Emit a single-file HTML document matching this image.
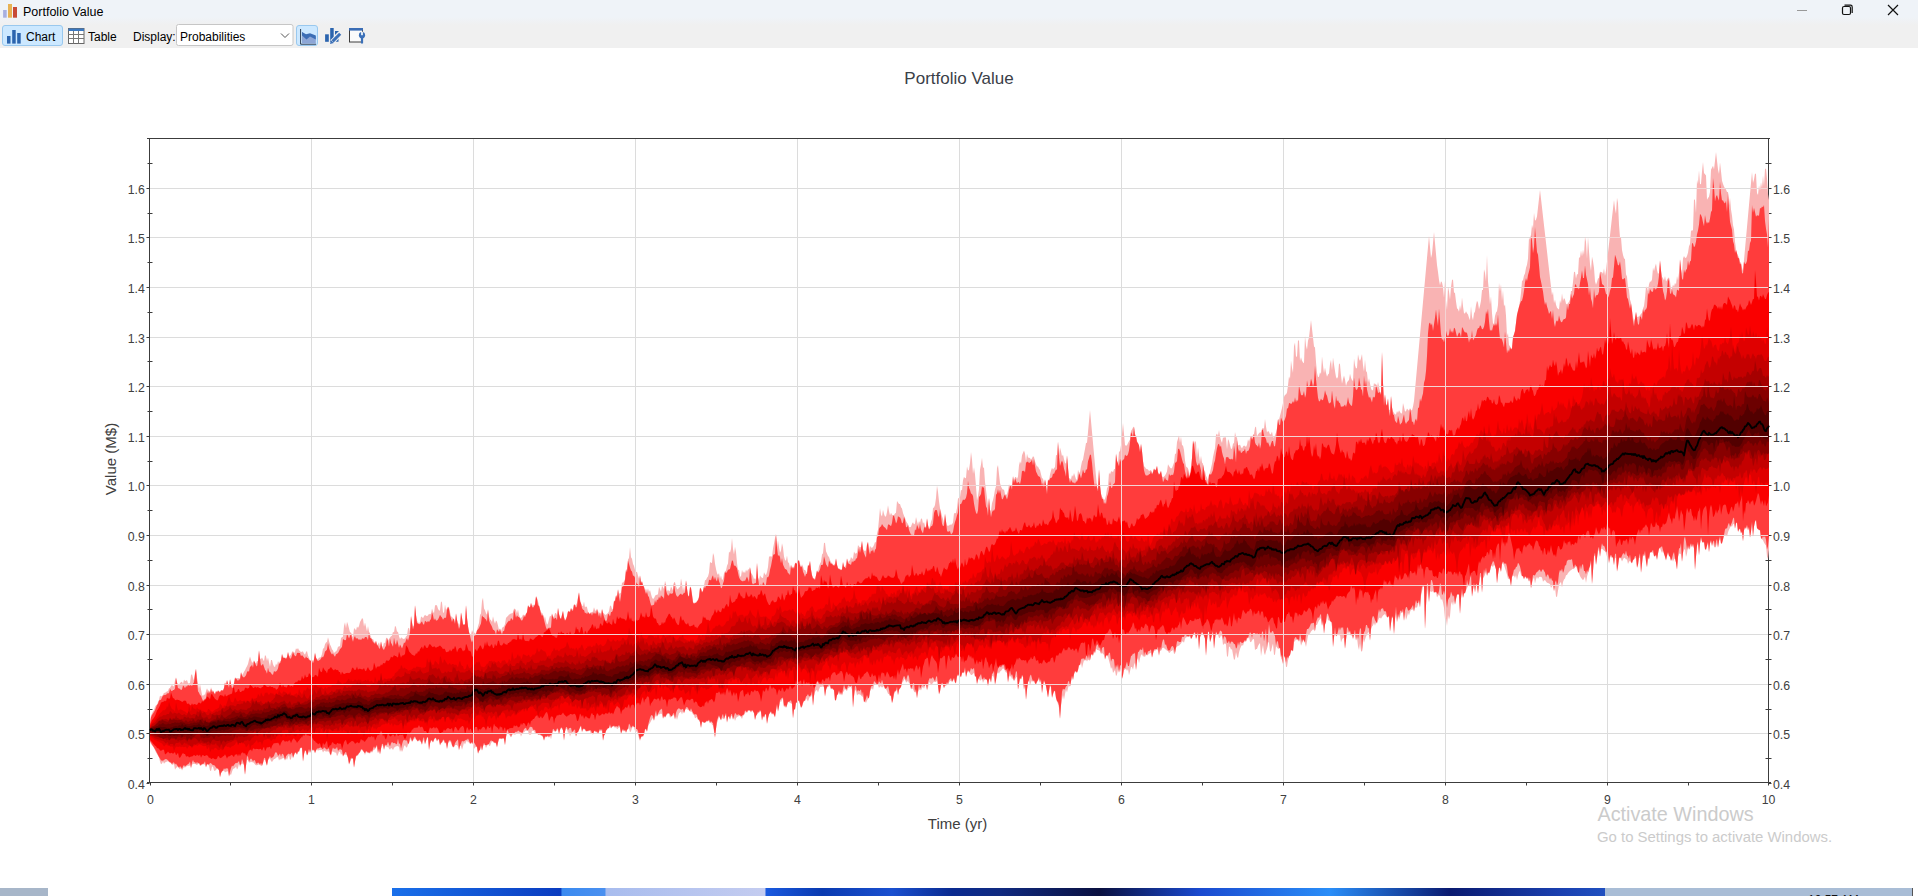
<!DOCTYPE html>
<html><head><meta charset="utf-8">
<style>
html,body{margin:0;padding:0;}
body{width:1918px;height:896px;overflow:hidden;position:relative;background:#fff;font-family:"Liberation Sans",sans-serif;}
.abs{position:absolute;}
#titlebar{left:0;top:0;width:1918px;height:48px;background:linear-gradient(to bottom,#eff3f8 0,#eff3f8 17px,#f0f0f0 25px,#f0f0f0 48px);}
#toolbar{display:none;}
.t12{font-size:12px;color:#000;white-space:nowrap;}
svg text{font-family:"Liberation Sans",sans-serif;}
</style></head>
<body>
<div id="titlebar" class="abs"></div>
<div id="toolbar" class="abs"></div>
<!-- title icon -->
<svg class="abs" style="left:0;top:0" width="24" height="22">
<rect x="3.1" y="10" width="3.6" height="7.7" fill="#a8b0e0"/>
<rect x="8" y="4" width="4" height="13.7" fill="#e8b254"/>
<rect x="13" y="7" width="4" height="10.7" fill="#c84a36"/>
</svg>
<div class="abs t12" style="left:23px;top:5px;font-size:12.5px;">Portfolio Value</div>
<!-- window controls -->
<svg class="abs" style="left:1780px;top:0" width="138" height="22">
<line x1="17" y1="10.5" x2="27" y2="10.5" stroke="#999" stroke-width="1"/>
<rect x="62.5" y="6.5" width="8" height="8" rx="1.5" fill="none" stroke="#111" stroke-width="1.2"/>
<path d="M64.5 5.2 H70.5 Q72.2 5.2 72.2 7 V13" fill="none" stroke="#111" stroke-width="1.2"/>
<path d="M108 5 L118 15 M118 5 L108 15" stroke="#111" stroke-width="1.2"/>
</svg>
<!-- toolbar -->
<div class="abs" style="left:2px;top:25px;width:59px;height:19px;background:#cce8ff;border:1px solid #99c8ee;border-radius:3px;"></div>
<svg class="abs" style="left:0;top:22px" width="380" height="26">
<rect x="7" y="14" width="3.5" height="7.6" fill="#2b64ae"/>
<rect x="12.2" y="8" width="3.5" height="13.6" fill="#2b64ae"/>
<rect x="17.2" y="11" width="3.5" height="10.6" fill="#2b64ae"/>
<rect x="68.5" y="6.5" width="15.5" height="15" fill="#fff" stroke="#666" stroke-width="1"/>
<rect x="68.5" y="6.5" width="15.5" height="2.5" fill="#3b78c0"/>
<path d="M68.5 12.5 H84 M68.5 16.5 H84 M73.5 9 V21.5 M78.5 9 V21.5" stroke="#777" stroke-width="1"/>
<!-- dropdown -->
<rect x="176.5" y="2.5" width="116.5" height="21" rx="2" fill="#fff" stroke="#c6c6c6" stroke-width="1"/>
<path d="M281 11.5 L285 15.5 L289 11.5" fill="none" stroke="#555" stroke-width="1"/>
<!-- selected icon button -->
<rect x="296.5" y="3.5" width="21" height="20" rx="2.5" fill="#cce8ff" stroke="#99c8ee" stroke-width="1"/>
<path d="M300.6 7 V22.2 H316" fill="none" stroke="#2b3b50" stroke-width="1"/>
<path d="M302 10.1 L307 14.3 L310.5 12 L315.8 14.5 V21.6 H302 Z" fill="#8da6d6"/>
<path d="M302 10.1 L306 12.3 L310 11.3 L315.8 13.5 V17.4 L310 14.5 L306.5 17.4 L302 13.5 Z" fill="#3b6db5"/>
<!-- bars+pencil -->
<rect x="325.1" y="12.3" width="3.7" height="7.5" fill="#2b64ae"/>
<rect x="330.2" y="6" width="3.5" height="13.8" fill="#2b64ae"/>
<path d="M335 9 H339 L335 13 Z" fill="#2b64ae"/>
<path d="M337 17.5 L338.5 16 V19.8 H335 Z" fill="#2b64ae"/>
<path d="M332 20 L340 12" stroke="#f0f0f0" stroke-width="5" stroke-linecap="butt"/>
<path d="M332.6 19.4 L340.2 11.8" stroke="#3b70b8" stroke-width="3" stroke-linecap="butt"/>
<path d="M330 22 L330.9 18.2 L333.8 21.1 Z" fill="#3b70b8"/>
<!-- window+wrench -->
<rect x="349.5" y="6.5" width="13" height="13.5" fill="#fbfbfb" stroke="#3c3c3c" stroke-width="1"/>
<rect x="349" y="6" width="14" height="2.6" fill="#3b6db5"/>
<circle cx="362" cy="13.2" r="3.1" fill="#3b70b8"/>
<rect x="361.1" y="9.6" width="1.8" height="3.6" fill="#eef4fb"/>
<rect x="360.9" y="15" width="2.2" height="6.6" rx="0.6" fill="#3b70b8"/>
</svg>
<div class="abs t12" style="left:26px;top:30px;font-size:12px;">Chart</div>
<div class="abs t12" style="left:88px;top:30px;font-size:12px;">Table</div>
<div class="abs t12" style="left:133px;top:30px;font-size:12px;">Display:</div>
<div class="abs t12" style="left:180px;top:30px;font-size:12px;">Probabilities</div>

<!-- chart -->
<svg class="abs" style="left:0;top:0" width="1918" height="896">
<text x="959" y="84" text-anchor="middle" font-size="17" fill="#3a4048">Portfolio Value</text>
<g stroke="#dcdcdc" stroke-width="1"><line x1="311.5" y1="138" x2="311.5" y2="782"/><line x1="473.5" y1="138" x2="473.5" y2="782"/><line x1="635.5" y1="138" x2="635.5" y2="782"/><line x1="797.5" y1="138" x2="797.5" y2="782"/><line x1="959.5" y1="138" x2="959.5" y2="782"/><line x1="1121.5" y1="138" x2="1121.5" y2="782"/><line x1="1283.5" y1="138" x2="1283.5" y2="782"/><line x1="1445.5" y1="138" x2="1445.5" y2="782"/><line x1="1607.5" y1="138" x2="1607.5" y2="782"/><line x1="149" y1="733.5" x2="1768" y2="733.5"/><line x1="149" y1="684.5" x2="1768" y2="684.5"/><line x1="149" y1="634.5" x2="1768" y2="634.5"/><line x1="149" y1="585.5" x2="1768" y2="585.5"/><line x1="149" y1="535.5" x2="1768" y2="535.5"/><line x1="149" y1="485.5" x2="1768" y2="485.5"/><line x1="149" y1="436.5" x2="1768" y2="436.5"/><line x1="149" y1="386.5" x2="1768" y2="386.5"/><line x1="149" y1="337.5" x2="1768" y2="337.5"/><line x1="149" y1="287.5" x2="1768" y2="287.5"/><line x1="149" y1="237.5" x2="1768" y2="237.5"/><line x1="149" y1="188.5" x2="1768" y2="188.5"/></g>
<g stroke="#3c3c3c" stroke-width="1" fill="none">
<line x1="147" y1="138.5" x2="1770" y2="138.5"/>
<line x1="149.5" y1="138" x2="149.5" y2="783"/>
<line x1="1768.5" y1="138" x2="1768.5" y2="783"/>
<line x1="147" y1="782.5" x2="1771" y2="782.5"/>
<line x1="146.5" y1="783.5" x2="149.5" y2="783.5"/><line x1="1768.5" y1="783.5" x2="1771.5" y2="783.5"/><line x1="146.5" y1="733.5" x2="149.5" y2="733.5"/><line x1="1768.5" y1="733.5" x2="1771.5" y2="733.5"/><line x1="146.5" y1="684.5" x2="149.5" y2="684.5"/><line x1="1768.5" y1="684.5" x2="1771.5" y2="684.5"/><line x1="146.5" y1="634.5" x2="149.5" y2="634.5"/><line x1="1768.5" y1="634.5" x2="1771.5" y2="634.5"/><line x1="146.5" y1="585.5" x2="149.5" y2="585.5"/><line x1="1768.5" y1="585.5" x2="1771.5" y2="585.5"/><line x1="146.5" y1="535.5" x2="149.5" y2="535.5"/><line x1="1768.5" y1="535.5" x2="1771.5" y2="535.5"/><line x1="146.5" y1="485.5" x2="149.5" y2="485.5"/><line x1="1768.5" y1="485.5" x2="1771.5" y2="485.5"/><line x1="146.5" y1="436.5" x2="149.5" y2="436.5"/><line x1="1768.5" y1="436.5" x2="1771.5" y2="436.5"/><line x1="146.5" y1="386.5" x2="149.5" y2="386.5"/><line x1="1768.5" y1="386.5" x2="1771.5" y2="386.5"/><line x1="146.5" y1="337.5" x2="149.5" y2="337.5"/><line x1="1768.5" y1="337.5" x2="1771.5" y2="337.5"/><line x1="146.5" y1="287.5" x2="149.5" y2="287.5"/><line x1="1768.5" y1="287.5" x2="1771.5" y2="287.5"/><line x1="146.5" y1="237.5" x2="149.5" y2="237.5"/><line x1="1768.5" y1="237.5" x2="1771.5" y2="237.5"/><line x1="146.5" y1="188.5" x2="149.5" y2="188.5"/><line x1="1768.5" y1="188.5" x2="1771.5" y2="188.5"/><line x1="147.5" y1="758.5" x2="152.5" y2="758.5"/><line x1="1765.5" y1="758.5" x2="1771.5" y2="758.5"/><line x1="147.5" y1="709.5" x2="152.5" y2="709.5"/><line x1="1765.5" y1="709.5" x2="1771.5" y2="709.5"/><line x1="147.5" y1="659.5" x2="152.5" y2="659.5"/><line x1="1765.5" y1="659.5" x2="1771.5" y2="659.5"/><line x1="147.5" y1="609.5" x2="152.5" y2="609.5"/><line x1="1765.5" y1="609.5" x2="1771.5" y2="609.5"/><line x1="147.5" y1="560.5" x2="152.5" y2="560.5"/><line x1="1765.5" y1="560.5" x2="1771.5" y2="560.5"/><line x1="147.5" y1="510.5" x2="152.5" y2="510.5"/><line x1="1765.5" y1="510.5" x2="1771.5" y2="510.5"/><line x1="147.5" y1="461.5" x2="152.5" y2="461.5"/><line x1="1765.5" y1="461.5" x2="1771.5" y2="461.5"/><line x1="147.5" y1="411.5" x2="152.5" y2="411.5"/><line x1="1765.5" y1="411.5" x2="1771.5" y2="411.5"/><line x1="147.5" y1="361.5" x2="152.5" y2="361.5"/><line x1="1765.5" y1="361.5" x2="1771.5" y2="361.5"/><line x1="147.5" y1="312.5" x2="152.5" y2="312.5"/><line x1="1765.5" y1="312.5" x2="1771.5" y2="312.5"/><line x1="147.5" y1="262.5" x2="152.5" y2="262.5"/><line x1="1765.5" y1="262.5" x2="1771.5" y2="262.5"/><line x1="147.5" y1="213.5" x2="152.5" y2="213.5"/><line x1="1765.5" y1="213.5" x2="1771.5" y2="213.5"/><line x1="147.5" y1="163.5" x2="152.5" y2="163.5"/><line x1="1765.5" y1="163.5" x2="1771.5" y2="163.5"/><line x1="150.5" y1="782" x2="150.5" y2="785.5"/><line x1="311.5" y1="782" x2="311.5" y2="785.5"/><line x1="473.5" y1="782" x2="473.5" y2="785.5"/><line x1="635.5" y1="782" x2="635.5" y2="785.5"/><line x1="797.5" y1="782" x2="797.5" y2="785.5"/><line x1="959.5" y1="782" x2="959.5" y2="785.5"/><line x1="1121.5" y1="782" x2="1121.5" y2="785.5"/><line x1="1283.5" y1="782" x2="1283.5" y2="785.5"/><line x1="1445.5" y1="782" x2="1445.5" y2="785.5"/><line x1="1607.5" y1="782" x2="1607.5" y2="785.5"/><line x1="1768.5" y1="782" x2="1768.5" y2="785.5"/><line x1="230.5" y1="782" x2="230.5" y2="785.5"/><line x1="392.5" y1="782" x2="392.5" y2="785.5"/><line x1="554.5" y1="782" x2="554.5" y2="785.5"/><line x1="716.5" y1="782" x2="716.5" y2="785.5"/><line x1="878.5" y1="782" x2="878.5" y2="785.5"/><line x1="1040.5" y1="782" x2="1040.5" y2="785.5"/><line x1="1202.5" y1="782" x2="1202.5" y2="785.5"/><line x1="1364.5" y1="782" x2="1364.5" y2="785.5"/><line x1="1526.5" y1="782" x2="1526.5" y2="785.5"/><line x1="1688.5" y1="782" x2="1688.5" y2="785.5"/>
</g>
<polygon id="pk" fill="#f9b3b3" points="150,720.9 151,715.5 152,713.6 153,711.2 154,709.9 155,706.7 156,705.3 157,704.4 158,701.9 159,700.0 160,695.4 161,696.4 162,696.0 163,695.0 164,692.7 165,693.1 166,691.9 167,691.6 168,690.9 169,688.3 170,688.1 171,685.9 172,685.0 173,685.9 174,686.5 175,679.9 176,677.2 177,682.3 178,683.8 179,684.5 180,683.3 181,682.1 182,681.7 183,683.9 184,679.4 185,681.1 186,680.8 187,680.1 188,683.2 189,683.5 190,682.8 191,675.0 192,674.3 193,678.1 194,680.6 195,673.3 196,668.4 197,677.6 198,683.5 199,688.7 200,684.1 201,689.6 202,694.7 203,696.0 204,694.6 205,694.7 206,691.0 207,688.3 208,690.5 209,690.5 210,692.7 211,687.0 212,690.7 213,690.3 214,692.2 215,693.9 216,690.7 217,691.8 218,690.1 219,691.0 220,691.8 221,690.0 222,689.9 223,690.1 224,687.7 225,682.1 226,685.2 227,679.7 228,683.3 229,686.3 230,678.7 231,683.8 232,685.4 233,685.0 234,683.1 235,677.3 236,678.1 237,677.9 238,678.2 239,678.1 240,678.4 241,671.8 242,675.1 243,673.9 244,671.8 245,670.3 246,668.1 247,666.2 248,664.0 249,659.8 250,656.4 251,659.8 252,662.8 253,662.2 254,660.3 255,662.2 256,663.6 257,660.9 258,660.9 259,649.8 260,658.4 261,659.1 262,657.6 263,659.5 264,661.2 265,655.0 266,656.2 267,660.9 268,657.6 269,662.3 270,666.9 271,659.9 272,659.9 273,664.2 274,666.6 275,666.9 276,663.6 277,665.3 278,661.0 279,662.9 280,661.3 281,660.1 282,653.6 283,656.3 284,657.5 285,657.3 286,658.2 287,656.7 288,651.6 289,655.8 290,655.8 291,654.4 292,651.9 293,651.1 294,653.5 295,651.7 296,648.3 297,649.5 298,648.1 299,650.3 300,651.1 301,652.3 302,651.4 303,651.6 304,653.5 305,654.8 306,652.0 307,651.1 308,655.6 309,657.9 310,659.9 311,660.4 312,659.4 313,662.9 314,658.9 315,652.3 316,657.2 317,659.2 318,659.3 319,657.4 320,657.8 321,656.7 322,654.0 323,648.5 324,648.3 325,644.2 326,642.6 327,642.1 328,637.2 329,641.1 330,644.6 331,646.5 332,649.3 333,650.5 334,653.3 335,651.7 336,651.4 337,650.0 338,646.7 339,646.5 340,645.9 341,637.9 342,637.3 343,636.4 344,626.0 345,622.2 346,628.2 347,621.7 348,624.6 349,628.6 350,632.2 351,632.6 352,635.4 353,637.2 354,628.3 355,628.8 356,630.4 357,626.5 358,628.0 359,626.1 360,622.0 361,620.3 362,618.2 363,618.7 364,626.8 365,622.5 366,626.7 367,631.6 368,626.0 369,631.5 370,634.6 371,636.9 372,638.9 373,639.0 374,641.2 375,642.8 376,640.4 377,644.7 378,644.1 379,642.3 380,646.2 381,641.0 382,646.3 383,646.5 384,642.5 385,643.6 386,638.3 387,637.4 388,640.7 389,638.9 390,637.5 391,636.2 392,635.7 393,631.8 394,632.5 395,625.7 396,627.1 397,631.7 398,631.8 399,636.2 400,639.3 401,637.4 402,637.8 403,639.1 404,638.8 405,638.4 406,636.4 407,635.4 408,628.4 409,627.8 410,632.1 411,615.3 412,622.3 413,626.7 414,624.9 415,604.6 416,614.7 417,620.6 418,622.6 419,622.7 420,622.4 421,616.4 422,617.1 423,618.2 424,616.3 425,614.7 426,615.7 427,615.9 428,615.5 429,613.8 430,614.6 431,613.4 432,608.6 433,611.5 434,613.3 435,605.4 436,605.0 437,605.5 438,608.7 439,610.6 440,610.4 441,601.3 442,602.5 443,612.4 444,612.8 445,604.4 446,610.1 447,608.2 448,606.4 449,607.3 450,611.9 451,616.5 452,616.7 453,618.3 454,618.6 455,623.3 456,612.8 457,619.4 458,624.1 459,623.0 460,625.6 461,612.0 462,617.5 463,623.9 464,624.5 465,623.7 466,604.6 467,617.3 468,625.8 469,631.6 470,634.9 471,634.8 472,629.9 473,632.3 474,632.3 475,633.5 476,633.4 477,630.0 478,626.3 479,623.0 480,615.0 481,613.4 482,601.1 483,597.7 484,608.5 485,610.3 486,613.2 487,614.8 488,609.1 489,616.6 490,619.3 491,620.3 492,622.1 493,616.3 494,620.7 495,623.8 496,620.4 497,621.7 498,625.4 499,629.9 500,628.2 501,631.7 502,628.1 503,627.1 504,626.5 505,623.9 506,617.9 507,616.7 508,616.1 509,614.4 510,614.3 511,613.2 512,613.5 513,612.5 514,608.6 515,609.1 516,610.0 517,613.4 518,609.6 519,614.7 520,617.7 521,617.7 522,617.1 523,614.6 524,614.9 525,615.5 526,613.5 527,612.0 528,604.8 529,606.5 530,607.0 531,602.5 532,606.0 533,604.4 534,605.6 535,603.9 536,595.8 537,598.1 538,601.2 539,605.1 540,608.8 541,612.6 542,612.8 543,614.2 544,619.2 545,616.2 546,621.0 547,624.7 548,623.3 549,619.0 550,615.7 551,616.5 552,613.3 553,616.6 554,616.7 555,613.3 556,613.0 557,615.3 558,607.5 559,613.6 560,617.2 561,618.7 562,614.4 563,610.4 564,616.8 565,620.2 566,618.6 567,615.8 568,611.0 569,610.8 570,611.7 571,607.7 572,609.6 573,609.1 574,603.9 575,604.7 576,605.0 577,602.8 578,597.3 579,591.8 580,599.1 581,603.0 582,605.6 583,606.3 584,601.6 585,607.4 586,606.2 587,607.3 588,611.4 589,613.0 590,613.6 591,611.9 592,612.4 593,611.3 594,607.3 595,610.2 596,610.9 597,608.5 598,611.1 599,613.1 600,612.2 601,614.0 602,608.6 603,612.6 604,613.5 605,614.7 606,614.8 607,613.7 608,613.1 609,611.2 610,605.8 611,605.8 612,609.0 613,608.8 614,600.3 615,600.7 616,594.9 617,596.0 618,588.8 619,593.5 620,593.5 621,592.4 622,582.6 623,582.7 624,581.2 625,578.9 626,569.3 627,569.8 628,559.6 629,558.0 630,547.0 631,557.3 632,558.7 633,564.0 634,566.0 635,569.9 636,572.0 637,571.8 638,575.8 639,578.8 640,575.0 641,582.1 642,581.0 643,584.8 644,586.5 645,590.4 646,588.6 647,591.2 648,588.2 649,592.1 650,590.1 651,594.0 652,597.5 653,598.9 654,598.2 655,595.9 656,594.8 657,595.0 658,594.1 659,586.7 660,589.1 661,591.7 662,585.7 663,587.3 664,588.9 665,580.8 666,584.3 667,591.4 668,589.5 669,591.6 670,590.6 671,586.5 672,588.3 673,590.7 674,582.2 675,582.3 676,586.2 677,588.8 678,589.4 679,587.2 680,587.4 681,578.3 682,583.7 683,591.1 684,585.7 685,591.4 686,579.7 687,588.2 688,595.0 689,596.2 690,586.5 691,587.4 692,594.3 693,601.9 694,603.2 695,602.3 696,602.3 697,600.9 698,599.6 699,595.9 700,587.5 701,588.2 702,591.8 703,590.5 704,585.8 705,580.2 706,580.1 707,577.7 708,576.5 709,572.8 710,561.9 711,562.7 712,563.1 713,553.0 714,555.8 715,563.8 716,569.1 717,573.2 718,574.9 719,572.9 720,578.8 721,575.5 722,580.1 723,578.9 724,573.2 725,571.3 726,570.6 727,565.8 728,563.5 729,551.6 730,552.8 731,549.0 732,538.0 733,549.0 734,554.5 735,546.8 736,552.0 737,563.0 738,570.3 739,569.5 740,576.4 741,576.4 742,569.7 743,572.9 744,571.2 745,573.2 746,569.6 747,571.8 748,569.2 749,569.6 750,566.8 751,572.6 752,574.3 753,576.1 754,579.2 755,578.1 756,580.0 757,562.4 758,576.9 759,580.8 760,575.2 761,576.9 762,577.8 763,578.0 764,572.2 765,574.2 766,574.9 767,572.1 768,567.0 769,556.7 770,556.2 771,556.5 772,556.5 773,548.6 774,543.5 775,538.0 776,533.8 777,547.2 778,540.5 779,547.3 780,552.8 781,550.6 782,543.2 783,547.5 784,556.6 785,559.9 786,560.7 787,555.5 788,562.4 789,562.7 790,568.2 791,564.5 792,568.5 793,566.1 794,568.4 795,562.9 796,562.4 797,563.4 798,560.4 799,559.8 800,563.5 801,566.9 802,564.2 803,566.6 804,570.1 805,569.7 806,571.5 807,573.3 808,564.5 809,565.7 810,560.5 811,569.2 812,574.8 813,577.8 814,578.1 815,578.9 816,574.9 817,570.0 818,572.2 819,566.3 820,563.8 821,561.7 822,554.5 823,553.3 824,543.0 825,542.7 826,551.3 827,553.6 828,556.1 829,557.0 830,559.9 831,562.3 832,563.0 833,564.9 834,564.4 835,563.4 836,558.0 837,564.3 838,567.9 839,568.4 840,568.8 841,569.7 842,569.0 843,561.6 844,566.3 845,566.7 846,564.3 847,558.0 848,562.4 849,560.8 850,560.4 851,557.0 852,558.4 853,558.8 854,551.5 855,553.5 856,553.4 857,552.4 858,544.9 859,546.6 860,547.2 861,546.9 862,540.4 863,548.9 864,550.3 865,551.3 866,550.0 867,544.3 868,541.5 869,550.7 870,545.7 871,547.5 872,547.7 873,547.1 874,545.1 875,542.1 876,542.4 877,533.4 878,529.8 879,519.0 880,508.0 881,514.8 882,516.6 883,509.8 884,513.9 885,516.4 886,516.6 887,512.1 888,505.2 889,511.1 890,515.6 891,512.8 892,514.8 893,515.3 894,514.9 895,513.5 896,512.7 897,500.9 898,502.6 899,503.9 900,504.1 901,507.3 902,508.4 903,513.0 904,515.8 905,517.8 906,521.0 907,522.8 908,523.9 909,527.0 910,527.2 911,526.7 912,523.8 913,522.3 914,524.4 915,523.4 916,516.9 917,521.3 918,524.4 919,521.0 920,523.0 921,518.4 922,518.7 923,523.8 924,522.1 925,525.9 926,528.0 927,517.8 928,524.8 929,528.8 930,525.9 931,521.7 932,518.9 933,507.9 934,507.6 935,505.1 936,498.0 937,485.5 938,492.0 939,501.2 940,508.3 941,512.0 942,516.0 943,518.9 944,523.6 945,513.3 946,521.2 947,525.4 948,525.8 949,525.5 950,524.6 951,524.7 952,524.2 953,522.5 954,513.3 955,513.2 956,513.1 957,507.9 958,498.4 959,498.0 960,497.3 961,489.7 962,490.5 963,480.2 964,476.7 965,478.2 966,478.1 967,466.3 968,470.7 969,469.8 970,463.0 971,452.0 972,459.4 973,474.0 974,467.2 975,474.4 976,486.5 977,500.4 978,495.9 979,489.3 980,469.7 981,464.6 982,457.8 983,467.8 984,467.6 985,481.9 986,490.1 987,497.8 988,505.7 989,497.4 990,510.0 991,510.7 992,503.2 993,500.0 994,495.4 995,489.6 996,486.3 997,468.0 998,465.0 999,474.0 1000,483.0 1001,486.5 1002,488.6 1003,489.8 1004,489.5 1005,494.0 1006,494.9 1007,494.1 1008,490.4 1009,484.2 1010,485.9 1011,485.2 1012,486.2 1013,475.7 1014,482.6 1015,476.9 1016,477.1 1017,478.9 1018,476.5 1019,465.3 1020,461.2 1021,463.7 1022,455.3 1023,452.8 1024,450.6 1025,453.4 1026,462.1 1027,453.8 1028,457.5 1029,457.8 1030,458.1 1031,459.8 1032,458.3 1033,456.2 1034,456.9 1035,461.2 1036,464.2 1037,466.5 1038,466.4 1039,468.7 1040,470.0 1041,474.3 1042,478.2 1043,478.4 1044,483.0 1045,478.9 1046,484.5 1047,491.9 1048,479.1 1049,480.4 1050,474.5 1051,470.4 1052,467.8 1053,469.6 1054,468.2 1055,467.0 1056,455.0 1057,455.2 1058,441.1 1059,455.8 1060,447.4 1061,451.2 1062,456.3 1063,454.4 1064,459.2 1065,462.7 1066,463.7 1067,455.0 1068,467.3 1069,477.9 1070,478.5 1071,479.2 1072,475.1 1073,476.7 1074,472.9 1075,476.1 1076,479.2 1077,479.7 1078,469.8 1079,472.8 1080,472.3 1081,466.2 1082,461.4 1083,459.8 1084,454.0 1085,449.1 1086,442.9 1087,442.8 1088,432.0 1089,421.0 1090,410.0 1091,421.0 1092,432.0 1093,443.0 1094,454.0 1095,465.0 1096,476.0 1097,486.6 1098,489.5 1099,468.7 1100,485.0 1101,493.5 1102,496.8 1103,498.1 1104,500.3 1105,498.7 1106,495.2 1107,488.3 1108,486.5 1109,472.6 1110,474.4 1111,471.4 1112,471.2 1113,472.2 1114,469.2 1115,468.9 1116,453.1 1117,460.3 1118,462.8 1119,451.7 1120,451.2 1121,445.0 1122,434.0 1123,423.0 1124,434.0 1125,445.0 1126,445.7 1127,445.3 1128,443.1 1129,441.3 1130,439.5 1131,431.1 1132,429.4 1133,427.4 1134,426.4 1135,434.1 1136,435.6 1137,441.1 1138,442.7 1139,445.0 1140,451.6 1141,443.3 1142,450.6 1143,460.6 1144,466.2 1145,467.1 1146,468.7 1147,468.9 1148,469.4 1149,471.0 1150,470.5 1151,470.0 1152,474.0 1153,471.7 1154,468.1 1155,469.9 1156,469.1 1157,465.4 1158,471.8 1159,474.2 1160,473.0 1161,470.4 1162,476.1 1163,477.2 1164,476.4 1165,475.6 1166,473.7 1167,471.6 1168,464.2 1169,465.9 1170,467.6 1171,468.6 1172,467.9 1173,465.3 1174,462.4 1175,453.7 1176,453.8 1177,442.1 1178,438.8 1179,435.4 1180,443.1 1181,436.5 1182,445.3 1183,445.6 1184,450.1 1185,460.6 1186,466.5 1187,467.3 1188,468.2 1189,476.7 1190,471.3 1191,467.2 1192,457.6 1193,440.1 1194,444.2 1195,440.8 1196,442.6 1197,457.4 1198,447.0 1199,455.2 1200,462.3 1201,455.8 1202,462.4 1203,463.8 1204,469.7 1205,471.3 1206,475.7 1207,477.8 1208,480.7 1209,474.5 1210,472.5 1211,468.1 1212,463.7 1213,457.0 1214,452.3 1215,448.3 1216,435.1 1217,433.4 1218,436.1 1219,430.0 1220,436.4 1221,440.4 1222,442.9 1223,437.3 1224,437.9 1225,436.8 1226,438.1 1227,449.6 1228,439.0 1229,441.0 1230,445.1 1231,449.0 1232,448.6 1233,443.8 1234,443.0 1235,432.0 1236,437.0 1237,437.5 1238,445.3 1239,445.3 1240,444.4 1241,446.9 1242,448.6 1243,446.6 1244,445.5 1245,446.0 1246,447.1 1247,444.8 1248,439.2 1249,441.7 1250,438.3 1251,435.5 1252,439.3 1253,434.7 1254,434.0 1255,427.6 1256,426.6 1257,436.5 1258,434.5 1259,433.2 1260,432.3 1261,432.4 1262,428.8 1263,427.9 1264,428.7 1265,419.1 1266,426.5 1267,432.5 1268,430.9 1269,431.7 1270,434.5 1271,433.9 1272,431.6 1273,437.3 1274,437.6 1275,435.2 1276,432.6 1277,428.0 1278,418.7 1279,420.0 1280,415.7 1281,411.9 1282,408.0 1283,402.9 1284,396.9 1285,394.7 1286,394.6 1287,392.4 1288,385.5 1289,376.3 1290,379.1 1291,360.4 1292,367.8 1293,373.1 1294,346.3 1295,342.5 1296,356.5 1297,356.7 1298,340.2 1299,340.7 1300,360.9 1301,357.2 1302,360.7 1303,362.4 1304,363.3 1305,335.9 1306,345.8 1307,349.8 1308,340.8 1309,337.6 1310,328.8 1311,320.0 1312,328.8 1313,337.6 1314,346.4 1315,347.4 1316,361.9 1317,372.8 1318,376.9 1319,376.7 1320,372.3 1321,374.0 1322,356.2 1323,365.3 1324,373.2 1325,367.4 1326,372.8 1327,376.7 1328,374.6 1329,373.5 1330,363.9 1331,359.8 1332,370.5 1333,357.4 1334,364.3 1335,371.0 1336,376.9 1337,378.7 1338,376.8 1339,363.3 1340,364.6 1341,375.6 1342,383.8 1343,378.9 1344,375.5 1345,379.6 1346,386.0 1347,382.6 1348,380.9 1349,380.0 1350,373.7 1351,377.8 1352,380.1 1353,380.9 1354,358.5 1355,365.2 1356,368.5 1357,368.0 1358,354.2 1359,359.0 1360,360.9 1361,358.2 1362,354.1 1363,365.3 1364,371.8 1365,359.5 1366,370.9 1367,372.4 1368,382.6 1369,378.3 1370,383.4 1371,388.3 1372,390.6 1373,390.1 1374,382.7 1375,384.7 1376,383.5 1377,387.9 1378,381.7 1379,386.9 1380,391.2 1381,394.4 1382,351.4 1383,382.4 1384,398.9 1385,393.9 1386,403.6 1387,405.2 1388,398.0 1389,410.1 1390,409.5 1391,395.5 1392,406.9 1393,411.3 1394,412.9 1395,414.2 1396,414.6 1397,411.1 1398,412.9 1399,410.2 1400,412.1 1401,413.6 1402,413.2 1403,402.9 1404,406.9 1405,411.6 1406,411.3 1407,408.4 1408,409.8 1409,410.7 1410,408.1 1411,410.0 1412,410.5 1413,406.4 1414,401.0 1415,390.0 1416,379.0 1417,368.0 1418,357.0 1419,346.0 1420,335.0 1421,324.0 1422,313.0 1423,302.0 1424,291.0 1425,280.0 1426,269.0 1427,258.0 1428,247.0 1429,236.0 1430,247.0 1431,258.0 1432,254.0 1433,243.0 1434,232.0 1435,243.0 1436,254.0 1437,265.0 1438,272.0 1439,280.0 1440,285.2 1441,281.2 1442,282.6 1443,287.1 1444,297.8 1445,280.8 1446,300.3 1447,310.1 1448,286.4 1449,291.4 1450,299.8 1451,287.3 1452,279.9 1453,279.4 1454,292.5 1455,293.0 1456,301.5 1457,308.3 1458,309.3 1459,311.8 1460,305.0 1461,310.2 1462,297.5 1463,306.3 1464,313.3 1465,313.6 1466,311.3 1467,313.3 1468,314.5 1469,317.7 1470,320.3 1471,306.1 1472,316.7 1473,320.3 1474,313.3 1475,311.4 1476,305.0 1477,300.8 1478,302.7 1479,309.2 1480,305.8 1481,300.8 1482,289.9 1483,289.9 1484,269.3 1485,273.1 1486,281.4 1487,255.0 1488,281.5 1489,291.5 1490,304.5 1491,296.2 1492,313.3 1493,323.8 1494,323.5 1495,316.0 1496,312.4 1497,311.2 1498,305.1 1499,282.8 1500,291.5 1501,284.3 1502,301.0 1503,289.9 1504,306.5 1505,304.2 1506,315.8 1507,335.9 1508,333.1 1509,344.9 1510,346.3 1511,348.8 1512,347.9 1513,336.9 1514,334.0 1515,330.5 1516,322.5 1517,314.5 1518,310.3 1519,306.4 1520,300.7 1521,293.1 1522,280.9 1523,280.3 1524,275.5 1525,273.4 1526,267.7 1527,264.8 1528,258.5 1529,237.4 1530,239.7 1531,234.6 1532,224.8 1533,228.5 1534,212.7 1535,220.8 1536,219.7 1537,216.4 1538,207.6 1539,198.8 1540,190.0 1541,198.8 1542,207.6 1543,216.4 1544,225.2 1545,234.0 1546,242.8 1547,251.6 1548,260.4 1549,269.2 1550,278.0 1551,286.8 1552,295.6 1553,291.6 1554,303.3 1555,299.4 1556,304.8 1557,307.7 1558,308.7 1559,309.4 1560,300.0 1561,303.5 1562,293.2 1563,301.0 1564,298.1 1565,299.5 1566,303.8 1567,304.2 1568,303.2 1569,301.7 1570,299.6 1571,291.1 1572,290.9 1573,282.0 1574,271.9 1575,271.7 1576,278.7 1577,274.1 1578,274.6 1579,257.0 1580,257.9 1581,250.5 1582,256.6 1583,249.7 1584,255.1 1585,236.7 1586,242.1 1587,259.0 1588,237.1 1589,251.5 1590,264.0 1591,270.9 1592,256.5 1593,261.3 1594,268.1 1595,281.2 1596,284.8 1597,281.9 1598,278.5 1599,278.0 1600,271.6 1601,272.2 1602,272.1 1603,274.1 1604,268.2 1605,275.9 1606,270.4 1607,261.6 1608,252.8 1609,244.0 1610,235.2 1611,226.4 1612,217.6 1613,208.8 1614,200.0 1615,208.8 1616,213.8 1617,197.8 1618,203.2 1619,224.8 1620,237.6 1621,237.5 1622,250.0 1623,254.9 1624,258.2 1625,259.3 1626,274.3 1627,276.8 1628,287.5 1629,289.7 1630,299.4 1631,302.6 1632,310.3 1633,316.9 1634,320.9 1635,318.2 1636,311.5 1637,316.9 1638,316.7 1639,316.4 1640,315.3 1641,313.8 1642,313.0 1643,308.5 1644,305.9 1645,297.9 1646,286.7 1647,287.0 1648,291.7 1649,284.2 1650,281.6 1651,281.8 1652,279.5 1653,267.5 1654,271.3 1655,266.7 1656,263.5 1657,270.0 1658,274.1 1659,272.8 1660,259.8 1661,270.1 1662,276.8 1663,278.3 1664,280.6 1665,275.9 1666,281.6 1667,280.0 1668,277.9 1669,277.5 1670,281.2 1671,289.1 1672,288.6 1673,284.6 1674,286.8 1675,282.7 1676,284.8 1677,275.9 1678,280.4 1679,272.5 1680,258.7 1681,268.6 1682,273.7 1683,258.6 1684,256.0 1685,257.8 1686,257.9 1687,255.9 1688,252.8 1689,246.3 1690,244.1 1691,230.6 1692,230.7 1693,229.9 1694,199.0 1695,200.3 1696,213.3 1697,179.8 1698,184.2 1699,170.3 1700,184.2 1701,184.0 1702,171.4 1703,162.0 1704,173.0 1705,174.2 1706,175.4 1707,199.8 1708,197.9 1709,196.7 1710,191.9 1711,169.7 1712,167.7 1713,165.7 1714,169.6 1715,160.8 1716,152.0 1717,160.8 1718,169.5 1719,174.0 1720,162.2 1721,171.3 1722,180.7 1723,184.0 1724,186.6 1725,188.4 1726,189.6 1727,191.9 1728,192.1 1729,205.4 1730,197.7 1731,209.5 1732,215.7 1733,225.0 1734,229.6 1735,241.6 1736,249.3 1737,253.0 1738,255.4 1739,257.4 1740,262.3 1741,262.6 1742,267.8 1743,271.0 1744,260.0 1745,249.0 1746,238.0 1747,227.0 1748,216.0 1749,205.0 1750,194.0 1751,183.0 1752,172.0 1753,183.0 1754,179.4 1755,173.5 1756,174.1 1757,193.0 1758,195.1 1759,185.2 1760,190.7 1761,182.3 1762,187.9 1763,175.5 1764,186.2 1765,169.1 1766,168.5 1767,178.8 1768,194.1 1769,199.9 1769,549.8 1768,559.1 1767,556.4 1766,545.6 1765,544.2 1764,542.6 1763,540.3 1762,539.2 1761,538.8 1760,530.6 1759,530.6 1758,529.3 1757,528.8 1756,520.4 1755,522.1 1754,527.0 1753,536.9 1752,522.4 1751,532.1 1750,538.1 1749,527.4 1748,530.8 1747,525.3 1746,529.4 1745,527.5 1744,530.8 1743,541.8 1742,531.8 1741,533.8 1740,529.2 1739,529.8 1738,532.3 1737,523.0 1736,523.5 1735,529.0 1734,523.7 1733,524.2 1732,526.7 1731,526.0 1730,527.7 1729,529.7 1728,532.2 1727,536.4 1726,535.3 1725,534.5 1724,535.7 1723,539.9 1722,543.7 1721,544.1 1720,537.1 1719,541.4 1718,548.0 1717,542.4 1716,546.6 1715,547.8 1714,546.4 1713,542.0 1712,546.4 1711,540.8 1710,543.9 1709,552.7 1708,542.6 1707,546.0 1706,550.2 1705,549.6 1704,542.2 1703,543.0 1702,542.0 1701,537.6 1700,544.0 1699,555.8 1698,542.0 1697,546.0 1696,557.2 1695,570.7 1694,548.8 1693,544.2 1692,547.7 1691,545.4 1690,548.7 1689,549.7 1688,546.7 1687,553.4 1686,557.1 1685,548.9 1684,549.9 1683,552.9 1682,562.3 1681,554.5 1680,553.4 1679,553.8 1678,557.3 1677,570.1 1676,563.0 1675,558.8 1674,559.0 1673,561.8 1672,558.8 1671,561.3 1670,557.1 1669,556.4 1668,552.6 1667,556.2 1666,560.7 1665,557.1 1664,554.1 1663,550.7 1662,553.1 1661,550.7 1660,548.1 1659,549.2 1658,553.9 1657,560.3 1656,555.1 1655,556.8 1654,556.3 1653,553.1 1652,552.2 1651,552.8 1650,552.8 1649,560.0 1648,557.5 1647,567.5 1646,561.9 1645,554.8 1644,556.6 1643,555.4 1642,564.1 1641,573.4 1640,558.2 1639,557.4 1638,565.2 1637,568.2 1636,558.0 1635,558.4 1634,559.5 1633,560.5 1632,563.6 1631,562.5 1630,560.7 1629,561.8 1628,563.9 1627,559.3 1626,559.6 1625,558.1 1624,557.8 1623,559.5 1622,561.4 1621,558.9 1620,557.5 1619,558.9 1618,566.5 1617,571.9 1616,557.4 1615,558.4 1614,565.6 1613,558.5 1612,557.4 1611,557.5 1610,556.9 1609,563.7 1608,555.8 1607,556.8 1606,553.1 1605,551.3 1604,550.8 1603,549.5 1602,548.7 1601,549.2 1600,557.4 1599,549.7 1598,551.5 1597,558.5 1596,565.4 1595,555.8 1594,556.5 1593,571.6 1592,584.6 1591,560.5 1590,566.6 1589,571.0 1588,573.1 1587,576.8 1586,583.0 1585,576.4 1584,578.8 1583,580.2 1582,579.0 1581,577.8 1580,576.1 1579,573.3 1578,572.3 1577,568.7 1576,566.5 1575,567.2 1574,569.1 1573,568.8 1572,569.3 1571,570.3 1570,570.8 1569,572.1 1568,572.9 1567,575.1 1566,575.2 1565,578.4 1564,579.5 1563,582.0 1562,587.4 1561,581.9 1560,583.1 1559,585.1 1558,590.5 1557,597.0 1556,596.5 1555,587.0 1554,591.5 1553,585.5 1552,586.3 1551,587.9 1550,583.9 1549,583.4 1548,583.0 1547,582.8 1546,581.6 1545,579.9 1544,580.5 1543,581.7 1542,577.6 1541,577.0 1540,576.7 1539,577.0 1538,578.9 1537,576.7 1536,579.3 1535,583.5 1534,577.2 1533,579.5 1532,583.3 1531,588.7 1530,579.9 1529,582.0 1528,577.7 1527,579.3 1526,577.7 1525,576.9 1524,579.6 1523,576.5 1522,576.5 1521,574.7 1520,570.8 1519,572.2 1518,575.5 1517,580.2 1516,574.9 1515,577.9 1514,575.4 1513,576.0 1512,577.0 1511,586.6 1510,580.0 1509,578.6 1508,578.9 1507,574.7 1506,571.2 1505,568.2 1504,565.3 1503,563.4 1502,563.9 1501,572.4 1500,568.0 1499,568.4 1498,574.9 1497,583.8 1496,569.8 1495,566.3 1494,564.7 1493,567.0 1492,566.0 1491,566.3 1490,571.2 1489,573.8 1488,572.5 1487,576.3 1486,570.5 1485,574.7 1484,576.8 1483,578.5 1482,593.3 1481,576.1 1480,578.0 1479,584.3 1478,594.2 1477,585.6 1476,584.1 1475,592.8 1474,583.0 1473,590.1 1472,597.2 1471,584.3 1470,586.7 1469,585.1 1468,586.3 1467,587.9 1466,590.6 1465,593.7 1464,593.7 1463,598.3 1462,592.2 1461,598.8 1460,614.7 1459,595.2 1458,594.5 1457,595.3 1456,599.3 1455,605.1 1454,600.2 1453,605.8 1452,601.4 1451,604.6 1450,616.1 1449,619.5 1448,615.0 1447,626.0 1446,618.6 1445,619.2 1444,607.9 1443,602.5 1442,598.8 1441,600.3 1440,596.5 1439,594.7 1438,595.8 1437,597.4 1436,592.6 1435,592.5 1434,592.9 1433,591.3 1432,591.5 1431,592.0 1430,590.9 1429,602.5 1428,595.0 1427,588.7 1426,606.1 1425,629.9 1424,586.9 1423,586.8 1422,591.4 1421,596.1 1420,607.8 1419,600.4 1418,604.8 1417,607.7 1416,607.3 1415,607.7 1414,611.8 1413,608.9 1412,610.1 1411,609.6 1410,611.9 1409,615.4 1408,612.8 1407,616.9 1406,619.9 1405,612.4 1404,621.4 1403,611.4 1402,613.2 1401,612.5 1400,616.8 1399,619.9 1398,614.6 1397,622.6 1396,612.5 1395,619.6 1394,634.8 1393,618.8 1392,616.6 1391,623.8 1390,632.0 1389,616.1 1388,617.8 1387,617.3 1386,615.9 1385,614.1 1384,614.7 1383,615.6 1382,617.0 1381,618.8 1380,617.5 1379,618.2 1378,620.7 1377,623.8 1376,622.4 1375,625.8 1374,622.8 1373,625.4 1372,626.6 1371,629.8 1370,641.0 1369,632.3 1368,632.5 1367,634.4 1366,636.5 1365,639.6 1364,642.8 1363,638.7 1362,652.0 1361,650.7 1360,643.3 1359,650.0 1358,646.2 1357,637.6 1356,640.8 1355,633.8 1354,634.5 1353,639.3 1352,634.0 1351,636.2 1350,630.9 1349,634.4 1348,631.6 1347,634.3 1346,640.0 1345,649.3 1344,638.2 1343,637.9 1342,639.6 1341,642.4 1340,635.1 1339,635.6 1338,634.5 1337,635.6 1336,636.6 1335,632.9 1334,637.5 1333,647.6 1332,627.0 1331,622.3 1330,621.2 1329,620.2 1328,620.4 1327,614.2 1326,622.7 1325,624.9 1324,634.4 1323,620.4 1322,626.3 1321,618.1 1320,619.3 1319,620.5 1318,622.5 1317,624.9 1316,625.0 1315,631.4 1314,629.9 1313,629.3 1312,630.4 1311,631.6 1310,633.5 1309,634.3 1308,635.6 1307,641.4 1306,646.9 1305,643.1 1304,641.0 1303,639.7 1302,643.3 1301,645.8 1300,639.9 1299,641.7 1298,640.2 1297,640.0 1296,639.4 1295,641.1 1294,642.1 1293,651.8 1292,650.6 1291,650.8 1290,655.6 1289,656.5 1288,660.4 1287,666.7 1286,667.0 1285,658.2 1284,657.0 1283,664.3 1282,659.9 1281,658.2 1280,648.2 1279,648.8 1278,648.7 1277,647.6 1276,646.3 1275,654.6 1274,655.0 1273,643.4 1272,647.1 1271,651.5 1270,651.3 1269,642.8 1268,642.1 1267,648.8 1266,651.3 1265,655.3 1264,652.4 1263,645.0 1262,649.9 1261,656.3 1260,643.1 1259,644.2 1258,646.1 1257,648.9 1256,649.1 1255,650.3 1254,639.3 1253,639.1 1252,640.5 1251,642.3 1250,641.8 1249,636.8 1248,638.8 1247,637.9 1246,642.0 1245,641.0 1244,642.5 1243,645.7 1242,644.9 1241,646.6 1240,649.1 1239,652.4 1238,658.2 1237,656.4 1236,652.0 1235,659.1 1234,660.1 1233,654.8 1232,649.0 1231,649.8 1230,646.9 1229,646.6 1228,656.2 1227,656.7 1226,644.6 1225,643.3 1224,643.9 1223,645.1 1222,636.8 1221,635.1 1220,637.7 1219,638.1 1218,634.6 1217,634.6 1216,631.9 1215,639.3 1214,649.4 1213,631.7 1212,635.2 1211,639.4 1210,642.5 1209,632.0 1208,632.5 1207,640.8 1206,656.4 1205,639.1 1204,636.1 1203,634.2 1202,632.0 1201,634.9 1200,637.7 1199,650.2 1198,632.7 1197,636.5 1196,639.3 1195,634.0 1194,633.3 1193,635.3 1192,638.1 1191,639.3 1190,635.4 1189,637.3 1188,636.4 1187,637.2 1186,637.2 1185,638.8 1184,642.8 1183,641.5 1182,641.5 1181,643.5 1180,644.6 1179,645.7 1178,645.8 1177,646.8 1176,648.1 1175,653.7 1174,653.8 1173,649.5 1172,651.0 1171,651.0 1170,652.6 1169,653.0 1168,651.0 1167,650.8 1166,649.6 1165,649.2 1164,647.7 1163,647.7 1162,648.2 1161,651.0 1160,650.6 1159,655.9 1158,650.5 1157,649.6 1156,649.8 1155,650.9 1154,650.4 1153,653.9 1152,658.0 1151,652.4 1150,653.6 1149,653.4 1148,655.0 1147,655.5 1146,654.8 1145,657.1 1144,656.3 1143,656.6 1142,654.3 1141,655.0 1140,658.2 1139,663.3 1138,657.9 1137,660.4 1136,670.7 1135,662.4 1134,665.0 1133,669.7 1132,667.1 1131,667.1 1130,671.3 1129,675.2 1128,669.1 1127,670.9 1126,668.8 1125,669.4 1124,670.1 1123,675.7 1122,679.1 1121,672.1 1120,668.6 1119,673.0 1118,669.0 1117,674.4 1116,676.2 1115,670.1 1114,671.6 1113,672.9 1112,667.1 1111,668.9 1110,664.3 1109,660.6 1108,656.7 1107,656.0 1106,656.3 1105,659.8 1104,655.0 1103,653.8 1102,653.1 1101,653.9 1100,651.1 1099,650.4 1098,649.9 1097,649.9 1096,648.4 1095,653.7 1094,651.1 1093,656.2 1092,654.4 1091,655.6 1090,660.6 1089,660.2 1088,659.6 1087,661.5 1086,659.7 1085,660.7 1084,660.3 1083,664.1 1082,668.2 1081,662.2 1080,665.5 1079,665.4 1078,670.5 1077,673.0 1076,672.2 1075,671.5 1074,674.5 1073,680.4 1072,676.1 1071,681.8 1070,687.0 1069,685.0 1068,687.9 1067,692.6 1066,689.4 1065,694.1 1064,699.7 1063,695.1 1062,699.6 1061,705.8 1060,719.4 1059,708.0 1058,703.9 1057,701.5 1056,698.4 1055,691.4 1054,691.6 1053,694.7 1052,698.2 1051,687.6 1050,685.3 1049,691.3 1048,698.0 1047,692.0 1046,686.3 1045,683.7 1044,680.8 1043,685.6 1042,693.7 1041,679.6 1040,683.2 1039,678.6 1038,680.7 1037,682.2 1036,684.6 1035,683.8 1034,680.5 1033,682.0 1032,680.2 1031,682.2 1030,685.3 1029,680.6 1028,682.5 1027,689.9 1026,700.4 1025,683.8 1024,690.2 1023,676.9 1022,676.7 1021,679.9 1020,678.3 1019,684.1 1018,690.1 1017,677.1 1016,677.5 1015,679.5 1014,681.3 1013,678.2 1012,679.0 1011,676.3 1010,676.5 1009,676.2 1008,682.9 1007,672.7 1006,672.6 1005,670.9 1004,668.9 1003,668.3 1002,669.5 1001,670.9 1000,671.5 999,673.7 998,672.2 997,674.2 996,680.7 995,684.9 994,678.2 993,675.6 992,676.5 991,683.0 990,678.6 989,680.1 988,686.4 987,680.5 986,679.4 985,679.8 984,680.5 983,683.1 982,679.1 981,679.9 980,680.7 979,678.7 978,680.1 977,684.6 976,676.7 975,677.0 974,673.0 973,673.8 972,675.1 971,674.9 970,673.5 969,672.4 968,670.5 967,673.5 966,677.6 965,669.1 964,673.4 963,672.7 962,673.6 961,677.5 960,676.2 959,676.2 958,675.6 957,676.7 956,683.4 955,683.1 954,678.7 953,680.9 952,682.2 951,680.6 950,681.2 949,682.0 948,685.1 947,682.8 946,686.2 945,685.4 944,688.5 943,684.9 942,683.1 941,685.7 940,691.9 939,694.7 938,685.7 937,680.8 936,682.1 935,682.1 934,681.6 933,682.7 932,684.3 931,685.3 930,682.4 929,682.5 928,687.9 927,690.4 926,684.2 925,686.0 924,688.7 923,686.7 922,688.1 921,690.5 920,689.1 919,690.2 918,692.1 917,698.6 916,692.3 915,692.6 914,691.6 913,689.1 912,688.4 911,689.4 910,684.0 909,682.9 908,681.0 907,681.7 906,682.7 905,678.6 904,680.1 903,681.8 902,683.1 901,687.6 900,688.7 899,690.1 898,695.6 897,688.9 896,691.4 895,692.0 894,694.4 893,700.1 892,703.5 891,696.1 890,696.3 889,693.9 888,693.7 887,690.9 886,689.0 885,689.0 884,686.3 883,686.6 882,687.8 881,686.2 880,686.4 879,688.1 878,684.9 877,684.8 876,684.1 875,683.4 874,685.4 873,690.0 872,687.9 871,689.3 870,691.5 869,698.3 868,698.7 867,700.6 866,703.0 865,701.5 864,702.6 863,696.8 862,696.4 861,695.2 860,694.4 859,694.2 858,694.3 857,695.6 856,690.7 855,690.0 854,696.5 853,708.2 852,689.8 851,687.1 850,687.2 849,687.6 848,688.5 847,691.1 846,690.3 845,688.0 844,690.9 843,692.1 842,695.7 841,692.3 840,695.4 839,690.8 838,694.5 837,695.5 836,700.5 835,700.8 834,690.4 833,689.8 832,688.4 831,689.6 830,686.1 829,686.5 828,687.1 827,687.6 826,690.3 825,696.9 824,687.5 823,686.4 822,686.7 821,687.0 820,687.1 819,689.5 818,692.5 817,689.9 816,690.5 815,692.1 814,696.4 813,706.3 812,694.8 811,697.1 810,696.5 809,698.7 808,701.5 807,699.7 806,697.9 805,701.3 804,701.1 803,703.4 802,706.9 801,708.1 800,704.6 799,700.8 798,701.5 797,703.2 796,702.8 795,710.1 794,709.5 793,718.8 792,704.1 791,703.5 790,702.7 789,702.6 788,702.1 787,705.5 786,708.1 785,705.4 784,707.4 783,698.6 782,699.7 781,702.3 780,700.9 779,707.2 778,711.9 777,704.9 776,711.0 775,717.7 774,715.3 773,713.3 772,714.9 771,711.9 770,713.2 769,714.8 768,718.6 767,724.3 766,714.6 765,714.9 764,718.0 763,716.0 762,721.1 761,712.4 760,710.5 759,713.1 758,713.2 757,714.8 756,716.3 755,720.4 754,713.4 753,711.9 752,710.3 751,712.7 750,710.6 749,711.0 748,710.5 747,713.1 746,711.7 745,713.3 744,715.0 743,715.9 742,719.1 741,717.0 740,716.0 739,716.1 738,716.4 737,717.1 736,718.3 735,720.9 734,717.2 733,719.9 732,715.8 731,716.5 730,719.9 729,716.3 728,717.8 727,722.9 726,715.2 725,716.3 724,719.5 723,718.3 722,718.5 721,720.5 720,718.6 719,716.6 718,720.4 717,723.0 716,729.3 715,737.9 714,731.8 713,725.4 712,724.7 711,722.0 710,723.6 709,720.1 708,721.8 707,721.2 706,722.1 705,723.1 704,723.0 703,722.4 702,722.1 701,728.3 700,722.5 699,719.9 698,720.2 697,716.8 696,717.8 695,718.2 694,714.9 693,714.4 692,712.3 691,711.6 690,711.7 689,710.5 688,709.8 687,709.5 686,708.7 685,710.6 684,713.5 683,711.2 682,714.4 681,711.6 680,712.5 679,713.3 678,716.4 677,720.1 676,716.4 675,719.7 674,715.4 673,714.9 672,716.6 671,716.8 670,717.7 669,713.8 668,713.9 667,714.4 666,716.2 665,717.9 664,716.1 663,719.1 662,714.3 661,713.5 660,714.0 659,714.6 658,714.4 657,716.9 656,715.3 655,717.2 654,721.0 653,717.8 652,719.2 651,721.0 650,723.0 649,724.3 648,727.1 647,732.0 646,729.3 645,729.8 644,734.7 643,736.9 642,736.7 641,737.6 640,741.0 639,738.3 638,734.7 637,731.9 636,731.2 635,731.1 634,727.6 633,726.5 632,728.0 631,731.3 630,732.3 629,728.6 628,729.1 627,730.3 626,733.0 625,730.1 624,731.8 623,729.6 622,731.6 621,734.2 620,727.7 619,727.3 618,728.4 617,729.2 616,726.8 615,728.5 614,726.1 613,726.9 612,726.9 611,728.8 610,725.5 609,728.6 608,728.5 607,729.9 606,731.0 605,734.6 604,736.1 603,741.2 602,729.4 601,731.7 600,729.3 599,732.2 598,734.1 597,731.9 596,732.7 595,731.0 594,731.8 593,734.7 592,733.8 591,734.1 590,730.9 589,730.8 588,731.6 587,731.3 586,731.8 585,729.7 584,729.4 583,729.4 582,732.4 581,726.1 580,727.9 579,730.3 578,732.5 577,732.9 576,737.0 575,732.3 574,733.2 573,731.6 572,733.2 571,733.6 570,736.8 569,732.3 568,733.2 567,728.9 566,728.5 565,732.1 564,740.9 563,730.8 562,728.4 561,728.2 560,730.2 559,734.6 558,729.3 557,730.7 556,731.2 555,732.0 554,730.2 553,731.6 552,735.1 551,739.3 550,735.7 549,737.9 548,735.9 547,737.2 546,737.0 545,737.7 544,740.9 543,737.3 542,735.8 541,735.9 540,734.6 539,735.1 538,734.7 537,733.5 536,733.6 535,733.2 534,731.0 533,730.9 532,730.7 531,734.7 530,734.6 529,734.8 528,730.5 527,731.0 526,730.4 525,731.3 524,732.4 523,732.4 522,734.1 521,736.7 520,733.0 519,733.7 518,734.0 517,733.6 516,734.1 515,734.8 514,734.3 513,734.2 512,735.3 511,737.6 510,735.8 509,734.5 508,732.8 507,733.6 506,737.4 505,745.6 504,739.2 503,738.5 502,739.2 501,739.1 500,738.8 499,739.1 498,742.9 497,747.7 496,743.6 495,743.2 494,743.1 493,742.1 492,741.6 491,743.3 490,746.2 489,745.4 488,744.6 487,746.1 486,748.0 485,745.6 484,744.4 483,746.6 482,751.0 481,745.8 480,750.4 479,751.2 478,754.1 477,747.5 476,746.7 475,747.5 474,748.9 473,744.4 472,743.2 471,743.6 470,744.1 469,742.0 468,742.6 467,740.6 466,742.0 465,744.5 464,742.6 463,746.4 462,749.8 461,746.0 460,746.1 459,750.6 458,746.4 457,745.1 456,745.1 455,745.2 454,747.2 453,747.5 452,745.7 451,742.0 450,742.6 449,741.0 448,743.9 447,749.4 446,742.7 445,743.9 444,740.4 443,741.0 442,742.8 441,743.4 440,745.7 439,740.6 438,739.6 437,741.7 436,738.5 435,738.4 434,740.0 433,742.8 432,740.9 431,740.8 430,743.9 429,750.6 428,737.5 427,738.2 426,741.3 425,744.6 424,741.3 423,739.4 422,745.1 421,742.1 420,741.4 419,740.3 418,741.8 417,740.8 416,739.6 415,738.0 414,739.0 413,740.4 412,742.0 411,738.5 410,740.6 409,743.3 408,744.8 407,747.4 406,747.3 405,745.1 404,746.3 403,749.8 402,752.0 401,749.4 400,752.0 399,746.7 398,746.3 397,746.1 396,746.4 395,746.8 394,748.0 393,749.9 392,748.5 391,747.9 390,749.8 389,748.6 388,746.5 387,747.5 386,746.1 385,746.6 384,750.2 383,745.4 382,745.6 381,749.2 380,754.8 379,749.2 378,753.5 377,746.8 376,747.4 375,749.3 374,750.0 373,750.4 372,753.1 371,750.9 370,753.7 369,752.9 368,753.2 367,752.2 366,752.3 365,755.0 364,752.5 363,751.2 362,749.9 361,750.3 360,752.6 359,753.6 358,755.5 357,755.9 356,756.7 355,761.9 354,768.1 353,758.6 352,759.1 351,759.0 350,762.3 349,764.7 348,758.3 347,755.5 346,754.7 345,754.5 344,755.0 343,756.7 342,753.8 341,754.8 340,751.8 339,751.7 338,754.6 337,756.3 336,752.2 335,753.0 334,751.5 333,751.9 332,751.0 331,755.7 330,754.4 329,751.6 328,751.8 327,751.1 326,752.1 325,750.6 324,751.1 323,752.4 322,750.1 321,749.9 320,750.2 319,750.0 318,750.8 317,749.4 316,750.9 315,753.5 314,750.1 313,751.0 312,749.9 311,749.9 310,753.3 309,749.3 308,753.9 307,755.8 306,751.8 305,750.5 304,754.6 303,762.1 302,748.3 301,748.1 300,748.8 299,752.2 298,751.9 297,755.0 296,753.2 295,753.0 294,755.5 293,758.4 292,754.7 291,758.9 290,760.1 289,755.1 288,757.0 287,759.9 286,757.9 285,760.7 284,757.6 283,758.4 282,758.3 281,759.7 280,758.9 279,760.5 278,757.0 277,757.3 276,757.7 275,759.0 274,759.1 273,760.5 272,761.9 271,761.1 270,758.6 269,758.4 268,760.6 267,766.0 266,763.0 265,759.4 264,760.3 263,763.4 262,766.2 261,765.6 260,765.3 259,764.2 258,764.8 257,765.3 256,765.3 255,764.4 254,762.9 253,762.3 252,762.3 251,761.8 250,762.6 249,762.6 248,760.3 247,759.7 246,766.1 245,775.3 244,765.5 243,763.5 242,763.7 241,764.7 240,767.3 239,763.6 238,768.1 237,769.6 236,766.4 235,768.0 234,768.5 233,769.0 232,771.7 231,775.1 230,774.0 229,776.7 228,771.3 227,771.5 226,771.7 225,772.6 224,770.8 223,771.1 222,771.8 221,773.5 220,777.6 219,770.8 218,769.2 217,768.9 216,769.7 215,771.1 214,770.6 213,766.7 212,766.4 211,771.0 210,770.6 209,765.4 208,765.0 207,764.7 206,767.5 205,764.9 204,763.9 203,764.7 202,764.4 201,765.8 200,766.1 199,763.3 198,764.1 197,765.0 196,764.5 195,763.7 194,764.1 193,763.8 192,765.0 191,768.4 190,765.0 189,766.2 188,765.4 187,766.3 186,766.4 185,767.8 184,767.1 183,768.5 182,770.4 181,767.7 180,769.3 179,768.3 178,766.8 177,767.2 176,768.0 175,769.7 174,764.1 173,764.5 172,764.9 171,763.2 170,762.8 169,762.1 168,761.2 167,761.6 166,761.9 165,762.4 164,763.7 163,761.5 162,763.5 161,764.3 160,761.6 159,757.6 158,755.7 157,754.0 156,752.6 155,750.2 154,748.1 153,746.6 152,745.3 151,744.1 150,742.2"/><polygon fill="#ff3c3c" points="150,723.8 151,717.3 152,714.9 153,713.6 154,712.0 155,710.2 156,707.6 157,705.0 158,703.7 159,700.6 160,700.1 161,699.7 162,697.6 163,695.6 164,695.3 165,694.8 166,694.9 167,693.3 168,693.4 169,692.9 170,688.7 171,690.5 172,691.2 173,689.9 174,690.1 175,688.4 176,677.8 177,682.9 178,688.3 179,688.3 180,688.9 181,690.1 182,689.4 183,685.6 184,686.3 185,688.3 186,686.0 187,686.8 188,684.8 189,685.7 190,685.6 191,685.0 192,686.3 193,683.7 194,682.3 195,673.9 196,669.0 197,680.9 198,691.2 199,692.7 200,695.0 201,695.7 202,698.4 203,700.7 204,700.0 205,698.8 206,698.5 207,691.2 208,694.1 209,691.1 210,693.8 211,688.4 212,692.6 213,690.9 214,692.8 215,694.5 216,691.3 217,692.4 218,690.7 219,691.6 220,692.4 221,690.6 222,690.5 223,690.7 224,688.3 225,682.7 226,685.8 227,680.3 228,683.9 229,688.0 230,679.3 231,684.4 232,688.3 233,687.2 234,683.7 235,677.9 236,678.7 237,679.5 238,681.0 239,679.1 240,679.8 241,672.4 242,675.7 243,676.9 244,677.6 245,676.4 246,675.3 247,672.0 248,671.0 249,671.7 250,666.4 251,666.6 252,664.5 253,667.8 254,660.9 255,662.8 256,665.5 257,666.5 258,661.5 259,650.4 260,659.0 261,665.7 262,664.9 263,663.8 264,666.8 265,669.7 266,671.0 267,673.8 268,667.5 269,671.8 270,671.7 271,673.1 272,674.6 273,674.8 274,670.9 275,671.8 276,671.5 277,670.6 278,668.6 279,663.6 280,663.4 281,660.7 282,654.2 283,657.8 284,658.1 285,657.9 286,659.0 287,657.3 288,652.2 289,656.4 290,658.5 291,658.5 292,655.4 293,651.7 294,654.6 295,656.0 296,656.2 297,652.9 298,652.7 299,653.0 300,653.1 301,656.3 302,654.9 303,656.2 304,657.6 305,658.8 306,656.3 307,658.0 308,658.1 309,659.7 310,660.5 311,661.0 312,660.0 313,663.5 314,659.5 315,652.9 316,657.8 317,659.8 318,661.2 319,660.3 320,659.9 321,658.5 322,656.7 323,657.5 324,655.3 325,651.6 326,650.8 327,649.6 328,643.1 329,648.1 330,651.0 331,653.1 332,654.5 333,653.2 334,655.5 335,656.8 336,654.3 337,653.8 338,653.0 339,651.2 340,649.0 341,648.2 342,646.7 343,638.9 344,639.8 345,640.2 346,639.9 347,633.7 348,636.0 349,638.5 350,636.1 351,633.2 352,638.4 353,641.8 354,637.7 355,635.9 356,638.7 357,637.9 358,638.8 359,639.9 360,639.0 361,640.2 362,638.5 363,638.3 364,638.9 365,637.1 366,636.9 367,637.4 368,640.2 369,632.1 370,638.0 371,638.3 372,639.8 373,642.1 374,642.8 375,644.0 376,641.0 377,645.3 378,645.5 379,648.3 380,648.7 381,641.6 382,646.9 383,649.0 384,650.0 385,647.6 386,645.8 387,638.0 388,641.3 389,646.8 390,638.3 391,642.7 392,644.6 393,646.8 394,637.5 395,642.8 396,645.0 397,639.5 398,643.3 399,647.8 400,644.4 401,646.2 402,648.6 403,645.7 404,642.4 405,643.0 406,640.0 407,638.0 408,640.7 409,637.2 410,632.7 411,615.9 412,622.9 413,629.5 414,625.5 415,605.2 416,615.3 417,623.1 418,623.5 419,624.3 420,623.9 421,622.4 422,621.3 423,623.9 424,624.7 425,620.8 426,621.6 427,622.5 428,620.7 429,622.3 430,620.2 431,619.1 432,612.3 433,615.3 434,620.3 435,618.2 436,620.4 437,620.6 438,619.6 439,617.5 440,614.8 441,616.4 442,617.6 443,619.8 444,618.2 445,617.6 446,618.0 447,610.1 448,607.0 449,608.9 450,615.2 451,618.5 452,622.0 453,618.9 454,619.2 455,623.9 456,613.4 457,620.0 458,624.7 459,628.9 460,626.2 461,612.6 462,618.1 463,624.5 464,625.1 465,624.3 466,605.2 467,617.9 468,626.4 469,632.2 470,635.5 471,639.9 472,642.4 473,639.9 474,635.6 475,636.0 476,634.1 477,630.6 478,629.4 479,627.9 480,625.8 481,623.6 482,615.2 483,617.1 484,617.3 485,618.7 486,619.4 487,621.8 488,609.7 489,620.2 490,623.1 491,624.7 492,626.7 493,629.7 494,630.0 495,631.5 496,634.7 497,629.3 498,630.5 499,631.9 500,628.8 501,632.3 502,634.4 503,630.9 504,631.2 505,626.7 506,624.7 507,622.9 508,621.8 509,620.6 510,621.2 511,617.9 512,619.0 513,620.4 514,609.2 515,613.2 516,617.8 517,615.3 518,616.8 519,617.0 520,618.3 521,620.0 522,620.8 523,619.1 524,615.5 525,617.2 526,614.1 527,612.6 528,605.4 529,607.1 530,607.6 531,603.1 532,606.6 533,607.8 534,606.2 535,604.5 536,596.4 537,598.7 538,605.4 539,605.7 540,609.4 541,613.8 542,615.9 543,614.8 544,619.8 545,623.7 546,627.6 547,629.6 548,628.1 549,627.7 550,627.8 551,627.8 552,613.9 553,617.2 554,619.3 555,617.7 556,618.1 557,620.3 558,608.1 559,614.2 560,617.8 561,619.3 562,615.0 563,611.0 564,617.4 565,620.8 566,619.2 567,616.4 568,611.6 569,611.4 570,612.3 571,608.3 572,610.6 573,610.8 574,604.5 575,605.6 576,607.8 577,606.2 578,597.9 579,592.4 580,601.2 581,603.6 582,608.0 583,609.8 584,610.1 585,613.3 586,612.5 587,614.3 588,612.0 589,613.6 590,614.2 591,612.5 592,615.8 593,611.9 594,614.0 595,612.3 596,614.2 597,609.2 598,613.3 599,616.8 600,612.8 601,618.5 602,609.2 603,613.2 604,616.8 605,619.7 606,621.5 607,619.7 608,613.7 609,614.4 610,616.6 611,611.9 612,612.0 613,609.7 614,600.9 615,601.4 616,595.5 617,598.1 618,589.4 619,597.0 620,602.1 621,595.8 622,586.7 623,586.7 624,584.4 625,580.3 626,569.9 627,572.6 628,560.2 629,564.1 630,567.4 631,570.6 632,571.5 633,575.7 634,575.7 635,577.7 636,581.9 637,584.2 638,584.1 639,588.2 640,575.6 641,583.2 642,581.6 643,585.4 644,587.1 645,591.0 646,594.0 647,591.8 648,595.8 649,597.3 650,601.5 651,604.9 652,605.7 653,604.8 654,605.0 655,600.0 656,603.0 657,599.3 658,600.3 659,596.5 660,598.8 661,595.2 662,596.6 663,597.1 664,599.1 665,583.6 666,590.3 667,593.8 668,595.4 669,595.6 670,592.7 671,594.3 672,593.2 673,593.5 674,582.8 675,591.0 676,594.7 677,596.6 678,596.7 679,595.2 680,594.3 681,593.5 682,595.1 683,594.2 684,592.4 685,592.9 686,580.3 687,588.8 688,595.6 689,596.8 690,587.1 691,588.0 692,594.9 693,602.5 694,603.8 695,602.9 696,602.9 697,601.5 698,600.2 699,597.6 700,588.1 701,588.8 702,592.4 703,591.1 704,586.4 705,588.6 706,585.5 707,584.7 708,585.1 709,579.9 710,579.7 711,580.6 712,577.1 713,575.3 714,580.1 715,576.7 716,580.0 717,581.4 718,576.6 719,581.2 720,583.7 721,588.3 722,587.6 723,583.6 724,580.8 725,571.9 726,573.1 727,571.9 728,569.8 729,569.4 730,568.9 731,564.6 732,560.3 733,561.1 734,565.7 735,565.6 736,566.6 737,568.2 738,572.8 739,577.3 740,579.3 741,580.5 742,581.0 743,581.6 744,580.4 745,581.0 746,578.7 747,576.5 748,578.9 749,582.3 750,567.4 751,573.2 752,582.8 753,584.5 754,583.5 755,583.2 756,582.7 757,563.0 758,577.5 759,585.0 760,585.8 761,584.0 762,586.5 763,582.0 764,583.3 765,585.9 766,584.6 767,577.1 768,577.4 769,575.6 770,569.8 771,565.9 772,560.4 773,555.4 774,554.1 775,554.4 776,534.4 777,547.8 778,556.0 779,555.1 780,556.9 781,563.3 782,558.0 783,564.4 784,566.7 785,568.9 786,569.2 787,570.3 788,573.2 789,573.5 790,575.2 791,565.1 792,569.1 793,566.7 794,569.1 795,563.5 796,563.0 797,564.0 798,561.0 799,560.4 800,565.5 801,567.5 802,566.1 803,571.8 804,573.9 805,577.1 806,573.9 807,573.9 808,565.1 809,566.3 810,561.1 811,569.8 812,575.4 813,578.4 814,578.7 815,580.1 816,575.5 817,570.6 818,572.8 819,571.5 820,569.6 821,565.0 822,565.0 823,564.6 824,556.3 825,560.1 826,564.3 827,565.8 828,567.6 829,560.5 830,562.3 831,563.9 832,563.6 833,565.5 834,565.3 835,565.4 836,558.6 837,564.9 838,568.5 839,569.0 840,569.4 841,570.3 842,569.6 843,562.2 844,566.9 845,567.3 846,568.5 847,558.6 848,563.0 849,563.9 850,564.3 851,564.9 852,560.9 853,562.4 854,560.6 855,560.9 856,558.5 857,558.2 858,552.4 859,547.8 860,553.1 861,548.1 862,541.0 863,550.3 864,553.3 865,555.8 866,557.7 867,544.9 868,542.1 869,551.3 870,554.6 871,550.4 872,551.6 873,549.2 874,553.3 875,549.7 876,548.6 877,537.2 878,536.3 879,528.8 880,527.0 881,526.6 882,524.1 883,525.5 884,526.9 885,527.6 886,528.7 887,530.3 888,524.5 889,524.4 890,525.3 891,526.2 892,523.1 893,515.9 894,515.5 895,519.3 896,523.6 897,521.4 898,516.0 899,517.2 900,517.2 901,519.5 902,523.5 903,522.4 904,517.0 905,519.5 906,527.0 907,527.2 908,524.8 909,530.0 910,532.6 911,534.7 912,534.8 913,535.0 914,535.7 915,529.2 916,530.4 917,524.7 918,527.1 919,529.6 920,523.8 921,529.5 922,531.8 923,533.4 924,527.9 925,526.5 926,528.6 927,518.4 928,525.4 929,529.4 930,528.2 931,526.1 932,526.2 933,523.5 934,513.0 935,510.3 936,510.1 937,510.3 938,515.6 939,517.0 940,508.9 941,516.0 942,523.7 943,526.3 944,525.4 945,513.9 946,521.8 947,530.8 948,532.1 949,531.3 950,531.3 951,534.6 952,533.4 953,532.1 954,526.1 955,522.1 956,519.2 957,515.3 958,512.5 959,501.7 960,503.9 961,504.2 962,502.0 963,499.6 964,499.9 965,499.5 966,497.7 967,493.2 968,480.8 969,487.7 970,489.9 971,493.4 972,494.1 973,496.1 974,503.5 975,509.1 976,512.7 977,514.2 978,510.4 979,497.0 980,495.7 981,494.0 982,486.3 983,487.7 984,487.3 985,498.1 986,506.6 987,508.3 988,516.1 989,498.0 990,510.6 991,517.3 992,512.3 993,510.2 994,510.8 995,508.8 996,494.8 997,493.4 998,488.9 999,493.7 1000,489.6 1001,494.5 1002,499.4 1003,498.8 1004,496.1 1005,494.6 1006,497.0 1007,499.5 1008,495.9 1009,489.8 1010,486.5 1011,485.8 1012,489.8 1013,476.3 1014,483.2 1015,478.1 1016,480.7 1017,483.5 1018,482.0 1019,482.2 1020,484.2 1021,479.7 1022,470.7 1023,471.3 1024,470.4 1025,472.6 1026,462.7 1027,462.0 1028,461.5 1029,463.3 1030,462.3 1031,461.8 1032,459.6 1033,465.4 1034,459.1 1035,466.1 1036,471.4 1037,473.4 1038,475.8 1039,476.5 1040,477.0 1041,480.5 1042,485.6 1043,482.4 1044,487.7 1045,479.5 1046,485.1 1047,494.2 1048,479.7 1049,481.0 1050,478.6 1051,477.8 1052,477.5 1053,473.6 1054,474.1 1055,471.6 1056,469.5 1057,469.7 1058,441.7 1059,457.3 1060,465.9 1061,462.8 1062,460.4 1063,462.9 1064,468.7 1065,472.0 1066,476.8 1067,455.6 1068,467.9 1069,479.0 1070,482.9 1071,479.8 1072,481.5 1073,483.0 1074,482.3 1075,483.8 1076,481.4 1077,481.6 1078,479.3 1079,473.5 1080,475.0 1081,478.5 1082,474.6 1083,469.4 1084,472.8 1085,473.0 1086,469.2 1087,469.7 1088,461.2 1089,458.3 1090,454.5 1091,455.0 1092,462.7 1093,473.6 1094,482.6 1095,487.4 1096,483.2 1097,487.2 1098,491.6 1099,469.3 1100,485.6 1101,494.1 1102,498.9 1103,498.7 1104,503.9 1105,502.1 1106,504.2 1107,496.8 1108,493.9 1109,489.3 1110,481.2 1111,487.4 1112,487.9 1113,484.5 1114,484.1 1115,482.3 1116,453.7 1117,460.9 1118,463.4 1119,466.2 1120,458.7 1121,462.1 1122,461.3 1123,459.4 1124,459.5 1125,454.6 1126,455.8 1127,456.0 1128,454.3 1129,450.6 1130,442.6 1131,431.9 1132,434.0 1133,437.7 1134,427.0 1135,435.6 1136,436.2 1137,442.1 1138,443.3 1139,445.6 1140,452.2 1141,443.9 1142,451.2 1143,461.2 1144,470.3 1145,473.9 1146,475.8 1147,475.2 1148,475.6 1149,474.3 1150,474.0 1151,470.6 1152,474.6 1153,472.3 1154,468.7 1155,470.5 1156,469.7 1157,466.0 1158,472.4 1159,474.8 1160,473.6 1161,471.0 1162,476.7 1163,482.2 1164,480.3 1165,477.3 1166,480.0 1167,479.7 1168,481.3 1169,473.4 1170,475.8 1171,475.3 1172,474.6 1173,475.3 1174,471.7 1175,462.7 1176,462.4 1177,460.9 1178,449.3 1179,448.6 1180,450.9 1181,454.9 1182,459.2 1183,462.8 1184,464.2 1185,471.3 1186,475.1 1187,478.0 1188,468.8 1189,477.3 1190,474.5 1191,471.3 1192,458.2 1193,440.7 1194,444.8 1195,452.4 1196,461.2 1197,464.8 1198,465.8 1199,462.8 1200,465.9 1201,470.6 1202,478.6 1203,464.4 1204,470.3 1205,480.1 1206,480.2 1207,483.1 1208,484.5 1209,475.1 1210,473.9 1211,474.8 1212,472.5 1213,470.0 1214,463.2 1215,460.6 1216,453.6 1217,448.1 1218,444.5 1219,443.8 1220,446.9 1221,445.5 1222,451.9 1223,455.9 1224,458.6 1225,464.4 1226,457.0 1227,457.4 1228,456.7 1229,458.7 1230,459.0 1231,459.4 1232,458.5 1233,459.9 1234,445.6 1235,452.3 1236,462.5 1237,439.9 1238,448.3 1239,451.7 1240,449.8 1241,453.1 1242,452.6 1243,450.9 1244,451.1 1245,448.4 1246,454.0 1247,450.8 1248,451.3 1249,449.4 1250,446.3 1251,436.1 1252,439.9 1253,437.6 1254,434.6 1255,442.6 1256,444.8 1257,445.5 1258,447.0 1259,442.3 1260,448.8 1261,444.5 1262,429.4 1263,430.2 1264,435.6 1265,437.1 1266,439.1 1267,443.6 1268,441.9 1269,444.7 1270,447.2 1271,443.8 1272,441.1 1273,441.0 1274,445.9 1275,446.6 1276,439.2 1277,429.1 1278,419.3 1279,424.5 1280,425.3 1281,417.6 1282,420.0 1283,422.1 1284,421.3 1285,419.0 1286,416.0 1287,408.3 1288,408.6 1289,403.3 1290,402.9 1291,404.3 1292,403.0 1293,400.9 1294,402.9 1295,397.2 1296,402.3 1297,399.5 1298,401.4 1299,385.0 1300,390.3 1301,394.7 1302,395.5 1303,394.8 1304,391.1 1305,397.7 1306,394.6 1307,380.2 1308,386.5 1309,386.2 1310,385.1 1311,378.6 1312,381.9 1313,387.0 1314,383.0 1315,365.8 1316,379.3 1317,388.5 1318,397.7 1319,401.5 1320,400.9 1321,398.5 1322,400.2 1323,399.9 1324,396.3 1325,390.3 1326,393.9 1327,395.8 1328,400.2 1329,403.6 1330,403.0 1331,402.0 1332,390.2 1333,399.2 1334,405.7 1335,408.8 1336,395.5 1337,401.4 1338,400.1 1339,402.5 1340,403.3 1341,407.0 1342,406.2 1343,406.7 1344,405.7 1345,404.5 1346,406.9 1347,403.0 1348,397.1 1349,402.6 1350,404.3 1351,405.5 1352,405.9 1353,396.6 1354,377.5 1355,386.6 1356,389.8 1357,389.7 1358,387.6 1359,377.3 1360,382.8 1361,389.1 1362,389.9 1363,396.4 1364,375.4 1365,386.9 1366,380.0 1367,389.6 1368,393.9 1369,398.1 1370,396.5 1371,399.4 1372,402.6 1373,396.4 1374,397.7 1375,396.4 1376,384.7 1377,388.5 1378,392.8 1379,392.8 1380,391.8 1381,395.0 1382,352.0 1383,383.0 1384,405.9 1385,394.5 1386,404.2 1387,405.8 1388,398.6 1389,411.2 1390,416.2 1391,396.1 1392,407.5 1393,414.3 1394,415.3 1395,420.8 1396,422.1 1397,423.3 1398,415.7 1399,419.4 1400,424.7 1401,423.5 1402,422.4 1403,418.0 1404,414.2 1405,421.4 1406,424.1 1407,422.1 1408,421.3 1409,419.8 1410,408.7 1411,413.2 1412,422.3 1413,421.3 1414,425.5 1415,420.5 1416,418.4 1417,421.6 1418,408.1 1419,407.5 1420,398.3 1421,401.7 1422,397.0 1423,393.4 1424,382.8 1425,379.4 1426,371.1 1427,356.1 1428,333.2 1429,323.7 1430,322.6 1431,325.6 1432,323.3 1433,330.9 1434,324.3 1435,317.7 1436,309.5 1437,318.4 1438,325.9 1439,308.4 1440,320.9 1441,334.2 1442,339.8 1443,339.3 1444,342.2 1445,336.7 1446,330.7 1447,335.0 1448,336.4 1449,334.3 1450,327.9 1451,332.8 1452,330.4 1453,333.3 1454,327.8 1455,328.5 1456,332.8 1457,337.0 1458,335.0 1459,332.2 1460,333.4 1461,337.4 1462,327.0 1463,328.4 1464,330.9 1465,332.6 1466,332.3 1467,332.9 1468,337.0 1469,342.8 1470,338.0 1471,340.1 1472,330.1 1473,340.5 1474,338.8 1475,337.0 1476,335.2 1477,330.5 1478,328.0 1479,328.3 1480,325.2 1481,326.2 1482,329.2 1483,328.9 1484,326.7 1485,321.8 1486,310.9 1487,314.6 1488,308.7 1489,321.6 1490,330.9 1491,329.5 1492,331.0 1493,326.4 1494,324.1 1495,326.1 1496,322.9 1497,325.9 1498,314.3 1499,328.9 1500,338.9 1501,338.1 1502,339.4 1503,342.8 1504,347.5 1505,331.4 1506,342.3 1507,353.6 1508,349.5 1509,352.1 1510,346.9 1511,349.4 1512,348.5 1513,337.5 1514,334.6 1515,331.2 1516,323.1 1517,315.1 1518,310.9 1519,307.0 1520,303.7 1521,301.3 1522,300.8 1523,296.7 1524,290.8 1525,282.5 1526,278.0 1527,281.3 1528,275.1 1529,271.4 1530,267.2 1531,235.2 1532,240.6 1533,253.3 1534,246.8 1535,227.0 1536,239.8 1537,252.0 1538,254.7 1539,265.3 1540,277.0 1541,281.5 1542,286.4 1543,291.6 1544,299.3 1545,304.9 1546,301.7 1547,306.5 1548,309.5 1549,313.9 1550,312.2 1551,310.8 1552,319.1 1553,309.7 1554,322.7 1555,326.9 1556,321.7 1557,320.2 1558,321.7 1559,315.3 1560,319.6 1561,321.9 1562,322.2 1563,319.9 1564,319.0 1565,319.1 1566,317.6 1567,304.8 1568,310.5 1569,303.9 1570,303.9 1571,293.3 1572,298.7 1573,296.3 1574,293.9 1575,284.6 1576,284.6 1577,288.2 1578,287.7 1579,289.6 1580,282.9 1581,277.6 1582,270.3 1583,278.0 1584,278.1 1585,265.2 1586,274.8 1587,279.4 1588,284.3 1589,295.5 1590,287.4 1591,298.8 1592,302.1 1593,308.2 1594,288.6 1595,298.4 1596,295.2 1597,295.3 1598,294.5 1599,291.5 1600,272.2 1601,277.2 1602,283.7 1603,285.0 1604,285.4 1605,289.9 1606,294.0 1607,294.4 1608,297.7 1609,295.5 1610,290.8 1611,288.1 1612,277.9 1613,277.4 1614,266.6 1615,254.7 1616,257.4 1617,261.0 1618,265.6 1619,265.1 1620,261.3 1621,268.3 1622,278.7 1623,279.6 1624,278.5 1625,277.9 1626,286.4 1627,297.6 1628,299.1 1629,304.0 1630,308.8 1631,303.2 1632,310.9 1633,321.0 1634,326.2 1635,318.8 1636,312.1 1637,318.5 1638,324.6 1639,324.6 1640,316.3 1641,317.0 1642,319.9 1643,309.1 1644,312.8 1645,309.8 1646,309.4 1647,307.0 1648,292.5 1649,294.8 1650,288.9 1651,290.7 1652,291.9 1653,291.4 1654,285.9 1655,290.0 1656,288.6 1657,288.6 1658,283.4 1659,275.7 1660,260.4 1661,270.7 1662,280.9 1663,291.0 1664,294.6 1665,300.6 1666,298.5 1667,291.5 1668,278.5 1669,281.4 1670,293.2 1671,293.9 1672,289.2 1673,294.1 1674,295.0 1675,295.4 1676,297.4 1677,289.8 1678,289.9 1679,290.9 1680,259.3 1681,269.2 1682,278.6 1683,280.0 1684,269.5 1685,273.1 1686,269.9 1687,268.8 1688,260.3 1689,265.9 1690,261.6 1691,260.4 1692,243.0 1693,243.4 1694,247.2 1695,246.0 1696,241.4 1697,234.2 1698,230.6 1699,224.6 1700,214.1 1701,215.1 1702,217.4 1703,222.5 1704,226.2 1705,215.0 1706,221.0 1707,223.8 1708,221.8 1709,223.2 1710,218.4 1711,212.1 1712,210.4 1713,178.0 1714,186.8 1715,201.4 1716,196.5 1717,194.9 1718,198.2 1719,200.8 1720,181.7 1721,193.3 1722,200.4 1723,200.2 1724,202.4 1725,203.5 1726,200.8 1727,212.1 1728,192.7 1729,208.5 1730,221.8 1731,225.8 1732,229.7 1733,241.2 1734,244.3 1735,253.0 1736,249.9 1737,253.6 1738,258.2 1739,258.0 1740,264.5 1741,263.2 1742,272.7 1743,273.7 1744,261.6 1745,264.0 1746,263.6 1747,260.8 1748,250.4 1749,250.9 1750,242.9 1751,240.8 1752,205.1 1753,212.7 1754,207.7 1755,212.0 1756,216.7 1757,215.3 1758,215.6 1759,215.8 1760,207.9 1761,208.5 1762,206.4 1763,207.3 1764,204.9 1765,221.1 1766,228.7 1767,234.5 1768,247.5 1769,218.2 1769,536.6 1768,546.3 1767,549.5 1766,539.8 1765,536.1 1764,537.5 1763,536.0 1762,538.5 1761,538.2 1760,530.0 1759,530.0 1758,528.7 1757,528.2 1756,519.8 1755,521.5 1754,526.4 1753,536.3 1752,521.8 1751,531.5 1750,537.5 1749,526.8 1748,530.2 1747,524.7 1746,528.8 1745,526.9 1744,530.2 1743,541.2 1742,531.2 1741,533.2 1740,528.6 1739,529.2 1738,531.7 1737,522.4 1736,522.9 1735,528.4 1734,517.5 1733,518.6 1732,522.3 1731,524.4 1730,526.7 1729,522.8 1728,524.7 1727,528.4 1726,528.3 1725,529.6 1724,535.1 1723,539.3 1722,543.1 1721,543.5 1720,536.2 1719,540.8 1718,547.4 1717,538.7 1716,541.6 1715,547.2 1714,540.5 1713,541.4 1712,545.8 1711,539.9 1710,543.3 1709,552.1 1708,542.0 1707,545.4 1706,549.6 1705,549.0 1704,541.6 1703,542.4 1702,541.4 1701,537.0 1700,543.4 1699,555.2 1698,541.4 1697,545.4 1696,556.6 1695,570.1 1694,548.2 1693,543.6 1692,547.1 1691,543.3 1690,545.5 1689,549.1 1688,544.9 1687,550.1 1686,541.8 1685,536.5 1684,539.0 1683,552.3 1682,561.7 1681,542.9 1680,548.0 1679,548.5 1678,556.7 1677,569.5 1676,562.4 1675,558.2 1674,552.1 1673,554.3 1672,558.2 1671,560.7 1670,556.5 1669,555.8 1668,552.0 1667,555.6 1666,560.1 1665,556.5 1664,553.5 1663,550.1 1662,545.9 1661,547.3 1660,547.5 1659,548.6 1658,553.3 1657,559.7 1656,554.5 1655,556.2 1654,555.7 1653,549.8 1652,551.6 1651,552.2 1650,552.2 1649,559.4 1648,556.9 1647,566.9 1646,561.3 1645,550.7 1644,556.0 1643,553.6 1642,563.5 1641,572.8 1640,553.2 1639,556.8 1638,564.6 1637,567.6 1636,556.4 1635,555.9 1634,558.9 1633,559.9 1632,563.0 1631,561.9 1630,554.4 1629,559.1 1628,556.0 1627,555.4 1626,550.5 1625,555.3 1624,553.2 1623,553.5 1622,555.5 1621,558.3 1620,556.9 1619,558.3 1618,565.9 1617,571.3 1616,553.4 1615,554.2 1614,565.0 1613,557.4 1612,556.8 1611,554.8 1610,556.3 1609,563.1 1608,551.8 1607,550.9 1606,552.5 1605,548.0 1604,545.6 1603,546.0 1602,543.3 1601,547.9 1600,556.8 1599,546.8 1598,549.2 1597,557.9 1596,564.8 1595,552.6 1594,555.9 1593,571.0 1592,584.0 1591,559.9 1590,565.9 1589,568.2 1588,572.2 1587,570.0 1586,574.5 1585,571.0 1584,571.1 1583,563.9 1582,564.9 1581,569.4 1580,564.9 1579,572.7 1578,571.7 1577,566.6 1576,565.9 1575,564.3 1574,568.5 1573,565.4 1572,559.2 1571,559.4 1570,560.1 1569,559.5 1568,560.3 1567,560.7 1566,565.6 1565,565.3 1564,570.5 1563,572.9 1562,568.6 1561,571.6 1560,569.7 1559,573.3 1558,582.3 1557,585.5 1556,580.3 1555,582.4 1554,590.9 1553,580.8 1552,580.5 1551,577.6 1550,579.7 1549,576.9 1548,574.2 1547,575.0 1546,577.4 1545,572.6 1544,571.1 1543,568.9 1542,570.2 1541,572.3 1540,569.8 1539,569.7 1538,571.5 1537,571.8 1536,573.2 1535,575.6 1534,575.2 1533,575.1 1532,582.0 1531,588.1 1530,577.2 1529,581.4 1528,577.1 1527,578.7 1526,577.1 1525,576.3 1524,579.0 1523,575.9 1522,575.9 1521,570.7 1520,566.5 1519,563.9 1518,562.8 1517,566.6 1516,566.9 1515,569.4 1514,569.5 1513,573.9 1512,576.4 1511,586.0 1510,579.4 1509,577.5 1508,575.3 1507,567.0 1506,563.3 1505,563.9 1504,562.9 1503,561.5 1502,563.3 1501,571.8 1500,567.4 1499,567.8 1498,574.3 1497,583.2 1496,569.2 1495,565.7 1494,562.1 1493,561.0 1492,563.6 1491,565.7 1490,570.6 1489,573.2 1488,571.9 1487,575.7 1486,567.6 1485,574.1 1484,569.2 1483,577.9 1482,592.7 1481,573.1 1480,573.3 1479,583.7 1478,593.6 1477,585.0 1476,583.5 1475,592.2 1474,582.4 1473,589.5 1472,596.6 1471,573.8 1470,578.5 1469,584.5 1468,584.8 1467,579.7 1466,590.0 1465,593.1 1464,593.1 1463,597.7 1462,588.3 1461,598.2 1460,614.1 1459,594.6 1458,593.9 1457,594.5 1456,598.7 1455,604.5 1454,595.3 1453,596.7 1452,594.2 1451,591.5 1450,597.0 1449,597.9 1448,600.1 1447,607.9 1446,598.5 1445,594.9 1444,590.6 1443,593.8 1442,595.3 1441,585.0 1440,583.1 1439,591.0 1438,594.4 1437,592.9 1436,591.8 1435,591.9 1434,592.3 1433,584.3 1432,580.3 1431,580.1 1430,589.4 1429,601.9 1428,584.3 1427,583.2 1426,605.5 1425,629.3 1424,586.1 1423,585.8 1422,586.9 1421,593.9 1420,607.2 1419,599.7 1418,603.2 1417,603.1 1416,600.1 1415,604.7 1414,611.2 1413,604.9 1412,606.7 1411,608.5 1410,609.6 1409,610.5 1408,610.4 1407,607.3 1406,607.0 1405,610.6 1404,620.8 1403,608.7 1402,612.6 1401,610.3 1400,611.6 1399,617.7 1398,613.4 1397,622.0 1396,606.4 1395,619.0 1394,634.2 1393,618.2 1392,616.0 1391,623.2 1390,631.4 1389,615.5 1388,617.2 1387,616.7 1386,611.7 1385,610.9 1384,611.5 1383,608.3 1382,608.4 1381,609.1 1380,612.4 1379,608.9 1378,614.1 1377,623.0 1376,621.7 1375,620.0 1374,617.1 1373,615.8 1372,618.6 1371,628.4 1370,640.4 1369,627.5 1368,628.7 1367,624.9 1366,625.0 1365,630.7 1364,632.6 1363,637.3 1362,651.4 1361,628.8 1360,628.3 1359,633.9 1358,639.2 1357,632.6 1356,640.2 1355,629.4 1354,633.9 1353,638.7 1352,633.4 1351,635.6 1350,630.3 1349,632.5 1348,627.9 1347,627.2 1346,639.4 1345,648.7 1344,634.5 1343,626.8 1342,628.5 1341,627.1 1340,630.5 1339,627.1 1338,631.3 1337,635.0 1336,636.0 1335,627.3 1334,636.9 1333,647.0 1332,622.4 1331,621.7 1330,620.6 1329,617.1 1328,614.1 1327,613.6 1326,622.1 1325,624.3 1324,633.8 1323,619.8 1322,625.7 1321,613.7 1320,615.3 1319,618.2 1318,617.1 1317,619.5 1316,622.2 1315,630.8 1314,622.9 1313,622.8 1312,623.6 1311,623.2 1310,626.1 1309,628.0 1308,629.1 1307,628.9 1306,634.4 1305,642.5 1304,640.4 1303,639.1 1302,642.7 1301,637.4 1300,633.2 1299,640.8 1298,638.7 1297,639.4 1296,637.0 1295,637.4 1294,639.7 1293,651.2 1292,650.0 1291,650.2 1290,655.0 1289,655.9 1288,658.4 1287,656.6 1286,662.7 1285,656.5 1284,656.4 1283,663.7 1282,654.8 1281,657.6 1280,647.6 1279,648.2 1278,642.1 1277,640.8 1276,645.7 1275,636.2 1274,634.0 1273,630.9 1272,631.2 1271,633.2 1270,631.7 1269,624.0 1268,635.5 1267,648.2 1266,628.5 1265,636.1 1264,641.5 1263,631.5 1262,631.8 1261,638.4 1260,633.6 1259,633.9 1258,634.2 1257,633.0 1256,634.6 1255,632.9 1254,633.0 1253,633.0 1252,638.1 1251,633.2 1250,632.3 1249,634.5 1248,638.2 1247,637.3 1246,641.4 1245,639.8 1244,641.6 1243,642.8 1242,643.0 1241,642.3 1240,641.4 1239,645.8 1238,641.9 1237,647.3 1236,648.7 1235,644.2 1234,644.1 1233,642.2 1232,641.4 1231,641.7 1230,644.2 1229,640.4 1228,642.4 1227,642.9 1226,637.9 1225,636.6 1224,636.3 1223,640.0 1222,632.2 1221,630.7 1220,630.7 1219,633.5 1218,634.0 1217,634.0 1216,631.3 1215,638.7 1214,648.8 1213,631.1 1212,634.6 1211,638.8 1210,641.9 1209,631.4 1208,631.9 1207,640.2 1206,655.8 1205,638.5 1204,635.5 1203,633.6 1202,631.4 1201,634.3 1200,637.1 1199,649.6 1198,632.1 1197,635.9 1196,638.7 1195,632.2 1194,632.7 1193,634.7 1192,637.5 1191,638.7 1190,634.8 1189,636.7 1188,635.8 1187,636.6 1186,634.7 1185,634.0 1184,637.1 1183,636.8 1182,636.9 1181,641.8 1180,641.9 1179,641.9 1178,640.9 1177,641.6 1176,647.3 1175,653.1 1174,648.6 1173,646.3 1172,646.1 1171,647.4 1170,650.3 1169,650.2 1168,650.4 1167,647.8 1166,644.3 1165,644.9 1164,639.6 1163,639.6 1162,643.0 1161,650.4 1160,646.5 1159,655.3 1158,646.6 1157,649.0 1156,649.2 1155,649.0 1154,649.8 1153,653.3 1152,657.4 1151,649.3 1150,650.4 1149,651.3 1148,651.2 1147,654.9 1146,653.8 1145,651.6 1144,655.7 1143,647.0 1142,650.2 1141,649.4 1140,649.6 1139,651.6 1138,652.2 1137,659.8 1136,670.1 1135,652.5 1134,653.9 1133,653.6 1132,655.4 1131,656.0 1130,661.1 1129,666.0 1128,666.0 1127,661.4 1126,664.7 1125,668.8 1124,667.6 1123,675.1 1122,678.5 1121,665.0 1120,665.7 1119,672.4 1118,663.9 1117,667.7 1116,664.8 1115,669.5 1114,659.5 1113,659.0 1112,658.7 1111,661.7 1110,653.1 1109,652.6 1108,655.7 1107,654.7 1106,655.7 1105,659.2 1104,647.0 1103,647.2 1102,647.9 1101,653.3 1100,647.1 1099,648.5 1098,644.9 1097,644.3 1096,646.9 1095,653.1 1094,650.5 1093,655.6 1092,653.8 1091,655.0 1090,660.0 1089,654.0 1088,659.0 1087,655.4 1086,656.4 1085,659.9 1084,658.3 1083,658.7 1082,658.5 1081,659.5 1080,664.9 1079,664.8 1078,669.9 1077,672.4 1076,671.6 1075,670.9 1074,673.9 1073,679.8 1072,675.5 1071,681.2 1070,686.4 1069,680.7 1068,681.7 1067,685.8 1066,686.2 1065,688.7 1064,689.7 1063,688.4 1062,691.7 1061,705.0 1060,718.8 1059,705.3 1058,701.9 1057,700.9 1056,697.8 1055,690.8 1054,691.0 1053,694.1 1052,697.6 1051,687.0 1050,684.7 1049,690.7 1048,697.4 1047,691.4 1046,685.7 1045,683.1 1044,680.2 1043,685.0 1042,693.1 1041,679.0 1040,682.6 1039,677.1 1038,680.1 1037,681.6 1036,684.0 1035,683.2 1034,679.9 1033,681.4 1032,678.6 1031,674.5 1030,675.7 1029,680.0 1028,681.9 1027,689.3 1026,699.8 1025,683.2 1024,689.6 1023,676.3 1022,675.0 1021,679.3 1020,677.7 1019,683.5 1018,689.5 1017,671.9 1016,670.9 1015,676.6 1014,680.7 1013,677.2 1012,674.1 1011,675.7 1010,670.0 1009,675.6 1008,682.3 1007,671.7 1006,669.6 1005,670.3 1004,665.2 1003,665.2 1002,665.4 1001,667.4 1000,666.3 999,667.3 998,668.8 997,673.6 996,680.1 995,684.3 994,670.4 993,673.2 992,673.7 991,682.4 990,678.0 989,679.5 988,685.8 987,679.9 986,678.8 985,679.2 984,676.9 983,679.5 982,678.5 981,674.1 980,675.7 979,677.6 978,679.5 977,684.0 976,676.1 975,676.4 974,667.7 973,668.9 972,669.4 971,667.8 970,671.4 969,671.8 968,669.9 967,672.9 966,677.0 965,667.2 964,672.8 963,672.1 962,673.0 961,676.9 960,675.6 959,675.6 958,674.3 957,676.1 956,682.8 955,682.5 954,677.7 953,679.9 952,681.6 951,677.9 950,679.3 949,680.1 948,684.5 947,681.7 946,685.6 945,684.8 944,687.9 943,684.3 942,682.5 941,685.1 940,691.3 939,694.1 938,685.1 937,676.1 936,677.0 935,681.5 934,679.3 933,677.3 932,677.7 931,679.3 930,677.7 929,679.4 928,682.8 927,689.8 926,683.6 925,685.3 924,685.9 923,684.6 922,684.6 921,687.1 920,688.5 919,684.3 918,690.2 917,698.0 916,689.0 915,692.0 914,682.9 913,683.5 912,686.8 911,688.8 910,683.4 909,676.6 908,674.5 907,677.0 906,680.9 905,677.6 904,675.8 903,678.3 902,681.5 901,687.0 900,688.1 899,689.5 898,695.0 897,686.8 896,690.8 895,690.8 894,692.7 893,699.5 892,702.9 891,695.3 890,695.7 889,689.5 888,685.6 887,687.4 886,688.4 885,688.4 884,685.7 883,683.3 882,679.7 881,683.6 880,682.4 879,681.2 878,684.3 877,683.9 876,683.5 875,681.8 874,681.3 873,685.6 872,686.1 871,686.4 870,690.9 869,697.7 868,698.1 867,695.1 866,698.3 865,700.9 864,702.0 863,691.5 862,695.8 861,689.3 860,690.4 859,691.2 858,689.8 857,692.0 856,686.6 855,685.7 854,695.9 853,707.6 852,685.6 851,686.0 850,686.6 849,685.6 848,685.8 847,688.6 846,689.7 845,687.4 844,684.7 843,688.9 842,695.1 841,691.7 840,694.8 839,690.2 838,693.9 837,694.9 836,699.9 835,700.2 834,689.8 833,689.2 832,687.8 831,689.0 830,684.8 829,685.0 828,685.6 827,687.0 826,689.7 825,696.3 824,686.9 823,683.6 822,683.8 821,685.2 820,684.8 819,684.7 818,681.4 817,682.0 816,685.7 815,687.4 814,695.8 813,705.7 812,690.9 811,695.0 810,695.9 809,696.4 808,694.0 807,695.8 806,696.5 805,700.7 804,700.5 803,702.8 802,706.3 801,707.5 800,704.0 799,700.2 798,700.9 797,702.6 796,702.2 795,709.5 794,708.9 793,718.2 792,703.5 791,700.3 790,700.8 789,702.0 788,701.5 787,704.9 786,707.5 785,704.8 784,706.8 783,697.8 782,697.7 781,699.1 780,700.3 779,706.6 778,711.3 777,704.1 776,710.4 775,717.1 774,714.7 773,712.7 772,714.3 771,711.3 770,712.6 769,714.2 768,718.0 767,723.7 766,714.0 765,714.3 764,717.4 763,715.4 762,720.5 761,711.8 760,709.9 759,712.5 758,711.6 757,714.2 756,715.7 755,719.8 754,712.8 753,711.3 752,709.7 751,712.1 750,710.0 749,710.4 748,709.9 747,712.5 746,710.9 745,710.6 744,714.4 743,714.8 742,715.8 741,716.4 740,715.1 739,714.8 738,714.3 737,715.6 736,713.8 735,712.9 734,716.2 733,719.3 732,713.9 731,714.4 730,719.3 729,715.7 728,717.2 727,722.3 726,713.1 725,715.7 724,718.9 723,713.8 722,716.0 721,719.9 720,718.0 719,715.2 718,717.8 717,720.6 716,728.7 715,737.3 714,729.7 713,723.3 712,722.3 711,721.1 710,723.0 709,719.5 708,721.2 707,720.6 706,721.5 705,722.5 704,722.4 703,721.8 702,721.5 701,727.7 700,721.9 699,719.3 698,719.6 697,715.3 696,714.0 695,714.4 694,714.3 693,712.7 692,710.8 691,708.2 690,711.1 689,709.9 688,707.9 687,706.9 686,707.6 685,710.0 684,712.9 683,708.8 682,709.2 681,709.7 680,709.0 679,708.2 678,708.8 677,709.9 676,712.8 675,719.1 674,713.1 673,713.7 672,716.0 671,716.2 670,714.6 669,713.0 668,713.3 667,713.6 666,715.6 665,717.3 664,715.5 663,718.5 662,708.6 661,709.6 660,709.7 659,711.8 658,713.8 657,716.3 656,710.3 655,714.1 654,720.4 653,716.4 652,714.9 651,715.6 650,718.0 649,721.6 648,725.4 647,731.4 646,728.7 645,729.2 644,734.1 643,736.0 642,736.1 641,737.0 640,739.7 639,735.8 638,731.1 637,729.1 636,729.0 635,727.0 634,727.0 633,725.4 632,726.6 631,727.9 630,725.1 629,723.5 628,728.5 627,729.7 626,732.4 625,729.5 624,731.2 623,728.7 622,731.0 621,733.6 620,727.1 619,725.0 618,726.5 617,726.8 616,725.8 615,726.9 614,725.5 613,726.3 612,726.3 611,728.2 610,724.2 609,728.0 608,727.9 607,729.3 606,730.4 605,734.0 604,735.5 603,740.6 602,728.7 601,731.1 600,728.7 599,731.6 598,733.5 597,731.3 596,732.1 595,730.4 594,731.2 593,734.1 592,733.2 591,730.4 590,730.3 589,730.2 588,731.0 587,730.7 586,731.2 585,729.1 584,728.8 583,728.8 582,731.8 581,725.5 580,727.3 579,729.7 578,731.9 577,732.3 576,736.4 575,729.3 574,730.3 573,731.0 572,732.5 571,727.8 570,728.0 569,728.3 568,730.4 567,727.2 566,727.1 565,731.5 564,740.3 563,730.2 562,727.8 561,727.6 560,729.6 559,734.0 558,728.7 557,728.6 556,730.6 555,731.4 554,729.6 553,728.8 552,732.9 551,735.7 550,735.1 549,737.3 548,735.3 547,736.6 546,736.4 545,736.4 544,740.3 543,736.7 542,735.2 541,735.3 540,734.0 539,734.5 538,734.1 537,732.9 536,733.0 535,729.7 534,730.0 533,729.5 532,726.7 531,727.2 530,726.6 529,728.6 528,729.9 527,730.4 526,727.7 525,728.2 524,729.2 523,731.8 522,733.5 521,731.7 520,732.2 519,731.0 518,730.6 517,731.9 516,731.4 515,732.3 514,733.7 513,732.8 512,732.9 511,737.0 510,732.7 509,733.9 508,730.9 507,730.1 506,736.8 505,745.0 504,738.6 503,737.9 502,738.6 501,738.5 500,738.2 499,738.5 498,742.3 497,747.1 496,743.0 495,742.6 494,742.5 493,741.1 492,741.0 491,740.3 490,741.7 489,744.1 488,744.0 487,745.2 486,745.1 485,745.0 484,742.7 483,746.0 482,750.4 481,745.2 480,749.8 479,750.6 478,753.5 477,746.9 476,746.1 475,743.9 474,742.4 473,743.8 472,741.9 471,743.0 470,743.5 469,740.5 468,738.4 467,739.7 466,739.7 465,740.4 464,741.3 463,741.6 462,740.7 461,743.7 460,745.5 459,750.0 458,739.2 457,740.5 456,741.5 455,743.2 454,746.6 453,746.9 452,745.1 451,740.8 450,740.6 449,740.3 448,743.3 447,748.8 446,742.1 445,743.3 444,739.8 443,739.7 442,742.2 441,742.8 440,745.1 439,739.2 438,739.0 437,741.1 436,737.9 435,737.8 434,739.4 433,742.2 432,740.3 431,740.2 430,743.3 429,750.0 428,736.9 427,737.6 426,740.7 425,744.0 424,736.9 423,738.8 422,744.5 421,741.5 420,739.7 419,739.7 418,741.2 417,740.2 416,738.8 415,736.5 414,737.3 413,739.8 412,741.4 411,737.9 410,737.2 409,742.7 408,744.2 407,740.6 406,740.6 405,740.2 404,739.8 403,741.0 402,744.5 401,748.8 400,743.3 399,743.9 398,738.7 397,743.7 396,744.5 395,742.8 394,743.2 393,743.1 392,741.7 391,743.5 390,746.6 389,744.5 388,741.8 387,744.4 386,745.5 385,744.6 384,749.6 383,744.1 382,743.8 381,748.6 380,754.2 379,748.6 378,752.9 377,745.0 376,746.4 375,748.7 374,746.2 373,748.9 372,752.1 371,750.3 370,753.1 369,752.3 368,752.6 367,751.6 366,750.9 365,753.2 364,751.9 363,750.6 362,749.3 361,749.3 360,752.0 359,753.0 358,754.6 357,755.3 356,756.1 355,761.3 354,767.5 353,758.0 352,758.5 351,757.6 350,761.7 349,764.1 348,757.7 347,754.9 346,751.7 345,752.8 344,754.4 343,756.1 342,750.3 341,749.4 340,749.3 339,749.8 338,751.0 337,746.7 336,748.8 335,748.5 334,749.1 333,747.4 332,750.3 331,755.1 330,753.8 329,748.5 328,748.6 327,749.8 326,749.1 325,748.1 324,747.3 323,749.2 322,748.8 321,747.6 320,747.6 319,748.2 318,748.6 317,748.5 316,750.3 315,752.9 314,749.5 313,750.4 312,749.3 311,749.3 310,752.7 309,748.7 308,753.3 307,755.2 306,751.2 305,749.9 304,754.0 303,761.5 302,747.7 301,747.5 300,748.2 299,751.6 298,751.3 297,754.4 296,752.6 295,752.4 294,754.9 293,757.8 292,752.4 291,753.4 290,754.7 289,753.4 288,754.1 287,755.1 286,756.2 285,760.1 284,755.9 283,753.9 282,753.8 281,757.0 280,753.5 279,755.0 278,756.0 277,753.3 276,751.9 275,753.0 274,755.7 273,757.3 272,757.4 271,758.2 270,756.1 269,757.8 268,760.0 267,765.4 266,762.4 265,757.8 264,758.3 263,762.8 262,765.6 261,762.8 260,764.7 259,762.9 258,762.6 257,763.5 256,763.4 255,760.6 254,760.1 253,761.5 252,759.5 251,758.6 250,759.5 249,762.0 248,756.4 247,756.3 246,765.5 245,774.7 244,764.9 243,761.4 242,758.9 241,764.0 240,765.5 239,761.0 238,762.2 237,763.2 236,762.8 235,763.7 234,765.1 233,766.6 232,765.6 231,768.2 230,771.7 229,776.1 228,768.3 227,768.8 226,768.0 225,769.5 224,768.3 223,770.5 222,771.2 221,772.9 220,777.0 219,770.2 218,768.5 217,768.3 216,767.4 215,765.9 214,765.0 213,765.3 212,764.2 211,763.3 210,762.9 209,764.8 208,764.1 207,764.1 206,766.9 205,761.2 204,763.2 203,764.1 202,763.8 201,765.2 200,764.8 199,762.7 198,763.5 197,761.8 196,763.9 195,761.9 194,762.4 193,760.1 192,762.4 191,767.8 190,761.5 189,763.5 188,764.1 187,765.0 186,765.4 185,766.5 184,764.9 183,766.2 182,768.9 181,766.9 180,766.3 179,767.7 178,766.2 177,765.3 176,763.6 175,764.5 174,762.4 173,762.6 172,764.3 171,762.6 170,762.2 169,761.5 168,760.2 167,759.6 166,758.9 165,759.2 164,759.9 163,760.7 162,760.4 161,760.5 160,758.5 159,757.0 158,755.1 157,753.1 156,750.9 155,749.3 154,747.5 153,745.9 152,744.5 151,742.6 150,740.9"/><polygon fill="#fa0000" points="150,725.3 151,722.8 152,720.1 153,719.0 154,717.4 155,716.0 156,713.4 157,710.6 158,709.2 159,707.5 160,705.5 161,702.4 162,702.3 163,701.8 164,701.5 165,700.5 166,701.5 167,697.6 168,698.6 169,698.4 170,698.4 171,692.3 172,695.5 173,698.3 174,698.3 175,699.9 176,700.3 177,699.6 178,700.1 179,700.1 180,700.7 181,701.1 182,702.0 183,701.5 184,700.5 185,700.7 186,700.7 187,703.7 188,703.8 189,703.6 190,705.3 191,705.3 192,703.3 193,704.9 194,704.1 195,704.3 196,704.6 197,705.1 198,703.3 199,702.2 200,703.2 201,703.4 202,701.0 203,701.7 204,701.0 205,699.8 206,699.5 207,696.3 208,697.3 209,697.7 210,699.4 211,694.8 212,693.8 213,696.1 214,697.2 215,699.1 216,699.4 217,700.4 218,699.9 219,696.7 220,695.2 221,695.1 222,695.8 223,695.6 224,697.1 225,693.7 226,696.5 227,695.8 228,695.2 229,694.6 230,694.4 231,693.8 232,693.7 233,688.2 234,687.2 235,692.9 236,691.8 237,691.9 238,689.0 239,689.3 240,692.0 241,692.0 242,690.9 243,690.4 244,690.7 245,687.9 246,687.6 247,688.4 248,688.2 249,688.1 250,684.1 251,685.8 252,686.3 253,687.7 254,688.1 255,686.4 256,687.6 257,687.5 258,686.8 259,688.1 260,687.9 261,688.4 262,686.8 263,687.3 264,683.4 265,684.9 266,685.9 267,686.9 268,687.0 269,687.1 270,685.9 271,687.0 272,687.1 273,686.9 274,688.5 275,687.4 276,689.8 277,689.3 278,688.3 279,685.9 280,682.5 281,685.2 282,687.4 283,684.2 284,687.0 285,686.8 286,687.4 287,687.3 288,684.7 289,684.5 290,686.8 291,686.0 292,685.9 293,687.0 294,683.6 295,683.1 296,681.5 297,682.5 298,680.5 299,680.3 300,680.7 301,680.3 302,675.8 303,678.7 304,678.4 305,674.3 306,677.4 307,677.0 308,676.9 309,673.1 310,674.3 311,675.9 312,677.4 313,676.8 314,677.1 315,674.8 316,675.3 317,675.7 318,677.0 319,667.7 320,670.4 321,672.2 322,671.7 323,667.3 324,669.1 325,670.6 326,671.2 327,673.4 328,669.2 329,669.2 330,667.9 331,667.0 332,668.5 333,669.7 334,670.6 335,669.0 336,669.8 337,670.3 338,669.8 339,672.1 340,672.1 341,675.0 342,671.4 343,673.3 344,674.0 345,673.8 346,673.1 347,673.0 348,672.8 349,673.2 350,672.5 351,671.5 352,668.1 353,667.5 354,669.2 355,670.3 356,669.3 357,666.5 358,669.7 359,668.7 360,668.8 361,669.0 362,669.6 363,669.3 364,668.0 365,670.4 366,671.3 367,668.8 368,666.9 369,669.3 370,670.4 371,671.2 372,669.8 373,669.4 374,662.5 375,665.3 376,668.9 377,666.4 378,666.7 379,666.3 380,666.5 381,664.2 382,665.6 383,663.3 384,663.1 385,663.4 386,660.8 387,660.2 388,661.0 389,660.4 390,659.3 391,656.6 392,657.4 393,657.1 394,654.9 395,655.9 396,655.9 397,657.1 398,657.5 399,651.4 400,654.6 401,657.7 402,655.5 403,655.5 404,655.1 405,653.9 406,645.3 407,646.6 408,647.9 409,651.2 410,652.4 411,653.4 412,654.7 413,655.0 414,655.7 415,655.6 416,653.0 417,654.1 418,651.1 419,651.9 420,649.2 421,647.7 422,646.5 423,649.2 424,646.0 425,645.1 426,647.5 427,647.9 428,647.4 429,644.7 430,643.9 431,645.3 432,646.5 433,647.3 434,646.2 435,646.8 436,647.9 437,646.7 438,647.1 439,646.1 440,645.4 441,646.4 442,647.5 443,649.3 444,648.5 445,649.3 446,652.0 447,652.2 448,651.4 449,651.4 450,649.2 451,651.5 452,650.2 453,648.3 454,649.2 455,645.7 456,648.1 457,652.6 458,650.0 459,648.2 460,648.1 461,647.4 462,649.6 463,651.4 464,650.3 465,650.6 466,643.8 467,645.7 468,648.9 469,651.3 470,650.6 471,652.2 472,656.7 473,656.3 474,656.2 475,649.1 476,649.7 477,651.6 478,649.1 479,647.7 480,645.3 481,645.9 482,648.5 483,649.5 484,646.8 485,641.9 486,646.2 487,641.0 488,645.3 489,646.0 490,646.7 491,644.7 492,644.2 493,648.0 494,647.7 495,643.5 496,646.2 497,645.1 498,640.6 499,641.1 500,645.0 501,645.6 502,645.4 503,644.0 504,642.6 505,644.5 506,644.1 507,645.3 508,643.1 509,643.0 510,641.4 511,641.7 512,639.5 513,639.5 514,638.7 515,639.4 516,639.4 517,639.9 518,632.5 519,638.6 520,639.7 521,638.5 522,640.6 523,632.8 524,638.7 525,640.9 526,640.8 527,641.3 528,640.7 529,641.4 530,638.5 531,638.7 532,639.5 533,640.0 534,639.3 535,638.0 536,637.0 537,636.6 538,635.4 539,634.4 540,635.1 541,635.8 542,637.3 543,636.6 544,632.0 545,632.6 546,630.6 547,630.6 548,629.3 549,628.7 550,630.5 551,633.6 552,635.0 553,636.2 554,635.7 555,637.4 556,637.6 557,637.9 558,633.6 559,632.0 560,634.4 561,630.9 562,632.7 563,632.9 564,633.1 565,635.4 566,634.6 567,632.4 568,633.8 569,634.8 570,631.1 571,633.9 572,634.8 573,635.2 574,633.9 575,632.4 576,626.3 577,629.8 578,628.7 579,632.7 580,632.1 581,627.6 582,626.7 583,631.7 584,635.8 585,630.6 586,632.1 587,634.2 588,631.0 589,630.3 590,628.4 591,627.5 592,624.6 593,624.5 594,628.9 595,625.2 596,628.5 597,629.2 598,627.4 599,629.1 600,623.8 601,623.6 602,626.1 603,624.8 604,619.5 605,620.7 606,622.5 607,623.5 608,623.2 609,621.3 610,623.7 611,624.0 612,625.2 613,618.4 614,622.5 615,624.1 616,623.2 617,616.0 618,618.6 619,619.0 620,617.1 621,618.0 622,618.7 623,618.5 624,619.1 625,619.6 626,620.9 627,618.1 628,611.1 629,617.0 630,619.9 631,617.3 632,621.3 633,620.6 634,621.9 635,620.1 636,619.3 637,621.1 638,619.9 639,620.0 640,616.7 641,612.2 642,615.4 643,617.6 644,615.9 645,618.2 646,612.0 647,616.2 648,617.3 649,617.1 650,615.8 651,605.9 652,610.0 653,616.2 654,618.3 655,618.6 656,618.8 657,622.8 658,623.2 659,625.4 660,625.2 661,625.0 662,621.8 663,624.3 664,621.9 665,623.0 666,619.0 667,617.5 668,615.5 669,613.5 670,614.3 671,616.6 672,617.4 673,619.7 674,617.2 675,619.2 676,622.3 677,623.8 678,625.3 679,624.5 680,617.7 681,615.5 682,621.0 683,619.2 684,620.8 685,623.0 686,624.1 687,624.5 688,622.5 689,625.8 690,626.5 691,626.0 692,625.8 693,625.3 694,624.3 695,627.5 696,626.6 697,628.6 698,626.9 699,625.4 700,624.0 701,623.5 702,622.5 703,616.1 704,618.3 705,617.0 706,619.1 707,620.3 708,619.4 709,620.6 710,620.7 711,618.4 712,615.7 713,614.9 714,612.6 715,609.1 716,612.3 717,612.8 718,609.6 719,611.2 720,612.1 721,612.3 722,608.8 723,607.8 724,609.2 725,606.8 726,604.8 727,603.7 728,607.2 729,605.8 730,594.6 731,600.5 732,603.1 733,602.6 734,601.7 735,601.4 736,598.8 737,599.0 738,595.5 739,592.0 740,594.0 741,596.4 742,596.3 743,598.8 744,597.7 745,598.6 746,591.3 747,593.9 748,596.7 749,596.4 750,596.6 751,594.0 752,595.3 753,597.9 754,595.9 755,596.5 756,598.2 757,599.6 758,595.0 759,594.4 760,594.2 761,589.8 762,591.8 763,595.9 764,594.6 765,593.2 766,597.4 767,600.9 768,603.0 769,604.9 770,605.1 771,601.9 772,601.1 773,599.9 774,602.5 775,601.9 776,602.3 777,600.6 778,596.3 779,597.2 780,598.8 781,600.2 782,592.7 783,596.5 784,600.7 785,598.8 786,594.8 787,595.2 788,589.6 789,594.1 790,595.8 791,594.1 792,593.9 793,585.6 794,590.4 795,589.9 796,593.9 797,591.0 798,594.5 799,587.2 800,593.7 801,597.9 802,596.7 803,595.8 804,594.0 805,591.3 806,591.3 807,590.9 808,590.0 809,586.5 810,588.4 811,586.9 812,591.2 813,590.7 814,589.7 815,590.1 816,587.5 817,587.9 818,588.1 819,586.8 820,588.9 821,575.0 822,579.0 823,585.0 824,579.5 825,582.2 826,580.7 827,583.4 828,588.7 829,585.7 830,574.3 831,580.6 832,585.3 833,587.7 834,586.9 835,586.3 836,585.8 837,586.5 838,587.3 839,587.7 840,585.0 841,575.5 842,580.4 843,586.2 844,585.5 845,586.8 846,587.9 847,581.5 848,585.0 849,586.1 850,584.2 851,584.4 852,588.1 853,585.4 854,583.9 855,584.0 856,585.0 857,582.2 858,581.1 859,582.3 860,583.3 861,583.2 862,582.7 863,580.9 864,579.8 865,579.0 866,578.1 867,578.6 868,577.4 869,576.1 870,578.9 871,578.4 872,572.3 873,576.3 874,575.0 875,576.6 876,576.4 877,577.2 878,579.4 879,580.9 880,580.9 881,579.7 882,576.9 883,575.1 884,577.1 885,578.3 886,577.7 887,577.5 888,575.3 889,576.3 890,576.6 891,577.8 892,577.5 893,578.1 894,577.3 895,575.5 896,569.0 897,572.8 898,578.2 899,578.8 900,581.0 901,583.7 902,583.4 903,581.6 904,581.7 905,577.7 906,575.4 907,575.5 908,574.3 909,577.5 910,575.8 911,575.1 912,564.7 913,570.0 914,575.6 915,575.4 916,572.7 917,574.1 918,576.3 919,574.4 920,573.8 921,574.4 922,571.0 923,574.6 924,575.6 925,572.3 926,567.7 927,569.9 928,571.7 929,569.6 930,570.9 931,568.5 932,569.6 933,566.6 934,565.8 935,571.1 936,572.3 937,566.5 938,568.9 939,573.3 940,574.2 941,576.9 942,573.8 943,570.5 944,567.2 945,568.9 946,569.2 947,570.1 948,567.4 949,563.6 950,562.7 951,560.9 952,563.6 953,558.4 954,563.8 955,557.8 956,563.6 957,567.5 958,569.4 959,566.4 960,568.0 961,564.3 962,562.3 963,565.1 964,567.5 965,558.6 966,565.4 967,564.3 968,560.9 969,556.8 970,559.3 971,557.4 972,557.9 973,558.5 974,560.5 975,558.6 976,554.2 977,554.8 978,557.3 979,559.9 980,554.6 981,551.1 982,551.3 983,554.1 984,555.5 985,551.0 986,547.3 987,546.5 988,549.0 989,552.1 990,551.0 991,545.8 992,543.7 993,544.9 994,545.2 995,544.1 996,541.5 997,538.1 998,539.3 999,533.0 1000,530.2 1001,533.0 1002,528.9 1003,531.9 1004,531.1 1005,533.8 1006,530.5 1007,531.9 1008,529.8 1009,528.9 1010,526.8 1011,528.9 1012,531.6 1013,531.7 1014,530.7 1015,530.8 1016,527.2 1017,530.2 1018,532.4 1019,534.1 1020,530.1 1021,529.9 1022,530.8 1023,526.7 1024,523.5 1025,521.9 1026,526.2 1027,527.2 1028,526.8 1029,524.4 1030,526.7 1031,528.1 1032,526.4 1033,525.8 1034,521.9 1035,527.4 1036,527.9 1037,525.0 1038,526.5 1039,524.3 1040,522.9 1041,525.9 1042,525.6 1043,519.2 1044,522.4 1045,524.7 1046,523.4 1047,524.4 1048,525.5 1049,522.5 1050,521.0 1051,520.0 1052,518.1 1053,509.8 1054,516.8 1055,519.5 1056,523.6 1057,522.1 1058,519.5 1059,519.4 1060,507.4 1061,509.8 1062,510.0 1063,512.2 1064,513.1 1065,517.4 1066,517.0 1067,518.2 1068,516.8 1069,520.2 1070,509.2 1071,514.8 1072,522.0 1073,520.7 1074,514.8 1075,505.5 1076,512.0 1077,521.1 1078,520.2 1079,514.5 1080,513.4 1081,513.3 1082,515.8 1083,521.0 1084,521.1 1085,522.6 1086,524.1 1087,517.2 1088,519.4 1089,517.6 1090,518.5 1091,518.6 1092,522.3 1093,518.9 1094,514.6 1095,516.2 1096,517.6 1097,515.9 1098,503.8 1099,511.6 1100,517.2 1101,513.0 1102,512.5 1103,516.9 1104,518.7 1105,517.2 1106,519.5 1107,525.3 1108,524.1 1109,519.5 1110,524.4 1111,523.4 1112,524.8 1113,518.1 1114,519.9 1115,521.2 1116,521.1 1117,522.4 1118,519.6 1119,516.2 1120,520.0 1121,526.1 1122,520.9 1123,521.5 1124,520.6 1125,520.7 1126,523.3 1127,521.3 1128,525.7 1129,528.3 1130,528.1 1131,524.5 1132,522.9 1133,526.1 1134,526.6 1135,525.3 1136,522.4 1137,517.7 1138,520.1 1139,518.7 1140,518.2 1141,514.8 1142,515.0 1143,513.5 1144,515.5 1145,518.9 1146,518.3 1147,517.4 1148,516.4 1149,515.3 1150,511.9 1151,511.5 1152,513.3 1153,511.3 1154,512.7 1155,507.7 1156,509.1 1157,504.5 1158,505.4 1159,504.5 1160,501.0 1161,499.5 1162,503.3 1163,507.5 1164,504.2 1165,503.5 1166,498.7 1167,505.5 1168,508.2 1169,506.4 1170,503.3 1171,501.8 1172,497.9 1173,498.2 1174,481.0 1175,489.0 1176,491.2 1177,490.0 1178,489.9 1179,485.2 1180,485.3 1181,477.5 1182,477.0 1183,479.6 1184,473.4 1185,475.8 1186,477.5 1187,479.0 1188,477.1 1189,478.6 1190,475.5 1191,472.3 1192,465.7 1193,465.7 1194,468.9 1195,472.4 1196,474.5 1197,472.7 1198,471.5 1199,471.8 1200,476.3 1201,479.4 1202,479.6 1203,480.2 1204,471.3 1205,481.1 1206,483.0 1207,484.1 1208,485.5 1209,484.0 1210,481.3 1211,484.1 1212,483.0 1213,483.1 1214,483.2 1215,483.3 1216,487.3 1217,487.1 1218,478.9 1219,479.2 1220,478.0 1221,478.8 1222,476.7 1223,475.6 1224,474.0 1225,470.0 1226,465.7 1227,470.9 1228,472.2 1229,471.7 1230,472.4 1231,473.4 1232,474.7 1233,476.9 1234,471.6 1235,471.6 1236,468.6 1237,471.9 1238,474.2 1239,469.7 1240,473.6 1241,474.9 1242,472.9 1243,474.2 1244,468.0 1245,468.9 1246,467.3 1247,467.0 1248,469.8 1249,471.5 1250,475.1 1251,474.6 1252,474.6 1253,477.3 1254,479.6 1255,477.4 1256,471.2 1257,471.1 1258,467.9 1259,471.9 1260,465.8 1261,467.7 1262,462.9 1263,467.1 1264,471.6 1265,468.4 1266,468.6 1267,467.6 1268,468.3 1269,463.1 1270,464.8 1271,469.5 1272,473.9 1273,472.8 1274,465.3 1275,461.2 1276,461.4 1277,455.4 1278,456.8 1279,461.3 1280,456.9 1281,448.1 1282,453.3 1283,455.0 1284,457.6 1285,456.4 1286,451.8 1287,451.5 1288,456.5 1289,446.1 1290,454.0 1291,458.3 1292,459.7 1293,460.2 1294,454.1 1295,452.5 1296,449.8 1297,450.8 1298,449.4 1299,448.7 1300,438.8 1301,446.4 1302,445.1 1303,449.7 1304,450.9 1305,446.3 1306,446.5 1307,434.6 1308,444.5 1309,435.5 1310,443.5 1311,452.6 1312,457.0 1313,454.9 1314,445.0 1315,450.5 1316,443.1 1317,454.1 1318,456.7 1319,455.9 1320,459.4 1321,456.1 1322,442.9 1323,444.3 1324,447.5 1325,446.4 1326,448.8 1327,447.1 1328,444.7 1329,444.7 1330,448.5 1331,452.1 1332,453.8 1333,454.1 1334,454.7 1335,450.5 1336,444.6 1337,432.4 1338,440.4 1339,446.1 1340,450.6 1341,453.6 1342,449.3 1343,452.2 1344,452.3 1345,456.8 1346,458.8 1347,450.4 1348,454.9 1349,459.3 1350,457.9 1351,461.1 1352,459.3 1353,452.9 1354,452.6 1355,454.1 1356,441.7 1357,441.7 1358,444.7 1359,439.7 1360,442.6 1361,438.6 1362,442.6 1363,443.2 1364,442.3 1365,443.1 1366,445.5 1367,438.7 1368,441.7 1369,439.0 1370,437.0 1371,439.6 1372,442.4 1373,444.5 1374,439.9 1375,440.2 1376,432.4 1377,435.4 1378,441.7 1379,443.5 1380,441.4 1381,434.0 1382,428.6 1383,436.4 1384,441.6 1385,443.0 1386,443.3 1387,439.4 1388,437.4 1389,438.7 1390,439.0 1391,436.8 1392,437.2 1393,438.8 1394,438.9 1395,442.0 1396,442.5 1397,444.8 1398,440.3 1399,441.2 1400,435.5 1401,441.9 1402,440.2 1403,432.4 1404,438.5 1405,440.7 1406,441.7 1407,441.8 1408,440.2 1409,438.0 1410,436.1 1411,438.0 1412,433.8 1413,435.0 1414,435.1 1415,436.6 1416,437.8 1417,436.5 1418,437.3 1419,443.0 1420,445.9 1421,438.8 1422,440.4 1423,445.9 1424,445.7 1425,444.0 1426,436.9 1427,437.9 1428,432.3 1429,432.9 1430,437.6 1431,435.6 1432,435.4 1433,436.8 1434,437.7 1435,439.9 1436,441.8 1437,434.6 1438,437.5 1439,437.8 1440,429.9 1441,423.6 1442,428.8 1443,426.1 1444,431.0 1445,429.0 1446,433.5 1447,434.3 1448,434.4 1449,429.9 1450,430.1 1451,431.0 1452,429.4 1453,436.1 1454,435.1 1455,435.4 1456,430.5 1457,428.8 1458,427.2 1459,429.8 1460,426.1 1461,424.0 1462,418.7 1463,417.2 1464,421.4 1465,415.3 1466,421.3 1467,421.0 1468,414.7 1469,410.7 1470,417.7 1471,408.1 1472,417.6 1473,419.8 1474,418.2 1475,415.2 1476,410.6 1477,410.4 1478,403.2 1479,409.7 1480,408.1 1481,404.8 1482,399.6 1483,401.8 1484,399.9 1485,399.9 1486,401.4 1487,397.0 1488,396.8 1489,399.0 1490,400.5 1491,399.6 1492,403.8 1493,402.8 1494,398.9 1495,403.7 1496,404.8 1497,404.7 1498,402.9 1499,394.9 1500,397.2 1501,402.8 1502,402.4 1503,405.6 1504,407.2 1505,402.9 1506,402.4 1507,403.2 1508,402.4 1509,403.2 1510,401.9 1511,400.3 1512,402.8 1513,402.4 1514,395.5 1515,398.1 1516,400.0 1517,400.9 1518,397.4 1519,399.5 1520,399.3 1521,391.7 1522,389.3 1523,388.9 1524,393.7 1525,392.8 1526,389.7 1527,389.7 1528,389.0 1529,392.3 1530,387.3 1531,385.0 1532,389.2 1533,391.0 1534,395.9 1535,395.7 1536,393.8 1537,389.8 1538,389.7 1539,386.8 1540,383.9 1541,387.0 1542,385.4 1543,385.7 1544,386.9 1545,380.2 1546,380.2 1547,365.7 1548,371.0 1549,367.7 1550,364.6 1551,366.9 1552,366.7 1553,359.4 1554,364.2 1555,366.3 1556,361.0 1557,366.7 1558,375.9 1559,372.6 1560,372.1 1561,369.1 1562,374.3 1563,369.6 1564,362.9 1565,367.3 1566,357.5 1567,359.7 1568,367.1 1569,364.6 1570,362.2 1571,366.3 1572,368.1 1573,370.4 1574,370.4 1575,370.8 1576,361.1 1577,368.5 1578,360.6 1579,352.0 1580,361.8 1581,363.2 1582,361.4 1583,362.5 1584,361.1 1585,365.0 1586,368.6 1587,366.7 1588,350.7 1589,358.2 1590,367.0 1591,354.5 1592,357.3 1593,358.2 1594,353.1 1595,358.9 1596,355.4 1597,347.5 1598,351.4 1599,350.9 1600,347.8 1601,346.5 1602,353.5 1603,355.1 1604,347.5 1605,339.4 1606,343.9 1607,334.5 1608,339.2 1609,344.5 1610,317.9 1611,330.8 1612,343.9 1613,340.5 1614,331.7 1615,338.9 1616,339.7 1617,336.1 1618,338.7 1619,338.0 1620,338.4 1621,336.8 1622,341.9 1623,340.9 1624,343.4 1625,344.7 1626,349.0 1627,350.0 1628,341.2 1629,346.0 1630,351.5 1631,354.3 1632,348.2 1633,356.9 1634,358.3 1635,350.7 1636,355.6 1637,352.0 1638,353.3 1639,354.1 1640,355.4 1641,349.6 1642,352.5 1643,352.3 1644,352.0 1645,351.4 1646,352.9 1647,339.7 1648,343.0 1649,346.5 1650,347.7 1651,339.3 1652,342.9 1653,348.3 1654,350.1 1655,347.5 1656,350.5 1657,348.0 1658,342.3 1659,348.5 1660,347.8 1661,347.4 1662,345.6 1663,351.6 1664,346.2 1665,346.2 1666,342.3 1667,333.0 1668,342.4 1669,348.1 1670,323.0 1671,339.9 1672,338.9 1673,341.3 1674,347.1 1675,346.8 1676,344.1 1677,342.0 1678,341.7 1679,336.5 1680,335.9 1681,335.6 1682,326.8 1683,329.5 1684,334.3 1685,332.6 1686,321.9 1687,323.8 1688,328.7 1689,327.6 1690,328.8 1691,326.1 1692,323.7 1693,325.8 1694,330.6 1695,324.5 1696,325.7 1697,326.8 1698,325.2 1699,324.8 1700,325.6 1701,326.0 1702,327.9 1703,325.5 1704,327.5 1705,320.3 1706,319.1 1707,308.3 1708,316.1 1709,321.0 1710,320.1 1711,312.7 1712,309.3 1713,308.4 1714,305.1 1715,304.4 1716,305.7 1717,306.7 1718,309.0 1719,306.1 1720,309.5 1721,306.0 1722,310.0 1723,304.8 1724,303.0 1725,302.9 1726,303.7 1727,305.0 1728,296.2 1729,298.6 1730,300.3 1731,303.1 1732,305.4 1733,309.2 1734,305.5 1735,305.5 1736,309.9 1737,309.6 1738,312.4 1739,307.6 1740,303.2 1741,306.3 1742,307.8 1743,310.5 1744,308.5 1745,310.0 1746,307.7 1747,305.8 1748,305.0 1749,300.1 1750,302.1 1751,305.0 1752,302.3 1753,298.7 1754,299.2 1755,270.0 1756,281.0 1757,296.6 1758,296.7 1759,300.4 1760,296.1 1761,295.7 1762,297.8 1763,294.1 1764,296.6 1765,299.1 1766,299.1 1767,295.0 1768,292.7 1769,292.1 1769,495.3 1768,502.2 1767,504.6 1766,506.6 1765,499.4 1764,506.3 1763,502.5 1762,500.1 1761,504.7 1760,499.8 1759,494.8 1758,492.9 1757,496.7 1756,500.8 1755,504.0 1754,505.7 1753,499.7 1752,501.7 1751,501.3 1750,504.7 1749,502.2 1748,500.0 1747,503.0 1746,503.0 1745,514.2 1744,510.0 1743,521.4 1742,495.2 1741,499.6 1740,502.5 1739,508.4 1738,501.0 1737,503.5 1736,503.4 1735,504.2 1734,509.0 1733,511.8 1732,506.6 1731,507.5 1730,511.0 1729,514.4 1728,513.9 1727,510.9 1726,505.6 1725,504.2 1724,505.0 1723,505.5 1722,510.2 1721,514.9 1720,503.6 1719,509.4 1718,511.0 1717,513.7 1716,509.3 1715,513.4 1714,516.3 1713,517.0 1712,507.7 1711,504.8 1710,507.7 1709,517.2 1708,535.6 1707,512.0 1706,505.6 1705,507.1 1704,507.9 1703,510.6 1702,516.4 1701,530.1 1700,507.3 1699,510.4 1698,511.7 1697,518.5 1696,521.1 1695,515.7 1694,521.4 1693,516.8 1692,515.0 1691,508.7 1690,509.0 1689,513.3 1688,510.8 1687,507.7 1686,514.2 1685,524.6 1684,530.9 1683,514.9 1682,513.1 1681,509.8 1680,516.3 1679,521.7 1678,511.9 1677,505.7 1676,510.6 1675,517.5 1674,519.5 1673,517.3 1672,524.3 1671,520.0 1670,517.8 1669,512.2 1668,515.8 1667,520.3 1666,523.6 1665,523.7 1664,525.1 1663,522.9 1662,527.6 1661,526.6 1660,532.2 1659,525.7 1658,525.6 1657,524.5 1656,521.7 1655,526.9 1654,526.5 1653,527.5 1652,524.7 1651,522.6 1650,529.4 1649,536.1 1648,527.8 1647,526.2 1646,524.3 1645,525.9 1644,527.7 1643,527.4 1642,531.1 1641,529.6 1640,533.4 1639,529.1 1638,530.9 1637,533.7 1636,538.1 1635,544.9 1634,539.7 1633,537.1 1632,536.9 1631,540.2 1630,536.1 1629,540.4 1628,544.9 1627,539.1 1626,539.4 1625,541.4 1624,540.2 1623,541.1 1622,544.9 1621,544.6 1620,538.4 1619,540.5 1618,542.6 1617,543.9 1616,547.3 1615,532.3 1614,530.6 1613,529.9 1612,532.3 1611,537.9 1610,528.1 1609,528.8 1608,526.3 1607,523.3 1606,530.1 1605,528.7 1604,526.5 1603,530.0 1602,527.4 1601,528.9 1600,531.9 1599,534.4 1598,532.8 1597,530.2 1596,527.1 1595,533.1 1594,535.6 1593,539.2 1592,536.7 1591,537.4 1590,537.5 1589,531.6 1588,530.4 1587,531.2 1586,533.8 1585,538.3 1584,534.8 1583,533.8 1582,536.3 1581,535.4 1580,540.1 1579,535.4 1578,537.3 1577,543.7 1576,542.6 1575,542.4 1574,544.9 1573,544.3 1572,543.7 1571,546.1 1570,540.8 1569,542.6 1568,541.5 1567,545.5 1566,542.6 1565,543.8 1564,540.1 1563,545.7 1562,548.7 1561,549.4 1560,549.5 1559,546.0 1558,546.3 1557,550.3 1556,557.3 1555,553.9 1554,555.9 1553,553.7 1552,550.2 1551,545.1 1550,550.2 1549,553.3 1548,549.3 1547,554.3 1546,554.7 1545,548.2 1544,548.2 1543,555.2 1542,550.0 1541,551.0 1540,546.7 1539,546.1 1538,541.8 1537,540.7 1536,540.6 1535,543.6 1534,547.2 1533,550.4 1532,545.7 1531,545.7 1530,543.9 1529,543.0 1528,545.2 1527,545.2 1526,547.8 1525,545.6 1524,545.1 1523,548.0 1522,554.3 1521,551.6 1520,551.1 1519,547.5 1518,548.9 1517,547.9 1516,550.5 1515,555.1 1514,560.2 1513,549.4 1512,544.7 1511,540.3 1510,535.8 1509,532.8 1508,537.2 1507,544.1 1506,541.4 1505,546.8 1504,541.4 1503,544.2 1502,537.1 1501,546.5 1500,561.9 1499,543.7 1498,543.6 1497,545.7 1496,549.3 1495,558.6 1494,552.3 1493,559.5 1492,549.9 1491,549.9 1490,548.8 1489,555.6 1488,552.4 1487,551.9 1486,556.0 1485,555.9 1484,558.7 1483,556.2 1482,557.7 1481,560.0 1480,563.5 1479,560.9 1478,566.7 1477,575.9 1476,574.6 1475,570.9 1474,570.8 1473,571.3 1472,572.7 1471,572.8 1470,577.5 1469,563.5 1468,566.6 1467,571.1 1466,574.4 1465,576.3 1464,588.0 1463,579.1 1462,574.0 1461,574.7 1460,571.3 1459,571.9 1458,576.7 1457,571.9 1456,574.4 1455,571.9 1454,572.2 1453,575.2 1452,573.6 1451,571.3 1450,572.0 1449,571.6 1448,571.2 1447,573.9 1446,573.7 1445,574.9 1444,568.7 1443,568.6 1442,573.7 1441,572.9 1440,572.1 1439,571.8 1438,577.8 1437,578.0 1436,575.5 1435,577.1 1434,576.3 1433,576.1 1432,569.9 1431,570.8 1430,570.1 1429,570.4 1428,567.0 1427,567.3 1426,566.7 1425,570.8 1424,579.3 1423,568.1 1422,569.6 1421,564.7 1420,564.5 1419,569.4 1418,564.1 1417,572.8 1416,576.1 1415,570.7 1414,573.2 1413,572.5 1412,573.7 1411,570.7 1410,571.3 1409,574.3 1408,578.0 1407,575.5 1406,574.0 1405,572.8 1404,574.5 1403,578.4 1402,578.8 1401,579.9 1400,574.0 1399,578.1 1398,580.7 1397,577.7 1396,577.4 1395,575.0 1394,581.5 1393,587.6 1392,583.4 1391,585.6 1390,580.2 1389,581.7 1388,583.5 1387,584.8 1386,580.7 1385,582.4 1384,579.6 1383,585.9 1382,589.5 1381,586.7 1380,589.8 1379,588.9 1378,592.5 1377,603.1 1376,589.5 1375,592.3 1374,595.2 1373,600.4 1372,598.5 1371,603.5 1370,595.4 1369,594.5 1368,591.4 1367,593.1 1366,591.8 1365,592.3 1364,593.9 1363,598.4 1362,589.7 1361,591.6 1360,588.5 1359,592.9 1358,600.4 1357,596.3 1356,605.6 1355,590.4 1354,586.5 1353,588.9 1352,587.2 1351,585.0 1350,591.0 1349,592.0 1348,593.0 1347,594.7 1346,598.7 1345,597.0 1344,596.1 1343,596.2 1342,597.0 1341,596.1 1340,596.0 1339,596.6 1338,596.4 1337,595.6 1336,596.7 1335,599.2 1334,599.4 1333,602.1 1332,600.3 1331,604.2 1330,605.3 1329,607.2 1328,609.7 1327,605.4 1326,600.9 1325,603.6 1324,604.0 1323,600.3 1322,604.1 1321,601.4 1320,605.2 1319,606.4 1318,603.6 1317,609.1 1316,606.8 1315,606.4 1314,612.0 1313,620.9 1312,613.3 1311,610.1 1310,608.8 1309,607.6 1308,609.3 1307,611.3 1306,612.0 1305,611.1 1304,610.1 1303,613.4 1302,614.9 1301,615.4 1300,614.8 1299,613.8 1298,617.0 1297,612.6 1296,613.4 1295,611.9 1294,618.4 1293,623.5 1292,616.3 1291,617.2 1290,615.7 1289,611.6 1288,614.0 1287,613.9 1286,617.6 1285,621.7 1284,622.0 1283,618.0 1282,622.5 1281,623.2 1280,622.1 1279,617.6 1278,617.1 1277,628.7 1276,628.0 1275,624.6 1274,622.8 1273,617.7 1272,617.6 1271,618.2 1270,620.0 1269,621.4 1268,622.5 1267,618.5 1266,616.7 1265,616.2 1264,618.6 1263,612.2 1262,611.1 1261,612.2 1260,615.9 1259,610.5 1258,610.9 1257,613.7 1256,613.2 1255,614.4 1254,610.8 1253,616.7 1252,611.3 1251,609.1 1250,608.7 1249,611.4 1248,611.1 1247,612.2 1246,614.0 1245,613.0 1244,611.2 1243,609.5 1242,613.5 1241,618.7 1240,619.0 1239,617.4 1238,617.8 1237,624.1 1236,618.2 1235,620.9 1234,612.8 1233,619.6 1232,626.0 1231,626.4 1230,615.8 1229,619.0 1228,625.1 1227,626.6 1226,623.3 1225,625.5 1224,623.4 1223,620.3 1222,617.3 1221,618.7 1220,620.4 1219,618.9 1218,620.4 1217,618.5 1216,620.3 1215,619.2 1214,623.3 1213,623.6 1212,629.1 1211,631.2 1210,625.7 1209,621.9 1208,620.0 1207,618.7 1206,622.3 1205,623.1 1204,625.0 1203,625.4 1202,626.4 1201,621.5 1200,617.5 1199,618.9 1198,619.2 1197,619.1 1196,620.1 1195,618.1 1194,621.3 1193,620.6 1192,621.4 1191,619.9 1190,620.1 1189,622.8 1188,624.3 1187,625.3 1186,622.9 1185,620.4 1184,618.5 1183,617.0 1182,621.7 1181,629.6 1180,621.1 1179,624.4 1178,625.7 1177,628.6 1176,627.0 1175,627.9 1174,630.6 1173,628.0 1172,627.4 1171,631.2 1170,632.8 1169,632.4 1168,632.4 1167,635.0 1166,632.7 1165,631.6 1164,627.0 1163,624.9 1162,625.8 1161,627.3 1160,627.4 1159,630.3 1158,628.7 1157,633.7 1156,640.6 1155,631.1 1154,626.2 1153,626.2 1152,624.9 1151,626.5 1150,629.6 1149,633.1 1148,625.8 1147,625.5 1146,623.5 1145,624.4 1144,627.8 1143,628.5 1142,626.5 1141,627.1 1140,632.0 1139,628.9 1138,630.5 1137,632.4 1136,627.4 1135,629.4 1134,624.0 1133,622.2 1132,626.3 1131,627.9 1130,630.3 1129,631.5 1128,633.8 1127,631.7 1126,634.5 1125,634.5 1124,629.7 1123,629.7 1122,628.8 1121,633.4 1120,637.3 1119,643.5 1118,634.8 1117,637.6 1116,637.4 1115,631.9 1114,635.8 1113,639.3 1112,633.2 1111,630.4 1110,628.6 1109,630.1 1108,632.1 1107,633.4 1106,633.2 1105,635.4 1104,640.2 1103,639.7 1102,641.6 1101,643.9 1100,646.1 1099,644.3 1098,642.3 1097,640.0 1096,642.2 1095,646.6 1094,643.3 1093,638.2 1092,639.3 1091,647.3 1090,652.0 1089,645.0 1088,643.7 1087,653.9 1086,655.4 1085,641.3 1084,643.6 1083,642.5 1082,642.8 1081,642.9 1080,645.7 1079,648.7 1078,653.2 1077,649.5 1076,648.3 1075,649.8 1074,651.3 1073,648.4 1072,649.1 1071,650.3 1070,648.3 1069,646.9 1068,647.8 1067,650.5 1066,649.4 1065,650.7 1064,647.8 1063,649.5 1062,652.1 1061,653.9 1060,652.4 1059,653.8 1058,656.0 1057,655.1 1056,655.9 1055,661.0 1054,663.0 1053,657.2 1052,657.8 1051,658.0 1050,661.3 1049,661.7 1048,661.7 1047,663.6 1046,662.8 1045,661.8 1044,659.6 1043,661.0 1042,663.7 1041,663.2 1040,662.8 1039,664.2 1038,659.7 1037,660.7 1036,660.6 1035,656.6 1034,655.8 1033,658.8 1032,659.2 1031,656.7 1030,659.6 1029,659.8 1028,661.8 1027,664.0 1026,659.8 1025,660.7 1024,660.2 1023,659.9 1022,660.4 1021,659.7 1020,658.4 1019,657.6 1018,659.9 1017,658.0 1016,661.0 1015,663.9 1014,665.2 1013,670.1 1012,663.8 1011,668.0 1010,669.0 1009,671.7 1008,667.4 1007,669.3 1006,668.6 1005,664.6 1004,664.2 1003,664.2 1002,664.4 1001,665.2 1000,664.9 999,666.3 998,667.8 997,665.3 996,658.1 995,663.6 994,666.9 993,672.2 992,663.4 991,663.9 990,665.8 989,668.5 988,662.7 987,661.3 986,657.1 985,658.5 984,664.5 983,669.4 982,658.2 981,662.3 980,662.0 979,661.3 978,664.5 977,659.6 976,662.2 975,665.1 974,660.0 973,657.0 972,659.1 971,655.4 970,657.8 969,654.6 968,655.9 967,659.6 966,661.0 965,660.2 964,663.1 963,655.7 962,662.5 961,656.4 960,656.9 959,656.6 958,657.5 957,655.8 956,653.6 955,656.3 954,658.0 953,657.7 952,656.7 951,661.2 950,659.6 949,655.2 948,656.1 947,662.8 946,670.1 945,656.2 944,655.6 943,656.7 942,658.0 941,658.6 940,658.1 939,666.7 938,673.2 937,664.0 936,661.6 935,660.4 934,659.1 933,657.6 932,655.0 931,657.3 930,662.7 929,667.9 928,658.4 927,657.6 926,659.1 925,659.2 924,663.4 923,666.5 922,673.0 921,678.2 920,666.1 919,667.8 918,670.3 917,665.6 916,665.8 915,669.1 914,672.0 913,667.9 912,669.1 911,668.0 910,668.5 909,669.3 908,667.9 907,672.9 906,669.2 905,668.2 904,670.5 903,663.5 902,665.9 901,668.9 900,671.4 899,675.2 898,669.3 897,673.8 896,680.6 895,674.8 894,679.5 893,675.8 892,676.6 891,676.8 890,677.8 889,674.9 888,673.1 887,671.4 886,674.7 885,677.2 884,672.7 883,673.5 882,672.0 881,674.2 880,679.4 879,674.3 878,679.2 877,682.9 876,677.3 875,674.6 874,676.6 873,675.4 872,672.9 871,676.8 870,677.2 869,674.5 868,672.3 867,671.2 866,672.8 865,673.5 864,674.3 863,676.7 862,676.6 861,679.2 860,678.2 859,674.3 858,678.1 857,682.7 856,683.0 855,682.0 854,677.6 853,677.0 852,675.3 851,675.9 850,673.1 849,674.8 848,674.6 847,671.5 846,672.3 845,676.9 844,682.3 843,674.5 842,671.6 841,670.9 840,670.9 839,674.1 838,673.3 837,675.3 836,674.9 835,672.0 834,672.5 833,672.5 832,673.9 831,675.5 830,681.4 829,676.9 828,677.4 827,679.3 826,677.4 825,680.5 824,681.7 823,678.9 822,680.2 821,683.4 820,682.0 819,682.9 818,680.4 817,681.0 816,682.7 815,685.4 814,688.6 813,684.2 812,683.2 811,686.6 810,684.4 809,682.1 808,683.4 807,682.2 806,682.5 805,684.6 804,679.0 803,682.2 802,686.8 801,680.2 800,681.3 799,681.9 798,681.5 797,683.9 796,679.7 795,686.0 794,687.0 793,688.0 792,689.2 791,687.0 790,685.5 789,688.1 788,690.1 787,687.7 786,689.4 785,691.2 784,692.1 783,688.7 782,687.5 781,691.4 780,690.5 779,688.9 778,691.7 777,695.6 776,689.7 775,688.8 774,688.2 773,687.1 772,689.2 771,687.0 770,684.6 769,687.9 768,691.4 767,689.1 766,687.4 765,691.3 764,691.7 763,689.7 762,696.9 761,702.0 760,695.5 759,692.9 758,691.0 757,690.7 756,691.4 755,689.6 754,690.9 753,692.4 752,691.1 751,691.2 750,695.5 749,695.0 748,691.6 747,694.4 746,693.6 745,695.8 744,697.1 743,689.7 742,690.6 741,690.9 740,692.5 739,698.2 738,701.9 737,694.0 736,692.4 735,696.1 734,691.7 733,693.9 732,696.5 731,692.6 730,689.4 729,693.3 728,689.6 727,687.4 726,691.3 725,695.8 724,691.5 723,694.7 722,692.2 721,695.1 720,693.0 719,691.2 718,693.0 717,692.7 716,693.1 715,699.9 714,702.6 713,700.7 712,698.9 711,699.2 710,700.2 709,700.6 708,703.8 707,700.7 706,702.6 705,702.5 704,706.9 703,705.3 702,706.8 701,706.9 700,707.3 699,706.1 698,705.4 697,702.6 696,701.4 695,701.7 694,703.6 693,698.9 692,698.7 691,699.0 690,700.4 689,700.1 688,699.4 687,699.6 686,700.5 685,703.3 684,705.7 683,701.3 682,697.2 681,697.3 680,697.8 679,699.5 678,700.8 677,701.5 676,697.4 675,698.1 674,696.9 673,698.5 672,698.7 671,699.0 670,700.0 669,698.8 668,701.4 667,707.5 666,701.0 665,699.1 664,699.6 663,700.1 662,696.1 661,697.7 660,701.5 659,698.9 658,697.9 657,699.6 656,699.6 655,698.7 654,698.8 653,700.7 652,702.2 651,703.4 650,706.5 649,697.8 648,696.3 647,696.8 646,698.9 645,699.6 644,703.0 643,696.9 642,698.9 641,702.8 640,705.4 639,702.4 638,703.8 637,702.6 636,705.3 635,709.0 634,705.2 633,704.4 632,704.8 631,705.8 630,708.9 629,703.9 628,705.8 627,708.2 626,706.9 625,707.5 624,709.5 623,709.6 622,711.1 621,714.6 620,708.9 619,707.5 618,707.2 617,705.5 616,707.8 615,709.2 614,712.3 613,714.6 612,712.6 611,713.6 610,713.6 609,711.4 608,713.3 607,714.1 606,712.8 605,713.7 604,714.8 603,713.9 602,713.5 601,715.2 600,715.3 599,715.9 598,713.7 597,713.3 596,715.9 595,720.4 594,714.9 593,715.1 592,712.7 591,714.4 590,718.1 589,718.8 588,717.7 587,717.4 586,716.1 585,716.9 584,719.1 583,714.8 582,716.9 581,715.1 580,713.5 579,717.9 578,721.1 577,720.8 576,716.1 575,713.9 574,713.8 573,714.4 572,714.4 571,714.0 570,714.1 569,715.6 568,715.2 567,716.7 566,716.2 565,715.2 564,714.3 563,712.5 562,714.1 561,715.1 560,714.9 559,714.6 558,715.7 557,714.9 556,717.2 555,718.7 554,723.7 553,717.1 552,716.5 551,716.6 550,719.3 549,721.0 548,714.9 547,711.9 546,712.5 545,714.1 544,715.9 543,717.6 542,718.4 541,715.9 540,717.6 539,718.2 538,715.3 537,715.6 536,715.8 535,717.3 534,718.9 533,719.1 532,720.7 531,720.7 530,725.2 529,722.8 528,722.5 527,725.2 526,726.7 525,723.8 524,723.3 523,723.0 522,725.2 521,722.9 520,726.2 519,727.0 518,727.4 517,725.5 516,725.8 515,726.4 514,725.0 513,728.2 512,727.7 511,728.2 510,728.0 509,728.8 508,729.6 507,729.1 506,731.8 505,727.3 504,728.7 503,731.4 502,726.7 501,727.8 500,726.1 499,729.9 498,728.2 497,727.3 496,726.5 495,725.9 494,723.4 493,728.1 492,733.6 491,726.0 490,728.1 489,728.1 488,725.7 487,727.4 486,730.5 485,728.2 484,726.8 483,726.9 482,727.7 481,729.5 480,729.5 479,729.1 478,731.4 477,727.1 476,726.9 475,727.1 474,731.0 473,732.7 472,732.6 471,729.1 470,728.8 469,731.0 468,728.5 467,726.9 466,731.1 465,734.5 464,728.1 463,726.1 462,726.0 461,727.3 460,727.8 459,730.0 458,730.7 457,729.0 456,727.3 455,726.8 454,730.2 453,732.7 452,727.8 451,728.9 450,729.2 449,728.5 448,728.0 447,728.6 446,729.8 445,731.0 444,729.2 443,731.8 442,732.2 441,732.8 440,733.8 439,731.8 438,729.0 437,727.7 436,727.2 435,728.7 434,727.1 433,727.8 432,728.4 431,728.6 430,727.3 429,730.2 428,733.9 427,732.9 426,731.0 425,731.1 424,731.1 423,728.0 422,726.5 421,727.3 420,727.3 419,725.0 418,726.9 417,728.1 416,727.2 415,728.2 414,727.5 413,729.5 412,729.5 411,732.3 410,732.6 409,734.2 408,731.9 407,734.5 406,737.4 405,739.2 404,737.8 403,734.6 402,734.9 401,734.8 400,734.7 399,735.3 398,735.9 397,734.1 396,733.9 395,736.9 394,735.0 393,734.4 392,735.0 391,736.4 390,736.2 389,735.0 388,733.0 387,736.5 386,739.4 385,738.3 384,734.5 383,736.5 382,732.4 381,730.6 380,732.9 379,735.6 378,734.4 377,736.2 376,738.5 375,740.7 374,736.0 373,737.7 372,736.1 371,736.6 370,737.6 369,736.5 368,737.3 367,739.0 366,740.1 365,741.7 364,741.6 363,739.9 362,740.5 361,738.7 360,741.9 359,743.6 358,742.5 357,742.2 356,743.2 355,743.8 354,742.1 353,741.3 352,741.0 351,741.4 350,742.5 349,743.1 348,744.7 347,743.7 346,740.1 345,740.5 344,742.3 343,746.0 342,749.3 341,744.3 340,743.2 339,744.0 338,742.9 337,743.3 336,745.0 335,743.8 334,744.0 333,742.2 332,742.6 331,745.4 330,744.9 329,746.9 328,747.6 327,740.7 326,742.3 325,744.2 324,744.8 323,742.6 322,747.8 321,746.6 320,743.2 319,743.6 318,744.4 317,742.7 316,742.8 315,740.9 314,740.8 313,739.0 312,737.6 311,736.7 310,735.7 309,736.0 308,734.9 307,735.8 306,733.5 305,734.8 304,736.3 303,734.4 302,735.7 301,737.8 300,738.9 299,740.4 298,741.5 297,742.9 296,740.7 295,740.0 294,738.2 293,739.1 292,740.8 291,743.3 290,740.5 289,740.2 288,741.5 287,741.6 286,740.9 285,741.9 284,740.5 283,739.9 282,741.3 281,743.1 280,745.9 279,744.0 278,742.6 277,743.2 276,742.7 275,743.6 274,743.0 273,744.5 272,746.1 271,749.3 270,746.9 269,746.8 268,747.8 267,747.1 266,749.4 265,751.3 264,746.8 263,748.6 262,750.7 261,748.9 260,748.8 259,749.6 258,749.1 257,749.0 256,748.8 255,749.5 254,748.6 253,748.5 252,751.5 251,749.2 250,750.3 249,750.6 248,753.1 247,755.3 246,755.6 245,753.0 244,753.7 243,752.4 242,752.4 241,753.7 240,756.2 239,753.7 238,756.5 237,754.1 236,754.7 235,754.4 234,756.9 233,756.3 232,754.8 231,755.3 230,756.1 229,756.5 228,756.4 227,758.7 226,756.3 225,754.3 224,756.1 223,756.2 222,757.6 221,757.8 220,758.2 219,756.6 218,756.0 217,758.5 216,759.2 215,759.2 214,758.8 213,758.1 212,758.7 211,758.9 210,757.5 209,758.1 208,756.1 207,755.2 206,755.3 205,756.1 204,756.0 203,754.7 202,755.7 201,757.8 200,754.5 199,755.7 198,755.6 197,754.4 196,756.0 195,755.7 194,754.7 193,755.9 192,756.6 191,756.6 190,756.9 189,757.4 188,756.1 187,756.5 186,756.5 185,754.0 184,754.1 183,752.9 182,754.2 181,756.2 180,757.8 179,757.6 178,752.7 177,754.3 176,755.2 175,752.3 174,752.8 173,754.0 172,752.8 171,753.0 170,753.6 169,752.7 168,751.6 167,752.9 166,753.8 165,754.4 164,749.9 163,749.5 162,750.3 161,750.7 160,750.6 159,748.8 158,748.2 157,748.0 156,746.2 155,745.7 154,744.5 153,743.4 152,742.0 151,741.0 150,739.2"/><polygon fill="#e00000" points="150,727.1 151,725.1 152,723.3 153,722.4 154,721.1 155,719.8 156,718.5 157,717.5 158,716.3 159,714.7 160,713.2 161,712.4 162,711.4 163,709.9 164,710.4 165,709.8 166,709.1 167,705.7 168,707.8 169,701.6 170,705.0 171,707.3 172,709.3 173,709.4 174,710.1 175,711.6 176,702.3 177,707.0 178,710.4 179,710.1 180,709.5 181,709.4 182,709.9 183,710.4 184,711.2 185,711.6 186,712.2 187,713.4 188,713.2 189,704.8 190,709.3 191,711.6 192,705.4 193,707.5 194,709.0 195,708.6 196,710.0 197,707.0 198,709.3 199,708.9 200,710.1 201,709.3 202,711.4 203,710.3 204,711.8 205,712.0 206,711.8 207,712.2 208,709.0 209,709.2 210,710.3 211,711.0 212,711.9 213,711.5 214,710.4 215,709.7 216,709.2 217,708.9 218,707.9 219,707.7 220,703.3 221,704.7 222,705.8 223,708.3 224,704.9 225,706.0 226,705.2 227,702.3 228,699.5 229,695.2 230,698.6 231,701.9 232,701.7 233,703.1 234,700.4 235,697.2 236,699.0 237,701.3 238,701.5 239,701.0 240,699.8 241,700.6 242,701.2 243,700.7 244,701.7 245,702.9 246,699.8 247,701.9 248,702.3 249,702.0 250,700.5 251,700.8 252,699.9 253,700.1 254,698.3 255,699.1 256,698.1 257,697.7 258,693.9 259,695.1 260,696.9 261,692.2 262,694.6 263,696.5 264,696.0 265,692.4 266,693.3 267,691.9 268,694.0 269,694.9 270,693.4 271,692.6 272,693.9 273,693.0 274,694.9 275,694.8 276,694.0 277,694.8 278,694.0 279,689.8 280,692.3 281,692.8 282,694.2 283,691.4 284,691.6 285,692.1 286,692.6 287,693.5 288,695.3 289,695.3 290,691.2 291,694.0 292,696.1 293,695.6 294,694.5 295,694.6 296,693.4 297,693.2 298,695.3 299,688.2 300,691.7 301,693.1 302,694.7 303,692.2 304,689.8 305,690.8 306,690.2 307,687.7 308,687.5 309,689.2 310,689.2 311,689.4 312,688.8 313,688.1 314,687.1 315,682.8 316,684.6 317,686.5 318,687.0 319,687.4 320,688.0 321,686.6 322,687.5 323,689.0 324,689.0 325,687.1 326,687.8 327,688.9 328,686.8 329,687.2 330,686.8 331,687.0 332,685.3 333,684.6 334,684.1 335,685.0 336,683.7 337,683.1 338,679.5 339,680.9 340,682.3 341,682.6 342,684.2 343,684.2 344,682.6 345,683.2 346,682.2 347,681.2 348,679.4 349,678.5 350,681.6 351,679.2 352,681.3 353,681.2 354,680.6 355,679.5 356,680.1 357,680.8 358,680.0 359,679.5 360,680.6 361,679.3 362,682.3 363,680.5 364,681.3 365,680.0 366,680.0 367,681.2 368,679.1 369,681.2 370,681.7 371,680.4 372,680.8 373,682.8 374,682.5 375,676.5 376,679.8 377,682.3 378,681.4 379,679.1 380,681.2 381,680.8 382,680.3 383,680.5 384,678.4 385,678.6 386,679.0 387,679.2 388,678.6 389,678.5 390,678.6 391,678.8 392,677.7 393,676.0 394,676.3 395,673.1 396,672.7 397,671.4 398,671.3 399,668.5 400,669.5 401,665.0 402,666.0 403,669.1 404,667.6 405,668.0 406,668.9 407,669.0 408,670.8 409,670.4 410,669.8 411,669.9 412,669.2 413,668.4 414,667.3 415,668.6 416,667.2 417,666.3 418,666.9 419,666.7 420,667.5 421,667.1 422,668.7 423,667.0 424,668.2 425,667.1 426,666.7 427,658.0 428,661.4 429,662.8 430,661.8 431,662.0 432,664.0 433,665.2 434,664.1 435,660.6 436,661.7 437,662.6 438,664.3 439,664.6 440,656.0 441,657.3 442,661.7 443,663.5 444,659.3 445,660.2 446,662.0 447,663.4 448,664.9 449,663.7 450,663.0 451,665.2 452,663.9 453,664.1 454,664.4 455,665.1 456,664.6 457,665.7 458,667.5 459,662.8 460,660.5 461,664.6 462,666.0 463,666.1 464,669.7 465,669.0 466,668.6 467,663.7 468,665.6 469,667.8 470,668.6 471,667.8 472,666.5 473,663.7 474,664.2 475,664.9 476,662.8 477,661.8 478,662.9 479,661.1 480,663.3 481,666.5 482,666.5 483,667.1 484,667.2 485,666.5 486,665.2 487,663.5 488,663.7 489,660.9 490,661.0 491,661.3 492,660.5 493,662.3 494,660.5 495,661.9 496,662.0 497,663.1 498,661.0 499,661.3 500,662.7 501,663.4 502,660.4 503,660.7 504,660.2 505,660.2 506,662.4 507,663.1 508,662.3 509,658.8 510,660.4 511,660.8 512,651.6 513,655.9 514,660.0 515,657.7 516,658.4 517,655.9 518,654.1 519,657.1 520,655.2 521,659.1 522,658.2 523,654.3 524,654.6 525,655.1 526,655.6 527,656.3 528,655.2 529,654.4 530,657.6 531,656.7 532,656.0 533,653.9 534,655.6 535,653.7 536,653.0 537,647.5 538,651.1 539,652.0 540,650.7 541,648.7 542,650.1 543,650.5 544,651.6 545,651.2 546,653.0 547,656.5 548,656.0 549,655.2 550,656.4 551,654.1 552,651.4 553,650.9 554,647.6 555,649.7 556,650.7 557,649.3 558,650.4 559,651.5 560,650.0 561,648.8 562,648.8 563,648.3 564,648.0 565,647.0 566,646.3 567,641.4 568,643.7 569,646.2 570,649.3 571,647.5 572,648.4 573,648.8 574,648.2 575,650.4 576,647.4 577,648.4 578,650.7 579,647.6 580,648.5 581,645.7 582,644.3 583,647.0 584,649.7 585,650.8 586,647.9 587,648.0 588,645.4 589,647.3 590,645.1 591,647.3 592,646.9 593,646.5 594,645.1 595,646.7 596,642.7 597,643.4 598,645.4 599,645.5 600,644.5 601,644.2 602,645.9 603,646.2 604,645.7 605,644.6 606,643.3 607,640.3 608,638.3 609,639.7 610,641.4 611,641.5 612,641.4 613,638.9 614,640.4 615,641.3 616,641.8 617,640.1 618,639.9 619,641.9 620,640.2 621,640.9 622,638.8 623,637.3 624,638.8 625,640.2 626,640.2 627,639.2 628,636.6 629,627.3 630,632.1 631,633.7 632,634.4 633,636.4 634,638.4 635,636.1 636,635.5 637,636.8 638,635.0 639,637.8 640,639.3 641,631.6 642,635.1 643,639.0 644,638.2 645,638.6 646,638.7 647,639.0 648,636.7 649,634.9 650,636.1 651,635.0 652,636.2 653,635.8 654,637.0 655,638.1 656,636.3 657,638.6 658,633.6 659,637.6 660,639.5 661,638.7 662,637.6 663,634.0 664,635.4 665,636.4 666,637.6 667,635.2 668,637.0 669,634.7 670,636.0 671,635.2 672,637.4 673,634.9 674,638.0 675,637.5 676,639.7 677,639.8 678,639.1 679,637.5 680,636.2 681,636.9 682,636.0 683,634.7 684,638.7 685,638.8 686,639.7 687,640.5 688,640.4 689,640.9 690,641.8 691,639.8 692,642.0 693,643.6 694,641.5 695,641.7 696,639.7 697,640.0 698,637.1 699,633.7 700,636.1 701,636.6 702,635.9 703,633.7 704,636.8 705,633.9 706,634.7 707,629.4 708,621.4 709,627.0 710,631.9 711,632.6 712,630.8 713,628.2 714,628.6 715,627.3 716,625.4 717,626.5 718,625.8 719,624.4 720,624.7 721,626.4 722,626.5 723,626.4 724,625.3 725,624.4 726,622.3 727,620.9 728,621.3 729,620.4 730,614.1 731,618.8 732,617.9 733,610.4 734,613.3 735,611.1 736,612.0 737,615.2 738,616.8 739,615.2 740,615.5 741,614.6 742,615.1 743,614.4 744,617.4 745,618.8 746,615.2 747,616.0 748,614.7 749,612.9 750,609.6 751,611.8 752,613.9 753,615.3 754,616.1 755,616.9 756,618.5 757,613.8 758,608.7 759,613.5 760,616.8 761,616.8 762,617.3 763,616.6 764,616.4 765,616.7 766,616.3 767,617.0 768,619.0 769,618.6 770,620.0 771,620.2 772,616.1 773,616.5 774,615.4 775,614.6 776,612.0 777,607.2 778,609.9 779,609.5 780,605.6 781,608.1 782,612.6 783,611.9 784,610.7 785,610.4 786,610.4 787,610.9 788,610.5 789,610.1 790,609.2 791,611.1 792,609.4 793,608.8 794,611.0 795,612.1 796,614.0 797,611.1 798,612.3 799,612.7 800,615.3 801,612.0 802,614.1 803,614.0 804,615.9 805,616.4 806,612.8 807,610.9 808,610.3 809,611.0 810,608.1 811,607.4 812,606.0 813,607.3 814,610.3 815,612.2 816,612.1 817,611.2 818,609.2 819,609.7 820,609.0 821,608.2 822,610.1 823,607.7 824,608.6 825,605.5 826,604.0 827,604.4 828,604.9 829,595.1 830,601.1 831,607.9 832,609.3 833,602.0 834,604.4 835,605.4 836,606.8 837,605.7 838,604.6 839,603.2 840,602.2 841,603.2 842,598.4 843,599.4 844,596.5 845,598.6 846,601.2 847,601.8 848,600.3 849,602.0 850,602.6 851,599.6 852,599.5 853,597.2 854,588.7 855,594.3 856,599.6 857,598.5 858,604.0 859,604.6 860,602.7 861,603.5 862,600.0 863,600.5 864,600.0 865,600.5 866,600.7 867,600.4 868,599.6 869,597.7 870,596.3 871,597.4 872,593.4 873,594.7 874,593.2 875,594.1 876,593.2 877,583.1 878,587.4 879,584.1 880,589.1 881,592.2 882,585.5 883,588.3 884,590.2 885,590.7 886,594.1 887,593.7 888,595.6 889,597.0 890,596.5 891,592.8 892,593.8 893,594.2 894,591.6 895,593.4 896,595.7 897,589.9 898,591.3 899,589.1 900,590.1 901,592.7 902,588.4 903,590.1 904,589.7 905,593.4 906,594.3 907,586.1 908,591.1 909,593.0 910,595.0 911,596.9 912,593.2 913,594.0 914,592.1 915,589.7 916,587.3 917,586.6 918,591.0 919,591.9 920,592.5 921,588.3 922,590.3 923,588.9 924,586.9 925,587.7 926,587.8 927,585.4 928,585.2 929,582.4 930,585.4 931,582.9 932,578.1 933,578.5 934,582.9 935,579.7 936,586.3 937,589.0 938,586.1 939,585.3 940,581.4 941,584.1 942,585.9 943,589.7 944,588.5 945,588.3 946,590.9 947,592.1 948,591.5 949,586.8 950,584.8 951,586.6 952,586.3 953,585.9 954,586.7 955,583.6 956,582.0 957,583.8 958,583.9 959,581.3 960,580.2 961,584.2 962,584.6 963,581.0 964,583.4 965,580.3 966,581.2 967,582.9 968,582.1 969,579.4 970,579.0 971,577.6 972,579.0 973,572.7 974,575.7 975,578.0 976,577.1 977,573.4 978,572.5 979,572.9 980,571.9 981,572.2 982,570.2 983,568.8 984,569.0 985,556.5 986,560.8 987,562.8 988,563.3 989,560.3 990,563.1 991,561.2 992,545.3 993,554.2 994,561.6 995,561.8 996,558.6 997,554.2 998,556.6 999,559.3 1000,559.2 1001,557.7 1002,556.3 1003,556.8 1004,558.3 1005,558.8 1006,559.9 1007,557.5 1008,557.5 1009,556.7 1010,554.4 1011,540.9 1012,548.2 1013,553.9 1014,555.7 1015,555.6 1016,554.3 1017,553.5 1018,553.5 1019,551.3 1020,548.5 1021,551.7 1022,550.6 1023,552.9 1024,553.2 1025,550.2 1026,547.7 1027,546.6 1028,547.3 1029,549.5 1030,549.2 1031,545.9 1032,548.1 1033,545.2 1034,546.1 1035,541.4 1036,542.5 1037,544.0 1038,538.5 1039,540.2 1040,542.8 1041,545.9 1042,544.9 1043,545.1 1044,543.2 1045,543.6 1046,543.7 1047,544.2 1048,541.8 1049,542.1 1050,540.9 1051,542.1 1052,542.4 1053,539.3 1054,541.6 1055,544.3 1056,545.4 1057,544.4 1058,541.2 1059,542.4 1060,542.3 1061,542.2 1062,540.4 1063,542.5 1064,543.1 1065,537.3 1066,543.0 1067,544.6 1068,540.2 1069,541.8 1070,543.4 1071,542.3 1072,539.1 1073,541.0 1074,532.2 1075,534.6 1076,537.3 1077,536.1 1078,538.0 1079,538.5 1080,540.3 1081,537.5 1082,532.7 1083,537.6 1084,539.8 1085,539.5 1086,540.3 1087,538.4 1088,536.0 1089,535.7 1090,540.4 1091,540.5 1092,540.3 1093,538.9 1094,534.9 1095,539.4 1096,543.3 1097,541.0 1098,542.1 1099,538.6 1100,539.4 1101,539.5 1102,536.0 1103,538.0 1104,536.2 1105,533.5 1106,533.5 1107,535.4 1108,531.9 1109,535.8 1110,538.3 1111,532.8 1112,536.4 1113,538.4 1114,537.5 1115,539.2 1116,537.1 1117,539.1 1118,534.1 1119,537.0 1120,540.5 1121,541.4 1122,540.7 1123,532.4 1124,533.1 1125,536.5 1126,540.5 1127,541.6 1128,541.7 1129,541.0 1130,536.8 1131,534.4 1132,535.7 1133,539.5 1134,537.8 1135,536.1 1136,537.9 1137,538.8 1138,540.5 1139,540.8 1140,541.4 1141,538.3 1142,537.4 1143,540.2 1144,541.8 1145,541.8 1146,539.3 1147,542.3 1148,532.5 1149,539.7 1150,546.0 1151,543.9 1152,541.9 1153,538.3 1154,536.7 1155,535.8 1156,535.0 1157,534.0 1158,533.4 1159,535.2 1160,533.3 1161,531.9 1162,533.0 1163,532.1 1164,530.2 1165,529.0 1166,531.1 1167,529.7 1168,531.5 1169,529.8 1170,528.2 1171,519.6 1172,518.2 1173,521.2 1174,522.3 1175,521.0 1176,517.4 1177,516.3 1178,516.2 1179,514.2 1180,511.9 1181,510.8 1182,510.7 1183,512.1 1184,512.6 1185,512.1 1186,507.9 1187,512.1 1188,512.2 1189,511.3 1190,507.1 1191,509.0 1192,509.0 1193,512.4 1194,504.1 1195,509.8 1196,513.7 1197,513.2 1198,512.5 1199,510.0 1200,512.2 1201,503.0 1202,509.1 1203,508.9 1204,509.6 1205,510.6 1206,506.8 1207,507.2 1208,505.3 1209,506.4 1210,503.4 1211,499.9 1212,503.5 1213,506.4 1214,503.7 1215,505.5 1216,504.7 1217,508.5 1218,506.7 1219,501.9 1220,500.6 1221,499.3 1222,502.2 1223,508.9 1224,507.5 1225,503.7 1226,501.8 1227,503.6 1228,503.4 1229,504.3 1230,496.1 1231,500.1 1232,502.9 1233,505.6 1234,505.0 1235,504.1 1236,504.7 1237,503.6 1238,503.8 1239,499.2 1240,497.0 1241,501.1 1242,502.3 1243,504.9 1244,505.3 1245,502.8 1246,503.6 1247,505.4 1248,504.6 1249,490.1 1250,496.5 1251,499.3 1252,498.2 1253,496.9 1254,493.8 1255,492.2 1256,493.6 1257,493.0 1258,494.3 1259,494.3 1260,497.1 1261,493.7 1262,496.1 1263,495.9 1264,496.4 1265,494.7 1266,488.6 1267,492.5 1268,490.9 1269,487.9 1270,491.5 1271,492.1 1272,494.3 1273,482.6 1274,487.9 1275,495.3 1276,493.6 1277,495.7 1278,496.0 1279,495.6 1280,499.8 1281,497.7 1282,495.7 1283,495.7 1284,492.7 1285,491.2 1286,494.6 1287,491.0 1288,487.2 1289,490.9 1290,492.1 1291,482.3 1292,486.8 1293,484.8 1294,484.8 1295,486.4 1296,485.5 1297,482.1 1298,483.0 1299,485.5 1300,486.3 1301,485.8 1302,480.5 1303,482.1 1304,482.0 1305,483.7 1306,482.0 1307,482.5 1308,484.5 1309,483.4 1310,486.8 1311,482.4 1312,486.9 1313,490.4 1314,486.3 1315,484.1 1316,485.4 1317,485.3 1318,482.6 1319,480.8 1320,480.3 1321,474.2 1322,473.6 1323,479.0 1324,480.9 1325,480.1 1326,479.4 1327,479.8 1328,481.5 1329,476.3 1330,471.6 1331,478.6 1332,478.6 1333,479.1 1334,475.2 1335,479.5 1336,481.3 1337,479.7 1338,476.5 1339,473.1 1340,475.4 1341,473.7 1342,475.3 1343,477.2 1344,477.8 1345,479.4 1346,477.5 1347,477.9 1348,480.6 1349,472.2 1350,476.5 1351,482.3 1352,475.2 1353,476.1 1354,477.4 1355,478.1 1356,482.7 1357,482.7 1358,483.5 1359,482.5 1360,481.3 1361,478.4 1362,477.7 1363,479.5 1364,476.8 1365,476.5 1366,475.0 1367,477.4 1368,479.2 1369,472.3 1370,467.4 1371,465.1 1372,469.4 1373,473.9 1374,471.9 1375,473.1 1376,473.5 1377,473.0 1378,471.5 1379,464.9 1380,466.0 1381,463.4 1382,468.5 1383,466.8 1384,466.8 1385,466.3 1386,466.7 1387,467.6 1388,468.4 1389,469.8 1390,471.5 1391,473.1 1392,472.9 1393,471.7 1394,472.1 1395,462.3 1396,465.5 1397,464.7 1398,464.9 1399,461.7 1400,464.1 1401,463.4 1402,457.7 1403,464.8 1404,467.5 1405,466.6 1406,470.8 1407,465.5 1408,463.9 1409,468.3 1410,464.3 1411,466.2 1412,466.7 1413,455.6 1414,459.5 1415,463.8 1416,461.8 1417,463.9 1418,462.8 1419,464.2 1420,465.8 1421,465.2 1422,466.9 1423,466.8 1424,470.6 1425,465.6 1426,466.8 1427,469.8 1428,459.5 1429,464.4 1430,469.2 1431,466.6 1432,462.5 1433,463.3 1434,462.0 1435,462.8 1436,464.0 1437,460.1 1438,463.2 1439,452.2 1440,457.9 1441,460.3 1442,463.3 1443,450.4 1444,455.8 1445,456.0 1446,460.0 1447,462.1 1448,458.0 1449,460.2 1450,460.2 1451,455.6 1452,454.2 1453,454.1 1454,455.5 1455,450.8 1456,448.6 1457,449.2 1458,446.5 1459,441.5 1460,444.4 1461,443.5 1462,440.3 1463,444.3 1464,446.8 1465,447.5 1466,447.9 1467,445.6 1468,446.9 1469,446.1 1470,444.8 1471,442.5 1472,443.0 1473,442.5 1474,439.1 1475,438.6 1476,435.4 1477,433.8 1478,434.9 1479,435.0 1480,432.3 1481,429.7 1482,431.0 1483,433.1 1484,436.2 1485,433.7 1486,432.8 1487,435.2 1488,432.2 1489,423.6 1490,431.9 1491,433.5 1492,438.2 1493,435.7 1494,436.3 1495,434.2 1496,435.6 1497,427.2 1498,420.5 1499,428.5 1500,430.5 1501,431.0 1502,434.6 1503,431.8 1504,427.6 1505,433.7 1506,432.3 1507,424.0 1508,429.3 1509,431.5 1510,428.9 1511,426.1 1512,431.5 1513,429.8 1514,428.5 1515,427.1 1516,428.1 1517,427.3 1518,429.5 1519,418.3 1520,424.0 1521,421.7 1522,418.9 1523,423.1 1524,429.6 1525,429.7 1526,426.4 1527,413.2 1528,419.6 1529,427.6 1530,421.6 1531,426.3 1532,428.8 1533,430.3 1534,424.5 1535,421.4 1536,420.8 1537,418.5 1538,413.5 1539,415.1 1540,414.1 1541,410.0 1542,402.7 1543,409.3 1544,415.6 1545,413.9 1546,413.1 1547,412.8 1548,412.1 1549,411.9 1550,413.9 1551,412.7 1552,405.3 1553,410.5 1554,410.6 1555,409.7 1556,407.9 1557,407.6 1558,400.7 1559,403.0 1560,405.7 1561,402.1 1562,406.1 1563,402.5 1564,405.4 1565,407.5 1566,407.5 1567,410.5 1568,403.8 1569,398.1 1570,402.9 1571,408.0 1572,408.4 1573,395.1 1574,400.6 1575,398.8 1576,405.3 1577,407.8 1578,403.9 1579,404.0 1580,402.6 1581,399.9 1582,397.3 1583,391.5 1584,383.1 1585,388.0 1586,387.5 1587,386.3 1588,388.1 1589,384.3 1590,391.1 1591,377.1 1592,383.4 1593,386.3 1594,391.8 1595,388.5 1596,390.3 1597,388.7 1598,384.3 1599,387.2 1600,390.5 1601,385.9 1602,387.4 1603,381.3 1604,380.6 1605,384.9 1606,385.4 1607,382.3 1608,379.2 1609,378.6 1610,368.0 1611,372.9 1612,377.8 1613,376.8 1614,373.6 1615,378.7 1616,381.8 1617,381.5 1618,383.8 1619,378.9 1620,380.7 1621,379.0 1622,380.3 1623,379.2 1624,384.8 1625,388.8 1626,387.5 1627,383.7 1628,387.6 1629,383.6 1630,383.3 1631,384.1 1632,373.1 1633,377.5 1634,379.4 1635,377.7 1636,375.6 1637,379.6 1638,384.4 1639,384.3 1640,382.9 1641,381.0 1642,382.3 1643,383.8 1644,383.2 1645,387.2 1646,390.1 1647,390.4 1648,387.5 1649,391.4 1650,388.7 1651,385.6 1652,388.2 1653,387.6 1654,382.4 1655,383.6 1656,385.7 1657,383.9 1658,380.5 1659,380.5 1660,378.5 1661,379.2 1662,377.1 1663,377.6 1664,375.9 1665,378.8 1666,371.9 1667,370.0 1668,368.4 1669,355.1 1670,362.5 1671,371.9 1672,343.6 1673,356.2 1674,368.4 1675,369.8 1676,367.5 1677,369.0 1678,371.7 1679,349.5 1680,363.2 1681,370.6 1682,374.4 1683,371.3 1684,371.5 1685,371.5 1686,367.2 1687,364.8 1688,367.7 1689,370.9 1690,369.7 1691,368.1 1692,364.7 1693,351.6 1694,362.9 1695,366.0 1696,358.2 1697,357.2 1698,359.5 1699,357.4 1700,354.0 1701,345.5 1702,335.3 1703,341.2 1704,348.9 1705,347.8 1706,343.7 1707,345.9 1708,341.5 1709,337.3 1710,340.6 1711,340.2 1712,343.7 1713,348.4 1714,345.4 1715,345.0 1716,344.2 1717,348.9 1718,350.7 1719,350.7 1720,343.8 1721,344.8 1722,343.8 1723,342.3 1724,343.5 1725,336.2 1726,341.8 1727,343.3 1728,344.0 1729,339.9 1730,336.1 1731,326.3 1732,336.9 1733,351.1 1734,348.3 1735,352.2 1736,346.5 1737,343.5 1738,343.2 1739,341.2 1740,333.6 1741,338.5 1742,331.4 1743,337.7 1744,341.5 1745,339.4 1746,327.3 1747,331.0 1748,334.6 1749,334.6 1750,325.5 1751,332.7 1752,338.6 1753,331.0 1754,334.3 1755,337.4 1756,331.9 1757,337.2 1758,336.8 1759,335.5 1760,337.9 1761,336.7 1762,341.5 1763,339.1 1764,340.9 1765,344.3 1766,343.3 1767,326.6 1768,336.2 1769,340.9 1769,484.1 1768,482.7 1767,484.1 1766,481.6 1765,484.4 1764,486.3 1763,483.7 1762,483.1 1761,482.6 1760,485.2 1759,476.5 1758,477.8 1757,485.3 1756,493.4 1755,485.3 1754,480.1 1753,483.1 1752,484.3 1751,475.4 1750,473.9 1749,471.8 1748,472.5 1747,478.7 1746,476.6 1745,479.6 1744,483.1 1743,488.8 1742,495.1 1741,486.5 1740,493.1 1739,499.3 1738,483.1 1737,485.2 1736,490.9 1735,479.6 1734,481.3 1733,482.2 1732,482.0 1731,479.6 1730,482.0 1729,482.9 1728,487.7 1727,475.8 1726,476.2 1725,480.2 1724,482.0 1723,483.5 1722,481.2 1721,486.9 1720,493.2 1719,487.0 1718,486.2 1717,485.5 1716,487.7 1715,487.5 1714,486.8 1713,487.0 1712,485.3 1711,488.7 1710,487.3 1709,490.5 1708,487.4 1707,488.5 1706,492.2 1705,487.6 1704,488.1 1703,485.8 1702,491.9 1701,495.6 1700,490.9 1699,491.9 1698,493.0 1697,491.7 1696,496.3 1695,490.8 1694,490.2 1693,489.3 1692,489.8 1691,488.3 1690,488.0 1689,490.1 1688,491.8 1687,493.6 1686,491.0 1685,494.4 1684,490.3 1683,487.3 1682,492.0 1681,492.1 1680,492.5 1679,491.8 1678,493.7 1677,500.3 1676,514.2 1675,504.1 1674,495.4 1673,501.4 1672,501.4 1671,501.1 1670,504.9 1669,514.5 1668,505.8 1667,505.3 1666,509.2 1665,502.3 1664,503.5 1663,505.4 1662,504.1 1661,511.2 1660,517.7 1659,514.5 1658,522.0 1657,511.1 1656,513.7 1655,519.2 1654,524.6 1653,510.1 1652,508.4 1651,506.9 1650,508.3 1649,509.1 1648,509.7 1647,514.6 1646,519.3 1645,511.8 1644,510.8 1643,508.3 1642,508.8 1641,503.7 1640,503.7 1639,506.7 1638,501.4 1637,502.1 1636,503.3 1635,505.0 1634,507.1 1633,513.8 1632,503.9 1631,506.1 1630,506.1 1629,502.8 1628,503.6 1627,500.7 1626,501.5 1625,504.5 1624,505.0 1623,509.8 1622,517.5 1621,514.8 1620,508.8 1619,508.3 1618,507.2 1617,506.2 1616,511.6 1615,513.1 1614,511.1 1613,513.3 1612,512.0 1611,507.4 1610,506.9 1609,503.0 1608,505.5 1607,504.9 1606,509.6 1605,513.1 1604,508.8 1603,510.9 1602,516.0 1601,507.3 1600,507.9 1599,504.5 1598,503.4 1597,504.6 1596,506.2 1595,505.2 1594,507.0 1593,505.5 1592,512.0 1591,518.5 1590,512.8 1589,518.7 1588,514.1 1587,509.9 1586,512.5 1585,520.6 1584,513.5 1583,507.4 1582,507.8 1581,511.1 1580,513.4 1579,517.6 1578,525.5 1577,514.2 1576,516.0 1575,522.2 1574,526.8 1573,517.4 1572,527.8 1571,520.7 1570,519.3 1569,522.5 1568,523.1 1567,525.9 1566,523.7 1565,527.0 1564,534.2 1563,526.7 1562,527.0 1561,530.5 1560,528.7 1559,524.1 1558,526.0 1557,524.5 1556,524.2 1555,526.4 1554,525.9 1553,524.2 1552,528.6 1551,530.5 1550,529.1 1549,529.5 1548,523.8 1547,524.4 1546,523.7 1545,530.5 1544,537.7 1543,527.9 1542,525.8 1541,526.1 1540,524.9 1539,518.5 1538,522.2 1537,527.6 1536,526.6 1535,530.0 1534,526.3 1533,528.1 1532,530.0 1531,531.9 1530,535.1 1529,536.1 1528,532.6 1527,531.7 1526,532.6 1525,527.5 1524,530.4 1523,532.2 1522,529.0 1521,528.8 1520,530.6 1519,533.0 1518,529.7 1517,528.6 1516,535.8 1515,530.5 1514,529.9 1513,532.5 1512,529.6 1511,529.6 1510,525.9 1509,523.4 1508,526.6 1507,525.3 1506,526.9 1505,534.5 1504,541.7 1503,533.6 1502,538.0 1501,527.6 1500,527.8 1499,529.9 1498,527.9 1497,528.2 1496,529.6 1495,530.6 1494,532.6 1493,530.8 1492,530.2 1491,532.6 1490,537.9 1489,541.8 1488,534.3 1487,543.9 1486,550.7 1485,539.7 1484,539.9 1483,542.2 1482,541.7 1481,541.8 1480,543.7 1479,546.8 1478,544.2 1477,547.0 1476,547.2 1475,550.2 1474,546.1 1473,549.5 1472,543.0 1471,551.1 1470,557.9 1469,541.5 1468,543.9 1467,543.7 1466,543.6 1465,549.3 1464,546.2 1463,548.2 1462,549.7 1461,550.6 1460,552.1 1459,554.4 1458,561.8 1457,574.5 1456,561.7 1455,556.4 1454,551.4 1453,553.7 1452,553.8 1451,551.9 1450,550.9 1449,555.3 1448,548.9 1447,553.7 1446,556.0 1445,555.4 1444,551.6 1443,551.6 1442,554.0 1441,553.8 1440,554.2 1439,560.0 1438,552.2 1437,556.5 1436,560.7 1435,547.8 1434,549.6 1433,554.1 1432,551.2 1431,550.3 1430,548.9 1429,551.0 1428,548.7 1427,552.1 1426,553.0 1425,552.1 1424,553.0 1423,551.5 1422,553.2 1421,552.6 1420,553.1 1419,551.2 1418,549.8 1417,553.5 1416,558.2 1415,556.5 1414,559.8 1413,558.5 1412,555.5 1411,554.7 1410,553.3 1409,554.5 1408,556.9 1407,553.5 1406,553.5 1405,554.1 1404,562.3 1403,576.9 1402,561.2 1401,562.4 1400,563.1 1399,559.6 1398,555.0 1397,555.8 1396,555.7 1395,561.0 1394,563.3 1393,557.7 1392,561.3 1391,559.4 1390,560.1 1389,561.6 1388,564.7 1387,562.4 1386,560.9 1385,561.8 1384,563.5 1383,563.9 1382,564.6 1381,568.9 1380,568.4 1379,571.1 1378,573.5 1377,575.2 1376,566.7 1375,572.8 1374,571.4 1373,572.8 1372,573.7 1371,573.2 1370,573.2 1369,571.3 1368,574.9 1367,578.1 1366,581.3 1365,592.6 1364,585.7 1363,577.6 1362,576.0 1361,572.8 1360,572.3 1359,571.3 1358,570.9 1357,568.8 1356,567.1 1355,570.0 1354,568.4 1353,568.7 1352,570.3 1351,573.6 1350,575.5 1349,566.8 1348,565.4 1347,568.1 1346,569.8 1345,566.9 1344,568.6 1343,567.7 1342,571.7 1341,572.8 1340,572.3 1339,576.6 1338,579.9 1337,575.2 1336,575.3 1335,576.6 1334,577.5 1333,576.0 1332,581.4 1331,582.1 1330,588.9 1329,590.8 1328,585.4 1327,586.8 1326,584.4 1325,586.6 1324,584.1 1323,581.4 1322,581.7 1321,581.6 1320,580.8 1319,583.8 1318,582.1 1317,579.7 1316,583.9 1315,589.4 1314,584.9 1313,585.0 1312,588.6 1311,588.7 1310,592.1 1309,590.6 1308,591.7 1307,596.1 1306,595.8 1305,597.8 1304,594.2 1303,592.5 1302,599.1 1301,604.3 1300,595.6 1299,594.0 1298,596.8 1297,602.0 1296,593.2 1295,597.2 1294,601.1 1293,595.9 1292,597.3 1291,596.5 1290,600.4 1289,606.2 1288,598.7 1287,598.0 1286,597.3 1285,598.8 1284,604.4 1283,597.8 1282,598.2 1281,597.6 1280,600.6 1279,598.5 1278,599.4 1277,600.5 1276,603.0 1275,598.8 1274,601.9 1273,601.7 1272,597.9 1271,598.4 1270,598.1 1269,595.5 1268,598.2 1267,597.6 1266,595.5 1265,593.2 1264,593.3 1263,594.6 1262,594.6 1261,595.3 1260,593.1 1259,597.0 1258,596.0 1257,592.2 1256,595.5 1255,594.9 1254,597.1 1253,599.9 1252,598.6 1251,596.2 1250,601.6 1249,604.9 1248,594.6 1247,590.7 1246,592.5 1245,592.0 1244,592.8 1243,588.9 1242,587.6 1241,588.6 1240,588.0 1239,588.5 1238,590.5 1237,595.8 1236,594.9 1235,596.7 1234,594.1 1233,594.9 1232,598.3 1231,596.5 1230,599.5 1229,602.2 1228,605.8 1227,609.3 1226,595.4 1225,599.7 1224,600.9 1223,599.8 1222,603.1 1221,604.0 1220,606.6 1219,607.5 1218,606.5 1217,608.6 1216,600.5 1215,603.9 1214,604.3 1213,601.9 1212,604.8 1211,605.5 1210,598.3 1209,600.0 1208,604.0 1207,608.0 1206,615.3 1205,604.7 1204,617.5 1203,629.8 1202,609.8 1201,615.1 1200,607.7 1199,609.5 1198,601.5 1197,605.5 1196,608.2 1195,602.4 1194,604.1 1193,608.1 1192,603.8 1191,606.8 1190,604.9 1189,606.8 1188,610.9 1187,603.9 1186,609.0 1185,613.5 1184,613.1 1183,614.3 1182,610.3 1181,612.9 1180,615.3 1179,618.7 1178,611.3 1177,612.5 1176,606.5 1175,608.5 1174,610.1 1173,611.5 1172,614.9 1171,615.3 1170,610.7 1169,607.9 1168,608.3 1167,610.5 1166,608.1 1165,610.5 1164,613.0 1163,610.2 1162,613.8 1161,618.0 1160,623.6 1159,613.5 1158,613.4 1157,613.6 1156,613.2 1155,615.6 1154,622.8 1153,621.4 1152,614.4 1151,613.0 1150,616.4 1149,617.1 1148,616.9 1147,619.5 1146,614.7 1145,614.6 1144,615.2 1143,613.5 1142,616.0 1141,614.3 1140,618.8 1139,620.6 1138,617.7 1137,617.1 1136,613.4 1135,610.3 1134,608.7 1133,616.4 1132,616.3 1131,613.5 1130,613.7 1129,613.1 1128,613.9 1127,614.3 1126,616.5 1125,620.8 1124,616.7 1123,617.8 1122,615.8 1121,621.0 1120,617.5 1119,617.6 1118,622.5 1117,624.9 1116,617.0 1115,615.2 1114,615.2 1113,614.4 1112,616.6 1111,620.5 1110,620.4 1109,624.5 1108,620.8 1107,616.2 1106,617.9 1105,618.1 1104,621.0 1103,628.2 1102,619.9 1101,622.8 1100,622.0 1099,625.5 1098,620.8 1097,623.2 1096,627.0 1095,624.9 1094,628.8 1093,626.2 1092,624.6 1091,626.6 1090,621.4 1089,621.6 1088,624.4 1087,626.9 1086,623.4 1085,622.2 1084,622.9 1083,623.9 1082,626.5 1081,627.4 1080,628.3 1079,628.7 1078,630.0 1077,629.1 1076,633.2 1075,628.4 1074,628.3 1073,626.6 1072,630.3 1071,634.8 1070,640.0 1069,628.6 1068,628.9 1067,628.7 1066,630.9 1065,629.4 1064,628.9 1063,628.9 1062,630.6 1061,634.2 1060,630.9 1059,632.6 1058,635.2 1057,631.7 1056,632.4 1055,632.1 1054,635.5 1053,638.4 1052,637.2 1051,640.7 1050,645.2 1049,651.8 1048,642.9 1047,644.4 1046,642.5 1045,641.9 1044,642.1 1043,642.1 1042,642.1 1041,644.5 1040,642.2 1039,640.3 1038,639.2 1037,644.7 1036,651.3 1035,639.7 1034,643.0 1033,640.2 1032,641.5 1031,643.1 1030,647.1 1029,642.5 1028,646.5 1027,645.3 1026,648.0 1025,647.5 1024,646.6 1023,643.8 1022,644.2 1021,643.4 1020,642.2 1019,643.7 1018,637.2 1017,637.8 1016,641.6 1015,643.3 1014,641.3 1013,639.9 1012,637.7 1011,639.4 1010,641.7 1009,641.1 1008,643.3 1007,648.5 1006,642.6 1005,641.5 1004,639.1 1003,639.6 1002,637.3 1001,637.4 1000,636.6 999,637.9 998,638.5 997,640.0 996,643.9 995,641.1 994,636.9 993,640.2 992,643.4 991,646.1 990,649.0 989,646.1 988,647.8 987,643.3 986,645.6 985,648.1 984,648.5 983,645.5 982,644.4 981,646.4 980,644.6 979,645.9 978,648.3 977,651.1 976,650.8 975,655.1 974,649.0 973,645.1 972,644.2 971,644.3 970,646.0 969,641.9 968,641.5 967,643.4 966,646.4 965,644.6 964,647.3 963,647.9 962,650.9 961,650.8 960,647.3 959,648.2 958,643.4 957,643.7 956,648.6 955,655.7 954,650.9 953,646.0 952,646.2 951,649.5 950,651.1 949,647.7 948,647.3 947,644.5 946,645.2 945,646.9 944,651.1 943,649.2 942,651.0 941,653.2 940,646.9 939,648.6 938,645.6 937,646.3 936,645.8 935,648.3 934,652.1 933,649.1 932,650.5 931,647.9 930,646.6 929,648.9 928,653.7 927,657.3 926,653.2 925,651.2 924,652.5 923,653.4 922,652.6 921,653.3 920,656.0 919,654.9 918,659.4 917,659.9 916,656.6 915,656.4 914,657.6 913,659.9 912,652.7 911,656.8 910,656.8 909,654.2 908,655.6 907,659.1 906,659.3 905,660.4 904,658.1 903,657.9 902,657.8 901,656.6 900,657.4 899,660.3 898,656.5 897,657.6 896,658.0 895,660.5 894,665.0 893,659.1 892,660.9 891,656.9 890,655.8 889,657.1 888,654.8 887,655.4 886,656.7 885,657.0 884,656.4 883,660.7 882,663.9 881,657.6 880,660.3 879,662.6 878,660.0 877,658.9 876,661.4 875,665.3 874,659.6 873,664.3 872,665.5 871,661.4 870,665.1 869,658.0 868,657.5 867,658.8 866,656.7 865,655.8 864,655.2 863,661.1 862,664.2 861,660.3 860,660.7 859,665.6 858,662.0 857,662.6 856,665.0 855,668.4 854,661.7 853,663.7 852,663.4 851,663.4 850,661.4 849,663.8 848,667.3 847,674.0 846,666.0 845,662.7 844,662.0 843,663.9 842,663.9 841,666.4 840,673.4 839,667.1 838,671.4 837,664.3 836,666.5 835,664.4 834,665.3 833,664.0 832,662.9 831,666.5 830,670.5 829,665.5 828,665.7 827,661.0 826,661.7 825,663.7 824,665.3 823,665.7 822,669.6 821,671.3 820,669.7 819,671.4 818,669.2 817,672.6 816,675.3 815,681.7 814,671.1 813,669.9 812,671.1 811,676.2 810,683.2 809,670.6 808,674.1 807,672.1 806,669.9 805,669.4 804,668.4 803,669.1 802,670.9 801,672.7 800,668.4 799,667.4 798,665.0 797,666.9 796,676.4 795,685.4 794,679.1 793,670.4 792,670.1 791,671.4 790,670.1 789,673.9 788,679.4 787,673.1 786,672.3 785,670.8 784,671.1 783,674.3 782,670.7 781,671.2 780,672.9 779,672.0 778,674.1 777,677.7 776,672.5 775,677.1 774,681.3 773,678.6 772,677.9 771,678.5 770,678.0 769,677.9 768,679.4 767,681.7 766,678.8 765,677.0 764,678.0 763,678.5 762,680.6 761,682.7 760,683.3 759,679.0 758,682.1 757,687.1 756,682.9 755,685.7 754,683.1 753,682.2 752,683.8 751,684.5 750,683.4 749,682.6 748,683.1 747,684.8 746,686.3 745,684.0 744,683.0 743,684.5 742,680.3 741,678.6 740,678.7 739,679.4 738,684.0 737,679.4 736,679.4 735,679.0 734,679.3 733,679.0 732,680.5 731,682.9 730,681.3 729,679.9 728,682.9 727,689.7 726,683.6 725,685.9 724,688.0 723,689.1 722,687.6 721,687.9 720,688.3 719,687.2 718,684.4 717,684.3 716,684.1 715,684.1 714,684.4 713,684.4 712,686.5 711,687.4 710,687.1 709,689.1 708,689.1 707,689.3 706,690.0 705,687.7 704,688.2 703,688.4 702,687.1 701,687.2 700,688.8 699,691.5 698,689.4 697,689.3 696,689.4 695,691.7 694,686.7 693,686.9 692,686.9 691,691.3 690,696.5 689,690.2 688,691.4 687,692.5 686,693.5 685,693.8 684,689.9 683,689.3 682,690.7 681,690.9 680,690.2 679,690.3 678,687.2 677,685.1 676,685.9 675,689.2 674,687.5 673,688.5 672,689.6 671,691.8 670,690.3 669,688.2 668,687.9 667,687.0 666,685.9 665,686.5 664,687.1 663,690.2 662,684.6 661,683.2 660,682.9 659,685.1 658,685.3 657,690.8 656,696.7 655,687.0 654,689.1 653,689.3 652,690.6 651,692.0 650,693.1 649,691.1 648,689.5 647,691.4 646,696.1 645,690.5 644,691.7 643,691.4 642,693.7 641,694.8 640,697.7 639,700.4 638,696.4 637,699.1 636,697.7 635,694.7 634,694.8 633,697.1 632,696.6 631,694.4 630,695.9 629,695.0 628,697.8 627,699.0 626,700.6 625,698.9 624,700.6 623,706.2 622,707.4 621,711.2 620,704.9 619,702.9 618,701.9 617,702.2 616,703.7 615,704.3 614,706.0 613,703.1 612,701.5 611,702.9 610,702.5 609,709.3 608,714.2 607,703.2 606,702.6 605,703.2 604,704.0 603,702.1 602,702.6 601,704.0 600,704.2 599,708.0 598,703.7 597,705.4 596,711.8 595,709.4 594,706.5 593,707.1 592,708.5 591,705.9 590,707.2 589,710.6 588,709.8 587,711.7 586,708.2 585,708.6 584,708.5 583,708.4 582,707.9 581,709.1 580,708.3 579,705.5 578,707.3 577,708.9 576,704.1 575,705.7 574,707.3 573,705.8 572,707.2 571,702.5 570,703.9 569,706.6 568,702.4 567,703.0 566,701.7 565,701.6 564,702.5 563,703.7 562,703.5 561,702.9 560,705.3 559,710.8 558,704.3 557,706.5 556,706.2 555,706.1 554,707.1 553,708.3 552,707.9 551,710.9 550,707.7 549,708.9 548,709.3 547,707.5 546,707.2 545,706.6 544,709.0 543,710.9 542,709.5 541,710.6 540,711.2 539,713.7 538,718.2 537,710.8 536,711.8 535,709.0 534,709.0 533,706.8 532,706.6 531,707.2 530,706.5 529,706.3 528,708.3 527,707.4 526,706.6 525,710.2 524,712.0 523,708.0 522,709.8 521,711.5 520,711.6 519,712.6 518,713.0 517,714.0 516,713.5 515,716.0 514,712.5 513,714.0 512,714.6 511,716.4 510,716.6 509,715.5 508,716.2 507,716.7 506,718.9 505,714.5 504,712.8 503,712.5 502,712.6 501,713.1 500,712.9 499,714.1 498,715.8 497,717.7 496,721.0 495,715.7 494,715.4 493,716.4 492,718.0 491,718.7 490,715.8 489,715.5 488,717.8 487,720.9 486,727.1 485,719.5 484,718.9 483,715.9 482,717.6 481,713.9 480,716.1 479,714.4 478,714.4 477,715.9 476,715.7 475,718.6 474,720.0 473,717.0 472,718.6 471,719.7 470,721.5 469,724.7 468,721.1 467,720.0 466,721.7 465,720.0 464,720.3 463,719.6 462,719.3 461,718.5 460,718.4 459,719.1 458,717.9 457,720.5 456,722.3 455,721.5 454,718.8 453,721.1 452,723.2 451,719.9 450,720.2 449,717.7 448,716.9 447,716.0 446,716.4 445,716.6 444,716.5 443,716.1 442,717.0 441,719.1 440,719.7 439,719.0 438,718.4 437,719.8 436,718.4 435,720.1 434,723.3 433,719.5 432,719.2 431,720.0 430,718.7 429,719.8 428,721.6 427,726.5 426,719.3 425,719.2 424,720.3 423,721.4 422,721.5 421,721.0 420,721.3 419,721.1 418,719.2 417,718.5 416,722.1 415,718.9 414,718.5 413,719.6 412,721.8 411,719.6 410,721.7 409,722.4 408,719.8 407,722.7 406,726.5 405,723.5 404,726.1 403,726.1 402,723.2 401,722.9 400,723.5 399,725.1 398,725.2 397,725.3 396,725.2 395,724.2 394,724.4 393,726.9 392,723.1 391,724.1 390,725.5 389,722.5 388,723.2 387,724.5 386,723.0 385,724.3 384,724.2 383,724.5 382,724.8 381,725.7 380,727.2 379,726.8 378,727.2 377,728.5 376,729.9 375,727.5 374,729.5 373,726.9 372,726.6 371,729.5 370,732.8 369,728.8 368,729.5 367,733.0 366,729.0 365,733.0 364,737.5 363,733.3 362,732.4 361,732.8 360,730.2 359,729.8 358,732.0 357,735.3 356,733.1 355,733.4 354,732.8 353,733.6 352,733.0 351,734.5 350,729.4 349,731.6 348,735.1 347,732.7 346,730.7 345,731.6 344,729.5 343,730.5 342,731.9 341,729.6 340,730.7 339,730.7 338,729.9 337,731.7 336,730.2 335,731.3 334,730.5 333,730.9 332,731.1 331,730.5 330,729.8 329,730.0 328,734.6 327,739.6 326,730.6 325,729.7 324,732.2 323,732.8 322,729.7 321,729.2 320,732.3 319,734.1 318,731.4 317,732.7 316,732.1 315,731.7 314,732.0 313,731.2 312,731.6 311,731.5 310,732.2 309,732.6 308,732.3 307,733.2 306,732.8 305,733.8 304,733.7 303,734.8 302,738.1 301,734.8 300,736.5 299,734.0 298,733.7 297,734.7 296,736.8 295,736.2 294,735.9 293,734.4 292,734.7 291,734.6 290,736.0 289,735.3 288,735.8 287,735.0 286,737.2 285,734.3 284,733.9 283,734.6 282,736.1 281,737.4 280,734.8 279,735.3 278,735.5 277,735.5 276,737.4 275,739.9 274,738.8 273,739.3 272,740.0 271,741.2 270,739.5 269,739.2 268,738.8 267,738.7 266,739.9 265,739.6 264,739.9 263,741.8 262,745.9 261,741.8 260,742.3 259,741.5 258,743.4 257,740.0 256,741.1 255,742.4 254,743.2 253,744.9 252,744.7 251,746.3 250,750.2 249,743.6 248,745.0 247,746.3 246,747.5 245,744.4 244,743.7 243,741.2 242,741.4 241,741.7 240,742.9 239,743.1 238,741.5 237,742.3 236,742.6 235,744.6 234,745.3 233,746.3 232,746.1 231,747.2 230,748.0 229,746.8 228,746.8 227,746.9 226,745.4 225,746.8 224,748.4 223,749.4 222,750.6 221,748.5 220,749.8 219,749.9 218,750.3 217,749.0 216,748.1 215,747.8 214,748.9 213,750.3 212,748.7 211,750.5 210,752.3 209,746.5 208,748.2 207,749.2 206,745.9 205,746.0 204,746.2 203,746.0 202,745.5 201,744.7 200,744.6 199,744.2 198,745.4 197,746.0 196,744.7 195,745.6 194,745.5 193,746.8 192,745.5 191,746.7 190,745.1 189,746.1 188,747.5 187,748.9 186,746.7 185,746.7 184,747.3 183,746.9 182,746.5 181,747.6 180,746.3 179,746.8 178,746.9 177,746.5 176,746.7 175,748.5 174,751.3 173,747.4 172,746.1 171,746.9 170,746.3 169,745.2 168,746.0 167,744.5 166,744.6 165,745.5 164,746.4 163,745.1 162,743.4 161,742.9 160,742.5 159,741.6 158,741.4 157,740.9 156,740.3 155,740.2 154,739.6 153,738.5 152,738.0 151,737.1 150,736.3"/><polygon fill="#c40000" points="150,727.8 151,726.2 152,723.9 153,723.5 154,723.2 155,722.4 156,721.3 157,719.2 158,718.7 159,717.7 160,716.8 161,716.4 162,716.4 163,715.2 164,715.0 165,715.2 166,715.0 167,714.1 168,714.1 169,714.0 170,710.9 171,711.8 172,713.0 173,714.1 174,712.5 175,712.9 176,712.9 177,713.9 178,712.9 179,712.4 180,713.4 181,714.4 182,715.1 183,714.9 184,714.1 185,714.5 186,715.4 187,714.9 188,712.3 189,711.1 190,713.6 191,714.9 192,715.3 193,713.9 194,713.9 195,713.8 196,714.8 197,710.8 198,712.3 199,712.1 200,709.8 201,711.1 202,712.9 203,713.3 204,711.6 205,712.5 206,713.7 207,715.2 208,714.7 209,714.9 210,712.3 211,713.7 212,713.9 213,713.3 214,712.7 215,712.4 216,711.3 217,711.7 218,711.7 219,710.3 220,710.7 221,710.1 222,708.3 223,708.1 224,708.4 225,708.2 226,705.8 227,706.3 228,706.9 229,706.1 230,705.3 231,705.3 232,705.4 233,705.3 234,705.7 235,706.3 236,706.2 237,704.0 238,704.1 239,704.0 240,704.5 241,703.5 242,703.7 243,703.5 244,699.9 245,702.3 246,703.3 247,700.9 248,700.5 249,701.8 250,703.3 251,703.1 252,697.5 253,700.0 254,701.8 255,701.3 256,701.7 257,702.5 258,701.9 259,702.0 260,701.7 261,700.4 262,702.9 263,703.5 264,704.2 265,702.8 266,702.1 267,702.8 268,701.7 269,702.2 270,702.1 271,701.8 272,700.3 273,699.7 274,698.2 275,697.4 276,693.0 277,694.3 278,694.7 279,695.1 280,695.1 281,696.2 282,696.4 283,697.3 284,694.5 285,695.2 286,693.3 287,694.3 288,694.9 289,693.2 290,695.2 291,696.0 292,694.8 293,696.0 294,696.0 295,696.4 296,697.2 297,697.7 298,694.7 299,695.2 300,695.9 301,697.7 302,698.0 303,696.9 304,693.1 305,695.7 306,697.4 307,698.6 308,698.7 309,697.2 310,694.5 311,695.4 312,694.9 313,694.4 314,689.5 315,691.6 316,692.9 317,694.0 318,688.8 319,691.7 320,687.1 321,690.4 322,693.8 323,694.4 324,694.1 325,690.1 326,691.9 327,693.7 328,693.9 329,693.6 330,692.3 331,691.8 332,690.3 333,692.3 334,691.8 335,691.7 336,690.0 337,688.7 338,689.7 339,689.1 340,689.2 341,689.0 342,691.0 343,688.8 344,687.0 345,685.7 346,687.6 347,687.8 348,687.8 349,686.3 350,687.7 351,686.9 352,685.9 353,683.7 354,684.3 355,684.0 356,685.1 357,681.9 358,683.0 359,684.1 360,682.1 361,683.6 362,684.3 363,685.2 364,684.9 365,684.2 366,685.2 367,686.4 368,686.5 369,686.6 370,686.9 371,684.9 372,684.2 373,683.6 374,682.9 375,684.3 376,684.1 377,684.4 378,680.3 379,681.1 380,680.5 381,672.4 382,678.8 383,683.5 384,683.2 385,683.5 386,682.7 387,680.4 388,680.9 389,680.7 390,681.3 391,678.0 392,679.6 393,681.2 394,680.0 395,679.2 396,677.3 397,677.0 398,676.0 399,676.5 400,676.9 401,677.4 402,676.8 403,675.9 404,675.9 405,671.4 406,672.9 407,673.8 408,673.5 409,674.0 410,674.1 411,671.6 412,670.9 413,671.3 414,671.3 415,671.1 416,672.4 417,672.8 418,670.7 419,671.8 420,668.8 421,670.9 422,672.2 423,673.5 424,673.4 425,672.9 426,672.9 427,672.0 428,672.4 429,670.9 430,659.1 431,664.6 432,668.8 433,668.8 434,667.9 435,668.5 436,667.3 437,669.4 438,669.0 439,667.8 440,669.7 441,672.1 442,673.4 443,673.1 444,673.2 445,671.3 446,672.3 447,673.0 448,671.1 449,671.8 450,672.2 451,671.8 452,672.3 453,666.0 454,668.5 455,666.9 456,670.3 457,671.6 458,670.4 459,670.5 460,672.3 461,672.8 462,672.1 463,672.7 464,672.3 465,672.7 466,671.1 467,671.6 468,670.8 469,669.6 470,670.6 471,671.9 472,673.1 473,672.8 474,669.8 475,670.6 476,670.4 477,670.3 478,669.7 479,670.1 480,671.0 481,671.3 482,668.2 483,672.2 484,672.0 485,671.2 486,669.4 487,668.9 488,665.0 489,666.2 490,667.6 491,667.5 492,662.0 493,663.7 494,664.4 495,662.5 496,664.5 497,666.5 498,667.6 499,667.2 500,668.0 501,668.7 502,666.8 503,666.5 504,664.2 505,664.7 506,663.4 507,664.2 508,665.8 509,666.2 510,663.3 511,664.3 512,666.1 513,666.1 514,666.1 515,666.1 516,663.4 517,663.3 518,662.7 519,663.7 520,660.0 521,661.0 522,660.6 523,663.5 524,662.7 525,664.7 526,664.9 527,662.1 528,662.5 529,661.9 530,661.2 531,660.2 532,658.8 533,661.3 534,662.7 535,663.0 536,662.8 537,663.3 538,662.2 539,662.9 540,660.4 541,660.4 542,661.2 543,660.1 544,661.0 545,660.5 546,660.3 547,657.7 548,657.1 549,659.2 550,658.1 551,659.6 552,661.8 553,659.5 554,658.2 555,657.6 556,657.9 557,655.2 558,655.5 559,655.4 560,657.0 561,655.6 562,657.6 563,657.6 564,656.7 565,652.0 566,654.2 567,655.4 568,656.2 569,655.0 570,654.5 571,655.5 572,654.8 573,656.7 574,657.3 575,656.3 576,655.9 577,650.0 578,653.8 579,659.1 580,653.0 581,655.6 582,656.5 583,655.7 584,656.5 585,656.9 586,656.5 587,655.8 588,654.9 589,653.9 590,653.6 591,652.8 592,649.4 593,651.4 594,653.6 595,652.4 596,653.0 597,647.6 598,650.8 599,653.8 600,647.1 601,651.0 602,652.2 603,652.4 604,651.6 605,651.3 606,651.7 607,650.6 608,650.3 609,650.5 610,648.9 611,644.9 612,648.6 613,650.8 614,651.0 615,649.2 616,649.6 617,650.6 618,648.3 619,647.8 620,647.6 621,645.1 622,643.9 623,645.2 624,643.1 625,640.8 626,644.4 627,644.5 628,638.5 629,643.3 630,645.8 631,642.7 632,645.1 633,647.1 634,644.0 635,643.7 636,643.3 637,643.0 638,639.8 639,642.3 640,642.8 641,637.9 642,642.1 643,636.4 644,641.4 645,645.0 646,642.2 647,642.2 648,644.3 649,646.9 650,644.4 651,644.7 652,645.0 653,640.6 654,642.1 655,643.6 656,645.1 657,644.5 658,642.2 659,643.4 660,642.7 661,642.7 662,639.5 663,642.2 664,643.3 665,637.5 666,639.3 667,642.0 668,644.0 669,642.0 670,642.2 671,642.6 672,643.0 673,636.6 674,637.8 675,640.9 676,642.1 677,640.5 678,641.0 679,640.2 680,640.0 681,641.4 682,641.3 683,642.6 684,643.0 685,643.6 686,641.3 687,643.3 688,641.9 689,641.6 690,641.9 691,639.2 692,642.3 693,639.0 694,642.0 695,643.4 696,643.3 697,642.3 698,643.2 699,642.0 700,639.5 701,639.0 702,640.6 703,640.6 704,639.9 705,639.5 706,635.5 707,637.5 708,636.3 709,636.8 710,637.3 711,635.8 712,635.6 713,636.3 714,635.9 715,636.5 716,633.9 717,634.6 718,637.2 719,638.4 720,637.7 721,636.3 722,632.1 723,634.7 724,633.2 725,633.4 726,633.1 727,633.1 728,632.5 729,631.4 730,630.6 731,627.4 732,626.0 733,626.6 734,625.7 735,625.7 736,622.9 737,621.5 738,622.1 739,617.1 740,619.1 741,621.5 742,622.4 743,621.7 744,621.5 745,615.2 746,619.4 747,622.4 748,623.7 749,617.5 750,619.1 751,623.3 752,625.2 753,626.8 754,625.9 755,625.2 756,626.6 757,628.1 758,622.7 759,616.8 760,622.6 761,626.3 762,626.6 763,624.8 764,625.2 765,616.3 766,619.6 767,625.6 768,625.2 769,624.4 770,621.3 771,621.6 772,623.8 773,625.4 774,621.9 775,621.6 776,622.7 777,621.2 778,618.7 779,619.0 780,612.7 781,615.5 782,616.8 783,617.0 784,618.0 785,617.9 786,618.3 787,620.0 788,619.9 789,620.8 790,622.4 791,624.3 792,619.3 793,622.0 794,618.9 795,622.1 796,623.6 797,624.4 798,623.9 799,613.5 800,617.1 801,622.2 802,617.6 803,618.4 804,618.5 805,619.7 806,618.8 807,618.5 808,618.4 809,616.8 810,617.2 811,614.3 812,609.6 813,614.8 814,616.3 815,618.8 816,618.7 817,616.0 818,618.9 819,617.4 820,619.1 821,618.7 822,617.9 823,614.9 824,614.3 825,613.6 826,610.8 827,610.2 828,610.5 829,610.9 830,612.3 831,612.1 832,612.3 833,610.6 834,610.6 835,608.4 836,605.6 837,608.8 838,610.7 839,610.6 840,607.6 841,608.8 842,608.3 843,606.5 844,608.0 845,609.8 846,606.3 847,604.9 848,607.7 849,607.0 850,606.1 851,607.1 852,607.7 853,607.7 854,607.0 855,603.2 856,602.8 857,603.7 858,607.2 859,601.5 860,604.4 861,606.7 862,604.5 863,605.1 864,604.7 865,602.3 866,602.5 867,604.3 868,606.5 869,602.8 870,602.7 871,600.9 872,600.6 873,602.9 874,599.7 875,601.6 876,602.8 877,602.6 878,601.9 879,597.1 880,600.4 881,603.1 882,604.1 883,602.6 884,600.4 885,600.5 886,599.8 887,595.9 888,599.7 889,596.3 890,597.5 891,596.5 892,597.4 893,598.9 894,596.6 895,597.0 896,597.6 897,597.9 898,597.1 899,595.5 900,593.2 901,593.1 902,593.2 903,583.3 904,590.3 905,595.6 906,590.0 907,595.9 908,598.7 909,587.4 910,594.5 911,599.5 912,598.9 913,592.9 914,595.2 915,592.5 916,592.5 917,596.1 918,594.9 919,593.0 920,592.8 921,592.4 922,589.0 923,590.7 924,591.6 925,592.4 926,592.7 927,582.0 928,586.1 929,584.6 930,588.1 931,588.2 932,589.1 933,586.6 934,589.6 935,592.8 936,593.0 937,592.3 938,591.9 939,588.2 940,591.9 941,593.8 942,593.3 943,593.0 944,593.9 945,588.5 946,590.9 947,588.3 948,591.0 949,592.1 950,591.6 951,592.3 952,592.9 953,593.8 954,591.2 955,590.7 956,584.1 957,587.2 958,590.0 959,588.8 960,588.3 961,586.7 962,587.5 963,589.7 964,590.2 965,589.0 966,587.4 967,585.7 968,584.7 969,584.6 970,586.3 971,583.1 972,583.9 973,584.9 974,585.5 975,583.1 976,582.3 977,581.9 978,579.7 979,581.7 980,581.1 981,579.6 982,575.7 983,570.4 984,574.3 985,566.4 986,568.3 987,575.8 988,577.3 989,577.6 990,565.5 991,571.7 992,573.8 993,576.5 994,579.1 995,571.8 996,574.8 997,576.9 998,573.4 999,574.6 1000,573.6 1001,568.4 1002,570.1 1003,572.3 1004,567.7 1005,564.1 1006,566.3 1007,567.2 1008,565.4 1009,562.6 1010,563.3 1011,562.9 1012,565.8 1013,562.7 1014,563.1 1015,564.0 1016,560.1 1017,562.1 1018,562.3 1019,565.6 1020,563.9 1021,562.7 1022,559.9 1023,560.2 1024,561.2 1025,564.0 1026,564.0 1027,564.5 1028,562.2 1029,560.2 1030,557.8 1031,559.3 1032,558.1 1033,557.8 1034,556.5 1035,557.2 1036,558.1 1037,560.9 1038,557.2 1039,558.9 1040,558.3 1041,556.5 1042,554.6 1043,557.0 1044,559.3 1045,561.6 1046,561.8 1047,561.3 1048,558.5 1049,558.2 1050,557.5 1051,554.8 1052,554.8 1053,553.4 1054,550.1 1055,553.3 1056,548.1 1057,545.6 1058,548.3 1059,552.4 1060,547.7 1061,547.5 1062,549.4 1063,552.0 1064,547.2 1065,545.2 1066,547.9 1067,552.0 1068,552.1 1069,542.3 1070,545.7 1071,549.9 1072,548.4 1073,548.6 1074,548.7 1075,548.8 1076,550.1 1077,549.8 1078,551.1 1079,551.0 1080,549.1 1081,546.8 1082,546.4 1083,548.1 1084,549.2 1085,550.2 1086,547.7 1087,550.9 1088,551.2 1089,549.7 1090,545.4 1091,550.1 1092,550.1 1093,550.5 1094,550.7 1095,550.0 1096,550.3 1097,546.2 1098,547.1 1099,550.2 1100,547.9 1101,547.7 1102,545.0 1103,546.4 1104,549.2 1105,550.4 1106,551.9 1107,552.0 1108,549.2 1109,552.6 1110,553.9 1111,551.1 1112,551.3 1113,548.8 1114,543.6 1115,541.6 1116,544.5 1117,547.0 1118,547.1 1119,550.4 1120,550.0 1121,550.6 1122,547.9 1123,549.3 1124,550.4 1125,550.7 1126,553.4 1127,552.1 1128,551.1 1129,549.9 1130,546.3 1131,547.7 1132,549.2 1133,542.9 1134,546.8 1135,548.6 1136,548.5 1137,548.1 1138,549.9 1139,551.7 1140,552.4 1141,550.8 1142,550.5 1143,551.1 1144,549.5 1145,550.7 1146,545.0 1147,549.9 1148,544.2 1149,547.2 1150,548.2 1151,548.2 1152,551.3 1153,549.1 1154,550.0 1155,547.2 1156,543.1 1157,540.7 1158,540.9 1159,538.9 1160,538.8 1161,538.7 1162,539.1 1163,538.6 1164,525.9 1165,533.1 1166,536.6 1167,536.5 1168,530.6 1169,523.4 1170,527.2 1171,530.3 1172,535.3 1173,532.3 1174,531.7 1175,530.8 1176,530.4 1177,527.5 1178,524.5 1179,519.7 1180,521.8 1181,523.9 1182,521.8 1183,524.7 1184,526.7 1185,522.9 1186,513.4 1187,516.9 1188,518.9 1189,517.3 1190,516.2 1191,517.7 1192,513.7 1193,515.5 1194,519.1 1195,523.7 1196,522.7 1197,523.2 1198,524.7 1199,522.2 1200,524.1 1201,521.7 1202,523.8 1203,519.9 1204,520.0 1205,521.7 1206,518.4 1207,519.7 1208,517.8 1209,516.1 1210,518.5 1211,512.9 1212,515.8 1213,516.8 1214,510.6 1215,516.4 1216,521.8 1217,522.6 1218,519.6 1219,518.0 1220,515.0 1221,517.4 1222,518.9 1223,518.2 1224,518.8 1225,518.0 1226,518.9 1227,514.3 1228,516.4 1229,517.7 1230,517.9 1231,509.7 1232,510.7 1233,512.3 1234,510.6 1235,513.0 1236,514.0 1237,514.4 1238,507.7 1239,510.4 1240,511.9 1241,508.1 1242,508.7 1243,509.3 1244,511.7 1245,508.8 1246,511.3 1247,505.9 1248,506.5 1249,509.1 1250,507.4 1251,498.5 1252,504.3 1253,497.5 1254,505.6 1255,509.9 1256,508.8 1257,501.5 1258,501.6 1259,502.5 1260,503.9 1261,506.8 1262,504.4 1263,506.1 1264,504.9 1265,507.0 1266,508.9 1267,509.4 1268,510.8 1269,512.0 1270,513.0 1271,510.6 1272,509.8 1273,502.1 1274,506.1 1275,507.3 1276,507.3 1277,509.8 1278,507.1 1279,505.1 1280,508.3 1281,502.1 1282,501.9 1283,504.1 1284,505.6 1285,506.2 1286,501.5 1287,503.6 1288,503.5 1289,493.9 1290,493.2 1291,494.9 1292,493.3 1293,495.8 1294,499.3 1295,500.0 1296,497.2 1297,497.5 1298,494.9 1299,495.4 1300,489.3 1301,491.1 1302,493.1 1303,492.9 1304,495.9 1305,494.4 1306,495.3 1307,497.5 1308,495.1 1309,491.7 1310,492.8 1311,497.2 1312,492.1 1313,494.1 1314,494.3 1315,493.4 1316,495.7 1317,493.6 1318,492.0 1319,484.6 1320,490.1 1321,492.7 1322,493.8 1323,494.1 1324,492.8 1325,493.5 1326,494.7 1327,494.3 1328,491.0 1329,491.3 1330,490.0 1331,491.9 1332,486.4 1333,487.7 1334,482.8 1335,486.9 1336,490.6 1337,492.0 1338,492.6 1339,494.3 1340,490.3 1341,488.1 1342,489.3 1343,487.1 1344,473.4 1345,480.7 1346,488.6 1347,489.8 1348,488.2 1349,485.1 1350,488.4 1351,489.5 1352,491.1 1353,489.1 1354,490.0 1355,491.3 1356,493.5 1357,490.5 1358,494.0 1359,492.1 1360,493.0 1361,492.2 1362,491.2 1363,492.8 1364,492.1 1365,489.0 1366,490.2 1367,492.4 1368,491.4 1369,494.0 1370,494.4 1371,491.8 1372,492.1 1373,487.5 1374,489.3 1375,487.6 1376,488.2 1377,489.0 1378,480.4 1379,483.1 1380,482.3 1381,479.3 1382,481.1 1383,476.0 1384,478.3 1385,478.9 1386,480.4 1387,480.6 1388,478.8 1389,478.8 1390,477.0 1391,480.1 1392,480.3 1393,476.2 1394,475.5 1395,473.7 1396,475.2 1397,475.8 1398,470.5 1399,470.5 1400,472.4 1401,470.1 1402,473.5 1403,471.6 1404,474.1 1405,472.0 1406,472.0 1407,473.0 1408,474.6 1409,473.9 1410,474.8 1411,473.0 1412,468.6 1413,465.3 1414,470.6 1415,475.2 1416,473.1 1417,475.0 1418,474.2 1419,476.0 1420,475.0 1421,477.9 1422,478.0 1423,474.1 1424,476.1 1425,477.8 1426,475.4 1427,471.6 1428,470.9 1429,465.7 1430,466.4 1431,466.0 1432,469.1 1433,469.5 1434,468.2 1435,465.7 1436,467.4 1437,470.9 1438,472.6 1439,473.4 1440,472.2 1441,469.8 1442,471.9 1443,470.6 1444,471.7 1445,473.8 1446,470.3 1447,471.6 1448,468.6 1449,466.0 1450,466.1 1451,462.7 1452,465.7 1453,469.1 1454,467.2 1455,465.8 1456,464.6 1457,462.6 1458,460.2 1459,463.0 1460,465.0 1461,465.5 1462,461.2 1463,449.7 1464,455.1 1465,460.4 1466,458.1 1467,456.1 1468,454.4 1469,453.0 1470,451.1 1471,453.9 1472,453.3 1473,452.8 1474,449.9 1475,448.4 1476,448.5 1477,447.1 1478,444.2 1479,437.6 1480,435.3 1481,438.8 1482,439.1 1483,440.2 1484,425.7 1485,433.8 1486,438.6 1487,441.5 1488,437.7 1489,442.4 1490,439.9 1491,444.7 1492,446.5 1493,446.9 1494,446.5 1495,450.2 1496,452.1 1497,450.7 1498,450.3 1499,447.2 1500,448.8 1501,450.5 1502,446.4 1503,442.7 1504,443.0 1505,445.5 1506,446.4 1507,439.3 1508,441.2 1509,437.5 1510,441.4 1511,436.3 1512,437.0 1513,435.4 1514,435.9 1515,435.0 1516,432.9 1517,436.8 1518,428.3 1519,432.3 1520,431.3 1521,433.7 1522,435.4 1523,433.6 1524,433.4 1525,434.9 1526,422.6 1527,428.9 1528,434.4 1529,430.1 1530,434.5 1531,435.0 1532,437.8 1533,436.8 1534,431.1 1535,414.1 1536,421.8 1537,429.0 1538,429.5 1539,429.0 1540,429.6 1541,430.0 1542,431.2 1543,432.2 1544,435.4 1545,431.8 1546,428.3 1547,428.7 1548,426.8 1549,429.7 1550,426.8 1551,426.6 1552,426.4 1553,425.4 1554,412.6 1555,420.1 1556,415.8 1557,419.0 1558,422.3 1559,423.8 1560,422.1 1561,421.6 1562,419.2 1563,422.1 1564,422.6 1565,421.6 1566,421.9 1567,418.9 1568,419.8 1569,417.7 1570,415.6 1571,410.8 1572,406.0 1573,406.5 1574,406.2 1575,404.7 1576,401.7 1577,402.8 1578,406.6 1579,405.2 1580,406.1 1581,409.3 1582,409.7 1583,407.6 1584,407.7 1585,404.4 1586,400.8 1587,402.1 1588,402.6 1589,405.7 1590,398.8 1591,403.1 1592,400.0 1593,404.5 1594,405.9 1595,399.1 1596,398.0 1597,400.3 1598,403.1 1599,402.4 1600,404.8 1601,404.2 1602,402.9 1603,404.6 1604,404.7 1605,402.4 1606,399.9 1607,398.4 1608,390.6 1609,396.3 1610,383.2 1611,393.3 1612,397.8 1613,395.0 1614,392.8 1615,394.3 1616,395.8 1617,397.3 1618,396.9 1619,397.9 1620,396.5 1621,399.6 1622,400.9 1623,377.8 1624,388.2 1625,392.8 1626,394.4 1627,394.2 1628,392.7 1629,388.5 1630,392.7 1631,395.2 1632,392.5 1633,396.1 1634,396.3 1635,398.8 1636,396.8 1637,395.9 1638,394.4 1639,388.6 1640,390.8 1641,394.8 1642,398.7 1643,395.9 1644,398.9 1645,397.2 1646,398.9 1647,402.4 1648,403.4 1649,408.0 1650,405.5 1651,392.3 1652,399.0 1653,384.4 1654,391.6 1655,395.6 1656,392.5 1657,397.9 1658,399.2 1659,401.9 1660,398.7 1661,401.1 1662,400.5 1663,394.1 1664,396.0 1665,391.6 1666,392.7 1667,393.6 1668,391.7 1669,390.7 1670,390.5 1671,387.9 1672,387.3 1673,386.8 1674,387.0 1675,385.9 1676,388.3 1677,388.4 1678,386.1 1679,388.2 1680,390.6 1681,389.8 1682,392.3 1683,390.4 1684,387.5 1685,383.5 1686,383.1 1687,379.8 1688,379.5 1689,379.3 1690,382.7 1691,382.1 1692,383.4 1693,384.6 1694,387.8 1695,386.9 1696,385.9 1697,377.5 1698,378.5 1699,377.6 1700,377.2 1701,369.0 1702,373.2 1703,372.4 1704,371.0 1705,365.3 1706,363.4 1707,360.7 1708,362.0 1709,367.0 1710,367.7 1711,364.0 1712,356.8 1713,356.6 1714,360.8 1715,362.4 1716,362.6 1717,365.7 1718,357.1 1719,360.1 1720,356.0 1721,356.6 1722,350.2 1723,351.4 1724,355.7 1725,351.6 1726,352.4 1727,355.1 1728,354.6 1729,358.3 1730,358.4 1731,355.6 1732,357.1 1733,344.2 1734,351.2 1735,353.3 1736,353.7 1737,347.4 1738,345.8 1739,351.2 1740,352.7 1741,355.7 1742,359.2 1743,354.4 1744,357.6 1745,359.0 1746,357.4 1747,353.6 1748,355.0 1749,353.7 1750,357.9 1751,359.0 1752,355.0 1753,353.3 1754,355.4 1755,356.6 1756,359.0 1757,354.9 1758,355.2 1759,354.2 1760,355.6 1761,353.7 1762,355.0 1763,356.5 1764,360.1 1765,361.0 1766,361.1 1767,359.1 1768,356.4 1769,357.3 1769,466.7 1768,468.4 1767,468.8 1766,469.1 1765,469.5 1764,467.2 1763,467.9 1762,470.5 1761,467.4 1760,467.2 1759,469.0 1758,469.8 1757,472.7 1756,472.7 1755,469.5 1754,469.7 1753,469.6 1752,473.0 1751,468.3 1750,472.5 1749,475.9 1748,484.7 1747,471.0 1746,470.0 1745,473.3 1744,472.2 1743,476.7 1742,478.8 1741,477.3 1740,471.7 1739,475.9 1738,476.4 1737,476.4 1736,476.4 1735,478.7 1734,477.8 1733,478.1 1732,481.4 1731,480.1 1730,477.4 1729,480.8 1728,476.8 1727,479.4 1726,480.7 1725,476.3 1724,476.0 1723,474.0 1722,472.6 1721,474.8 1720,476.7 1719,476.1 1718,474.9 1717,477.0 1716,479.8 1715,477.4 1714,482.7 1713,488.1 1712,480.1 1711,478.3 1710,476.8 1709,477.4 1708,474.8 1707,478.0 1706,477.3 1705,472.8 1704,476.6 1703,481.1 1702,483.6 1701,486.8 1700,492.9 1699,483.9 1698,487.6 1697,487.5 1696,486.6 1695,486.0 1694,487.4 1693,488.0 1692,492.3 1691,491.3 1690,492.4 1689,490.2 1688,490.0 1687,492.1 1686,488.6 1685,493.0 1684,495.0 1683,494.6 1682,494.5 1681,496.0 1680,493.9 1679,493.1 1678,494.9 1677,496.5 1676,494.7 1675,494.0 1674,498.2 1673,504.6 1672,496.1 1671,497.0 1670,497.6 1669,497.4 1668,494.7 1667,501.3 1666,504.4 1665,503.8 1664,509.6 1663,507.9 1662,503.4 1661,503.8 1660,505.1 1659,504.7 1658,498.2 1657,498.6 1656,496.8 1655,499.0 1654,501.5 1653,496.9 1652,499.4 1651,503.8 1650,505.1 1649,504.5 1648,505.9 1647,504.7 1646,505.7 1645,507.8 1644,503.0 1643,502.1 1642,504.5 1641,503.0 1640,500.1 1639,498.6 1638,500.6 1637,502.1 1636,496.3 1635,498.6 1634,492.3 1633,491.3 1632,493.4 1631,494.9 1630,496.0 1629,499.8 1628,498.7 1627,498.5 1626,496.4 1625,494.8 1624,496.1 1623,502.1 1622,493.7 1621,494.7 1620,494.6 1619,497.5 1618,497.2 1617,496.8 1616,502.5 1615,501.5 1614,503.4 1613,506.4 1612,502.4 1611,502.1 1610,503.8 1609,505.1 1608,505.8 1607,503.6 1606,501.7 1605,502.1 1604,504.5 1603,505.5 1602,507.1 1601,507.0 1600,503.9 1599,504.3 1598,499.8 1597,502.1 1596,501.8 1595,505.3 1594,506.9 1593,505.9 1592,504.6 1591,504.0 1590,504.0 1589,504.9 1588,507.0 1587,508.3 1586,504.1 1585,504.6 1584,511.3 1583,508.2 1582,506.4 1581,509.6 1580,513.0 1579,515.1 1578,511.3 1577,510.1 1576,506.0 1575,511.8 1574,519.3 1573,510.9 1572,511.7 1571,520.7 1570,532.4 1569,509.9 1568,514.5 1567,522.6 1566,516.7 1565,518.5 1564,510.3 1563,510.5 1562,512.7 1561,514.4 1560,515.5 1559,522.9 1558,514.3 1557,516.9 1556,519.3 1555,521.1 1554,519.7 1553,523.6 1552,526.8 1551,527.9 1550,523.2 1549,526.3 1548,532.1 1547,529.5 1546,531.2 1545,524.4 1544,523.6 1543,520.8 1542,519.0 1541,514.1 1540,516.5 1539,517.9 1538,516.5 1537,517.9 1536,514.5 1535,516.3 1534,518.6 1533,519.9 1532,523.7 1531,518.7 1530,519.7 1529,519.4 1528,520.5 1527,523.4 1526,522.2 1525,519.4 1524,520.4 1523,525.1 1522,516.0 1521,513.9 1520,513.7 1519,516.6 1518,518.9 1517,514.6 1516,515.6 1515,513.7 1514,513.5 1513,514.9 1512,516.5 1511,522.4 1510,536.2 1509,523.1 1508,522.6 1507,526.0 1506,524.9 1505,526.2 1504,528.5 1503,526.1 1502,527.1 1501,532.5 1500,524.9 1499,523.8 1498,525.0 1497,524.5 1496,529.3 1495,532.6 1494,525.5 1493,526.7 1492,528.4 1491,526.3 1490,526.0 1489,522.2 1488,528.9 1487,533.0 1486,528.4 1485,531.0 1484,530.3 1483,529.5 1482,532.3 1481,532.7 1480,535.3 1479,535.5 1478,538.7 1477,547.4 1476,537.4 1475,540.1 1474,544.2 1473,537.2 1472,538.2 1471,536.2 1470,535.9 1469,537.6 1468,541.3 1467,536.1 1466,537.3 1465,538.1 1464,538.0 1463,538.6 1462,540.1 1461,541.8 1460,542.2 1459,539.2 1458,541.5 1457,540.4 1456,537.1 1455,536.5 1454,539.0 1453,542.9 1452,537.9 1451,541.8 1450,546.5 1449,549.4 1448,542.1 1447,543.8 1446,543.0 1445,542.9 1444,540.5 1443,542.9 1442,544.1 1441,537.4 1440,539.0 1439,538.3 1438,542.6 1437,545.0 1436,544.4 1435,539.3 1434,545.3 1433,551.5 1432,541.6 1431,547.3 1430,548.1 1429,545.7 1428,545.8 1427,549.6 1426,552.2 1425,549.7 1424,549.3 1423,554.7 1422,561.5 1421,564.5 1420,549.5 1419,548.6 1418,549.3 1417,553.2 1416,552.3 1415,553.4 1414,553.4 1413,553.0 1412,554.3 1411,552.2 1410,565.8 1409,580.0 1408,550.9 1407,550.0 1406,551.4 1405,551.1 1404,549.5 1403,550.2 1402,547.2 1401,552.3 1400,563.9 1399,572.9 1398,555.7 1397,558.2 1396,561.0 1395,560.6 1394,558.0 1393,558.3 1392,563.9 1391,563.7 1390,561.8 1389,560.5 1388,562.8 1387,564.2 1386,561.2 1385,560.7 1384,565.0 1383,564.4 1382,565.5 1381,563.5 1380,562.5 1379,562.5 1378,565.1 1377,562.8 1376,564.8 1375,560.6 1374,562.5 1373,563.0 1372,565.4 1371,564.0 1370,565.5 1369,566.1 1368,565.2 1367,567.7 1366,569.0 1365,566.1 1364,564.9 1363,563.1 1362,565.8 1361,566.1 1360,570.5 1359,567.2 1358,562.2 1357,565.5 1356,564.3 1355,563.8 1354,565.9 1353,564.0 1352,566.0 1351,564.3 1350,563.0 1349,566.2 1348,566.5 1347,565.6 1346,569.0 1345,561.9 1344,563.4 1343,565.2 1342,564.1 1341,564.6 1340,564.4 1339,567.3 1338,564.2 1337,568.5 1336,572.7 1335,570.4 1334,570.8 1333,571.8 1332,575.2 1331,572.9 1330,575.6 1329,573.8 1328,578.4 1327,583.4 1326,578.5 1325,580.8 1324,577.2 1323,577.9 1322,581.5 1321,581.8 1320,581.3 1319,583.4 1318,583.2 1317,581.3 1316,585.4 1315,588.1 1314,586.1 1313,589.9 1312,584.9 1311,585.5 1310,586.5 1309,586.8 1308,585.8 1307,583.8 1306,582.0 1305,582.9 1304,584.0 1303,585.7 1302,585.8 1301,584.2 1300,587.3 1299,590.2 1298,587.6 1297,589.9 1296,590.2 1295,591.2 1294,587.4 1293,588.8 1292,586.6 1291,586.0 1290,591.2 1289,590.8 1288,590.0 1287,590.7 1286,594.8 1285,593.9 1284,597.1 1283,599.9 1282,598.6 1281,599.7 1280,599.2 1279,594.7 1278,592.6 1277,591.1 1276,589.7 1275,588.8 1274,591.2 1273,590.5 1272,594.1 1271,586.7 1270,587.9 1269,580.4 1268,581.2 1267,582.8 1266,578.3 1265,577.3 1264,578.0 1263,578.4 1262,578.7 1261,581.5 1260,581.5 1259,585.7 1258,578.4 1257,579.7 1256,584.8 1255,593.4 1254,588.5 1253,588.5 1252,587.8 1251,592.1 1250,588.1 1249,588.4 1248,586.0 1247,584.8 1246,587.2 1245,586.0 1244,588.1 1243,583.8 1242,583.5 1241,584.9 1240,588.1 1239,586.2 1238,587.9 1237,591.9 1236,588.0 1235,587.4 1234,589.8 1233,589.6 1232,588.8 1231,589.3 1230,591.0 1229,593.6 1228,593.2 1227,593.2 1226,590.2 1225,590.3 1224,592.4 1223,590.9 1222,592.5 1221,596.4 1220,600.2 1219,592.3 1218,595.5 1217,594.0 1216,593.9 1215,592.2 1214,592.2 1213,592.0 1212,591.4 1211,593.5 1210,592.3 1209,594.3 1208,599.8 1207,594.6 1206,595.7 1205,595.3 1204,597.3 1203,600.2 1202,596.3 1201,597.2 1200,595.0 1199,596.8 1198,599.7 1197,593.8 1196,597.7 1195,600.3 1194,599.8 1193,602.5 1192,601.6 1191,607.0 1190,610.2 1189,597.5 1188,600.5 1187,598.1 1186,598.5 1185,599.5 1184,599.1 1183,603.6 1182,602.6 1181,604.8 1180,597.9 1179,597.6 1178,601.3 1177,599.4 1176,599.4 1175,599.2 1174,597.1 1173,599.3 1172,599.4 1171,599.0 1170,600.1 1169,604.4 1168,608.6 1167,603.0 1166,603.6 1165,605.9 1164,601.7 1163,601.9 1162,602.8 1161,606.4 1160,610.4 1159,612.7 1158,609.6 1157,609.1 1156,607.0 1155,608.7 1154,607.7 1153,612.9 1152,616.1 1151,613.0 1150,609.9 1149,614.0 1148,606.7 1147,607.3 1146,609.6 1145,611.3 1144,610.8 1143,609.6 1142,611.8 1141,611.3 1140,613.4 1139,616.9 1138,609.5 1137,612.5 1136,614.9 1135,611.5 1134,613.1 1133,613.3 1132,610.1 1131,612.2 1130,610.9 1129,613.7 1128,611.1 1127,610.9 1126,612.7 1125,614.4 1124,617.3 1123,612.4 1122,611.6 1121,612.6 1120,611.7 1119,610.2 1118,613.4 1117,614.7 1116,612.8 1115,611.6 1114,608.7 1113,610.0 1112,612.0 1111,613.7 1110,612.3 1109,612.4 1108,612.4 1107,613.9 1106,615.3 1105,615.8 1104,613.9 1103,612.1 1102,613.2 1101,612.7 1100,612.6 1099,614.5 1098,617.5 1097,621.7 1096,618.8 1095,614.2 1094,614.0 1093,616.3 1092,614.8 1091,616.8 1090,615.7 1089,617.7 1088,620.2 1087,619.5 1086,619.3 1085,618.6 1084,621.7 1083,621.9 1082,617.5 1081,616.6 1080,615.9 1079,614.8 1078,614.5 1077,619.8 1076,623.0 1075,624.2 1074,624.5 1073,620.2 1072,619.9 1071,621.9 1070,623.6 1069,624.9 1068,627.4 1067,626.5 1066,625.8 1065,627.7 1064,627.5 1063,626.7 1062,626.5 1061,628.4 1060,628.3 1059,629.5 1058,631.5 1057,630.0 1056,635.7 1055,637.6 1054,632.9 1053,635.3 1052,631.4 1051,632.9 1050,633.2 1049,632.8 1048,630.0 1047,630.8 1046,634.0 1045,632.5 1044,632.9 1043,633.6 1042,635.2 1041,639.0 1040,644.7 1039,638.3 1038,638.0 1037,640.9 1036,642.6 1035,640.0 1034,640.5 1033,642.8 1032,638.8 1031,635.7 1030,635.9 1029,635.8 1028,639.6 1027,645.7 1026,637.1 1025,635.3 1024,638.1 1023,637.1 1022,638.7 1021,639.4 1020,638.4 1019,639.5 1018,637.0 1017,638.7 1016,639.6 1015,639.8 1014,642.8 1013,637.0 1012,637.0 1011,639.2 1010,640.3 1009,637.6 1008,641.2 1007,642.2 1006,642.8 1005,646.5 1004,640.8 1003,642.1 1002,643.1 1001,640.9 1000,641.0 999,640.0 998,641.1 997,640.1 996,640.6 995,639.6 994,643.0 993,639.9 992,644.2 991,642.6 990,647.8 989,639.6 988,640.6 987,638.9 986,639.4 985,635.0 984,635.1 983,638.5 982,639.6 981,641.5 980,641.6 979,641.2 978,638.5 977,639.9 976,639.1 975,639.3 974,644.5 973,648.3 972,644.7 971,642.6 970,643.9 969,644.4 968,643.1 967,642.9 966,645.0 965,647.8 964,652.0 963,644.4 962,645.9 961,644.8 960,643.5 959,642.4 958,640.5 957,639.4 956,641.9 955,642.2 954,643.3 953,644.1 952,646.3 951,643.2 950,646.4 949,647.0 948,644.0 947,647.3 946,644.2 945,647.3 944,646.7 943,648.3 942,646.7 941,646.6 940,653.2 939,662.4 938,646.5 937,646.7 936,642.5 935,641.2 934,642.3 933,643.0 932,642.3 931,644.0 930,647.4 929,646.4 928,650.1 927,641.9 926,642.9 925,641.5 924,641.8 923,644.6 922,645.5 921,649.5 920,647.0 919,649.0 918,646.4 917,646.0 916,648.4 915,649.0 914,652.6 913,654.6 912,651.0 911,651.6 910,652.6 909,652.9 908,654.1 907,651.4 906,650.7 905,652.2 904,652.6 903,655.1 902,654.8 901,652.0 900,648.5 899,648.0 898,649.2 897,650.3 896,653.4 895,653.1 894,652.9 893,652.2 892,652.1 891,653.0 890,650.9 889,650.2 888,651.9 887,655.1 886,652.3 885,653.8 884,653.2 883,654.7 882,648.5 881,651.1 880,649.4 879,651.8 878,650.4 877,649.7 876,649.8 875,650.8 874,649.5 873,650.3 872,652.1 871,653.6 870,653.5 869,656.8 868,655.2 867,654.7 866,655.2 865,655.0 864,654.7 863,655.7 862,656.7 861,657.7 860,657.9 859,659.2 858,658.7 857,659.4 856,656.4 855,658.5 854,658.1 853,657.3 852,658.1 851,657.5 850,655.3 849,656.3 848,654.5 847,653.6 846,651.6 845,651.9 844,651.4 843,652.5 842,650.5 841,652.9 840,653.2 839,658.4 838,662.0 837,655.6 836,654.9 835,654.4 834,654.4 833,654.7 832,657.5 831,657.0 830,655.9 829,659.4 828,661.6 827,657.7 826,654.1 825,655.1 824,657.5 823,659.9 822,663.3 821,662.4 820,662.3 819,664.8 818,665.3 817,664.1 816,663.2 815,667.2 814,672.2 813,668.6 812,668.5 811,668.0 810,671.9 809,672.9 808,667.5 807,669.0 806,664.1 805,665.4 804,668.7 803,668.3 802,670.0 801,668.5 800,666.7 799,664.4 798,665.2 797,668.8 796,671.1 795,667.0 794,666.8 793,666.4 792,669.1 791,671.0 790,668.6 789,667.9 788,668.9 787,671.5 786,677.3 785,671.1 784,670.0 783,671.8 782,669.5 781,668.6 780,668.5 779,670.7 778,669.2 777,671.8 776,668.4 775,668.4 774,667.4 773,668.1 772,667.6 771,668.6 770,667.9 769,668.8 768,672.7 767,677.4 766,671.2 765,671.8 764,673.8 763,672.8 762,675.9 761,676.8 760,675.1 759,677.5 758,677.5 757,674.4 756,673.6 755,675.7 754,676.2 753,677.8 752,677.9 751,683.5 750,677.8 749,679.3 748,674.8 747,673.1 746,675.3 745,678.3 744,678.3 743,680.3 742,681.5 741,683.5 740,680.8 739,677.9 738,678.1 737,678.2 736,676.5 735,678.0 734,680.7 733,677.6 732,677.7 731,678.0 730,679.1 729,679.2 728,679.4 727,680.2 726,678.8 725,679.4 724,683.4 723,685.0 722,689.5 721,682.9 720,683.6 719,689.9 718,677.7 717,680.3 716,683.3 715,678.7 714,678.7 713,678.3 712,679.5 711,676.1 710,676.5 709,676.6 708,680.1 707,684.7 706,685.5 705,682.9 704,681.4 703,682.9 702,681.5 701,682.5 700,681.2 699,683.7 698,689.3 697,695.0 696,683.9 695,684.7 694,685.4 693,683.0 692,683.6 691,686.0 690,685.1 689,685.9 688,685.1 687,684.1 686,683.0 685,685.4 684,685.7 683,687.6 682,682.9 681,683.9 680,686.2 679,688.3 678,682.9 677,685.9 676,683.9 675,686.8 674,689.3 673,693.5 672,684.6 671,684.9 670,684.4 669,682.5 668,685.0 667,688.1 666,684.8 665,683.1 664,683.6 663,683.2 662,683.2 661,683.4 660,682.9 659,683.8 658,682.9 657,682.1 656,683.1 655,684.9 654,684.0 653,684.2 652,686.8 651,689.1 650,690.5 649,691.8 648,691.9 647,687.7 646,685.9 645,685.3 644,685.8 643,686.6 642,684.9 641,687.1 640,687.8 639,689.0 638,690.1 637,693.2 636,696.7 635,695.6 634,693.4 633,693.4 632,692.5 631,693.7 630,694.8 629,694.3 628,694.8 627,695.6 626,695.5 625,694.5 624,696.1 623,696.1 622,696.7 621,696.7 620,698.9 619,697.2 618,700.4 617,700.2 616,699.3 615,699.1 614,699.9 613,701.3 612,698.6 611,701.3 610,700.5 609,699.9 608,700.6 607,703.6 606,709.4 605,704.6 604,708.3 603,705.3 602,701.9 601,701.4 600,700.4 599,704.8 598,707.7 597,704.2 596,707.7 595,702.1 594,703.5 593,704.5 592,704.1 591,705.4 590,708.7 589,703.0 588,702.6 587,706.5 586,699.4 585,699.3 584,698.7 583,698.4 582,700.5 581,699.4 580,698.8 579,697.4 578,696.4 577,698.1 576,698.3 575,698.3 574,697.7 573,698.6 572,698.0 571,697.2 570,697.9 569,695.8 568,695.2 567,696.3 566,697.0 565,694.1 564,694.6 563,694.8 562,694.7 561,697.3 560,701.4 559,698.1 558,698.4 557,700.3 556,700.1 555,700.1 554,701.9 553,701.5 552,704.0 551,706.7 550,707.8 549,703.5 548,702.9 547,702.7 546,702.9 545,703.0 544,702.7 543,702.7 542,703.1 541,704.1 540,705.6 539,705.5 538,707.1 537,710.8 536,704.0 535,704.7 534,705.3 533,706.4 532,704.5 531,705.8 530,706.3 529,707.9 528,708.3 527,711.5 526,707.4 525,709.2 524,708.4 523,708.8 522,709.8 521,709.8 520,710.7 519,709.6 518,711.6 517,712.4 516,715.6 515,710.5 514,711.8 513,710.4 512,710.0 511,710.5 510,710.1 509,712.7 508,709.8 507,709.3 506,710.5 505,710.1 504,710.7 503,710.5 502,711.8 501,713.8 500,715.8 499,715.3 498,718.4 497,712.5 496,711.3 495,712.1 494,713.4 493,714.2 492,711.8 491,712.3 490,712.7 489,712.5 488,711.7 487,713.7 486,714.0 485,712.0 484,712.6 483,713.1 482,712.6 481,711.5 480,709.7 479,712.0 478,716.0 477,712.9 476,715.0 475,711.7 474,709.9 473,712.9 472,713.4 471,714.5 470,718.3 469,716.4 468,714.0 467,713.8 466,714.4 465,713.8 464,713.3 463,714.0 462,713.9 461,713.5 460,714.5 459,715.6 458,715.1 457,714.7 456,714.1 455,716.9 454,718.8 453,720.0 452,718.9 451,718.7 450,718.5 449,716.1 448,716.9 447,716.8 446,718.4 445,722.8 444,716.7 443,717.1 442,716.9 441,719.1 440,719.4 439,719.0 438,721.6 437,719.6 436,721.5 435,718.6 434,715.4 433,717.6 432,719.4 431,715.5 430,716.6 429,717.1 428,719.7 427,723.1 426,720.9 425,723.8 424,719.5 423,718.6 422,718.8 421,719.7 420,720.5 419,718.1 418,718.1 417,717.2 416,717.3 415,719.0 414,721.8 413,718.0 412,720.6 411,719.6 410,719.9 409,720.6 408,723.0 407,720.8 406,719.4 405,719.3 404,724.0 403,730.0 402,721.2 401,719.4 400,720.8 399,721.1 398,722.1 397,719.0 396,720.0 395,716.9 394,718.4 393,718.9 392,718.5 391,720.2 390,719.8 389,719.9 388,719.3 387,719.8 386,721.0 385,721.9 384,718.9 383,719.2 382,719.0 381,718.7 380,720.7 379,722.0 378,725.6 377,722.6 376,725.5 375,723.6 374,724.4 373,724.1 372,726.1 371,728.1 370,724.9 369,725.9 368,727.3 367,730.8 366,726.6 365,726.0 364,726.8 363,726.5 362,727.3 361,726.5 360,729.1 359,725.4 358,725.8 357,725.3 356,725.8 355,726.7 354,726.1 353,726.7 352,725.7 351,726.0 350,727.3 349,726.0 348,725.1 347,724.2 346,724.6 345,725.5 344,727.0 343,727.2 342,728.8 341,726.7 340,725.9 339,728.9 338,732.1 337,728.1 336,728.4 335,729.0 334,729.1 333,731.4 332,730.3 331,729.9 330,728.7 329,728.6 328,729.4 327,729.6 326,728.1 325,730.0 324,731.9 323,727.9 322,728.1 321,728.9 320,726.3 319,727.6 318,728.4 317,727.7 316,728.2 315,731.0 314,734.6 313,727.6 312,727.6 311,727.7 310,728.9 309,729.9 308,730.9 307,731.4 306,729.1 305,731.0 304,729.9 303,728.4 302,729.7 301,730.7 300,731.4 299,730.7 298,729.3 297,729.9 296,730.2 295,731.2 294,732.2 293,730.7 292,733.1 291,733.1 290,733.4 289,734.6 288,730.3 287,729.8 286,730.0 285,729.7 284,731.0 283,729.8 282,731.5 281,734.1 280,732.8 279,734.3 278,733.3 277,736.8 276,735.5 275,733.2 274,735.2 273,737.3 272,734.4 271,736.0 270,738.3 269,736.5 268,738.8 267,736.3 266,735.0 265,734.1 264,734.2 263,734.1 262,734.1 261,734.3 260,734.7 259,735.0 258,736.5 257,735.8 256,735.4 255,735.7 254,736.2 253,737.8 252,737.6 251,739.9 250,740.4 249,741.5 248,739.3 247,740.5 246,740.8 245,740.4 244,741.2 243,743.7 242,742.1 241,743.1 240,743.3 239,742.8 238,745.4 237,740.2 236,740.4 235,739.6 234,740.7 233,740.8 232,741.6 231,742.2 230,742.3 229,742.7 228,742.9 227,744.0 226,744.6 225,746.6 224,747.0 223,750.1 222,744.4 221,744.8 220,747.6 219,747.4 218,745.3 217,745.8 216,743.1 215,744.2 214,744.7 213,744.4 212,744.8 211,743.6 210,746.1 209,744.5 208,744.7 207,745.5 206,744.0 205,743.4 204,743.6 203,743.8 202,743.1 201,742.8 200,744.0 199,742.8 198,743.5 197,743.6 196,744.5 195,744.7 194,743.7 193,745.7 192,747.9 191,746.1 190,746.2 189,744.3 188,745.2 187,742.9 186,744.2 185,742.4 184,742.9 183,744.4 182,745.3 181,744.2 180,742.3 179,742.4 178,742.9 177,742.9 176,743.0 175,744.6 174,746.8 173,744.0 172,744.0 171,743.9 170,743.9 169,745.9 168,742.4 167,742.2 166,743.4 165,742.7 164,741.5 163,740.9 162,740.4 161,740.7 160,739.8 159,739.6 158,739.5 157,738.9 156,738.5 155,738.6 154,737.5 153,736.8 152,736.2 151,736.0 150,735.7"/><polygon fill="#a60000" points="150,728.4 151,727.0 152,726.2 153,725.9 154,725.5 155,724.8 156,723.8 157,722.8 158,721.3 159,720.7 160,719.9 161,719.8 162,718.9 163,719.0 164,719.4 165,718.7 166,719.0 167,719.2 168,720.0 169,720.6 170,720.2 171,720.1 172,719.3 173,718.3 174,718.3 175,718.4 176,715.0 177,717.8 178,718.0 179,718.8 180,719.8 181,719.2 182,718.6 183,719.5 184,716.8 185,717.0 186,717.3 187,718.2 188,716.5 189,717.9 190,718.4 191,718.3 192,717.8 193,718.0 194,718.4 195,718.1 196,714.8 197,715.2 198,716.7 199,716.3 200,712.1 201,714.5 202,717.6 203,717.3 204,718.7 205,717.0 206,717.7 207,716.1 208,718.4 209,719.1 210,718.4 211,718.1 212,714.2 213,714.6 214,715.0 215,715.6 216,714.8 217,714.6 218,714.9 219,715.1 220,714.7 221,713.8 222,708.3 223,711.0 224,712.2 225,711.6 226,711.1 227,710.0 228,709.7 229,709.0 230,706.3 231,708.5 232,709.8 233,710.7 234,710.0 235,708.7 236,709.9 237,710.2 238,710.8 239,710.0 240,709.5 241,708.8 242,709.7 243,709.6 244,709.7 245,709.8 246,710.1 247,709.8 248,708.1 249,708.4 250,707.5 251,706.7 252,703.8 253,701.1 254,703.2 255,704.2 256,699.9 257,701.8 258,704.3 259,702.9 260,704.4 261,705.8 262,705.6 263,705.0 264,703.7 265,704.2 266,702.4 267,704.6 268,700.6 269,702.2 270,703.5 271,703.4 272,703.3 273,703.8 274,703.8 275,702.2 276,701.7 277,702.7 278,703.2 279,703.4 280,702.6 281,702.1 282,701.6 283,701.8 284,700.2 285,701.4 286,703.0 287,703.4 288,703.7 289,702.1 290,701.1 291,703.8 292,705.7 293,703.5 294,703.6 295,702.9 296,703.5 297,702.3 298,701.0 299,702.6 300,703.8 301,703.7 302,703.3 303,702.7 304,702.5 305,701.3 306,701.6 307,701.5 308,700.2 309,699.8 310,699.4 311,700.3 312,699.3 313,699.9 314,698.9 315,698.9 316,696.8 317,696.9 318,697.3 319,697.5 320,696.3 321,695.8 322,695.1 323,695.1 324,695.4 325,695.7 326,695.4 327,695.3 328,695.3 329,695.6 330,695.0 331,695.0 332,694.8 333,694.1 334,691.4 335,692.7 336,693.8 337,692.4 338,692.6 339,689.4 340,691.9 341,693.3 342,693.5 343,690.9 344,691.0 345,691.6 346,690.9 347,690.8 348,690.9 349,690.3 350,690.8 351,690.9 352,690.3 353,690.9 354,691.4 355,690.6 356,691.4 357,690.5 358,689.5 359,689.0 360,689.5 361,690.8 362,689.7 363,690.6 364,690.5 365,691.6 366,689.3 367,691.5 368,692.5 369,692.1 370,691.4 371,691.4 372,691.2 373,691.4 374,690.5 375,690.9 376,691.8 377,689.3 378,689.3 379,686.7 380,682.5 381,685.4 382,687.0 383,685.3 384,686.1 385,680.9 386,684.1 387,686.4 388,686.0 389,684.4 390,685.3 391,686.4 392,686.7 393,686.6 394,686.7 395,683.6 396,686.2 397,685.8 398,684.9 399,684.7 400,683.3 401,683.4 402,682.9 403,682.4 404,682.8 405,683.5 406,684.2 407,681.4 408,682.3 409,681.4 410,675.7 411,677.4 412,679.1 413,679.7 414,679.2 415,679.8 416,678.8 417,678.6 418,678.1 419,677.4 420,677.9 421,680.0 422,679.5 423,678.8 424,680.3 425,679.5 426,680.0 427,679.5 428,677.6 429,675.3 430,675.0 431,675.6 432,674.3 433,674.2 434,675.6 435,676.5 436,678.2 437,677.7 438,675.3 439,677.1 440,679.6 441,679.7 442,677.5 443,678.8 444,677.5 445,676.6 446,675.4 447,677.8 448,680.3 449,677.0 450,679.1 451,680.5 452,680.9 453,681.3 454,682.2 455,676.4 456,678.5 457,672.5 458,676.2 459,680.0 460,681.0 461,679.0 462,679.4 463,680.3 464,681.1 465,680.3 466,679.6 467,680.0 468,679.0 469,679.2 470,678.3 471,677.8 472,675.7 473,675.9 474,671.9 475,674.5 476,678.5 477,678.4 478,679.5 479,679.3 480,678.9 481,675.6 482,676.1 483,677.6 484,676.3 485,673.5 486,673.3 487,672.7 488,672.5 489,671.4 490,671.3 491,671.5 492,670.9 493,671.3 494,671.8 495,671.0 496,670.6 497,670.9 498,672.6 499,673.0 500,674.6 501,673.6 502,674.0 503,673.7 504,673.1 505,671.0 506,671.7 507,671.6 508,672.2 509,671.4 510,666.0 511,668.8 512,671.5 513,669.8 514,669.7 515,670.1 516,669.4 517,669.3 518,669.1 519,669.5 520,664.9 521,666.7 522,668.5 523,668.7 524,667.6 525,668.8 526,669.6 527,671.0 528,668.8 529,666.9 530,669.0 531,664.5 532,667.8 533,669.9 534,668.4 535,670.1 536,668.8 537,668.4 538,665.3 539,665.8 540,665.5 541,665.4 542,664.7 543,665.5 544,664.6 545,666.5 546,666.5 547,666.7 548,667.3 549,667.8 550,665.9 551,665.5 552,666.1 553,665.5 554,662.8 555,663.5 556,662.9 557,663.4 558,661.4 559,662.0 560,662.4 561,662.2 562,662.8 563,662.4 564,663.5 565,660.5 566,660.5 567,662.2 568,662.2 569,663.5 570,664.1 571,664.6 572,661.8 573,662.8 574,664.1 575,664.6 576,665.2 577,662.6 578,664.8 579,659.9 580,663.0 581,664.0 582,663.6 583,662.8 584,663.7 585,660.7 586,661.2 587,658.5 588,659.2 589,660.5 590,661.2 591,661.1 592,656.6 593,657.8 594,656.6 595,657.0 596,658.3 597,657.6 598,660.1 599,660.5 600,660.7 601,660.9 602,660.3 603,659.5 604,661.0 605,660.3 606,661.1 607,661.3 608,661.6 609,662.2 610,663.6 611,663.7 612,659.4 613,659.7 614,659.7 615,657.8 616,656.0 617,653.7 618,655.5 619,657.1 620,656.1 621,656.1 622,654.3 623,654.6 624,655.0 625,654.8 626,650.9 627,652.9 628,653.2 629,651.5 630,653.3 631,654.2 632,653.2 633,652.9 634,651.6 635,651.2 636,649.4 637,647.1 638,643.8 639,646.4 640,648.0 641,649.3 642,650.5 643,651.3 644,650.0 645,649.3 646,650.5 647,648.7 648,650.2 649,650.5 650,651.5 651,644.8 652,648.3 653,648.9 654,647.2 655,648.0 656,648.8 657,648.2 658,645.4 659,646.9 660,647.6 661,647.3 662,643.0 663,641.7 664,644.8 665,648.6 666,648.9 667,650.2 668,649.8 669,646.7 670,647.9 671,643.9 672,646.5 673,649.3 674,648.5 675,647.7 676,646.0 677,647.5 678,647.7 679,647.4 680,646.8 681,647.5 682,646.2 683,646.7 684,646.1 685,647.8 686,649.0 687,650.3 688,650.3 689,646.5 690,648.0 691,647.4 692,649.1 693,649.4 694,649.1 695,644.0 696,646.6 697,645.0 698,645.5 699,643.4 700,643.8 701,644.6 702,645.0 703,643.7 704,641.9 705,642.7 706,642.3 707,641.5 708,642.9 709,642.1 710,643.2 711,639.7 712,641.2 713,642.0 714,639.9 715,640.3 716,638.7 717,638.9 718,638.4 719,636.0 720,636.8 721,638.6 722,634.0 723,636.2 724,634.5 725,636.5 726,638.0 727,637.3 728,638.4 729,639.5 730,637.0 731,637.6 732,636.9 733,636.1 734,633.7 735,633.9 736,635.6 737,634.3 738,633.1 739,632.9 740,632.7 741,630.4 742,631.2 743,632.7 744,631.9 745,632.2 746,631.5 747,630.6 748,631.0 749,629.8 750,630.2 751,631.0 752,631.7 753,632.7 754,633.1 755,631.5 756,630.8 757,627.9 758,629.3 759,623.5 760,626.1 761,629.4 762,626.9 763,628.6 764,629.6 765,629.6 766,630.6 767,628.3 768,627.6 769,627.5 770,627.3 771,623.1 772,625.7 773,626.3 774,627.3 775,626.4 776,625.6 777,622.9 778,622.8 779,622.8 780,622.5 781,621.8 782,621.4 783,622.2 784,622.5 785,623.2 786,624.7 787,626.2 788,625.1 789,626.8 790,626.5 791,624.2 792,625.9 793,626.0 794,628.0 795,626.5 796,626.8 797,622.5 798,625.1 799,623.3 800,625.0 801,620.5 802,624.1 803,625.8 804,626.5 805,626.3 806,625.8 807,620.4 808,623.2 809,625.7 810,624.0 811,624.0 812,615.5 813,618.5 814,618.6 815,620.3 816,622.4 817,619.0 818,621.2 819,621.6 820,623.8 821,624.0 822,623.4 823,622.7 824,622.2 825,621.3 826,616.2 827,617.3 828,616.6 829,617.5 830,615.3 831,615.3 832,616.7 833,617.4 834,617.1 835,615.8 836,615.9 837,617.7 838,614.7 839,615.7 840,616.5 841,614.1 842,612.5 843,612.1 844,613.7 845,613.4 846,612.9 847,604.9 848,610.4 849,612.9 850,611.6 851,613.6 852,613.0 853,613.8 854,613.3 855,613.0 856,613.5 857,613.4 858,613.0 859,612.7 860,611.9 861,612.7 862,609.4 863,611.2 864,611.8 865,612.9 866,612.8 867,609.0 868,608.1 869,609.4 870,610.7 871,612.0 872,609.1 873,606.7 874,608.9 875,607.1 876,609.0 877,606.5 878,608.4 879,611.3 880,610.6 881,608.3 882,604.1 883,596.3 884,601.6 885,605.1 886,604.4 887,601.0 888,602.7 889,602.3 890,603.4 891,602.4 892,601.6 893,604.0 894,602.7 895,602.6 896,602.7 897,595.2 898,599.9 899,599.9 900,601.2 901,600.8 902,602.8 903,603.0 904,604.3 905,603.7 906,602.4 907,601.7 908,597.0 909,601.4 910,602.5 911,602.6 912,601.6 913,602.2 914,604.3 915,604.0 916,605.2 917,603.5 918,600.8 919,601.6 920,603.7 921,604.0 922,602.8 923,605.7 924,604.3 925,604.2 926,603.0 927,602.8 928,602.8 929,600.7 930,600.6 931,600.3 932,599.9 933,597.0 934,594.7 935,592.5 936,595.3 937,594.5 938,595.2 939,596.6 940,597.9 941,599.0 942,598.9 943,597.5 944,598.3 945,600.6 946,600.3 947,598.7 948,597.1 949,599.2 950,600.3 951,599.0 952,595.6 953,595.5 954,594.7 955,593.6 956,588.5 957,592.3 958,593.4 959,594.8 960,594.0 961,593.8 962,595.1 963,584.8 964,591.5 965,596.2 966,599.3 967,595.7 968,591.5 969,594.2 970,595.1 971,591.8 972,592.1 973,591.9 974,592.8 975,592.2 976,592.4 977,588.2 978,590.0 979,590.7 980,590.0 981,590.3 982,588.6 983,584.1 984,584.7 985,582.3 986,580.3 987,579.1 988,581.0 989,582.0 990,583.1 991,583.8 992,578.2 993,581.6 994,582.8 995,573.8 996,576.2 997,579.8 998,578.7 999,579.2 1000,580.3 1001,581.8 1002,580.6 1003,581.4 1004,579.5 1005,580.1 1006,580.6 1007,582.0 1008,577.4 1009,577.2 1010,576.6 1011,577.2 1012,573.0 1013,576.9 1014,580.0 1015,576.5 1016,578.6 1017,571.5 1018,575.4 1019,579.4 1020,573.8 1021,575.2 1022,573.1 1023,574.4 1024,569.5 1025,570.6 1026,570.7 1027,568.5 1028,564.9 1029,568.5 1030,570.9 1031,569.7 1032,569.5 1033,570.7 1034,571.6 1035,570.2 1036,567.7 1037,569.0 1038,568.8 1039,566.6 1040,565.4 1041,564.5 1042,566.5 1043,565.2 1044,557.6 1045,562.2 1046,565.9 1047,564.7 1048,565.8 1049,566.8 1050,565.8 1051,565.6 1052,567.7 1053,570.7 1054,569.0 1055,568.3 1056,568.3 1057,568.2 1058,566.3 1059,566.2 1060,564.0 1061,562.8 1062,562.6 1063,562.5 1064,562.8 1065,564.9 1066,565.1 1067,566.0 1068,565.4 1069,563.9 1070,562.1 1071,564.5 1072,562.5 1073,563.8 1074,556.0 1075,560.2 1076,560.2 1077,557.7 1078,558.8 1079,560.3 1080,559.0 1081,560.3 1082,551.7 1083,555.6 1084,561.0 1085,559.9 1086,561.5 1087,560.5 1088,562.0 1089,562.7 1090,563.8 1091,563.1 1092,563.1 1093,561.5 1094,558.6 1095,556.6 1096,557.8 1097,558.0 1098,559.2 1099,560.4 1100,559.2 1101,558.4 1102,559.5 1103,561.3 1104,559.7 1105,560.3 1106,554.4 1107,556.5 1108,559.6 1109,556.0 1110,557.1 1111,556.8 1112,558.7 1113,550.5 1114,554.6 1115,560.1 1116,557.5 1117,559.3 1118,561.3 1119,563.3 1120,560.2 1121,559.8 1122,559.7 1123,559.1 1124,560.4 1125,560.0 1126,553.9 1127,557.8 1128,561.4 1129,550.2 1130,554.6 1131,558.0 1132,556.9 1133,557.4 1134,556.0 1135,558.4 1136,556.2 1137,553.6 1138,552.2 1139,554.9 1140,547.1 1141,553.4 1142,556.5 1143,557.3 1144,554.9 1145,555.5 1146,556.0 1147,550.7 1148,553.1 1149,545.7 1150,548.2 1151,550.4 1152,549.9 1153,550.1 1154,547.4 1155,549.7 1156,547.5 1157,550.1 1158,551.0 1159,546.1 1160,546.3 1161,544.4 1162,545.9 1163,547.5 1164,548.8 1165,547.0 1166,549.8 1167,549.4 1168,546.7 1169,544.4 1170,546.0 1171,544.6 1172,543.5 1173,541.7 1174,541.6 1175,541.7 1176,536.9 1177,538.7 1178,538.9 1179,537.8 1180,536.8 1181,535.3 1182,535.0 1183,535.6 1184,535.2 1185,530.7 1186,531.8 1187,535.0 1188,534.2 1189,531.5 1190,531.0 1191,527.6 1192,528.1 1193,527.4 1194,527.6 1195,526.0 1196,528.6 1197,530.8 1198,531.6 1199,531.5 1200,529.3 1201,529.0 1202,529.5 1203,528.9 1204,528.3 1205,528.6 1206,530.6 1207,530.1 1208,527.8 1209,524.8 1210,526.0 1211,523.9 1212,525.6 1213,526.1 1214,523.7 1215,522.6 1216,520.9 1217,524.6 1218,528.2 1219,527.3 1220,528.0 1221,525.8 1222,525.7 1223,528.3 1224,529.0 1225,525.7 1226,523.3 1227,523.1 1228,526.0 1229,528.4 1230,525.9 1231,523.5 1232,521.0 1233,514.3 1234,517.6 1235,520.8 1236,521.3 1237,521.9 1238,522.4 1239,520.4 1240,518.4 1241,520.2 1242,518.1 1243,517.9 1244,516.7 1245,513.5 1246,518.8 1247,518.8 1248,522.2 1249,524.2 1250,523.1 1251,521.4 1252,521.9 1253,524.9 1254,525.3 1255,522.3 1256,512.1 1257,516.9 1258,521.9 1259,516.1 1260,518.4 1261,514.5 1262,517.5 1263,519.4 1264,517.5 1265,515.5 1266,515.8 1267,515.3 1268,511.3 1269,512.1 1270,515.8 1271,516.3 1272,513.7 1273,514.7 1274,511.3 1275,513.4 1276,516.2 1277,517.2 1278,514.8 1279,515.8 1280,515.9 1281,513.3 1282,516.3 1283,516.2 1284,513.0 1285,513.4 1286,513.7 1287,515.4 1288,518.4 1289,514.0 1290,512.9 1291,511.8 1292,511.8 1293,511.0 1294,508.0 1295,510.1 1296,508.6 1297,509.6 1298,507.3 1299,505.6 1300,507.4 1301,509.1 1302,503.0 1303,506.1 1304,506.7 1305,505.8 1306,507.2 1307,509.3 1308,502.3 1309,506.6 1310,506.5 1311,504.8 1312,507.6 1313,509.6 1314,510.2 1315,510.8 1316,508.6 1317,511.3 1318,510.0 1319,508.9 1320,500.3 1321,496.4 1322,501.6 1323,506.0 1324,503.9 1325,502.0 1326,504.6 1327,502.6 1328,497.0 1329,500.7 1330,500.9 1331,503.4 1332,498.2 1333,500.3 1334,498.5 1335,504.1 1336,505.3 1337,506.9 1338,507.3 1339,505.0 1340,505.6 1341,506.0 1342,504.2 1343,503.3 1344,504.0 1345,503.8 1346,502.5 1347,501.9 1348,502.4 1349,502.0 1350,502.0 1351,502.7 1352,504.9 1353,503.0 1354,501.6 1355,502.0 1356,501.1 1357,500.6 1358,492.7 1359,494.2 1360,497.9 1361,495.5 1362,495.2 1363,500.0 1364,498.0 1365,500.1 1366,501.1 1367,500.5 1368,503.1 1369,499.6 1370,500.0 1371,502.6 1372,495.9 1373,494.4 1374,495.6 1375,494.6 1376,496.9 1377,500.3 1378,497.9 1379,491.6 1380,493.0 1381,494.6 1382,496.3 1383,496.5 1384,497.4 1385,496.0 1386,496.3 1387,496.2 1388,495.4 1389,499.0 1390,495.3 1391,496.2 1392,495.4 1393,495.0 1394,495.8 1395,495.1 1396,493.5 1397,492.7 1398,490.1 1399,481.1 1400,485.5 1401,488.5 1402,492.0 1403,491.2 1404,491.5 1405,493.7 1406,490.2 1407,488.3 1408,484.4 1409,487.6 1410,489.7 1411,487.7 1412,487.7 1413,487.6 1414,484.8 1415,483.0 1416,483.6 1417,485.1 1418,484.7 1419,477.6 1420,482.1 1421,483.6 1422,483.4 1423,479.4 1424,482.7 1425,486.8 1426,486.7 1427,484.1 1428,481.4 1429,481.7 1430,480.5 1431,474.3 1432,476.1 1433,481.7 1434,479.1 1435,475.0 1436,476.9 1437,479.6 1438,475.6 1439,477.8 1440,475.2 1441,477.9 1442,474.1 1443,475.5 1444,475.8 1445,476.8 1446,478.0 1447,477.6 1448,478.3 1449,476.3 1450,477.4 1451,478.4 1452,472.9 1453,472.0 1454,472.8 1455,470.4 1456,466.1 1457,461.8 1458,467.8 1459,472.5 1460,470.7 1461,470.2 1462,471.7 1463,471.7 1464,467.7 1465,466.5 1466,463.5 1467,461.0 1468,460.3 1469,463.4 1470,464.1 1471,463.8 1472,463.9 1473,464.1 1474,464.3 1475,463.6 1476,458.2 1477,461.2 1478,463.0 1479,463.5 1480,462.5 1481,458.6 1482,460.2 1483,456.2 1484,456.6 1485,453.9 1486,458.6 1487,457.1 1488,456.8 1489,459.0 1490,459.6 1491,453.1 1492,457.6 1493,461.9 1494,463.0 1495,460.2 1496,462.5 1497,460.4 1498,462.1 1499,459.1 1500,460.7 1501,455.2 1502,456.8 1503,456.9 1504,454.7 1505,455.0 1506,454.2 1507,446.3 1508,448.7 1509,451.9 1510,453.9 1511,452.8 1512,452.6 1513,452.0 1514,449.0 1515,450.0 1516,447.8 1517,446.7 1518,448.6 1519,448.8 1520,451.2 1521,453.4 1522,454.3 1523,453.9 1524,452.7 1525,448.4 1526,450.1 1527,451.5 1528,450.9 1529,452.4 1530,452.6 1531,454.0 1532,454.7 1533,455.0 1534,453.4 1535,450.8 1536,450.1 1537,450.9 1538,450.2 1539,449.1 1540,449.4 1541,450.8 1542,451.3 1543,450.8 1544,437.0 1545,443.1 1546,446.9 1547,447.4 1548,448.0 1549,433.9 1550,433.9 1551,438.3 1552,439.4 1553,437.4 1554,433.9 1555,433.4 1556,431.0 1557,431.8 1558,434.2 1559,435.9 1560,437.0 1561,438.3 1562,436.8 1563,438.5 1564,438.1 1565,436.0 1566,434.3 1567,436.3 1568,434.0 1569,432.7 1570,431.1 1571,430.2 1572,428.6 1573,426.8 1574,430.2 1575,428.4 1576,432.3 1577,432.3 1578,432.9 1579,429.0 1580,428.7 1581,428.3 1582,426.2 1583,427.4 1584,424.3 1585,424.6 1586,421.9 1587,419.9 1588,421.8 1589,421.3 1590,419.9 1591,419.3 1592,421.3 1593,420.7 1594,422.5 1595,419.8 1596,415.8 1597,412.4 1598,411.6 1599,414.4 1600,413.7 1601,414.6 1602,419.0 1603,422.2 1604,420.5 1605,416.3 1606,415.3 1607,414.1 1608,414.9 1609,415.6 1610,414.4 1611,412.3 1612,409.2 1613,410.5 1614,409.2 1615,410.8 1616,411.6 1617,411.8 1618,411.9 1619,411.2 1620,409.4 1621,408.3 1622,409.4 1623,410.5 1624,412.2 1625,408.9 1626,401.5 1627,406.8 1628,408.4 1629,412.1 1630,413.1 1631,413.6 1632,403.8 1633,410.9 1634,411.1 1635,405.8 1636,407.8 1637,409.2 1638,409.7 1639,407.3 1640,410.9 1641,411.8 1642,412.0 1643,413.0 1644,412.8 1645,414.2 1646,413.4 1647,414.5 1648,408.4 1649,413.1 1650,414.5 1651,415.1 1652,412.2 1653,412.7 1654,410.8 1655,414.2 1656,413.1 1657,415.2 1658,417.0 1659,416.3 1660,407.4 1661,408.8 1662,411.0 1663,409.3 1664,409.0 1665,407.5 1666,406.0 1667,408.7 1668,408.2 1669,408.3 1670,405.1 1671,406.3 1672,407.1 1673,403.9 1674,397.3 1675,403.2 1676,404.9 1677,404.1 1678,394.1 1679,396.9 1680,394.0 1681,397.4 1682,396.4 1683,401.4 1684,406.5 1685,396.9 1686,397.3 1687,398.9 1688,400.2 1689,399.3 1690,397.7 1691,397.1 1692,400.3 1693,402.9 1694,403.6 1695,395.3 1696,398.5 1697,396.5 1698,397.2 1699,395.7 1700,392.2 1701,391.1 1702,387.1 1703,386.8 1704,384.1 1705,378.6 1706,381.3 1707,381.2 1708,381.6 1709,380.5 1710,383.9 1711,383.7 1712,383.1 1713,385.0 1714,381.3 1715,383.1 1716,384.5 1717,384.2 1718,385.2 1719,381.6 1720,384.3 1721,385.0 1722,383.7 1723,372.8 1724,376.5 1725,380.8 1726,378.7 1727,380.7 1728,382.6 1729,371.8 1730,371.6 1731,376.3 1732,379.9 1733,379.9 1734,376.0 1735,378.8 1736,377.8 1737,379.0 1738,377.4 1739,376.6 1740,377.6 1741,376.3 1742,377.6 1743,378.4 1744,376.1 1745,377.1 1746,376.1 1747,371.9 1748,371.7 1749,372.9 1750,375.3 1751,374.4 1752,371.7 1753,370.8 1754,370.8 1755,360.4 1756,364.5 1757,371.5 1758,371.3 1759,368.8 1760,368.1 1761,367.9 1762,370.7 1763,376.2 1764,375.6 1765,376.8 1766,378.1 1767,374.8 1768,376.9 1769,375.6 1769,451.4 1768,454.4 1767,454.3 1766,458.8 1765,459.9 1764,460.1 1763,454.6 1762,454.6 1761,454.1 1760,458.4 1759,453.5 1758,457.1 1757,465.4 1756,458.2 1755,459.3 1754,464.0 1753,466.4 1752,459.0 1751,458.5 1750,458.2 1749,452.3 1748,450.7 1747,450.1 1746,451.5 1745,455.0 1744,459.1 1743,460.8 1742,461.6 1741,466.0 1740,463.6 1739,466.2 1738,469.4 1737,467.0 1736,466.3 1735,466.9 1734,471.7 1733,465.6 1732,467.8 1731,466.9 1730,465.2 1729,461.4 1728,461.2 1727,460.0 1726,461.6 1725,462.9 1724,460.0 1723,459.1 1722,459.7 1721,465.5 1720,473.1 1719,464.4 1718,465.9 1717,468.9 1716,468.0 1715,467.9 1714,467.5 1713,467.4 1712,465.3 1711,466.9 1710,467.1 1709,467.5 1708,470.8 1707,470.5 1706,471.0 1705,469.1 1704,469.8 1703,467.9 1702,467.7 1701,471.3 1700,479.1 1699,472.9 1698,477.1 1697,485.9 1696,478.4 1695,478.2 1694,476.2 1693,475.3 1692,470.6 1691,470.1 1690,471.6 1689,470.9 1688,467.1 1687,465.8 1686,471.3 1685,474.2 1684,480.6 1683,483.6 1682,477.4 1681,477.9 1680,475.5 1679,479.3 1678,482.7 1677,477.2 1676,480.8 1675,487.4 1674,482.5 1673,482.7 1672,486.4 1671,485.2 1670,485.9 1669,485.5 1668,486.0 1667,485.3 1666,480.9 1665,485.2 1664,487.6 1663,486.3 1662,488.2 1661,487.4 1660,486.7 1659,484.8 1658,487.9 1657,490.2 1656,489.1 1655,493.0 1654,491.3 1653,490.5 1652,488.4 1651,488.3 1650,486.0 1649,488.1 1648,485.9 1647,487.6 1646,492.6 1645,488.7 1644,486.4 1643,492.4 1642,484.8 1641,484.7 1640,488.9 1639,484.6 1638,485.9 1637,488.8 1636,486.7 1635,485.8 1634,489.6 1633,492.0 1632,493.6 1631,489.5 1630,488.2 1629,487.1 1628,483.8 1627,485.9 1626,487.1 1625,486.5 1624,486.7 1623,489.0 1622,486.9 1621,492.0 1620,489.0 1619,487.5 1618,487.2 1617,487.9 1616,490.6 1615,489.3 1614,485.6 1613,487.5 1612,490.9 1611,488.6 1610,489.9 1609,489.0 1608,491.8 1607,496.3 1606,498.4 1605,498.4 1604,497.5 1603,498.7 1602,496.1 1601,497.1 1600,494.1 1599,492.8 1598,492.2 1597,494.1 1596,494.7 1595,493.6 1594,500.6 1593,505.1 1592,499.7 1591,491.8 1590,491.2 1589,496.0 1588,500.6 1587,495.2 1586,501.6 1585,493.1 1584,496.3 1583,491.2 1582,493.1 1581,496.2 1580,498.8 1579,503.0 1578,501.9 1577,498.4 1576,497.4 1575,494.4 1574,495.2 1573,498.0 1572,498.9 1571,500.7 1570,500.8 1569,501.9 1568,501.3 1567,503.6 1566,505.5 1565,505.7 1564,510.7 1563,503.8 1562,506.4 1561,509.3 1560,507.7 1559,509.7 1558,507.0 1557,507.2 1556,504.7 1555,503.3 1554,506.9 1553,510.2 1552,511.0 1551,511.7 1550,511.4 1549,509.9 1548,510.8 1547,510.0 1546,511.3 1545,513.0 1544,516.7 1543,511.2 1542,509.8 1541,509.6 1540,512.1 1539,517.3 1538,516.9 1537,509.3 1536,510.6 1535,510.6 1534,512.3 1533,513.2 1532,515.6 1531,516.1 1530,515.5 1529,517.5 1528,512.9 1527,516.9 1526,520.8 1525,515.4 1524,514.5 1523,513.5 1522,512.9 1521,511.9 1520,509.6 1519,510.1 1518,509.4 1517,511.0 1516,510.6 1515,510.7 1514,513.5 1513,513.4 1512,514.1 1511,514.2 1510,517.4 1509,516.3 1508,517.3 1507,518.9 1506,519.0 1505,521.7 1504,518.6 1503,521.8 1502,520.0 1501,521.0 1500,521.9 1499,524.9 1498,525.4 1497,524.6 1496,524.6 1495,526.3 1494,528.8 1493,531.9 1492,520.8 1491,521.3 1490,521.5 1489,525.7 1488,519.7 1487,519.9 1486,520.7 1485,519.7 1484,519.1 1483,521.2 1482,522.6 1481,527.3 1480,525.8 1479,529.6 1478,526.1 1477,529.0 1476,525.9 1475,527.6 1474,525.3 1473,526.0 1472,524.6 1471,522.6 1470,521.3 1469,522.2 1468,525.3 1467,525.0 1466,527.6 1465,529.6 1464,530.1 1463,534.7 1462,533.5 1461,538.3 1460,534.6 1459,534.8 1458,533.6 1457,536.0 1456,533.0 1455,533.8 1454,532.0 1453,530.6 1452,533.0 1451,535.0 1450,537.1 1449,538.6 1448,537.1 1447,535.6 1446,539.0 1445,531.0 1444,530.7 1443,531.9 1442,533.0 1441,530.2 1440,529.7 1439,532.7 1438,536.5 1437,532.0 1436,533.3 1435,536.0 1434,533.8 1433,535.9 1432,537.9 1431,536.0 1430,537.1 1429,536.8 1428,534.7 1427,535.9 1426,539.4 1425,540.1 1424,540.7 1423,545.3 1422,539.1 1421,538.6 1420,540.2 1419,537.1 1418,538.8 1417,539.8 1416,537.7 1415,537.5 1414,541.8 1413,547.4 1412,537.3 1411,539.4 1410,540.7 1409,543.5 1408,545.9 1407,551.3 1406,542.1 1405,544.9 1404,543.3 1403,544.8 1402,542.6 1401,544.7 1400,542.6 1399,551.9 1398,559.3 1397,546.9 1396,544.4 1395,552.2 1394,550.1 1393,549.8 1392,551.8 1391,551.9 1390,549.9 1389,549.4 1388,549.4 1387,548.6 1386,550.7 1385,555.1 1384,553.1 1383,555.2 1382,553.6 1381,553.1 1380,551.4 1379,552.7 1378,553.8 1377,557.0 1376,560.0 1375,565.0 1374,561.7 1373,562.2 1372,559.9 1371,561.3 1370,562.2 1369,560.8 1368,561.8 1367,562.2 1366,560.0 1365,560.8 1364,560.5 1363,560.3 1362,559.4 1361,559.7 1360,560.1 1359,561.7 1358,562.4 1357,566.5 1356,575.0 1355,573.2 1354,563.4 1353,561.0 1352,557.0 1351,559.1 1350,562.5 1349,564.7 1348,561.3 1347,562.1 1346,563.2 1345,563.4 1344,561.4 1343,560.9 1342,564.3 1341,561.9 1340,562.9 1339,565.3 1338,563.1 1337,563.9 1336,563.8 1335,564.4 1334,560.4 1333,558.5 1332,557.7 1331,558.8 1330,559.3 1329,562.2 1328,563.2 1327,567.5 1326,563.3 1325,563.7 1324,567.4 1323,567.7 1322,571.1 1321,571.7 1320,573.6 1319,574.1 1318,576.1 1317,577.8 1316,574.8 1315,578.9 1314,569.9 1313,572.8 1312,575.8 1311,569.2 1310,571.7 1309,574.0 1308,569.4 1307,569.5 1306,577.2 1305,582.6 1304,577.3 1303,572.9 1302,574.0 1301,577.2 1300,577.6 1299,573.3 1298,570.7 1297,572.8 1296,575.3 1295,575.5 1294,576.9 1293,576.7 1292,576.3 1291,578.8 1290,579.9 1289,577.4 1288,579.7 1287,579.9 1286,582.5 1285,581.7 1284,581.5 1283,581.0 1282,583.3 1281,582.0 1280,581.3 1279,582.3 1278,584.0 1277,583.1 1276,579.5 1275,579.4 1274,579.6 1273,576.0 1272,577.5 1271,579.8 1270,579.4 1269,577.5 1268,579.4 1267,584.2 1266,577.0 1265,579.2 1264,577.9 1263,576.6 1262,574.8 1261,573.6 1260,573.9 1259,573.6 1258,575.1 1257,573.8 1256,574.6 1255,575.9 1254,577.4 1253,580.0 1252,580.9 1251,581.2 1250,579.7 1249,583.4 1248,583.3 1247,582.8 1246,584.2 1245,584.3 1244,583.4 1243,580.9 1242,586.4 1241,592.0 1240,582.8 1239,582.6 1238,584.5 1237,583.9 1236,584.9 1235,582.7 1234,583.7 1233,583.0 1232,582.4 1231,583.7 1230,584.1 1229,583.3 1228,585.4 1227,584.5 1226,586.7 1225,587.8 1224,585.4 1223,590.1 1222,588.0 1221,589.7 1220,590.9 1219,589.9 1218,584.7 1217,586.3 1216,586.2 1215,587.0 1214,589.8 1213,586.0 1212,583.5 1211,585.1 1210,584.8 1209,588.4 1208,589.5 1207,587.7 1206,592.8 1205,588.5 1204,591.6 1203,587.2 1202,587.5 1201,592.0 1200,594.8 1199,592.3 1198,592.3 1197,596.0 1196,593.2 1195,594.2 1194,592.0 1193,591.6 1192,592.5 1191,592.9 1190,591.2 1189,592.6 1188,589.0 1187,591.6 1186,591.5 1185,594.0 1184,592.1 1183,592.3 1182,592.6 1181,595.6 1180,589.4 1179,591.1 1178,594.1 1177,602.3 1176,603.0 1175,594.4 1174,594.5 1173,593.2 1172,593.3 1171,595.6 1170,596.7 1169,595.5 1168,596.9 1167,597.9 1166,596.3 1165,597.8 1164,598.3 1163,598.9 1162,600.3 1161,600.2 1160,601.7 1159,598.4 1158,601.2 1157,603.8 1156,602.2 1155,605.3 1154,608.5 1153,605.0 1152,606.8 1151,607.5 1150,607.9 1149,605.5 1148,605.1 1147,605.1 1146,606.9 1145,607.5 1144,605.1 1143,607.8 1142,612.1 1141,604.5 1140,605.4 1139,607.2 1138,608.6 1137,607.3 1136,610.7 1135,616.4 1134,604.3 1133,604.0 1132,603.5 1131,603.2 1130,604.1 1129,602.4 1128,604.0 1127,608.4 1126,605.9 1125,606.7 1124,607.3 1123,607.8 1122,607.0 1121,606.6 1120,605.0 1119,603.8 1118,603.5 1117,603.4 1116,605.2 1115,607.3 1114,609.4 1113,602.3 1112,604.6 1111,604.1 1110,604.7 1109,604.3 1108,606.8 1107,606.6 1106,603.6 1105,604.0 1104,606.1 1103,607.3 1102,605.8 1101,609.2 1100,608.1 1099,608.7 1098,603.9 1097,606.5 1096,611.0 1095,607.8 1094,610.3 1093,611.3 1092,614.5 1091,615.8 1090,617.7 1089,622.6 1088,616.4 1087,619.1 1086,618.7 1085,617.5 1084,620.6 1083,613.3 1082,613.4 1081,615.4 1080,617.2 1079,623.5 1078,620.3 1077,613.9 1076,614.5 1075,615.6 1074,617.1 1073,619.4 1072,619.1 1071,616.3 1070,618.4 1069,612.6 1068,614.5 1067,617.7 1066,618.0 1065,619.4 1064,622.7 1063,621.5 1062,621.6 1061,622.8 1060,625.6 1059,625.6 1058,625.7 1057,626.8 1056,628.2 1055,629.6 1054,630.9 1053,628.8 1052,630.4 1051,629.5 1050,634.2 1049,628.6 1048,629.1 1047,626.5 1046,625.9 1045,628.0 1044,630.0 1043,627.6 1042,624.4 1041,627.7 1040,629.3 1039,625.0 1038,624.4 1037,626.0 1036,627.2 1035,630.6 1034,623.5 1033,625.5 1032,626.2 1031,625.4 1030,624.7 1029,627.1 1028,624.8 1027,627.1 1026,629.8 1025,634.7 1024,630.6 1023,632.9 1022,629.6 1021,627.8 1020,628.5 1019,629.0 1018,627.7 1017,628.8 1016,628.4 1015,630.2 1014,632.1 1013,633.0 1012,630.2 1011,630.8 1010,632.0 1009,632.8 1008,635.7 1007,633.6 1006,634.1 1005,635.6 1004,633.2 1003,634.9 1002,638.0 1001,638.4 1000,634.6 999,634.0 998,635.0 997,637.8 996,642.6 995,634.8 994,633.3 993,635.4 992,641.4 991,649.7 990,633.4 989,632.3 988,631.0 987,635.5 986,638.5 985,637.3 984,643.3 983,639.6 982,639.4 981,640.0 980,638.2 979,639.0 978,639.8 977,638.0 976,639.0 975,639.7 974,637.8 973,636.7 972,637.4 971,637.4 970,635.1 969,636.5 968,635.9 967,635.7 966,636.3 965,637.6 964,634.2 963,636.8 962,635.2 961,636.0 960,635.0 959,635.8 958,636.3 957,637.3 956,638.3 955,640.5 954,640.8 953,637.8 952,636.0 951,636.7 950,642.1 949,645.7 948,638.2 947,641.7 946,645.4 945,642.0 944,644.8 943,641.9 942,640.9 941,641.5 940,641.5 939,639.9 938,640.9 937,639.6 936,640.3 935,640.5 934,641.4 933,641.2 932,639.0 931,639.3 930,639.2 929,642.8 928,646.0 927,636.8 926,636.6 925,638.7 924,640.9 923,638.4 922,639.2 921,641.9 920,642.6 919,641.5 918,642.5 917,642.9 916,645.3 915,641.9 914,640.2 913,642.7 912,641.6 911,643.1 910,644.4 909,645.2 908,643.4 907,643.5 906,647.2 905,644.6 904,642.4 903,645.2 902,642.7 901,643.2 900,640.6 899,642.4 898,642.2 897,642.1 896,642.5 895,643.4 894,645.8 893,648.2 892,643.8 891,643.2 890,644.4 889,643.6 888,645.1 887,645.5 886,643.5 885,645.0 884,644.6 883,644.0 882,645.7 881,647.4 880,645.1 879,648.1 878,645.8 877,648.4 876,650.3 875,647.7 874,645.5 873,647.1 872,648.8 871,649.6 870,650.6 869,653.3 868,658.2 867,650.2 866,650.4 865,650.0 864,648.5 863,648.4 862,649.2 861,651.7 860,654.3 859,650.4 858,652.4 857,652.2 856,654.1 855,654.4 854,653.5 853,651.9 852,653.1 851,653.2 850,653.7 849,652.1 848,650.5 847,649.1 846,649.5 845,653.3 844,650.9 843,651.2 842,653.3 841,651.7 840,652.0 839,654.3 838,655.0 837,654.2 836,655.3 835,656.3 834,657.1 833,658.6 832,655.1 831,655.2 830,655.0 829,655.8 828,656.7 827,658.1 826,658.4 825,659.9 824,662.2 823,659.1 822,656.6 821,659.5 820,661.5 819,664.3 818,661.1 817,661.8 816,659.5 815,660.7 814,659.3 813,658.5 812,660.7 811,658.9 810,658.2 809,659.9 808,660.5 807,660.4 806,661.1 805,661.3 804,661.1 803,659.6 802,660.8 801,663.7 800,662.6 799,663.5 798,662.7 797,664.5 796,663.5 795,664.2 794,662.0 793,662.4 792,661.6 791,660.8 790,660.2 789,660.6 788,663.9 787,668.2 786,663.6 785,661.7 784,661.8 783,663.7 782,664.9 781,664.9 780,666.8 779,665.9 778,665.4 777,668.3 776,669.7 775,668.9 774,669.4 773,668.5 772,669.4 771,669.0 770,671.9 769,676.0 768,673.0 767,671.2 766,671.8 765,671.9 764,671.1 763,671.9 762,674.6 761,673.6 760,675.2 759,671.5 758,670.0 757,670.8 756,671.1 755,672.1 754,668.2 753,670.2 752,673.2 751,669.2 750,670.5 749,670.5 748,669.4 747,670.8 746,667.1 745,667.7 744,667.3 743,667.8 742,671.5 741,667.7 740,665.8 739,667.4 738,667.2 737,667.2 736,669.0 735,668.4 734,669.7 733,670.1 732,672.6 731,671.7 730,671.6 729,672.6 728,673.9 727,674.3 726,677.4 725,672.1 724,674.9 723,674.3 722,674.5 721,675.5 720,673.9 719,672.8 718,675.1 717,675.7 716,674.1 715,676.4 714,675.4 713,676.1 712,676.4 711,678.0 710,680.2 709,676.9 708,675.5 707,677.4 706,679.1 705,680.0 704,677.3 703,677.9 702,678.3 701,678.4 700,679.4 699,678.6 698,679.5 697,678.3 696,677.2 695,679.5 694,678.8 693,679.5 692,677.5 691,679.1 690,679.2 689,679.4 688,678.2 687,678.7 686,678.8 685,678.9 684,680.1 683,681.4 682,683.0 681,681.8 680,680.0 679,678.7 678,679.1 677,682.6 676,684.8 675,682.9 674,687.1 673,680.5 672,682.0 671,681.4 670,681.5 669,678.9 668,679.6 667,680.3 666,679.0 665,682.6 664,683.1 663,682.7 662,680.5 661,684.2 660,688.5 659,681.3 658,679.8 657,680.2 656,680.5 655,681.7 654,683.4 653,683.7 652,684.8 651,685.1 650,687.3 649,682.1 648,682.5 647,683.7 646,679.8 645,681.2 644,683.3 643,683.3 642,684.2 641,684.1 640,688.2 639,687.9 638,688.6 637,689.7 636,691.4 635,689.5 634,688.8 633,688.7 632,690.7 631,694.2 630,690.7 629,693.0 628,689.2 627,689.6 626,690.8 625,693.5 624,695.1 623,694.3 622,696.8 621,696.1 620,697.0 619,695.7 618,696.5 617,699.1 616,692.9 615,695.2 614,696.3 613,697.9 612,696.9 611,699.2 610,695.8 609,696.9 608,695.3 607,692.4 606,694.9 605,698.3 604,695.3 603,694.9 602,696.7 601,693.7 600,694.1 599,695.0 598,694.7 597,698.3 596,703.2 595,697.1 594,696.8 593,695.5 592,695.7 591,697.0 590,696.8 589,696.9 588,698.3 587,698.4 586,697.9 585,698.6 584,699.5 583,702.7 582,708.8 581,700.2 580,699.4 579,701.3 578,700.0 577,700.3 576,698.9 575,699.5 574,700.5 573,701.5 572,702.8 571,698.8 570,699.1 569,695.9 568,696.4 567,697.1 566,698.3 565,698.8 564,698.3 563,696.2 562,695.4 561,695.9 560,696.0 559,697.6 558,699.2 557,698.0 556,698.7 555,699.4 554,700.2 553,699.1 552,700.2 551,699.9 550,699.7 549,699.6 548,697.9 547,697.1 546,699.1 545,698.4 544,699.4 543,698.6 542,699.0 541,697.9 540,700.2 539,698.8 538,699.4 537,701.4 536,701.1 535,699.3 534,700.7 533,701.7 532,699.5 531,701.8 530,700.7 529,699.4 528,700.0 527,701.9 526,702.3 525,700.2 524,701.2 523,701.6 522,703.6 521,702.4 520,702.8 519,703.4 518,702.7 517,703.1 516,704.6 515,703.3 514,703.5 513,706.6 512,710.1 511,707.1 510,705.1 509,705.5 508,703.9 507,705.0 506,705.3 505,705.9 504,706.9 503,705.0 502,706.3 501,705.4 500,704.4 499,705.0 498,704.0 497,703.9 496,704.1 495,704.6 494,706.5 493,707.9 492,705.4 491,705.5 490,704.8 489,704.9 488,704.8 487,705.6 486,707.1 485,706.7 484,706.8 483,708.4 482,709.2 481,708.3 480,707.2 479,707.1 478,705.9 477,707.5 476,707.8 475,704.5 474,705.2 473,706.1 472,707.9 471,708.0 470,709.2 469,708.4 468,710.0 467,711.3 466,709.0 465,710.0 464,709.4 463,709.6 462,710.1 461,710.7 460,711.5 459,713.7 458,716.0 457,714.3 456,714.4 455,712.8 454,713.7 453,713.5 452,712.8 451,712.8 450,714.8 449,712.4 448,712.8 447,714.4 446,710.4 445,710.4 444,711.8 443,711.0 442,710.4 441,711.7 440,712.5 439,712.8 438,709.7 437,710.8 436,710.7 435,710.2 434,709.6 433,709.8 432,709.7 431,709.0 430,708.8 429,709.4 428,711.1 427,712.2 426,712.1 425,713.4 424,714.7 423,715.4 422,713.8 421,713.9 420,714.1 419,714.9 418,715.0 417,717.6 416,719.5 415,715.8 414,714.6 413,715.7 412,717.6 411,717.6 410,715.6 409,715.1 408,718.1 407,723.8 406,713.8 405,715.6 404,715.7 403,716.1 402,715.7 401,713.8 400,714.7 399,714.8 398,714.9 397,715.1 396,716.2 395,716.2 394,716.9 393,716.7 392,715.7 391,716.3 390,717.4 389,718.1 388,720.3 387,722.9 386,719.8 385,720.3 384,720.6 383,718.7 382,718.3 381,719.1 380,718.3 379,719.2 378,720.9 377,719.4 376,718.5 375,718.1 374,720.1 373,720.0 372,720.4 371,721.4 370,720.3 369,722.5 368,722.6 367,721.9 366,722.4 365,721.1 364,722.3 363,723.6 362,721.5 361,722.5 360,723.6 359,723.8 358,724.9 357,726.9 356,721.3 355,720.9 354,724.0 353,727.7 352,721.1 351,721.0 350,723.4 349,721.3 348,721.8 347,722.5 346,724.2 345,725.0 344,723.0 343,724.0 342,725.2 341,722.8 340,722.8 339,723.8 338,723.5 337,724.8 336,722.6 335,724.0 334,726.4 333,724.3 332,724.9 331,724.9 330,726.6 329,725.5 328,724.6 327,726.1 326,724.3 325,726.2 324,727.6 323,724.9 322,724.4 321,724.2 320,724.0 319,723.9 318,723.3 317,723.7 316,723.7 315,724.2 314,724.2 313,724.8 312,727.3 311,726.5 310,728.2 309,722.9 308,723.8 307,725.2 306,725.6 305,725.6 304,725.1 303,725.9 302,726.4 301,725.8 300,727.0 299,727.1 298,725.4 297,724.9 296,725.0 295,725.6 294,728.5 293,731.8 292,726.7 291,727.7 290,727.8 289,728.1 288,727.6 287,727.9 286,725.3 285,726.2 284,728.8 283,726.8 282,727.3 281,727.6 280,727.0 279,726.9 278,727.7 277,727.8 276,729.6 275,730.5 274,729.2 273,730.7 272,730.7 271,731.2 270,732.6 269,733.0 268,733.0 267,731.4 266,732.5 265,734.3 264,738.0 263,732.8 262,732.2 261,732.9 260,734.3 259,731.5 258,732.6 257,733.3 256,733.0 255,731.5 254,732.1 253,732.7 252,734.8 251,733.8 250,734.5 249,734.0 248,735.8 247,736.3 246,736.6 245,736.8 244,737.6 243,736.4 242,736.2 241,736.6 240,736.8 239,736.2 238,736.6 237,738.7 236,736.2 235,737.4 234,739.0 233,740.1 232,740.3 231,739.8 230,740.4 229,741.0 228,741.0 227,740.5 226,742.2 225,742.2 224,740.6 223,740.8 222,742.2 221,744.9 220,740.3 219,740.7 218,740.9 217,741.1 216,740.8 215,740.6 214,739.3 213,739.7 212,740.6 211,742.4 210,743.8 209,741.4 208,741.6 207,742.3 206,743.0 205,742.1 204,743.5 203,740.8 202,742.1 201,739.0 200,741.0 199,742.0 198,740.9 197,739.4 196,738.9 195,737.6 194,738.5 193,738.4 192,739.7 191,739.0 190,739.6 189,739.6 188,739.9 187,739.4 186,740.4 185,739.6 184,739.1 183,739.8 182,740.1 181,740.6 180,740.3 179,740.1 178,741.7 177,739.0 176,740.3 175,739.3 174,739.0 173,738.7 172,738.8 171,738.5 170,739.9 169,740.1 168,739.5 167,740.0 166,740.2 165,738.3 164,738.8 163,738.3 162,738.0 161,738.3 160,738.1 159,737.5 158,737.1 157,737.1 156,736.7 155,736.4 154,735.8 153,735.5 152,735.4 151,734.8 150,734.2"/><polygon fill="#880000" points="150,728.9 151,727.6 152,726.8 153,726.4 154,725.9 155,725.4 156,724.6 157,723.5 158,723.1 159,720.9 160,720.9 161,721.4 162,719.8 163,720.3 164,720.8 165,720.9 166,721.4 167,721.7 168,722.0 169,720.4 170,717.5 171,719.6 172,719.9 173,719.9 174,718.7 175,720.3 176,719.5 177,720.2 178,720.2 179,719.8 180,720.0 181,719.8 182,720.5 183,721.1 184,722.0 185,721.1 186,719.9 187,721.2 188,722.0 189,721.6 190,720.6 191,720.8 192,721.3 193,718.4 194,720.0 195,721.4 196,721.3 197,720.1 198,719.2 199,719.4 200,720.1 201,719.8 202,718.3 203,719.7 204,721.2 205,720.9 206,721.7 207,721.8 208,721.7 209,722.4 210,722.2 211,720.7 212,720.4 213,719.9 214,719.2 215,719.6 216,719.3 217,715.0 218,717.1 219,718.4 220,717.9 221,715.7 222,714.6 223,716.6 224,717.5 225,717.7 226,717.3 227,716.6 228,715.6 229,715.3 230,714.6 231,714.2 232,712.1 233,711.8 234,710.5 235,712.1 236,712.9 237,712.8 238,713.0 239,712.5 240,711.2 241,711.7 242,713.1 243,712.5 244,712.6 245,712.9 246,714.6 247,713.9 248,713.8 249,712.0 250,711.1 251,711.4 252,711.4 253,709.0 254,710.4 255,710.4 256,710.4 257,710.9 258,709.0 259,710.2 260,710.7 261,709.4 262,710.5 263,710.8 264,707.7 265,709.1 266,709.1 267,707.9 268,709.0 269,703.7 270,706.1 271,707.9 272,708.1 273,707.8 274,708.0 275,709.0 276,708.7 277,706.0 278,707.2 279,707.0 280,706.4 281,705.3 282,705.0 283,704.2 284,703.7 285,703.7 286,705.3 287,706.5 288,707.4 289,707.8 290,708.6 291,709.1 292,706.7 293,707.0 294,707.4 295,705.5 296,705.0 297,704.8 298,704.9 299,701.2 300,704.1 301,704.8 302,704.4 303,704.4 304,704.7 305,704.6 306,704.5 307,704.0 308,703.6 309,702.6 310,702.3 311,700.8 312,701.4 313,701.8 314,702.5 315,699.7 316,700.1 317,699.9 318,699.6 319,699.5 320,699.4 321,700.0 322,699.1 323,698.8 324,698.7 325,698.2 326,699.8 327,700.3 328,699.8 329,696.1 330,698.0 331,698.9 332,698.4 333,698.3 334,697.8 335,697.5 336,698.0 337,696.5 338,695.8 339,696.0 340,695.6 341,695.9 342,694.6 343,695.6 344,696.0 345,695.6 346,694.9 347,693.7 348,694.4 349,695.3 350,695.7 351,695.6 352,692.8 353,694.6 354,696.1 355,692.0 356,694.0 357,696.0 358,695.6 359,695.0 360,691.9 361,694.4 362,696.2 363,696.7 364,696.6 365,695.6 366,696.5 367,697.0 368,697.7 369,697.1 370,697.1 371,695.1 372,695.3 373,695.1 374,695.0 375,693.6 376,693.5 377,694.3 378,693.8 379,693.6 380,694.0 381,694.6 382,694.6 383,694.4 384,693.8 385,693.4 386,692.1 387,692.8 388,692.6 389,691.5 390,691.5 391,689.7 392,689.9 393,686.8 394,688.0 395,684.8 396,688.5 397,691.1 398,690.3 399,690.8 400,688.2 401,687.8 402,688.3 403,687.7 404,689.1 405,688.5 406,687.3 407,687.8 408,688.0 409,687.4 410,687.0 411,686.3 412,685.3 413,683.8 414,682.0 415,684.5 416,685.5 417,686.2 418,686.7 419,686.8 420,683.8 421,685.6 422,686.6 423,683.1 424,685.0 425,686.3 426,686.1 427,683.2 428,682.6 429,678.1 430,680.6 431,681.9 432,682.4 433,682.3 434,683.3 435,685.3 436,682.8 437,684.2 438,684.3 439,682.2 440,682.7 441,683.6 442,683.8 443,682.0 444,675.6 445,678.8 446,681.3 447,682.7 448,681.6 449,681.8 450,682.6 451,682.3 452,683.6 453,683.2 454,684.7 455,683.9 456,682.4 457,683.2 458,683.2 459,681.7 460,683.5 461,685.2 462,685.5 463,685.6 464,682.8 465,681.1 466,682.6 467,682.3 468,682.7 469,679.4 470,681.1 471,681.8 472,681.1 473,678.8 474,675.6 475,674.9 476,676.2 477,677.0 478,675.5 479,677.8 480,676.5 481,677.8 482,679.1 483,678.7 484,679.1 485,672.2 486,674.2 487,678.4 488,678.4 489,677.9 490,678.4 491,678.3 492,679.5 493,673.6 494,676.6 495,675.3 496,678.0 497,679.4 498,676.7 499,678.6 500,677.5 501,677.8 502,675.9 503,676.0 504,676.1 505,675.8 506,674.9 507,674.9 508,672.3 509,673.0 510,674.6 511,675.3 512,671.4 513,672.5 514,674.4 515,674.8 516,673.9 517,673.8 518,673.6 519,674.4 520,673.0 521,673.6 522,673.0 523,673.0 524,671.1 525,672.1 526,673.4 527,673.3 528,673.0 529,673.3 530,674.1 531,674.6 532,674.9 533,674.3 534,673.4 535,672.8 536,672.9 537,673.7 538,673.0 539,672.6 540,672.4 541,670.4 542,669.6 543,670.4 544,669.5 545,670.4 546,670.6 547,670.8 548,670.3 549,671.1 550,668.9 551,669.7 552,665.5 553,668.4 554,669.3 555,668.7 556,667.0 557,667.2 558,668.2 559,668.3 560,668.1 561,666.5 562,667.1 563,667.4 564,667.7 565,666.4 566,667.0 567,666.6 568,666.3 569,667.6 570,667.8 571,669.2 572,669.2 573,669.5 574,668.4 575,668.0 576,669.4 577,670.0 578,670.2 579,668.8 580,669.6 581,669.5 582,668.9 583,667.6 584,668.0 585,668.2 586,665.0 587,664.6 588,665.9 589,667.5 590,667.1 591,666.9 592,667.4 593,664.3 594,664.9 595,666.4 596,665.8 597,665.8 598,664.9 599,666.5 600,665.2 601,666.1 602,666.0 603,666.4 604,665.0 605,659.6 606,661.9 607,662.7 608,663.3 609,663.2 610,663.3 611,663.7 612,661.7 613,661.8 614,663.8 615,662.7 616,653.6 617,656.9 618,661.3 619,661.2 620,662.5 621,661.3 622,661.2 623,661.5 624,661.3 625,660.8 626,659.8 627,659.4 628,659.0 629,658.0 630,655.0 631,655.9 632,655.6 633,655.4 634,656.1 635,654.8 636,649.5 637,652.0 638,654.3 639,654.3 640,655.6 641,655.3 642,653.8 643,654.9 644,653.6 645,653.3 646,654.2 647,655.1 648,652.4 649,652.3 650,651.3 651,653.1 652,653.0 653,652.8 654,652.6 655,651.4 656,652.3 657,652.4 658,652.6 659,652.1 660,647.5 661,651.2 662,654.4 663,655.0 664,653.9 665,653.6 666,652.4 667,653.4 668,653.5 669,654.7 670,655.3 671,654.5 672,653.9 673,654.1 674,653.5 675,653.3 676,652.5 677,649.9 678,650.9 679,651.8 680,651.9 681,653.9 682,654.0 683,652.9 684,653.8 685,654.7 686,655.6 687,652.4 688,654.9 689,655.5 690,655.1 691,654.4 692,653.7 693,653.1 694,653.4 695,653.5 696,653.6 697,653.7 698,649.3 699,649.9 700,650.3 701,649.0 702,647.3 703,647.0 704,648.0 705,649.0 706,646.0 707,646.2 708,646.4 709,645.0 710,645.2 711,645.5 712,646.5 713,645.2 714,643.8 715,644.7 716,645.4 717,644.4 718,644.3 719,645.0 720,638.2 721,642.0 722,645.5 723,644.4 724,642.5 725,644.4 726,643.4 727,642.4 728,642.8 729,642.3 730,642.7 731,638.4 732,640.1 733,639.9 734,638.6 735,639.1 736,638.9 737,637.9 738,638.8 739,637.7 740,637.4 741,637.1 742,637.3 743,636.8 744,629.4 745,634.9 746,637.5 747,634.9 748,635.4 749,636.9 750,636.6 751,636.3 752,638.2 753,637.4 754,635.7 755,635.0 756,635.2 757,636.2 758,634.2 759,636.4 760,637.8 761,640.1 762,639.9 763,639.2 764,639.8 765,638.6 766,637.8 767,637.5 768,638.7 769,637.6 770,636.7 771,636.2 772,634.0 773,635.8 774,635.2 775,634.1 776,633.4 777,633.1 778,633.3 779,633.5 780,632.6 781,631.7 782,630.4 783,626.0 784,628.2 785,630.6 786,631.8 787,632.7 788,632.3 789,626.8 790,629.6 791,628.2 792,630.8 793,631.3 794,630.7 795,632.0 796,631.8 797,630.2 798,631.0 799,626.9 800,629.5 801,628.6 802,621.0 803,625.1 804,628.9 805,629.1 806,627.7 807,623.6 808,626.2 809,624.6 810,622.2 811,626.8 812,629.7 813,628.4 814,627.9 815,627.5 816,626.3 817,623.6 818,625.0 819,625.6 820,626.4 821,628.4 822,629.1 823,629.0 824,625.6 825,627.2 826,627.3 827,628.6 828,627.5 829,626.1 830,625.5 831,625.1 832,625.2 833,625.5 834,625.0 835,624.4 836,622.8 837,623.6 838,622.9 839,622.6 840,621.5 841,615.8 842,616.9 843,616.5 844,615.6 845,616.8 846,617.8 847,619.5 848,619.8 849,616.9 850,620.6 851,619.3 852,620.4 853,620.1 854,621.3 855,616.3 856,617.6 857,619.6 858,619.0 859,617.8 860,610.7 861,614.9 862,617.5 863,611.7 864,612.6 865,613.5 866,611.3 867,612.1 868,613.6 869,613.9 870,612.3 871,613.8 872,614.9 873,615.2 874,615.5 875,615.5 876,615.7 877,615.4 878,615.0 879,613.4 880,614.4 881,611.7 882,614.4 883,613.6 884,615.2 885,614.6 886,610.8 887,612.8 888,614.3 889,613.6 890,613.0 891,612.4 892,611.2 893,609.2 894,609.6 895,610.3 896,610.9 897,612.4 898,612.0 899,611.7 900,613.1 901,609.7 902,612.2 903,613.5 904,615.0 905,611.8 906,614.5 907,611.7 908,612.1 909,613.7 910,613.2 911,612.1 912,611.7 913,610.9 914,611.4 915,609.0 916,608.0 917,607.5 918,608.4 919,608.4 920,609.7 921,608.6 922,605.9 923,605.2 924,605.5 925,605.6 926,603.8 927,604.2 928,604.2 929,603.2 930,604.8 931,604.3 932,600.8 933,600.5 934,601.1 935,600.5 936,602.2 937,602.2 938,604.6 939,605.4 940,606.0 941,606.7 942,606.5 943,607.8 944,607.6 945,606.8 946,605.5 947,601.4 948,601.0 949,601.5 950,603.6 951,604.3 952,603.6 953,604.5 954,604.1 955,604.1 956,603.8 957,604.1 958,604.5 959,603.2 960,600.2 961,600.6 962,602.1 963,599.8 964,601.4 965,601.6 966,596.4 967,598.6 968,601.4 969,597.4 970,601.0 971,603.5 972,602.1 973,600.1 974,603.1 975,603.7 976,603.1 977,603.8 978,602.9 979,597.6 980,598.7 981,598.0 982,593.9 983,592.9 984,592.6 985,592.2 986,587.3 987,587.5 988,590.3 989,591.9 990,593.1 991,592.3 992,592.0 993,591.9 994,593.1 995,593.7 996,593.3 997,591.5 998,592.4 999,586.0 1000,588.3 1001,576.5 1002,584.0 1003,589.3 1004,590.3 1005,590.1 1006,589.7 1007,587.2 1008,585.8 1009,585.1 1010,584.0 1011,582.9 1012,579.7 1013,583.2 1014,585.8 1015,585.7 1016,581.3 1017,582.5 1018,584.4 1019,585.1 1020,580.6 1021,582.0 1022,578.2 1023,579.9 1024,579.6 1025,578.7 1026,578.8 1027,576.5 1028,577.5 1029,572.0 1030,575.4 1031,577.6 1032,577.9 1033,577.4 1034,572.9 1035,569.7 1036,573.4 1037,574.7 1038,574.9 1039,575.3 1040,574.4 1041,573.7 1042,573.3 1043,575.9 1044,577.6 1045,577.9 1046,578.2 1047,577.5 1048,578.0 1049,578.9 1050,575.5 1051,575.2 1052,574.5 1053,572.8 1054,575.4 1055,574.6 1056,571.3 1057,572.2 1058,572.0 1059,569.8 1060,570.1 1061,569.9 1062,568.3 1063,567.9 1064,569.4 1065,569.3 1066,566.7 1067,565.8 1068,567.5 1069,566.8 1070,567.1 1071,566.6 1072,568.1 1073,567.8 1074,566.7 1075,566.8 1076,565.6 1077,563.8 1078,560.0 1079,563.7 1080,565.3 1081,564.1 1082,564.6 1083,565.2 1084,563.3 1085,565.2 1086,564.3 1087,565.0 1088,557.5 1089,562.7 1090,565.2 1091,567.5 1092,567.2 1093,567.8 1094,568.3 1095,565.3 1096,565.2 1097,563.9 1098,560.9 1099,564.5 1100,566.5 1101,559.1 1102,557.7 1103,560.2 1104,562.8 1105,562.6 1106,561.8 1107,562.1 1108,562.1 1109,561.1 1110,556.5 1111,558.9 1112,562.5 1113,557.7 1114,560.2 1115,564.5 1116,565.2 1117,564.4 1118,566.2 1119,568.0 1120,559.3 1121,563.4 1122,565.3 1123,566.9 1124,567.7 1125,567.5 1126,567.4 1127,564.4 1128,563.6 1129,563.2 1130,560.0 1131,559.3 1132,561.3 1133,562.3 1134,562.7 1135,559.1 1136,562.1 1137,562.4 1138,561.5 1139,560.7 1140,551.0 1141,556.5 1142,562.3 1143,564.6 1144,564.9 1145,561.6 1146,562.5 1147,564.7 1148,561.2 1149,562.2 1150,564.1 1151,563.3 1152,560.1 1153,560.2 1154,559.6 1155,559.8 1156,561.1 1157,551.6 1158,553.0 1159,554.1 1160,554.4 1161,551.0 1162,551.3 1163,551.4 1164,551.1 1165,550.2 1166,551.6 1167,553.5 1168,553.9 1169,552.3 1170,551.8 1171,550.4 1172,550.8 1173,547.9 1174,549.0 1175,545.3 1176,548.3 1177,547.1 1178,547.3 1179,545.4 1180,544.5 1181,541.2 1182,543.1 1183,543.6 1184,537.8 1185,541.4 1186,542.4 1187,543.1 1188,540.8 1189,538.4 1190,538.0 1191,537.0 1192,533.2 1193,537.0 1194,540.1 1195,541.3 1196,542.1 1197,538.9 1198,540.3 1199,539.9 1200,540.7 1201,542.1 1202,541.2 1203,540.0 1204,538.9 1205,538.9 1206,537.0 1207,536.1 1208,535.4 1209,530.3 1210,533.4 1211,534.6 1212,532.3 1213,535.5 1214,536.9 1215,536.6 1216,537.4 1217,539.0 1218,540.1 1219,540.1 1220,539.2 1221,537.1 1222,535.3 1223,535.6 1224,533.3 1225,534.5 1226,531.5 1227,534.0 1228,535.3 1229,533.5 1230,533.5 1231,534.5 1232,532.6 1233,529.9 1234,530.3 1235,526.3 1236,529.8 1237,531.1 1238,531.6 1239,530.9 1240,529.3 1241,527.7 1242,527.4 1243,521.5 1244,524.8 1245,523.6 1246,524.5 1247,527.9 1248,528.0 1249,527.4 1250,528.4 1251,531.1 1252,531.5 1253,529.0 1254,515.3 1255,522.5 1256,526.3 1257,526.9 1258,521.1 1259,523.8 1260,526.4 1261,523.3 1262,519.1 1263,524.1 1264,527.5 1265,526.3 1266,526.9 1267,526.0 1268,523.9 1269,524.7 1270,520.9 1271,522.5 1272,520.8 1273,521.9 1274,521.6 1275,523.7 1276,524.8 1277,525.2 1278,524.4 1279,520.7 1280,518.8 1281,522.0 1282,524.7 1283,522.2 1284,525.8 1285,525.9 1286,526.8 1287,524.0 1288,526.6 1289,525.9 1290,523.2 1291,523.1 1292,525.3 1293,524.0 1294,519.9 1295,513.2 1296,515.7 1297,519.8 1298,520.7 1299,522.1 1300,520.8 1301,511.7 1302,513.4 1303,516.6 1304,516.9 1305,512.0 1306,515.2 1307,513.0 1308,506.9 1309,513.3 1310,518.5 1311,521.3 1312,521.4 1313,520.7 1314,520.3 1315,521.5 1316,520.5 1317,518.6 1318,513.3 1319,514.8 1320,516.7 1321,514.7 1322,513.5 1323,512.6 1324,510.4 1325,511.5 1326,510.2 1327,508.6 1328,506.3 1329,509.9 1330,511.3 1331,510.9 1332,512.5 1333,513.4 1334,514.4 1335,513.4 1336,508.9 1337,508.5 1338,504.1 1339,508.6 1340,514.4 1341,512.7 1342,512.3 1343,507.6 1344,509.2 1345,510.3 1346,508.2 1347,511.5 1348,511.6 1349,508.5 1350,508.9 1351,509.9 1352,506.7 1353,507.3 1354,508.5 1355,505.7 1356,508.0 1357,505.8 1358,509.0 1359,510.5 1360,509.1 1361,510.6 1362,513.4 1363,511.7 1364,510.1 1365,504.3 1366,505.4 1367,506.4 1368,490.1 1369,501.0 1370,505.1 1371,505.8 1372,508.3 1373,507.9 1374,505.8 1375,506.9 1376,505.3 1377,503.2 1378,498.1 1379,502.2 1380,503.7 1381,502.3 1382,503.8 1383,503.5 1384,499.6 1385,499.7 1386,502.8 1387,502.0 1388,502.7 1389,503.2 1390,502.9 1391,501.7 1392,500.9 1393,502.4 1394,500.0 1395,497.1 1396,497.4 1397,493.8 1398,495.8 1399,488.9 1400,488.3 1401,490.6 1402,490.3 1403,490.3 1404,492.8 1405,489.8 1406,489.0 1407,488.9 1408,491.1 1409,491.8 1410,489.9 1411,479.1 1412,484.4 1413,488.9 1414,488.3 1415,489.7 1416,487.7 1417,488.3 1418,488.4 1419,485.6 1420,488.6 1421,489.3 1422,488.3 1423,486.3 1424,486.4 1425,485.7 1426,487.2 1427,485.4 1428,486.5 1429,489.0 1430,480.2 1431,483.5 1432,486.2 1433,482.6 1434,484.0 1435,485.4 1436,486.3 1437,478.5 1438,482.0 1439,485.2 1440,485.8 1441,482.7 1442,484.1 1443,485.7 1444,480.7 1445,485.1 1446,486.8 1447,484.9 1448,483.4 1449,484.1 1450,483.7 1451,481.9 1452,481.9 1453,481.6 1454,480.0 1455,479.2 1456,482.2 1457,480.7 1458,480.3 1459,482.3 1460,481.6 1461,483.6 1462,482.5 1463,478.9 1464,477.4 1465,475.5 1466,470.6 1467,471.1 1468,474.1 1469,474.9 1470,469.7 1471,472.0 1472,470.8 1473,471.5 1474,473.2 1475,467.8 1476,469.3 1477,471.4 1478,469.5 1479,467.1 1480,468.2 1481,465.8 1482,465.5 1483,462.5 1484,463.5 1485,464.6 1486,465.8 1487,464.1 1488,465.6 1489,468.5 1490,466.3 1491,467.3 1492,469.5 1493,469.3 1494,469.4 1495,470.4 1496,466.9 1497,469.0 1498,465.4 1499,468.3 1500,463.2 1501,465.4 1502,462.4 1503,464.6 1504,463.4 1505,463.9 1506,465.2 1507,461.8 1508,460.7 1509,462.2 1510,462.6 1511,463.5 1512,462.8 1513,461.7 1514,453.5 1515,455.1 1516,456.4 1517,454.6 1518,453.2 1519,449.3 1520,451.9 1521,449.6 1522,451.6 1523,454.9 1524,453.6 1525,457.4 1526,456.4 1527,456.8 1528,451.9 1529,449.8 1530,454.8 1531,462.0 1532,464.1 1533,462.7 1534,458.4 1535,458.3 1536,457.6 1537,457.3 1538,456.4 1539,455.8 1540,454.7 1541,454.2 1542,458.3 1543,459.2 1544,453.2 1545,454.4 1546,455.4 1547,453.9 1548,451.8 1549,452.3 1550,452.2 1551,449.5 1552,450.3 1553,442.3 1554,446.0 1555,447.8 1556,447.9 1557,449.6 1558,452.6 1559,450.8 1560,451.3 1561,449.8 1562,448.4 1563,445.5 1564,443.8 1565,447.0 1566,444.0 1567,445.7 1568,443.2 1569,442.7 1570,440.6 1571,439.0 1572,439.5 1573,440.3 1574,439.7 1575,437.2 1576,438.2 1577,439.5 1578,439.0 1579,437.0 1580,437.5 1581,436.2 1582,434.5 1583,429.9 1584,428.6 1585,427.0 1586,428.4 1587,429.6 1588,430.6 1589,425.1 1590,428.6 1591,431.1 1592,430.5 1593,428.9 1594,431.8 1595,434.1 1596,428.4 1597,428.1 1598,427.6 1599,429.7 1600,430.6 1601,427.3 1602,429.7 1603,426.2 1604,426.4 1605,423.2 1606,424.7 1607,425.9 1608,427.0 1609,422.3 1610,426.8 1611,426.5 1612,427.3 1613,427.0 1614,426.7 1615,423.7 1616,417.3 1617,419.9 1618,419.0 1619,420.6 1620,419.8 1621,419.6 1622,420.6 1623,416.7 1624,416.9 1625,409.1 1626,413.8 1627,416.0 1628,417.7 1629,420.8 1630,418.2 1631,418.4 1632,418.0 1633,417.5 1634,419.2 1635,419.8 1636,421.3 1637,421.9 1638,419.8 1639,416.4 1640,416.8 1641,418.1 1642,419.2 1643,419.6 1644,421.9 1645,425.4 1646,424.3 1647,422.2 1648,427.1 1649,426.1 1650,422.8 1651,426.6 1652,427.1 1653,416.8 1654,416.1 1655,419.4 1656,419.8 1657,421.9 1658,420.2 1659,419.3 1660,419.8 1661,419.2 1662,420.3 1663,421.2 1664,420.6 1665,420.5 1666,413.0 1667,416.2 1668,418.6 1669,411.1 1670,414.6 1671,417.1 1672,417.6 1673,416.5 1674,416.2 1675,415.6 1676,416.6 1677,417.7 1678,413.9 1679,417.0 1680,420.0 1681,409.5 1682,412.4 1683,417.8 1684,416.6 1685,414.2 1686,413.1 1687,409.6 1688,407.0 1689,408.6 1690,407.6 1691,410.0 1692,412.9 1693,409.6 1694,413.4 1695,410.0 1696,408.4 1697,405.7 1698,403.7 1699,399.4 1700,400.0 1701,399.0 1702,396.2 1703,396.6 1704,386.2 1705,391.8 1706,397.0 1707,397.5 1708,382.9 1709,390.8 1710,396.1 1711,397.9 1712,397.2 1713,398.5 1714,398.1 1715,395.4 1716,388.9 1717,392.4 1718,393.6 1719,391.4 1720,386.2 1721,387.7 1722,387.7 1723,384.9 1724,389.5 1725,389.8 1726,389.5 1727,389.0 1728,388.3 1729,390.6 1730,389.6 1731,388.7 1732,390.6 1733,391.6 1734,392.8 1735,393.1 1736,397.0 1737,396.3 1738,389.6 1739,388.8 1740,392.3 1741,391.4 1742,389.6 1743,387.4 1744,388.9 1745,387.1 1746,384.7 1747,382.4 1748,382.0 1749,382.5 1750,381.0 1751,382.7 1752,380.6 1753,386.6 1754,381.7 1755,384.8 1756,387.3 1757,386.5 1758,387.1 1759,379.9 1760,380.6 1761,383.3 1762,385.8 1763,387.3 1764,390.0 1765,389.8 1766,391.0 1767,386.6 1768,387.7 1769,388.4 1769,453.1 1768,453.9 1767,453.7 1766,453.0 1765,454.7 1764,453.3 1763,452.2 1762,456.1 1761,454.2 1760,451.7 1759,450.0 1758,450.1 1757,452.0 1756,455.7 1755,450.7 1754,455.6 1753,459.0 1752,456.3 1751,454.0 1750,449.9 1749,450.2 1748,450.2 1747,454.9 1746,451.4 1745,453.2 1744,451.8 1743,450.7 1742,454.0 1741,453.8 1740,455.2 1739,458.5 1738,457.2 1737,457.5 1736,458.4 1735,458.6 1734,460.7 1733,457.7 1732,458.9 1731,454.8 1730,456.0 1729,458.9 1728,457.3 1727,457.8 1726,456.7 1725,456.1 1724,455.6 1723,460.6 1722,463.9 1721,462.3 1720,457.8 1719,460.0 1718,463.2 1717,457.9 1716,457.7 1715,457.3 1714,458.8 1713,460.0 1712,458.5 1711,461.2 1710,462.6 1709,460.5 1708,460.8 1707,459.9 1706,457.6 1705,458.7 1704,459.0 1703,460.7 1702,458.1 1701,460.8 1700,461.1 1699,465.9 1698,467.4 1697,466.7 1696,467.3 1695,469.1 1694,471.6 1693,470.5 1692,471.3 1691,468.5 1690,469.2 1689,467.9 1688,471.1 1687,476.4 1686,473.9 1685,483.1 1684,476.8 1683,478.4 1682,478.7 1681,479.7 1680,476.5 1679,471.9 1678,476.6 1677,474.7 1676,475.8 1675,476.7 1674,478.8 1673,476.5 1672,481.6 1671,478.1 1670,479.2 1669,478.5 1668,475.5 1667,478.9 1666,480.7 1665,482.4 1664,479.5 1663,479.8 1662,480.3 1661,484.6 1660,490.6 1659,484.9 1658,486.9 1657,489.7 1656,486.0 1655,484.8 1654,484.7 1653,485.3 1652,484.1 1651,484.1 1650,482.2 1649,483.7 1648,484.8 1647,484.3 1646,484.4 1645,482.0 1644,479.3 1643,476.6 1642,479.3 1641,476.0 1640,477.9 1639,478.2 1638,481.4 1637,480.4 1636,478.2 1635,478.1 1634,482.1 1633,477.7 1632,475.2 1631,477.7 1630,477.1 1629,474.7 1628,476.2 1627,482.6 1626,488.3 1625,475.7 1624,479.5 1623,484.0 1622,481.9 1621,483.6 1620,481.8 1619,480.9 1618,482.5 1617,483.7 1616,482.8 1615,483.1 1614,482.1 1613,482.7 1612,483.8 1611,483.1 1610,484.6 1609,485.9 1608,485.6 1607,486.5 1606,486.5 1605,490.8 1604,496.9 1603,491.5 1602,490.1 1601,486.8 1600,488.2 1599,488.8 1598,492.3 1597,487.5 1596,487.5 1595,486.8 1594,486.8 1593,485.9 1592,489.0 1591,492.7 1590,488.9 1589,487.8 1588,488.7 1587,486.3 1586,487.9 1585,490.4 1584,490.3 1583,491.7 1582,491.5 1581,492.4 1580,494.8 1579,494.5 1578,492.2 1577,491.9 1576,493.8 1575,492.3 1574,492.0 1573,494.1 1572,491.9 1571,494.7 1570,496.1 1569,498.1 1568,498.6 1567,496.3 1566,500.2 1565,504.5 1564,499.1 1563,501.4 1562,503.1 1561,499.7 1560,500.2 1559,503.6 1558,506.0 1557,500.7 1556,500.3 1555,500.5 1554,499.7 1553,503.3 1552,509.9 1551,505.4 1550,503.7 1549,503.7 1548,504.5 1547,507.3 1546,507.8 1545,510.6 1544,509.8 1543,510.4 1542,506.0 1541,505.7 1540,505.1 1539,506.4 1538,506.3 1537,509.6 1536,511.8 1535,510.3 1534,512.2 1533,511.0 1532,514.0 1531,510.8 1530,510.4 1529,510.3 1528,510.4 1527,509.2 1526,507.4 1525,509.1 1524,504.8 1523,503.5 1522,504.8 1521,505.7 1520,504.3 1519,503.6 1518,508.3 1517,509.9 1516,504.9 1515,508.3 1514,510.8 1513,510.9 1512,509.0 1511,510.0 1510,515.8 1509,519.1 1508,511.2 1507,511.4 1506,512.4 1505,513.4 1504,515.7 1503,514.9 1502,515.7 1501,516.1 1500,517.5 1499,518.5 1498,523.9 1497,516.4 1496,515.4 1495,517.6 1494,518.3 1493,519.0 1492,521.2 1491,518.5 1490,516.9 1489,518.7 1488,519.1 1487,516.1 1486,518.4 1485,515.3 1484,515.8 1483,514.5 1482,516.4 1481,514.4 1480,515.9 1479,521.5 1478,528.3 1477,522.0 1476,527.7 1475,522.3 1474,525.7 1473,525.2 1472,522.1 1471,522.4 1470,524.9 1469,524.8 1468,523.2 1467,526.0 1466,522.7 1465,524.7 1464,527.5 1463,531.3 1462,529.7 1461,529.5 1460,527.7 1459,526.8 1458,524.5 1457,520.8 1456,523.3 1455,525.1 1454,524.6 1453,527.8 1452,530.1 1451,530.2 1450,527.0 1449,527.8 1448,530.2 1447,532.4 1446,532.4 1445,536.2 1444,529.6 1443,530.4 1442,532.4 1441,528.5 1440,526.0 1439,528.0 1438,528.7 1437,530.4 1436,531.6 1435,535.0 1434,537.9 1433,534.8 1432,530.5 1431,530.1 1430,530.3 1429,530.9 1428,533.0 1427,529.6 1426,529.8 1425,529.8 1424,530.4 1423,530.7 1422,531.9 1421,534.8 1420,538.0 1419,529.8 1418,528.6 1417,529.9 1416,529.6 1415,532.0 1414,531.7 1413,532.5 1412,535.2 1411,538.2 1410,542.7 1409,538.3 1408,540.3 1407,544.3 1406,546.3 1405,540.8 1404,540.6 1403,539.6 1402,542.4 1401,545.7 1400,539.4 1399,540.0 1398,537.7 1397,539.4 1396,544.5 1395,546.2 1394,553.4 1393,546.9 1392,548.0 1391,550.6 1390,549.7 1389,555.2 1388,550.7 1387,550.9 1386,550.9 1385,550.9 1384,552.0 1383,551.0 1382,550.8 1381,550.5 1380,553.8 1379,554.2 1378,555.1 1377,552.3 1376,551.9 1375,551.4 1374,552.4 1373,553.8 1372,552.2 1371,553.2 1370,554.0 1369,553.1 1368,556.0 1367,562.1 1366,563.7 1365,555.5 1364,554.5 1363,555.8 1362,553.6 1361,553.5 1360,552.7 1359,552.8 1358,555.3 1357,556.3 1356,555.8 1355,553.8 1354,555.1 1353,555.0 1352,554.8 1351,555.8 1350,554.0 1349,556.0 1348,553.6 1347,551.7 1346,550.8 1345,550.7 1344,549.2 1343,549.0 1342,549.8 1341,552.8 1340,553.1 1339,556.3 1338,559.9 1337,565.7 1336,571.6 1335,559.0 1334,559.5 1333,558.1 1332,559.1 1331,559.3 1330,561.5 1329,563.1 1328,567.1 1327,562.6 1326,565.3 1325,568.6 1324,566.7 1323,566.6 1322,566.8 1321,569.1 1320,571.7 1319,569.5 1318,575.3 1317,572.4 1316,573.3 1315,567.2 1314,567.6 1313,566.1 1312,566.5 1311,566.1 1310,566.1 1309,568.7 1308,568.5 1307,569.4 1306,566.2 1305,566.0 1304,567.6 1303,567.3 1302,566.8 1301,569.6 1300,574.5 1299,567.2 1298,571.2 1297,569.3 1296,569.3 1295,568.6 1294,571.4 1293,571.0 1292,570.2 1291,570.5 1290,570.0 1289,573.6 1288,574.0 1287,575.2 1286,571.3 1285,572.7 1284,574.1 1283,577.0 1282,576.6 1281,576.5 1280,575.8 1279,574.1 1278,574.0 1277,575.6 1276,572.6 1275,575.1 1274,579.3 1273,572.9 1272,575.6 1271,576.1 1270,572.9 1269,573.7 1268,577.1 1267,571.9 1266,572.0 1265,570.9 1264,570.9 1263,572.5 1262,572.9 1261,572.3 1260,573.0 1259,576.0 1258,573.7 1257,571.0 1256,574.9 1255,574.2 1254,577.6 1253,572.9 1252,573.0 1251,572.9 1250,571.5 1249,573.6 1248,574.1 1247,574.6 1246,574.7 1245,576.3 1244,568.7 1243,569.6 1242,569.9 1241,576.1 1240,579.8 1239,576.4 1238,578.5 1237,580.4 1236,577.4 1235,576.5 1234,578.5 1233,578.8 1232,577.2 1231,578.6 1230,579.0 1229,580.4 1228,580.9 1227,580.3 1226,581.1 1225,580.6 1224,578.7 1223,579.3 1222,580.2 1221,586.0 1220,589.5 1219,585.3 1218,584.4 1217,581.9 1216,581.4 1215,581.2 1214,581.4 1213,579.6 1212,578.3 1211,580.3 1210,582.8 1209,582.0 1208,583.0 1207,588.6 1206,594.3 1205,584.8 1204,586.8 1203,589.3 1202,585.8 1201,585.4 1200,586.7 1199,587.4 1198,585.4 1197,582.2 1196,584.6 1195,587.8 1194,581.9 1193,582.7 1192,581.5 1191,581.3 1190,579.5 1189,581.0 1188,584.4 1187,582.8 1186,584.6 1185,587.1 1184,588.2 1183,591.9 1182,588.1 1181,588.7 1180,588.6 1179,587.6 1178,587.2 1177,588.3 1176,589.3 1175,590.3 1174,588.7 1173,589.7 1172,591.6 1171,590.0 1170,589.4 1169,590.5 1168,590.1 1167,592.0 1166,594.5 1165,589.4 1164,590.0 1163,591.8 1162,594.1 1161,592.4 1160,596.3 1159,594.5 1158,597.7 1157,600.0 1156,600.3 1155,597.4 1154,599.9 1153,602.2 1152,600.9 1151,600.1 1150,601.3 1149,600.7 1148,601.6 1147,604.0 1146,604.2 1145,604.0 1144,599.5 1143,602.2 1142,602.7 1141,602.3 1140,603.8 1139,606.3 1138,600.8 1137,599.1 1136,597.4 1135,597.8 1134,597.5 1133,596.2 1132,596.7 1131,597.8 1130,600.0 1129,604.0 1128,601.1 1127,604.1 1126,601.1 1125,606.6 1124,611.4 1123,602.7 1122,600.5 1121,603.1 1120,601.7 1119,605.7 1118,606.4 1117,601.0 1116,597.3 1115,598.9 1114,600.0 1113,600.6 1112,596.7 1111,601.5 1110,596.8 1109,597.9 1108,600.0 1107,599.6 1106,604.4 1105,609.5 1104,603.7 1103,610.4 1102,602.1 1101,602.2 1100,603.5 1099,602.4 1098,604.2 1097,603.9 1096,603.8 1095,604.0 1094,606.1 1093,606.5 1092,606.6 1091,608.2 1090,609.1 1089,610.8 1088,610.6 1087,610.5 1086,609.0 1085,608.6 1084,609.0 1083,608.2 1082,608.2 1081,609.1 1080,609.7 1079,606.7 1078,605.4 1077,606.6 1076,609.4 1075,607.3 1074,608.1 1073,610.6 1072,614.8 1071,618.1 1070,612.9 1069,614.1 1068,614.7 1067,616.2 1066,612.5 1065,614.3 1064,614.4 1063,617.0 1062,617.3 1061,615.6 1060,616.2 1059,615.8 1058,615.5 1057,616.7 1056,616.9 1055,618.7 1054,619.7 1053,622.5 1052,624.3 1051,619.0 1050,618.9 1049,620.2 1048,620.8 1047,621.2 1046,620.9 1045,621.7 1044,620.8 1043,621.7 1042,624.7 1041,619.6 1040,620.1 1039,621.3 1038,623.3 1037,621.9 1036,621.5 1035,620.2 1034,620.5 1033,620.9 1032,621.4 1031,621.2 1030,620.3 1029,621.8 1028,621.8 1027,623.0 1026,623.2 1025,622.1 1024,622.6 1023,624.4 1022,627.3 1021,623.5 1020,626.0 1019,628.1 1018,629.7 1017,628.7 1016,626.9 1015,627.2 1014,629.3 1013,633.5 1012,625.2 1011,624.0 1010,625.4 1009,630.1 1008,634.3 1007,627.3 1006,629.0 1005,630.6 1004,635.6 1003,631.9 1002,633.5 1001,631.1 1000,630.9 999,630.5 998,631.9 997,630.9 996,632.4 995,631.7 994,631.7 993,632.8 992,630.0 991,629.6 990,629.5 989,629.4 988,628.6 987,632.6 986,635.7 985,635.4 984,628.8 983,628.8 982,629.8 981,630.1 980,631.6 979,633.5 978,634.0 977,632.1 976,634.1 975,636.4 974,637.9 973,632.2 972,633.3 971,634.4 970,631.0 969,633.8 968,633.5 967,632.4 966,631.3 965,632.8 964,633.2 963,634.8 962,631.3 961,630.1 960,631.3 959,630.3 958,631.2 957,631.8 956,629.7 955,631.0 954,631.6 953,630.8 952,631.1 951,631.7 950,634.4 949,633.1 948,636.7 947,635.7 946,635.3 945,635.9 944,636.5 943,636.1 942,636.5 941,635.1 940,633.3 939,634.7 938,635.8 937,631.4 936,632.6 935,630.7 934,631.8 933,634.1 932,635.5 931,634.7 930,634.8 929,636.8 928,638.1 927,635.6 926,635.3 925,636.2 924,637.9 923,636.4 922,634.4 921,635.5 920,635.6 919,636.4 918,637.6 917,637.9 916,641.1 915,635.2 914,635.4 913,637.3 912,639.6 911,639.7 910,638.8 909,641.6 908,641.1 907,640.4 906,638.1 905,638.1 904,638.6 903,641.0 902,639.6 901,640.6 900,642.6 899,639.3 898,640.6 897,642.1 896,640.0 895,640.7 894,643.4 893,640.9 892,640.1 891,640.2 890,642.8 889,647.2 888,640.7 887,639.5 886,640.4 885,642.0 884,642.2 883,643.0 882,644.5 881,643.4 880,644.5 879,645.3 878,647.2 877,645.2 876,646.1 875,647.6 874,646.0 873,644.7 872,649.1 871,653.6 870,647.1 869,647.7 868,646.9 867,646.7 866,648.3 865,649.6 864,645.5 863,648.9 862,651.4 861,647.4 860,650.1 859,651.7 858,646.9 857,645.9 856,646.4 855,647.6 854,648.9 853,649.4 852,649.7 851,648.0 850,650.0 849,652.7 848,649.8 847,650.0 846,649.2 845,648.4 844,645.8 843,649.4 842,653.5 841,648.6 840,648.6 839,648.6 838,651.5 837,651.5 836,652.7 835,651.7 834,652.5 833,651.8 832,650.8 831,650.3 830,652.4 829,655.1 828,653.1 827,654.0 826,654.1 825,654.0 824,653.7 823,655.7 822,656.7 821,658.8 820,660.6 819,657.4 818,657.5 817,657.0 816,656.5 815,654.8 814,655.3 813,655.4 812,656.6 811,657.6 810,660.4 809,656.3 808,658.1 807,658.2 806,658.5 805,657.1 804,657.9 803,657.4 802,659.5 801,659.5 800,661.6 799,659.1 798,659.9 797,658.7 796,658.1 795,659.1 794,661.6 793,659.7 792,658.6 791,659.2 790,658.3 789,661.8 788,658.2 787,660.0 786,660.0 785,661.6 784,660.3 783,660.4 782,659.5 781,662.2 780,664.9 779,659.8 778,661.4 777,663.8 776,664.2 775,666.0 774,664.4 773,666.1 772,665.2 771,665.9 770,665.3 769,664.6 768,665.5 767,665.5 766,667.2 765,667.7 764,667.9 763,667.9 762,667.2 761,668.1 760,667.1 759,665.9 758,667.4 757,669.1 756,670.8 755,670.4 754,672.0 753,669.1 752,668.0 751,667.8 750,669.8 749,666.9 748,666.6 747,667.5 746,667.0 745,667.1 744,667.8 743,666.4 742,666.7 741,665.9 740,665.2 739,666.1 738,667.0 737,666.4 736,668.7 735,672.1 734,677.0 733,674.1 732,670.4 731,670.2 730,671.5 729,667.2 728,667.0 727,666.6 726,668.2 725,671.5 724,674.1 723,669.7 722,670.8 721,671.0 720,669.3 719,669.0 718,669.9 717,668.0 716,668.5 715,672.2 714,676.9 713,675.3 712,671.1 711,670.1 710,671.2 709,671.8 708,670.6 707,671.2 706,671.5 705,672.6 704,673.8 703,674.3 702,672.6 701,673.0 700,675.8 699,674.7 698,675.6 697,676.8 696,678.2 695,677.6 694,677.1 693,676.1 692,676.6 691,676.7 690,677.0 689,677.8 688,679.2 687,677.2 686,677.9 685,677.2 684,677.5 683,677.6 682,675.2 681,676.5 680,676.6 679,677.2 678,676.4 677,676.1 676,677.7 675,676.8 674,678.1 673,681.2 672,681.9 671,680.1 670,680.9 669,679.8 668,679.1 667,678.5 666,677.4 665,677.7 664,678.7 663,677.0 662,677.0 661,679.1 660,677.0 659,673.8 658,673.5 657,673.7 656,675.4 655,676.1 654,676.9 653,678.8 652,680.7 651,683.4 650,681.7 649,681.6 648,682.6 647,682.0 646,681.5 645,682.8 644,682.2 643,684.5 642,683.5 641,680.9 640,681.5 639,682.4 638,681.9 637,682.3 636,681.6 635,683.4 634,685.9 633,682.7 632,683.3 631,684.4 630,684.5 629,686.3 628,687.6 627,688.1 626,686.3 625,687.1 624,687.5 623,687.5 622,689.1 621,689.0 620,690.1 619,690.4 618,690.2 617,693.1 616,692.8 615,690.9 614,691.5 613,691.8 612,694.6 611,697.0 610,697.2 609,693.8 608,694.1 607,695.8 606,694.8 605,693.4 604,694.1 603,694.8 602,696.5 601,691.7 600,692.3 599,692.3 598,692.5 597,692.3 596,692.1 595,691.9 594,689.9 593,691.8 592,691.5 591,691.7 590,692.2 589,690.9 588,691.7 587,692.8 586,693.1 585,693.9 584,694.2 583,693.8 582,694.5 581,694.9 580,695.3 579,695.7 578,694.8 577,694.6 576,694.3 575,695.5 574,698.8 573,695.4 572,696.2 571,694.8 570,695.3 569,695.1 568,693.4 567,694.2 566,694.4 565,695.2 564,692.4 563,692.0 562,692.4 561,694.2 560,692.3 559,692.5 558,692.7 557,692.1 556,692.9 555,692.8 554,692.5 553,693.1 552,692.9 551,694.6 550,694.5 549,694.9 548,695.5 547,695.0 546,696.3 545,696.3 544,695.9 543,696.0 542,697.7 541,696.5 540,697.9 539,699.0 538,699.4 537,700.0 536,698.5 535,698.3 534,698.8 533,699.5 532,701.8 531,699.7 530,699.2 529,699.3 528,699.5 527,699.4 526,699.7 525,699.5 524,699.4 523,698.5 522,699.8 521,701.2 520,701.2 519,700.4 518,701.5 517,702.7 516,702.0 515,702.3 514,701.1 513,700.4 512,700.7 511,699.7 510,699.7 509,700.6 508,701.4 507,702.5 506,704.2 505,703.4 504,704.3 503,705.9 502,703.9 501,704.2 500,703.6 499,704.9 498,704.6 497,704.2 496,705.6 495,707.4 494,704.4 493,705.3 492,706.9 491,703.9 490,703.8 489,704.2 488,705.1 487,705.4 486,706.1 485,708.8 484,711.5 483,706.1 482,704.7 481,705.7 480,705.8 479,702.5 478,702.4 477,703.3 476,704.4 475,702.4 474,703.4 473,705.0 472,706.9 471,706.9 470,707.2 469,706.6 468,706.4 467,707.3 466,707.5 465,708.8 464,709.5 463,708.9 462,709.1 461,709.7 460,710.7 459,711.4 458,710.2 457,709.6 456,709.6 455,708.9 454,708.2 453,708.5 452,708.4 451,707.4 450,708.1 449,708.8 448,707.4 447,708.7 446,707.7 445,708.8 444,705.9 443,706.8 442,706.5 441,707.9 440,709.2 439,709.9 438,710.3 437,712.3 436,713.6 435,708.6 434,709.0 433,709.8 432,711.2 431,709.2 430,710.4 429,710.7 428,711.5 427,710.0 426,711.3 425,711.6 424,711.6 423,712.8 422,712.4 421,712.5 420,713.2 419,711.0 418,709.9 417,708.3 416,709.2 415,709.7 414,709.9 413,709.5 412,710.2 411,712.1 410,714.6 409,712.4 408,710.0 407,709.9 406,710.6 405,710.0 404,709.9 403,712.0 402,712.7 401,711.5 400,713.4 399,712.1 398,713.3 397,712.5 396,712.1 395,712.8 394,714.0 393,713.7 392,714.3 391,714.2 390,714.6 389,712.9 388,713.0 387,712.8 386,712.4 385,713.1 384,714.6 383,712.9 382,713.8 381,713.4 380,714.3 379,714.4 378,716.1 377,715.1 376,715.5 375,718.0 374,716.1 373,716.8 372,716.8 371,717.7 370,717.4 369,721.3 368,724.5 367,723.1 366,719.4 365,717.9 364,716.8 363,717.7 362,718.7 361,717.4 360,716.4 359,716.7 358,717.4 357,715.6 356,718.5 355,721.5 354,717.2 353,717.4 352,717.4 351,717.6 350,717.6 349,718.2 348,718.3 347,719.3 346,719.1 345,720.0 344,720.6 343,722.7 342,725.2 341,720.2 340,719.1 339,719.3 338,719.8 337,721.1 336,720.3 335,721.0 334,720.5 333,722.9 332,723.8 331,720.7 330,720.1 329,720.9 328,720.6 327,721.1 326,721.6 325,722.7 324,721.0 323,721.2 322,720.7 321,721.8 320,720.8 319,721.4 318,721.8 317,723.3 316,724.9 315,721.8 314,722.6 313,723.8 312,723.2 311,723.7 310,723.7 309,725.1 308,726.3 307,724.9 306,723.8 305,724.6 304,723.7 303,724.0 302,723.2 301,723.5 300,724.3 299,724.0 298,724.3 297,724.9 296,725.4 295,724.3 294,723.6 293,724.7 292,726.1 291,725.5 290,726.8 289,726.3 288,725.1 287,723.7 286,724.8 285,724.7 284,724.3 283,725.6 282,724.4 281,725.4 280,726.4 279,726.1 278,726.1 277,728.0 276,725.4 275,724.9 274,725.6 273,726.4 272,726.4 271,727.9 270,729.2 269,727.6 268,728.3 267,727.4 266,727.8 265,728.2 264,727.8 263,728.0 262,729.5 261,730.1 260,730.7 259,731.5 258,732.7 257,735.7 256,730.8 255,730.3 254,731.8 253,732.4 252,731.3 251,731.3 250,731.5 249,732.3 248,731.9 247,733.0 246,734.2 245,733.0 244,733.5 243,732.5 242,733.0 241,733.6 240,732.9 239,732.5 238,734.0 237,733.1 236,733.4 235,736.1 234,737.6 233,733.8 232,734.9 231,736.1 230,735.7 229,735.5 228,735.4 227,735.3 226,735.8 225,735.9 224,735.2 223,735.5 222,735.4 221,736.2 220,736.3 219,736.7 218,736.8 217,736.1 216,735.5 215,737.2 214,739.4 213,737.6 212,736.5 211,736.1 210,736.9 209,737.7 208,737.5 207,738.0 206,737.3 205,737.8 204,738.6 203,738.1 202,736.9 201,738.3 200,735.0 199,734.0 198,734.5 197,734.5 196,735.0 195,736.0 194,737.0 193,737.0 192,738.6 191,740.6 190,738.5 189,737.7 188,739.6 187,741.9 186,736.8 185,736.6 184,737.0 183,736.5 182,737.2 181,738.1 180,736.4 179,737.1 178,736.5 177,738.0 176,739.7 175,738.3 174,737.8 173,737.7 172,737.4 171,737.8 170,739.4 169,740.4 168,737.8 167,737.5 166,738.0 165,738.3 164,739.0 163,739.3 162,737.9 161,737.5 160,737.4 159,736.6 158,736.6 157,735.1 156,735.3 155,735.1 154,734.8 153,734.4 152,734.0 151,733.6 150,733.4"/><polygon fill="#6c0000" points="150,729.3 151,728.7 152,728.2 153,727.6 154,727.2 155,727.1 156,726.5 157,726.0 158,725.9 159,724.2 160,724.2 161,724.6 162,723.6 163,722.9 164,723.7 165,724.4 166,724.2 167,724.5 168,723.6 169,723.8 170,724.2 171,723.7 172,722.9 173,723.1 174,722.9 175,722.0 176,722.7 177,722.8 178,722.4 179,723.0 180,722.4 181,722.0 182,722.4 183,722.4 184,722.8 185,723.3 186,724.1 187,723.5 188,724.3 189,724.1 190,724.1 191,722.8 192,723.8 193,722.9 194,722.4 195,722.4 196,723.0 197,722.4 198,722.2 199,722.5 200,719.6 201,720.0 202,722.0 203,723.3 204,723.4 205,719.2 206,722.1 207,722.0 208,723.1 209,722.8 210,722.5 211,721.3 212,721.4 213,721.1 214,721.1 215,720.8 216,720.5 217,720.5 218,719.7 219,720.1 220,719.3 221,719.9 222,720.4 223,720.3 224,718.3 225,718.8 226,719.1 227,719.2 228,718.2 229,718.8 230,719.1 231,718.3 232,718.1 233,717.7 234,717.8 235,717.0 236,716.7 237,715.7 238,716.5 239,716.9 240,715.0 241,713.6 242,715.0 243,716.9 244,717.1 245,717.0 246,716.9 247,715.7 248,715.1 249,715.8 250,715.1 251,713.6 252,713.7 253,714.0 254,713.7 255,713.7 256,713.1 257,713.4 258,713.3 259,713.8 260,713.5 261,713.9 262,713.2 263,711.6 264,712.5 265,712.5 266,712.4 267,711.9 268,712.1 269,712.0 270,710.8 271,710.0 272,710.2 273,710.9 274,709.2 275,708.2 276,709.7 277,709.8 278,709.6 279,707.2 280,708.6 281,709.4 282,707.0 283,707.6 284,707.1 285,707.1 286,706.6 287,707.9 288,708.5 289,708.8 290,707.0 291,709.1 292,709.3 293,709.6 294,708.9 295,708.3 296,707.5 297,707.4 298,707.6 299,706.9 300,707.0 301,707.1 302,706.7 303,707.7 304,708.1 305,708.8 306,708.4 307,708.6 308,706.8 309,707.6 310,707.9 311,707.6 312,707.4 313,707.7 314,706.7 315,706.3 316,705.6 317,704.1 318,704.5 319,703.9 320,703.5 321,702.0 322,703.0 323,701.9 324,702.5 325,702.8 326,703.3 327,702.1 328,703.7 329,702.1 330,702.0 331,702.9 332,702.4 333,702.2 334,702.0 335,701.5 336,700.1 337,699.2 338,699.9 339,700.1 340,701.0 341,700.3 342,699.1 343,700.0 344,700.1 345,700.5 346,699.8 347,699.3 348,698.3 349,698.7 350,697.6 351,698.6 352,698.7 353,694.1 354,695.9 355,698.0 356,698.0 357,698.5 358,696.1 359,697.0 360,697.0 361,697.1 362,698.4 363,698.2 364,698.9 365,699.5 366,699.6 367,700.2 368,701.7 369,701.1 370,700.4 371,698.4 372,699.6 373,699.5 374,697.9 375,697.7 376,697.6 377,698.0 378,698.0 379,698.3 380,698.0 381,697.4 382,697.5 383,696.5 384,696.5 385,696.9 386,697.5 387,696.3 388,696.6 389,696.3 390,695.3 391,695.2 392,694.9 393,695.4 394,695.3 395,694.8 396,695.2 397,695.8 398,693.7 399,695.4 400,696.1 401,696.2 402,696.1 403,697.0 404,695.9 405,695.6 406,695.2 407,693.9 408,693.7 409,693.6 410,692.7 411,690.7 412,691.6 413,691.8 414,691.8 415,691.9 416,690.0 417,691.3 418,692.2 419,692.2 420,691.8 421,691.7 422,691.8 423,692.3 424,690.3 425,691.4 426,688.3 427,689.8 428,689.1 429,687.7 430,688.3 431,688.2 432,688.8 433,687.8 434,688.5 435,688.9 436,686.0 437,686.9 438,688.4 439,687.0 440,687.9 441,686.4 442,687.1 443,688.1 444,688.1 445,688.6 446,688.6 447,688.6 448,688.0 449,684.4 450,685.5 451,687.4 452,686.3 453,687.3 454,688.1 455,688.3 456,688.1 457,689.5 458,689.8 459,689.6 460,689.4 461,688.6 462,688.0 463,689.0 464,688.6 465,688.7 466,689.5 467,685.3 468,686.5 469,687.1 470,686.4 471,686.0 472,686.4 473,683.2 474,681.7 475,683.0 476,684.2 477,683.8 478,684.1 479,684.8 480,685.5 481,686.6 482,685.6 483,680.5 484,682.4 485,684.5 486,684.1 487,682.9 488,682.9 489,682.2 490,682.7 491,681.8 492,681.8 493,680.8 494,681.6 495,682.8 496,682.4 497,684.0 498,684.0 499,684.3 500,681.9 501,683.3 502,683.7 503,683.2 504,680.2 505,681.5 506,681.9 507,681.7 508,680.7 509,679.0 510,678.3 511,678.5 512,676.5 513,677.7 514,679.5 515,678.3 516,676.8 517,677.8 518,677.6 519,678.7 520,678.2 521,677.9 522,678.2 523,678.4 524,676.4 525,678.7 526,678.2 527,678.7 528,679.8 529,679.0 530,676.0 531,677.2 532,678.1 533,677.4 534,677.0 535,675.4 536,675.8 537,675.7 538,675.9 539,674.8 540,674.7 541,673.2 542,674.4 543,674.2 544,675.5 545,674.9 546,673.8 547,673.9 548,674.4 549,674.3 550,673.2 551,672.5 552,672.6 553,671.2 554,671.3 555,670.6 556,671.0 557,672.1 558,672.6 559,671.5 560,670.6 561,670.7 562,671.2 563,670.8 564,670.1 565,670.7 566,671.4 567,671.5 568,671.3 569,671.4 570,673.4 571,672.8 572,672.1 573,672.8 574,673.0 575,672.4 576,673.9 577,674.1 578,674.3 579,674.6 580,675.2 581,674.9 582,674.7 583,673.6 584,672.8 585,670.7 586,670.5 587,667.8 588,668.1 589,669.1 590,669.2 591,668.8 592,666.4 593,667.9 594,669.1 595,666.6 596,668.6 597,668.8 598,670.2 599,669.5 600,665.3 601,667.1 602,668.7 603,670.1 604,666.3 605,669.1 606,671.1 607,671.1 608,671.5 609,670.5 610,669.9 611,668.8 612,670.1 613,668.3 614,668.6 615,668.7 616,667.1 617,666.8 618,665.9 619,666.5 620,667.0 621,666.6 622,666.3 623,665.1 624,666.5 625,666.2 626,664.9 627,664.7 628,665.8 629,664.9 630,661.7 631,662.1 632,663.6 633,663.8 634,661.9 635,662.1 636,661.5 637,660.9 638,662.8 639,660.6 640,660.5 641,661.0 642,660.9 643,661.2 644,661.9 645,660.2 646,660.8 647,660.7 648,658.8 649,659.2 650,659.5 651,659.3 652,658.1 653,656.8 654,655.9 655,655.6 656,652.7 657,654.3 658,654.0 659,654.0 660,654.6 661,654.9 662,655.9 663,656.1 664,657.0 665,654.9 666,657.0 667,658.8 668,658.8 669,658.4 670,659.2 671,659.5 672,660.6 673,660.2 674,659.4 675,659.6 676,657.0 677,656.9 678,654.7 679,652.9 680,654.6 681,655.9 682,657.0 683,656.9 684,657.6 685,657.8 686,655.8 687,653.5 688,656.6 689,657.7 690,658.3 691,654.3 692,655.3 693,657.2 694,655.5 695,656.3 696,658.1 697,656.3 698,655.7 699,653.9 700,653.1 701,651.7 702,653.4 703,651.7 704,652.3 705,652.6 706,652.7 707,650.8 708,649.8 709,650.3 710,648.7 711,649.2 712,649.1 713,646.3 714,647.7 715,646.7 716,647.6 717,649.8 718,650.1 719,647.7 720,648.4 721,650.2 722,650.6 723,649.8 724,645.1 725,646.8 726,646.9 727,643.5 728,644.8 729,644.2 730,645.0 731,645.5 732,644.5 733,643.7 734,643.6 735,644.8 736,644.1 737,643.9 738,643.2 739,642.6 740,642.5 741,642.6 742,641.4 743,642.1 744,640.3 745,640.7 746,641.0 747,641.2 748,639.6 749,640.7 750,641.7 751,640.4 752,641.4 753,642.0 754,642.8 755,644.6 756,643.6 757,643.8 758,643.6 759,644.7 760,641.4 761,642.3 762,642.9 763,643.1 764,644.1 765,644.2 766,645.2 767,643.1 768,643.6 769,644.1 770,643.6 771,641.3 772,639.7 773,638.8 774,637.9 775,638.5 776,636.9 777,635.6 778,634.8 779,632.8 780,634.1 781,634.0 782,632.2 783,631.6 784,632.9 785,633.1 786,633.8 787,633.9 788,633.5 789,634.0 790,634.6 791,635.6 792,637.0 793,637.1 794,637.1 795,638.5 796,639.0 797,628.4 798,632.8 799,634.9 800,636.1 801,635.2 802,634.8 803,634.4 804,634.2 805,635.0 806,636.1 807,635.8 808,634.0 809,635.5 810,632.2 811,634.0 812,634.6 813,635.2 814,635.1 815,633.9 816,630.8 817,631.8 818,634.4 819,634.1 820,635.4 821,636.3 822,635.6 823,635.7 824,635.6 825,634.6 826,633.7 827,630.8 828,630.2 829,629.7 830,628.9 831,627.5 832,628.3 833,626.5 834,627.6 835,626.7 836,627.3 837,627.2 838,626.1 839,625.3 840,624.6 841,622.4 842,623.1 843,620.3 844,621.9 845,622.2 846,622.6 847,622.4 848,615.8 849,620.7 850,623.6 851,625.7 852,625.7 853,624.5 854,623.2 855,624.0 856,622.5 857,623.1 858,621.4 859,620.4 860,619.5 861,609.8 862,615.8 863,619.3 864,619.3 865,619.3 866,618.7 867,613.4 868,617.4 869,620.8 870,608.9 871,615.1 872,621.6 873,619.8 874,618.9 875,618.8 876,617.7 877,617.9 878,618.8 879,617.9 880,614.3 881,616.8 882,618.0 883,618.6 884,617.2 885,617.7 886,616.4 887,614.6 888,615.8 889,616.0 890,615.8 891,616.0 892,613.5 893,614.9 894,614.6 895,614.6 896,614.7 897,616.0 898,616.9 899,616.4 900,616.1 901,616.4 902,617.8 903,618.4 904,619.1 905,619.4 906,618.9 907,617.9 908,616.9 909,616.5 910,613.2 911,615.5 912,616.2 913,614.4 914,613.1 915,611.8 916,612.6 917,612.6 918,614.3 919,614.7 920,611.8 921,612.8 922,614.6 923,614.4 924,613.4 925,612.8 926,614.1 927,614.7 928,611.9 929,613.6 930,614.1 931,613.0 932,613.0 933,612.2 934,611.3 935,609.4 936,605.6 937,607.5 938,608.8 939,609.9 940,610.9 941,609.9 942,609.9 943,611.7 944,612.2 945,611.5 946,610.9 947,609.1 948,610.4 949,610.3 950,609.5 951,607.8 952,608.7 953,610.6 954,611.0 955,606.5 956,608.8 957,608.8 958,607.6 959,608.0 960,609.0 961,608.6 962,607.7 963,607.9 964,607.9 965,608.3 966,607.8 967,606.1 968,606.3 969,605.8 970,606.3 971,606.2 972,606.3 973,606.5 974,603.0 975,602.4 976,601.2 977,603.3 978,603.7 979,603.8 980,602.4 981,602.6 982,602.7 983,601.0 984,600.8 985,598.1 986,600.2 987,597.5 988,598.0 989,599.7 990,600.5 991,599.7 992,598.1 993,599.3 994,599.6 995,597.4 996,594.6 997,596.0 998,596.8 999,596.8 1000,596.8 1001,596.9 1002,596.8 1003,595.8 1004,596.0 1005,596.9 1006,596.0 1007,595.5 1008,592.9 1009,591.8 1010,592.3 1011,590.4 1012,591.3 1013,592.2 1014,591.2 1015,593.2 1016,594.1 1017,594.4 1018,592.8 1019,592.2 1020,591.1 1021,586.9 1022,588.0 1023,590.2 1024,590.1 1025,586.1 1026,587.5 1027,589.2 1028,590.5 1029,588.2 1030,587.1 1031,588.0 1032,585.4 1033,586.4 1034,585.6 1035,586.7 1036,586.2 1037,584.7 1038,583.5 1039,584.8 1040,585.8 1041,585.1 1042,582.6 1043,584.0 1044,585.2 1045,578.3 1046,580.3 1047,580.8 1048,581.8 1049,582.4 1050,584.0 1051,586.0 1052,585.0 1053,584.8 1054,585.0 1055,584.7 1056,584.2 1057,582.1 1058,582.5 1059,583.2 1060,582.5 1061,577.3 1062,578.6 1063,579.8 1064,575.0 1065,575.8 1066,577.5 1067,576.8 1068,573.7 1069,575.1 1070,575.8 1071,575.2 1072,574.6 1073,563.6 1074,568.6 1075,572.2 1076,570.9 1077,572.0 1078,573.8 1079,574.6 1080,573.9 1081,574.8 1082,572.7 1083,574.3 1084,574.6 1085,575.9 1086,575.2 1087,573.4 1088,573.6 1089,576.3 1090,577.0 1091,573.5 1092,576.3 1093,576.8 1094,576.3 1095,571.7 1096,571.7 1097,573.1 1098,573.9 1099,572.7 1100,573.7 1101,574.1 1102,572.2 1103,570.4 1104,569.6 1105,567.3 1106,569.1 1107,567.2 1108,568.4 1109,570.5 1110,569.1 1111,569.3 1112,568.5 1113,569.8 1114,571.3 1115,571.0 1116,571.5 1117,570.5 1118,570.2 1119,570.2 1120,572.1 1121,572.6 1122,572.5 1123,573.5 1124,573.9 1125,575.8 1126,575.3 1127,574.5 1128,572.2 1129,570.9 1130,569.7 1131,568.9 1132,569.8 1133,569.0 1134,565.5 1135,568.8 1136,570.0 1137,571.5 1138,571.9 1139,570.1 1140,570.6 1141,571.9 1142,571.8 1143,573.1 1144,571.6 1145,569.9 1146,571.0 1147,568.2 1148,569.2 1149,568.0 1150,568.6 1151,566.7 1152,567.7 1153,562.9 1154,565.6 1155,566.4 1156,567.2 1157,567.4 1158,563.2 1159,564.2 1160,564.5 1161,563.8 1162,561.5 1163,561.4 1164,559.8 1165,559.4 1166,557.5 1167,557.3 1168,558.2 1169,557.7 1170,558.6 1171,559.7 1172,560.4 1173,559.5 1174,557.6 1175,555.4 1176,555.9 1177,556.0 1178,555.6 1179,554.6 1180,552.0 1181,551.6 1182,551.2 1183,546.4 1184,547.4 1185,546.9 1186,545.0 1187,548.4 1188,549.6 1189,548.8 1190,547.4 1191,546.6 1192,546.6 1193,545.2 1194,546.3 1195,546.4 1196,548.3 1197,547.2 1198,546.2 1199,548.2 1200,550.0 1201,548.7 1202,544.8 1203,546.6 1204,546.7 1205,544.8 1206,539.3 1207,542.7 1208,543.6 1209,544.4 1210,543.8 1211,543.6 1212,544.6 1213,545.1 1214,543.6 1215,547.0 1216,547.2 1217,547.1 1218,549.7 1219,549.8 1220,551.4 1221,551.4 1222,548.5 1223,547.1 1224,539.7 1225,542.7 1226,544.4 1227,543.8 1228,542.9 1229,543.3 1230,540.8 1231,536.5 1232,537.3 1233,538.5 1234,534.3 1235,536.9 1236,537.4 1237,536.9 1238,536.0 1239,535.8 1240,534.5 1241,534.2 1242,536.0 1243,535.1 1244,535.2 1245,535.9 1246,535.8 1247,536.8 1248,535.2 1249,535.1 1250,537.2 1251,535.4 1252,538.0 1253,534.8 1254,538.5 1255,539.7 1256,536.6 1257,535.0 1258,533.2 1259,531.2 1260,529.4 1261,531.7 1262,532.5 1263,533.3 1264,527.0 1265,529.6 1266,530.5 1267,530.3 1268,530.1 1269,531.5 1270,530.6 1271,527.2 1272,530.4 1273,532.4 1274,532.3 1275,532.6 1276,533.1 1277,533.0 1278,534.3 1279,532.0 1280,533.1 1281,528.4 1282,530.9 1283,533.1 1284,530.5 1285,532.0 1286,531.6 1287,532.0 1288,528.1 1289,531.6 1290,533.7 1291,533.4 1292,532.2 1293,531.7 1294,528.5 1295,529.2 1296,528.9 1297,527.1 1298,514.2 1299,519.1 1300,523.6 1301,521.7 1302,523.1 1303,524.7 1304,525.8 1305,525.7 1306,525.2 1307,518.8 1308,517.5 1309,521.6 1310,524.8 1311,526.0 1312,525.8 1313,527.4 1314,528.3 1315,529.0 1316,528.9 1317,526.4 1318,526.8 1319,528.6 1320,528.8 1321,517.5 1322,522.0 1323,524.0 1324,524.9 1325,525.5 1326,525.3 1327,525.4 1328,521.6 1329,521.3 1330,524.3 1331,525.0 1332,525.5 1333,526.2 1334,524.2 1335,525.9 1336,525.8 1337,525.2 1338,522.7 1339,521.9 1340,521.2 1341,516.0 1342,516.4 1343,513.2 1344,514.6 1345,516.3 1346,517.5 1347,514.3 1348,516.3 1349,517.6 1350,515.5 1351,516.0 1352,515.0 1353,511.4 1354,512.7 1355,512.7 1356,514.3 1357,515.6 1358,516.0 1359,515.8 1360,516.3 1361,517.7 1362,518.6 1363,517.0 1364,516.9 1365,516.1 1366,515.4 1367,516.0 1368,515.3 1369,514.9 1370,515.9 1371,515.8 1372,514.9 1373,515.3 1374,513.5 1375,513.6 1376,511.3 1377,511.1 1378,510.7 1379,509.9 1380,510.8 1381,511.9 1382,509.8 1383,512.1 1384,514.1 1385,514.3 1386,514.4 1387,514.1 1388,513.7 1389,513.8 1390,509.9 1391,513.3 1392,515.4 1393,508.1 1394,510.2 1395,512.3 1396,512.5 1397,510.0 1398,510.0 1399,501.1 1400,503.9 1401,505.4 1402,506.5 1403,503.3 1404,503.4 1405,503.5 1406,502.1 1407,502.9 1408,499.3 1409,502.0 1410,502.2 1411,504.2 1412,502.3 1413,501.5 1414,502.1 1415,501.5 1416,499.6 1417,502.7 1418,503.2 1419,503.0 1420,497.7 1421,500.2 1422,503.0 1423,501.3 1424,498.4 1425,499.6 1426,500.1 1427,499.3 1428,497.1 1429,494.5 1430,491.1 1431,493.5 1432,495.7 1433,497.1 1434,494.1 1435,491.5 1436,494.0 1437,494.6 1438,494.8 1439,493.0 1440,494.3 1441,494.2 1442,494.2 1443,494.8 1444,491.6 1445,494.0 1446,496.1 1447,497.4 1448,493.3 1449,494.6 1450,494.0 1451,492.1 1452,494.3 1453,488.1 1454,490.3 1455,491.2 1456,489.1 1457,490.3 1458,490.2 1459,487.1 1460,489.1 1461,490.3 1462,488.6 1463,488.8 1464,486.5 1465,485.3 1466,483.0 1467,481.0 1468,481.1 1469,479.4 1470,480.1 1471,480.0 1472,483.1 1473,482.9 1474,483.9 1475,483.1 1476,477.6 1477,480.2 1478,478.6 1479,477.6 1480,476.8 1481,473.7 1482,474.6 1483,474.0 1484,472.1 1485,470.7 1486,473.1 1487,475.0 1488,474.9 1489,476.6 1490,477.3 1491,478.4 1492,480.2 1493,481.7 1494,482.0 1495,481.0 1496,481.8 1497,481.7 1498,480.9 1499,480.5 1500,478.8 1501,479.3 1502,478.3 1503,473.2 1504,475.5 1505,473.2 1506,475.1 1507,475.8 1508,470.5 1509,473.4 1510,473.7 1511,473.3 1512,471.5 1513,470.9 1514,469.1 1515,467.3 1516,467.0 1517,466.1 1518,465.5 1519,465.3 1520,464.2 1521,459.8 1522,464.0 1523,467.7 1524,467.6 1525,468.9 1526,470.3 1527,467.3 1528,469.0 1529,470.6 1530,473.1 1531,473.1 1532,470.0 1533,469.1 1534,469.7 1535,466.2 1536,467.8 1537,467.3 1538,465.4 1539,463.6 1540,465.0 1541,466.1 1542,460.6 1543,464.7 1544,467.5 1545,465.7 1546,463.0 1547,463.8 1548,464.0 1549,463.6 1550,461.7 1551,460.6 1552,462.7 1553,460.0 1554,462.4 1555,464.0 1556,461.8 1557,463.1 1558,463.1 1559,463.1 1560,461.5 1561,463.3 1562,462.6 1563,461.3 1564,460.7 1565,459.3 1566,458.3 1567,457.5 1568,452.2 1569,451.9 1570,451.5 1571,449.2 1572,446.2 1573,447.6 1574,446.0 1575,447.9 1576,448.2 1577,449.4 1578,448.3 1579,447.6 1580,445.9 1581,444.9 1582,444.2 1583,442.9 1584,441.1 1585,441.3 1586,436.8 1587,440.3 1588,441.8 1589,442.0 1590,441.9 1591,438.8 1592,440.4 1593,440.5 1594,442.1 1595,437.6 1596,440.4 1597,437.8 1598,440.5 1599,442.3 1600,442.1 1601,442.5 1602,443.6 1603,439.7 1604,440.6 1605,439.5 1606,439.8 1607,440.8 1608,440.1 1609,438.5 1610,435.6 1611,436.2 1612,430.7 1613,430.2 1614,431.1 1615,433.1 1616,430.6 1617,432.2 1618,432.4 1619,431.0 1620,428.8 1621,430.7 1622,433.7 1623,433.0 1624,430.6 1625,430.5 1626,422.4 1627,426.0 1628,429.8 1629,425.9 1630,429.5 1631,430.3 1632,430.0 1633,431.0 1634,430.5 1635,432.2 1636,430.4 1637,429.8 1638,431.0 1639,428.9 1640,429.5 1641,431.1 1642,432.7 1643,432.5 1644,433.3 1645,437.2 1646,437.0 1647,438.7 1648,439.8 1649,440.7 1650,436.7 1651,440.0 1652,441.9 1653,438.9 1654,441.2 1655,442.7 1656,440.9 1657,440.3 1658,439.6 1659,437.4 1660,436.6 1661,430.3 1662,432.6 1663,432.2 1664,430.9 1665,432.4 1666,433.4 1667,431.1 1668,434.2 1669,433.4 1670,432.0 1671,434.2 1672,432.9 1673,432.0 1674,431.0 1675,428.9 1676,430.0 1677,428.9 1678,429.4 1679,429.6 1680,423.2 1681,426.6 1682,428.9 1683,431.5 1684,431.8 1685,427.0 1686,420.8 1687,416.4 1688,414.7 1689,417.3 1690,419.2 1691,421.4 1692,423.6 1693,423.1 1694,421.0 1695,423.0 1696,419.6 1697,414.9 1698,414.0 1699,413.6 1700,407.9 1701,404.7 1702,405.2 1703,404.5 1704,403.5 1705,405.1 1706,406.3 1707,407.3 1708,408.4 1709,409.0 1710,408.2 1711,406.5 1712,407.9 1713,410.4 1714,410.9 1715,408.0 1716,406.6 1717,400.8 1718,400.8 1719,399.4 1720,401.1 1721,398.6 1722,402.1 1723,401.1 1724,397.8 1725,401.9 1726,403.7 1727,405.5 1728,405.7 1729,406.1 1730,404.4 1731,405.7 1732,406.1 1733,408.5 1734,394.8 1735,402.2 1736,410.6 1737,406.3 1738,405.8 1739,405.5 1740,406.3 1741,407.2 1742,404.2 1743,404.2 1744,403.8 1745,390.8 1746,393.7 1747,396.5 1748,396.7 1749,397.7 1750,396.7 1751,397.8 1752,396.0 1753,394.6 1754,396.5 1755,397.8 1756,396.4 1757,399.4 1758,397.8 1759,394.1 1760,394.0 1761,396.3 1762,398.2 1763,400.3 1764,400.9 1765,400.7 1766,401.9 1767,396.9 1768,399.8 1769,403.0 1769,441.9 1768,441.4 1767,441.8 1766,445.4 1765,447.0 1764,444.3 1763,443.3 1762,445.1 1761,441.0 1760,440.1 1759,441.7 1758,443.5 1757,446.0 1756,442.9 1755,442.8 1754,444.9 1753,446.2 1752,443.5 1751,443.2 1750,443.4 1749,441.0 1748,441.0 1747,442.2 1746,444.6 1745,443.2 1744,445.3 1743,446.3 1742,450.3 1741,447.7 1740,452.5 1739,453.8 1738,455.1 1737,459.0 1736,453.0 1735,453.4 1734,455.8 1733,455.6 1732,454.9 1731,459.7 1730,448.0 1729,446.2 1728,448.4 1727,451.2 1726,448.1 1725,444.3 1724,443.3 1723,441.8 1722,443.3 1721,442.9 1720,442.8 1719,443.8 1718,446.5 1717,446.6 1716,450.7 1715,451.6 1714,453.7 1713,458.6 1712,453.7 1711,454.9 1710,453.6 1709,455.1 1708,450.9 1707,450.4 1706,449.4 1705,447.9 1704,449.0 1703,449.2 1702,452.6 1701,451.2 1700,454.7 1699,456.7 1698,458.4 1697,458.5 1696,462.8 1695,467.2 1694,469.3 1693,469.2 1692,462.8 1691,463.3 1690,467.5 1689,460.3 1688,459.5 1687,460.7 1686,460.2 1685,464.4 1684,467.7 1683,469.7 1682,469.4 1681,469.2 1680,464.3 1679,464.1 1678,464.0 1677,464.8 1676,462.8 1675,465.7 1674,469.6 1673,463.7 1672,465.1 1671,467.0 1670,467.0 1669,466.6 1668,466.5 1667,468.1 1666,472.9 1665,471.5 1664,473.6 1663,472.6 1662,475.1 1661,477.5 1660,475.7 1659,475.4 1658,476.5 1657,479.0 1656,474.5 1655,475.7 1654,475.7 1653,476.4 1652,478.3 1651,476.6 1650,477.2 1649,472.6 1648,473.5 1647,475.3 1646,475.6 1645,472.2 1644,471.5 1643,472.7 1642,475.1 1641,472.9 1640,472.0 1639,475.1 1638,475.6 1637,475.4 1636,475.7 1635,474.0 1634,474.0 1633,472.4 1632,473.8 1631,475.7 1630,471.5 1629,471.6 1628,472.2 1627,474.8 1626,470.0 1625,471.3 1624,472.9 1623,472.2 1622,473.2 1621,475.7 1620,474.6 1619,474.4 1618,475.1 1617,477.7 1616,479.5 1615,479.9 1614,477.5 1613,479.7 1612,480.6 1611,479.8 1610,480.0 1609,481.6 1608,482.7 1607,480.9 1606,482.5 1605,482.7 1604,482.6 1603,483.5 1602,483.2 1601,488.7 1600,494.0 1599,485.4 1598,488.3 1597,483.0 1596,483.2 1595,484.2 1594,482.6 1593,482.0 1592,483.6 1591,485.0 1590,484.7 1589,483.9 1588,483.6 1587,483.7 1586,483.2 1585,485.4 1584,485.1 1583,486.5 1582,486.1 1581,486.9 1580,487.9 1579,488.9 1578,489.0 1577,490.1 1576,486.1 1575,487.0 1574,484.9 1573,486.3 1572,488.7 1571,489.3 1570,491.3 1569,489.9 1568,491.2 1567,494.3 1566,496.4 1565,497.3 1564,501.0 1563,495.3 1562,495.4 1561,496.6 1560,496.8 1559,496.3 1558,496.4 1557,493.7 1556,494.1 1555,495.8 1554,496.4 1553,498.9 1552,498.7 1551,497.6 1550,498.3 1549,500.0 1548,499.9 1547,507.9 1546,515.0 1545,502.7 1544,502.2 1543,502.1 1542,502.1 1541,501.8 1540,500.6 1539,501.9 1538,504.0 1537,509.7 1536,506.5 1535,506.0 1534,503.0 1533,504.6 1532,504.6 1531,502.4 1530,502.4 1529,501.3 1528,500.4 1527,500.6 1526,500.3 1525,499.8 1524,500.3 1523,498.5 1522,496.7 1521,497.7 1520,498.1 1519,498.6 1518,494.5 1517,495.3 1516,499.0 1515,500.5 1514,497.8 1513,499.6 1512,497.9 1511,500.1 1510,499.3 1509,501.4 1508,505.6 1507,510.2 1506,507.6 1505,511.2 1504,507.6 1503,511.6 1502,513.5 1501,512.1 1500,513.1 1499,513.6 1498,517.8 1497,522.1 1496,516.3 1495,515.7 1494,514.8 1493,511.2 1492,511.7 1491,511.8 1490,512.3 1489,509.3 1488,508.4 1487,509.5 1486,509.4 1485,509.6 1484,509.9 1483,512.9 1482,517.4 1481,512.2 1480,512.1 1479,513.1 1478,515.0 1477,514.2 1476,518.6 1475,521.8 1474,518.2 1473,516.3 1472,517.5 1471,518.9 1470,515.7 1469,514.7 1468,516.2 1467,515.5 1466,514.2 1465,513.1 1464,514.5 1463,519.0 1462,518.0 1461,519.1 1460,519.9 1459,519.8 1458,519.9 1457,520.1 1456,520.9 1455,522.9 1454,521.2 1453,521.7 1452,523.1 1451,522.0 1450,523.3 1449,526.0 1448,531.6 1447,530.1 1446,526.2 1445,525.1 1444,524.7 1443,522.2 1442,523.6 1441,519.8 1440,520.4 1439,524.4 1438,529.3 1437,523.5 1436,521.6 1435,523.6 1434,523.9 1433,525.1 1432,526.9 1431,522.8 1430,524.9 1429,526.4 1428,526.3 1427,529.0 1426,526.8 1425,528.4 1424,529.3 1423,531.8 1422,534.2 1421,532.9 1420,530.3 1419,528.9 1418,527.7 1417,528.5 1416,530.6 1415,525.9 1414,528.5 1413,531.2 1412,530.6 1411,530.6 1410,530.5 1409,529.4 1408,529.4 1407,530.9 1406,531.1 1405,534.6 1404,540.4 1403,536.9 1402,537.0 1401,536.7 1400,538.7 1399,537.6 1398,538.1 1397,539.2 1396,541.3 1395,543.8 1394,547.0 1393,546.1 1392,546.7 1391,545.3 1390,544.3 1389,545.3 1388,545.0 1387,545.2 1386,543.6 1385,544.2 1384,542.7 1383,543.5 1382,545.0 1381,545.7 1380,543.4 1379,543.5 1378,542.3 1377,542.0 1376,545.1 1375,547.6 1374,545.0 1373,547.0 1372,549.5 1371,551.4 1370,549.3 1369,546.8 1368,547.5 1367,550.7 1366,553.5 1365,548.3 1364,547.0 1363,546.2 1362,546.6 1361,546.6 1360,548.0 1359,550.3 1358,549.3 1357,553.1 1356,551.9 1355,554.9 1354,551.3 1353,551.8 1352,551.8 1351,551.3 1350,549.4 1349,549.8 1348,549.0 1347,550.7 1346,549.9 1345,551.5 1344,546.9 1343,550.4 1342,549.5 1341,549.4 1340,550.5 1339,552.8 1338,555.4 1337,555.9 1336,555.0 1335,555.6 1334,555.2 1333,556.1 1332,556.5 1331,552.8 1330,553.4 1329,555.3 1328,559.4 1327,555.6 1326,559.6 1325,565.6 1324,558.2 1323,560.4 1322,560.8 1321,561.6 1320,562.0 1319,565.4 1318,570.2 1317,563.9 1316,563.7 1315,561.8 1314,564.1 1313,564.3 1312,560.1 1311,559.7 1310,560.6 1309,561.5 1308,559.6 1307,561.3 1306,562.4 1305,558.5 1304,558.7 1303,558.4 1302,558.6 1301,559.7 1300,558.2 1299,561.8 1298,561.1 1297,563.3 1296,563.9 1295,562.6 1294,563.0 1293,563.5 1292,564.8 1291,564.2 1290,565.9 1289,565.9 1288,568.4 1287,567.3 1286,567.7 1285,567.5 1284,567.8 1283,566.4 1282,566.4 1281,566.7 1280,564.8 1279,564.4 1278,564.0 1277,564.6 1276,564.9 1275,565.8 1274,565.4 1273,564.5 1272,566.3 1271,566.6 1270,565.1 1269,564.1 1268,563.9 1267,566.9 1266,567.5 1265,564.9 1264,565.0 1263,569.0 1262,565.6 1261,566.2 1260,566.4 1259,567.9 1258,566.9 1257,566.5 1256,565.7 1255,569.5 1254,571.2 1253,569.8 1252,569.7 1251,570.4 1250,570.8 1249,568.8 1248,568.2 1247,567.4 1246,567.4 1245,568.5 1244,567.7 1243,565.0 1242,565.6 1241,566.4 1240,567.8 1239,570.5 1238,571.7 1237,570.2 1236,570.6 1235,570.0 1234,571.5 1233,573.0 1232,572.4 1231,573.3 1230,573.2 1229,574.5 1228,576.0 1227,576.4 1226,575.5 1225,575.5 1224,577.6 1223,579.4 1222,578.8 1221,578.5 1220,576.6 1219,576.0 1218,575.6 1217,576.7 1216,574.3 1215,573.4 1214,573.7 1213,572.8 1212,572.7 1211,574.7 1210,573.6 1209,576.2 1208,579.4 1207,577.0 1206,575.9 1205,575.0 1204,578.0 1203,576.0 1202,576.6 1201,576.9 1200,577.8 1199,579.8 1198,578.8 1197,579.7 1196,577.2 1195,576.8 1194,576.7 1193,577.8 1192,579.2 1191,575.7 1190,576.9 1189,578.0 1188,577.1 1187,576.8 1186,579.6 1185,581.3 1184,578.6 1183,580.3 1182,580.1 1181,580.1 1180,582.9 1179,582.8 1178,585.2 1177,587.2 1176,586.4 1175,587.0 1174,587.9 1173,587.2 1172,586.8 1171,586.2 1170,586.1 1169,585.5 1168,586.4 1167,587.6 1166,587.4 1165,587.9 1164,587.6 1163,588.0 1162,588.3 1161,587.7 1160,591.0 1159,591.3 1158,591.9 1157,594.2 1156,595.8 1155,594.5 1154,594.4 1153,594.9 1152,595.8 1151,596.4 1150,598.7 1149,600.8 1148,601.6 1147,600.9 1146,599.2 1145,597.9 1144,597.9 1143,598.5 1142,598.3 1141,597.1 1140,596.3 1139,596.5 1138,595.6 1137,596.6 1136,598.5 1135,595.5 1134,595.2 1133,592.7 1132,592.5 1131,592.8 1130,593.7 1129,593.2 1128,593.2 1127,594.9 1126,601.0 1125,606.4 1124,595.9 1123,595.8 1122,595.1 1121,594.7 1120,592.8 1119,597.0 1118,603.8 1117,592.0 1116,594.4 1115,594.1 1114,593.7 1113,592.2 1112,592.3 1111,597.0 1110,603.3 1109,597.3 1108,598.3 1107,602.0 1106,597.4 1105,594.8 1104,593.7 1103,593.7 1102,597.4 1101,600.0 1100,598.2 1099,599.2 1098,600.9 1097,601.5 1096,602.4 1095,603.4 1094,605.0 1093,603.9 1092,605.1 1091,604.4 1090,605.5 1089,606.5 1088,604.1 1087,604.4 1086,604.9 1085,603.0 1084,603.0 1083,602.0 1082,601.5 1081,600.1 1080,601.2 1079,601.2 1078,601.3 1077,599.3 1076,599.5 1075,599.7 1074,599.6 1073,602.4 1072,604.1 1071,603.2 1070,603.7 1069,606.1 1068,608.2 1067,608.0 1066,609.2 1065,607.6 1064,608.7 1063,609.4 1062,608.8 1061,606.7 1060,606.8 1059,608.0 1058,609.2 1057,610.0 1056,610.8 1055,612.4 1054,614.9 1053,612.7 1052,616.5 1051,619.1 1050,614.1 1049,614.9 1048,617.6 1047,619.3 1046,616.5 1045,617.8 1044,617.4 1043,614.8 1042,614.2 1041,614.2 1040,615.3 1039,616.5 1038,616.5 1037,615.4 1036,615.2 1035,616.2 1034,615.5 1033,617.8 1032,617.2 1031,617.3 1030,617.3 1029,615.8 1028,617.2 1027,620.5 1026,622.9 1025,619.5 1024,621.1 1023,625.1 1022,621.2 1021,622.4 1020,624.8 1019,627.7 1018,625.2 1017,624.4 1016,627.1 1015,626.9 1014,623.7 1013,623.5 1012,622.7 1011,621.5 1010,623.9 1009,626.9 1008,624.6 1007,624.0 1006,623.5 1005,623.7 1004,625.3 1003,627.3 1002,625.9 1001,627.1 1000,625.4 999,625.2 998,626.2 997,628.7 996,627.2 995,620.6 994,620.3 993,620.1 992,620.5 991,620.9 990,621.0 989,621.4 988,620.8 987,621.3 986,621.2 985,622.2 984,623.0 983,625.1 982,624.7 981,626.0 980,629.2 979,630.1 978,626.4 977,626.1 976,626.1 975,627.1 974,630.0 973,628.1 972,627.9 971,628.6 970,627.5 969,627.1 968,628.8 967,627.8 966,629.3 965,629.1 964,628.4 963,628.1 962,627.1 961,628.4 960,627.8 959,629.5 958,628.2 957,629.6 956,630.0 955,630.1 954,632.6 953,630.5 952,631.3 951,633.7 950,630.6 949,631.0 948,630.7 947,631.8 946,633.4 945,630.7 944,631.6 943,634.4 942,629.8 941,630.0 940,630.0 939,630.9 938,628.6 937,630.0 936,631.2 935,631.1 934,631.9 933,630.1 932,631.2 931,630.4 930,633.0 929,637.0 928,630.9 927,630.3 926,630.7 925,631.0 924,631.2 923,631.8 922,631.8 921,631.0 920,630.9 919,631.5 918,632.2 917,634.6 916,631.5 915,631.9 914,633.7 913,634.8 912,636.3 911,635.8 910,635.7 909,635.3 908,636.6 907,636.7 906,638.7 905,638.3 904,637.1 903,636.7 902,637.3 901,637.7 900,635.3 899,637.2 898,639.5 897,633.5 896,634.5 895,634.5 894,635.4 893,637.0 892,636.7 891,637.6 890,637.5 889,637.2 888,637.1 887,638.4 886,638.3 885,640.7 884,640.6 883,640.0 882,639.2 881,638.8 880,639.0 879,637.8 878,637.9 877,638.9 876,638.9 875,638.1 874,639.2 873,638.4 872,639.5 871,639.1 870,639.2 869,640.2 868,640.6 867,641.5 866,642.6 865,642.0 864,641.9 863,641.8 862,643.6 861,642.9 860,644.0 859,643.3 858,643.8 857,644.5 856,644.1 855,644.1 854,644.6 853,645.4 852,647.8 851,651.2 850,646.1 849,646.0 848,645.7 847,643.6 846,642.0 845,642.3 844,641.1 843,640.6 842,642.7 841,644.0 840,644.8 839,645.0 838,649.0 837,653.7 836,648.6 835,648.7 834,648.0 833,647.7 832,648.5 831,649.6 830,649.5 829,649.7 828,648.3 827,649.6 826,648.8 825,649.6 824,651.3 823,651.4 822,653.1 821,652.3 820,653.2 819,654.8 818,654.5 817,654.7 816,652.9 815,654.1 814,655.4 813,656.7 812,657.0 811,659.7 810,654.7 809,656.0 808,653.9 807,654.0 806,652.6 805,653.2 804,653.4 803,656.5 802,657.6 801,655.5 800,656.5 799,656.5 798,658.3 797,660.1 796,658.2 795,657.7 794,657.5 793,659.0 792,657.2 791,656.9 790,658.2 789,658.3 788,658.4 787,659.6 786,657.5 785,659.0 784,657.9 783,657.0 782,656.7 781,656.6 780,656.7 779,656.9 778,657.9 777,661.1 776,656.7 775,658.3 774,660.6 773,663.5 772,661.4 771,662.4 770,664.2 769,662.3 768,664.3 767,662.5 766,662.4 765,662.2 764,661.5 763,661.5 762,664.0 761,665.6 760,662.8 759,663.7 758,664.7 757,663.4 756,663.9 755,666.1 754,663.8 753,664.2 752,662.8 751,662.1 750,661.6 749,661.5 748,662.1 747,662.4 746,662.3 745,664.6 744,665.8 743,663.6 742,663.6 741,664.1 740,666.8 739,666.1 738,666.2 737,666.5 736,665.7 735,665.5 734,665.2 733,665.3 732,667.1 731,666.2 730,667.6 729,668.2 728,668.2 727,668.4 726,671.1 725,671.0 724,670.0 723,670.7 722,670.1 721,670.4 720,667.6 719,667.4 718,667.8 717,669.2 716,668.7 715,668.4 714,667.5 713,667.7 712,668.3 711,669.3 710,671.0 709,668.2 708,669.7 707,669.3 706,669.9 705,668.6 704,669.8 703,669.1 702,670.3 701,669.5 700,671.5 699,672.8 698,672.9 697,675.2 696,673.4 695,673.2 694,673.3 693,672.6 692,673.7 691,672.2 690,672.4 689,672.6 688,672.8 687,672.6 686,670.7 685,672.2 684,676.1 683,671.9 682,671.8 681,672.3 680,672.8 679,670.6 678,672.5 677,673.9 676,674.7 675,675.8 674,674.9 673,676.6 672,679.5 671,676.4 670,675.3 669,676.9 668,675.4 667,673.5 666,674.1 665,673.9 664,674.6 663,674.6 662,674.7 661,674.7 660,673.0 659,673.0 658,674.5 657,674.3 656,673.3 655,673.2 654,674.0 653,674.8 652,675.4 651,675.8 650,677.6 649,680.2 648,676.2 647,675.7 646,677.2 645,677.6 644,679.2 643,677.0 642,677.6 641,677.7 640,678.5 639,677.5 638,679.3 637,680.2 636,679.5 635,681.2 634,683.9 633,682.8 632,682.9 631,684.2 630,684.2 629,685.0 628,683.8 627,683.4 626,683.7 625,684.9 624,687.5 623,683.0 622,683.5 621,684.3 620,685.2 619,686.0 618,687.1 617,687.4 616,688.4 615,688.9 614,691.6 613,689.4 612,691.5 611,694.4 610,692.1 609,689.3 608,688.8 607,688.5 606,689.0 605,688.0 604,687.8 603,688.1 602,687.9 601,688.9 600,688.6 599,688.9 598,688.1 597,688.3 596,688.2 595,689.1 594,689.4 593,690.9 592,687.1 591,688.2 590,690.6 589,689.3 588,690.2 587,690.7 586,691.3 585,693.2 584,693.8 583,692.6 582,693.8 581,694.2 580,693.5 579,694.6 578,692.9 577,693.3 576,694.0 575,693.5 574,692.7 573,692.1 572,692.4 571,693.9 570,694.4 569,693.1 568,691.6 567,691.5 566,690.7 565,690.2 564,689.7 563,689.8 562,688.6 561,688.6 560,688.9 559,689.9 558,691.3 557,690.4 556,691.5 555,691.9 554,691.4 553,693.6 552,692.6 551,691.4 550,692.8 549,694.7 548,694.9 547,696.5 546,698.4 545,694.1 544,694.1 543,694.2 542,695.1 541,697.5 540,701.1 539,695.7 538,695.6 537,695.8 536,695.2 535,696.3 534,696.4 533,696.2 532,697.2 531,697.0 530,696.9 529,698.1 528,696.3 527,695.9 526,696.0 525,698.2 524,700.3 523,695.9 522,696.4 521,696.1 520,695.8 519,696.7 518,696.5 517,696.3 516,697.4 515,696.5 514,696.5 513,696.8 512,696.5 511,697.1 510,698.2 509,698.0 508,698.5 507,699.4 506,697.5 505,697.7 504,697.6 503,698.9 502,701.0 501,703.3 500,700.4 499,699.3 498,699.8 497,700.1 496,699.5 495,699.6 494,700.8 493,702.5 492,699.7 491,698.8 490,698.2 489,699.7 488,700.7 487,703.2 486,701.4 485,700.4 484,701.5 483,702.5 482,701.4 481,699.9 480,699.9 479,699.4 478,697.8 477,697.7 476,697.2 475,699.7 474,702.2 473,699.4 472,702.0 471,702.3 470,703.1 469,703.2 468,703.9 467,702.9 466,704.7 465,707.1 464,702.9 463,704.1 462,705.8 461,706.6 460,706.2 459,705.6 458,705.9 457,706.3 456,705.7 455,705.6 454,707.1 453,709.5 452,706.6 451,706.9 450,706.1 449,705.1 448,705.6 447,706.0 446,707.3 445,708.7 444,709.2 443,707.5 442,708.6 441,708.5 440,709.5 439,710.1 438,706.9 437,706.5 436,706.4 435,706.1 434,706.9 433,707.7 432,706.4 431,705.6 430,706.1 429,707.4 428,708.4 427,710.0 426,710.6 425,713.2 424,709.0 423,709.9 422,709.2 421,708.8 420,709.4 419,710.4 418,707.8 417,707.7 416,707.8 415,708.3 414,706.7 413,706.6 412,707.6 411,709.1 410,709.5 409,709.5 408,709.9 407,709.9 406,708.8 405,710.0 404,710.5 403,709.6 402,709.9 401,709.9 400,710.9 399,712.1 398,709.7 397,710.4 396,711.0 395,712.4 394,711.3 393,711.1 392,712.0 391,712.2 390,713.1 389,713.3 388,715.9 387,712.1 386,712.8 385,711.9 384,712.2 383,712.8 382,712.4 381,712.4 380,712.3 379,712.9 378,713.4 377,714.7 376,712.2 375,712.3 374,712.8 373,712.9 372,713.2 371,714.0 370,716.0 369,718.0 368,715.7 367,715.3 366,714.9 365,715.1 364,715.5 363,715.7 362,716.0 361,714.7 360,713.8 359,712.8 358,713.7 357,714.7 356,715.1 355,716.9 354,719.2 353,716.4 352,714.6 351,715.9 350,714.1 349,715.0 348,715.2 347,716.2 346,717.4 345,716.9 344,715.3 343,715.1 342,714.6 341,714.7 340,715.7 339,715.5 338,715.5 337,716.1 336,716.4 335,717.2 334,716.6 333,716.9 332,716.9 331,717.5 330,717.2 329,718.1 328,718.4 327,718.1 326,717.6 325,717.7 324,718.6 323,718.5 322,719.3 321,718.6 320,719.3 319,718.5 318,717.9 317,718.3 316,719.0 315,719.8 314,720.6 313,720.1 312,720.2 311,719.8 310,720.5 309,721.1 308,720.9 307,722.6 306,723.9 305,722.1 304,721.2 303,721.6 302,721.0 301,722.5 300,721.6 299,722.6 298,723.8 297,721.3 296,721.7 295,722.4 294,723.9 293,724.6 292,722.8 291,724.0 290,724.9 289,722.3 288,722.1 287,721.9 286,721.9 285,720.7 284,722.0 283,724.1 282,726.8 281,722.5 280,723.3 279,723.5 278,723.8 277,724.7 276,725.5 275,726.1 274,725.6 273,726.2 272,726.7 271,725.6 270,726.8 269,727.9 268,726.9 267,727.4 266,728.3 265,728.2 264,728.9 263,728.1 262,728.6 261,728.3 260,728.9 259,728.1 258,728.4 257,728.7 256,728.4 255,728.9 254,729.3 253,730.6 252,729.7 251,731.3 250,729.4 249,729.8 248,729.9 247,730.7 246,731.2 245,729.8 244,729.2 243,730.1 242,729.4 241,729.3 240,728.3 239,729.3 238,730.1 237,729.7 236,729.8 235,730.0 234,730.4 233,730.7 232,731.2 231,732.4 230,731.7 229,732.1 228,732.7 227,731.9 226,732.2 225,732.1 224,732.4 223,732.6 222,732.1 221,732.9 220,732.4 219,732.4 218,732.3 217,733.2 216,733.7 215,733.2 214,733.1 213,734.1 212,732.8 211,733.9 210,734.5 209,735.2 208,735.3 207,735.5 206,735.1 205,735.1 204,734.5 203,734.2 202,733.8 201,733.5 200,733.3 199,732.9 198,733.4 197,733.4 196,733.8 195,733.5 194,733.8 193,734.3 192,735.4 191,736.0 190,734.9 189,734.9 188,735.4 187,735.0 186,734.3 185,734.2 184,734.3 183,736.0 182,737.7 181,735.4 180,734.4 179,734.4 178,735.6 177,736.0 176,735.2 175,736.1 174,735.9 173,735.8 172,735.0 171,735.9 170,736.1 169,736.3 168,735.4 167,734.4 166,735.2 165,736.3 164,734.9 163,734.9 162,734.6 161,734.8 160,734.7 159,734.1 158,733.8 157,733.6 156,733.6 155,733.5 154,733.1 153,733.1 152,733.0 151,732.7 150,732.4"/><polygon fill="#520000" points="150,729.9 151,729.5 152,729.2 153,729.0 154,728.8 155,728.3 156,728.1 157,727.8 158,727.5 159,727.1 160,726.8 161,726.8 162,727.2 163,727.0 164,726.9 165,727.0 166,727.4 167,727.7 168,727.7 169,728.1 170,727.9 171,727.3 172,727.5 173,727.0 174,726.3 175,726.6 176,725.8 177,726.4 178,726.5 179,724.9 180,725.4 181,725.8 182,723.4 183,724.7 184,725.9 185,724.7 186,725.1 187,726.0 188,726.6 189,725.9 190,726.2 191,726.1 192,725.6 193,725.4 194,725.1 195,725.3 196,725.4 197,724.7 198,724.8 199,723.3 200,724.7 201,725.2 202,726.0 203,725.6 204,725.1 205,726.0 206,726.2 207,725.9 208,725.7 209,725.2 210,722.7 211,722.7 212,722.8 213,721.8 214,721.9 215,721.8 216,722.5 217,722.7 218,719.5 219,721.2 220,721.5 221,721.4 222,721.7 223,721.1 224,720.2 225,721.0 226,721.2 227,721.2 228,721.3 229,721.4 230,721.4 231,721.3 232,720.4 233,720.2 234,720.1 235,719.9 236,719.1 237,719.4 238,717.7 239,718.1 240,718.3 241,718.1 242,718.7 243,718.2 244,718.7 245,718.9 246,718.8 247,719.2 248,719.0 249,717.0 250,717.4 251,718.0 252,717.7 253,717.0 254,716.2 255,716.8 256,716.5 257,717.2 258,717.1 259,717.5 260,717.2 261,718.1 262,717.9 263,717.9 264,717.7 265,717.5 266,717.3 267,717.6 268,714.7 269,715.0 270,714.9 271,715.3 272,713.8 273,714.2 274,713.9 275,713.5 276,713.1 277,712.9 278,713.4 279,712.2 280,711.1 281,711.3 282,712.3 283,711.3 284,710.8 285,710.5 286,711.2 287,711.2 288,712.9 289,713.8 290,714.7 291,715.5 292,714.8 293,714.4 294,714.2 295,713.5 296,712.5 297,712.6 298,712.2 299,712.4 300,712.9 301,713.1 302,713.2 303,712.4 304,712.4 305,712.9 306,711.3 307,711.2 308,711.7 309,710.9 310,710.5 311,706.5 312,708.3 313,709.6 314,709.3 315,708.8 316,708.1 317,706.4 318,706.8 319,706.4 320,706.4 321,706.2 322,706.8 323,707.5 324,705.0 325,706.9 326,707.1 327,707.2 328,707.4 329,707.1 330,707.2 331,707.0 332,706.7 333,706.1 334,706.2 335,704.6 336,704.6 337,704.6 338,704.4 339,704.2 340,704.0 341,703.5 342,703.5 343,702.8 344,703.3 345,703.6 346,703.6 347,703.1 348,702.2 349,702.9 350,703.0 351,703.0 352,703.0 353,703.0 354,703.1 355,703.2 356,703.1 357,702.8 358,701.2 359,700.7 360,701.9 361,701.9 362,702.9 363,704.7 364,704.1 365,705.1 366,703.5 367,704.7 368,705.0 369,704.9 370,704.1 371,702.2 372,702.2 373,701.7 374,701.1 375,700.6 376,700.1 377,699.9 378,700.0 379,700.2 380,700.2 381,699.7 382,699.9 383,697.1 384,697.9 385,698.4 386,698.3 387,698.1 388,698.2 389,698.2 390,698.8 391,698.6 392,699.6 393,699.1 394,699.2 395,698.5 396,698.0 397,698.7 398,699.5 399,698.8 400,698.6 401,698.5 402,699.5 403,698.1 404,698.5 405,699.0 406,698.8 407,699.4 408,699.2 409,698.8 410,696.8 411,696.6 412,696.4 413,696.0 414,695.5 415,691.6 416,693.4 417,694.1 418,694.5 419,694.4 420,695.8 421,695.8 422,695.5 423,696.1 424,696.3 425,696.5 426,694.8 427,694.2 428,693.2 429,691.1 430,692.0 431,693.2 432,692.9 433,693.0 434,694.0 435,694.0 436,694.2 437,694.2 438,694.8 439,695.5 440,695.3 441,694.6 442,694.6 443,694.4 444,692.5 445,692.1 446,691.2 447,692.1 448,692.8 449,692.0 450,693.0 451,692.5 452,693.0 453,694.1 454,693.1 455,693.2 456,694.0 457,692.2 458,692.9 459,693.2 460,690.7 461,691.6 462,692.4 463,691.8 464,692.7 465,692.1 466,692.1 467,692.5 468,690.0 469,690.9 470,692.4 471,691.7 472,692.2 473,689.7 474,685.4 475,686.7 476,686.8 477,687.3 478,687.9 479,687.6 480,688.6 481,689.2 482,688.9 483,689.7 484,689.9 485,689.6 486,688.8 487,688.6 488,687.9 489,687.5 490,688.7 491,688.9 492,688.9 493,689.0 494,689.4 495,689.2 496,688.0 497,689.0 498,688.9 499,686.5 500,688.0 501,687.9 502,680.2 503,684.1 504,685.9 505,686.1 506,686.4 507,686.2 508,684.5 509,684.7 510,684.3 511,684.7 512,684.4 513,683.9 514,684.1 515,682.7 516,683.6 517,683.4 518,683.3 519,683.0 520,683.8 521,683.0 522,683.1 523,682.4 524,681.9 525,682.3 526,682.7 527,680.4 528,681.6 529,682.6 530,683.0 531,682.0 532,683.3 533,683.9 534,684.9 535,683.2 536,683.3 537,682.8 538,682.7 539,682.5 540,678.8 541,679.4 542,676.4 543,677.8 544,679.0 545,678.5 546,679.5 547,679.6 548,679.4 549,679.6 550,679.1 551,679.2 552,679.1 553,678.6 554,679.6 555,678.9 556,678.8 557,679.3 558,678.6 559,676.2 560,676.6 561,675.5 562,676.6 563,676.3 564,677.2 565,677.3 566,676.0 567,676.5 568,673.2 569,675.5 570,677.6 571,678.5 572,679.5 573,679.6 574,679.3 575,678.2 576,678.9 577,679.1 578,678.9 579,678.3 580,679.1 581,678.4 582,677.3 583,677.6 584,678.2 585,676.1 586,676.4 587,676.7 588,676.0 589,675.9 590,675.1 591,675.0 592,674.2 593,671.8 594,672.5 595,674.0 596,673.1 597,674.6 598,674.9 599,674.1 600,673.9 601,673.2 602,673.9 603,673.9 604,674.1 605,674.3 606,675.7 607,675.8 608,676.1 609,676.4 610,675.9 611,676.4 612,677.3 613,675.4 614,674.5 615,674.0 616,673.9 617,674.0 618,673.7 619,673.1 620,671.1 621,672.1 622,671.5 623,671.4 624,670.9 625,671.7 626,671.9 627,672.1 628,671.1 629,670.2 630,667.9 631,667.5 632,667.6 633,666.7 634,665.9 635,661.2 636,663.1 637,664.9 638,663.3 639,664.9 640,664.3 641,664.7 642,666.0 643,665.8 644,665.7 645,664.5 646,665.4 647,666.3 648,666.4 649,666.9 650,664.9 651,661.7 652,661.7 653,661.6 654,660.8 655,659.7 656,659.4 657,660.2 658,661.1 659,661.6 660,661.1 661,661.1 662,657.0 663,659.6 664,659.0 665,660.8 666,662.6 667,662.7 668,658.2 669,660.7 670,663.8 671,664.1 672,664.1 673,662.0 674,660.5 675,661.9 676,661.3 677,660.2 678,658.9 679,657.5 680,655.7 681,657.1 682,657.3 683,658.1 684,658.3 685,658.3 686,659.3 687,658.9 688,658.4 689,658.0 690,658.7 691,658.3 692,659.9 693,660.5 694,660.0 695,660.2 696,660.3 697,658.3 698,658.0 699,658.7 700,656.2 701,656.1 702,656.2 703,656.1 704,656.2 705,655.8 706,656.2 707,656.0 708,656.7 709,654.5 710,655.4 711,655.9 712,655.8 713,655.1 714,654.3 715,654.2 716,654.2 717,653.0 718,653.7 719,655.0 720,655.2 721,655.6 722,656.2 723,656.1 724,654.9 725,653.2 726,651.6 727,652.0 728,652.5 729,651.0 730,652.2 731,651.5 732,651.2 733,651.2 734,649.4 735,650.2 736,649.4 737,649.4 738,649.3 739,649.3 740,648.0 741,647.9 742,646.7 743,648.3 744,648.2 745,647.3 746,647.2 747,646.6 748,646.6 749,646.4 750,644.1 751,645.6 752,646.3 753,646.7 754,644.5 755,647.5 756,645.3 757,647.0 758,648.7 759,649.4 760,649.5 761,649.5 762,648.5 763,648.7 764,649.6 765,648.7 766,649.7 767,649.1 768,649.7 769,650.2 770,650.0 771,643.3 772,645.9 773,646.3 774,645.9 775,645.2 776,643.1 777,643.1 778,642.9 779,641.2 780,641.6 781,639.7 782,640.2 783,640.8 784,641.6 785,641.3 786,639.8 787,640.7 788,642.0 789,641.2 790,641.2 791,640.0 792,640.5 793,641.5 794,638.7 795,640.8 796,642.8 797,642.8 798,643.1 799,642.4 800,642.0 801,641.9 802,641.8 803,642.6 804,642.0 805,640.4 806,640.3 807,640.3 808,639.7 809,638.3 810,639.4 811,639.2 812,638.5 813,636.6 814,637.5 815,637.6 816,637.4 817,637.1 818,636.5 819,636.1 820,638.0 821,638.5 822,638.5 823,637.5 824,637.3 825,635.3 826,636.6 827,636.0 828,634.6 829,631.0 830,633.3 831,633.1 832,632.9 833,633.8 834,632.2 835,633.6 836,633.8 837,632.6 838,632.1 839,631.7 840,628.7 841,628.8 842,626.9 843,627.2 844,627.3 845,625.5 846,625.8 847,627.3 848,623.9 849,627.4 850,627.6 851,628.9 852,629.6 853,629.4 854,627.9 855,628.5 856,627.4 857,626.8 858,626.7 859,627.3 860,626.8 861,624.0 862,624.6 863,624.3 864,623.9 865,623.2 866,623.3 867,623.8 868,623.7 869,624.0 870,623.4 871,622.5 872,623.2 873,623.1 874,624.5 875,621.8 876,623.2 877,621.8 878,622.3 879,622.1 880,623.4 881,622.5 882,620.9 883,622.1 884,621.3 885,620.2 886,620.6 887,620.1 888,620.9 889,618.8 890,618.0 891,618.9 892,619.8 893,620.6 894,618.5 895,618.9 896,619.9 897,619.4 898,620.4 899,621.0 900,621.7 901,622.3 902,622.1 903,622.8 904,622.9 905,621.6 906,617.0 907,619.4 908,621.3 909,621.0 910,620.3 911,615.8 912,617.3 913,618.3 914,617.7 915,617.4 916,616.5 917,616.3 918,614.4 919,615.5 920,613.0 921,614.5 922,614.3 923,613.8 924,613.2 925,612.8 926,614.1 927,615.3 928,615.0 929,612.7 930,614.0 931,613.7 932,613.4 933,612.4 934,613.2 935,613.3 936,613.0 937,613.6 938,613.8 939,613.3 940,615.0 941,609.7 942,612.5 943,615.9 944,617.0 945,614.6 946,615.6 947,616.4 948,617.2 949,616.0 950,616.0 951,614.6 952,615.2 953,615.3 954,610.7 955,611.7 956,613.1 957,613.1 958,612.6 959,612.0 960,609.9 961,611.1 962,610.6 963,612.3 964,612.1 965,610.2 966,612.0 967,611.4 968,612.3 969,612.6 970,610.1 971,610.8 972,611.5 973,611.1 974,611.0 975,610.8 976,604.1 977,606.7 978,609.6 979,609.5 980,606.7 981,608.7 982,608.9 983,608.1 984,607.2 985,606.0 986,606.1 987,604.2 988,604.6 989,604.7 990,605.1 991,604.6 992,603.4 993,604.6 994,604.7 995,605.3 996,604.4 997,605.9 998,603.8 999,604.8 1000,606.3 1001,605.8 1002,605.9 1003,606.3 1004,605.6 1005,604.3 1006,603.2 1007,602.0 1008,601.0 1009,600.7 1010,600.4 1011,599.6 1012,599.2 1013,598.7 1014,599.6 1015,600.2 1016,600.6 1017,598.5 1018,598.5 1019,598.9 1020,599.5 1021,599.5 1022,599.3 1023,595.9 1024,597.0 1025,597.3 1026,596.8 1027,597.2 1028,595.0 1029,595.7 1030,595.0 1031,594.4 1032,595.1 1033,595.5 1034,595.0 1035,594.5 1036,594.5 1037,593.0 1038,593.6 1039,593.6 1040,592.3 1041,591.9 1042,588.2 1043,590.4 1044,592.3 1045,591.6 1046,592.8 1047,593.1 1048,593.1 1049,592.9 1050,592.6 1051,592.4 1052,592.4 1053,593.5 1054,590.0 1055,591.0 1056,588.4 1057,589.1 1058,590.3 1059,589.7 1060,586.6 1061,588.1 1062,583.7 1063,586.2 1064,587.1 1065,586.3 1066,585.8 1067,584.0 1068,582.2 1069,584.2 1070,585.1 1071,585.2 1072,584.0 1073,584.8 1074,582.1 1075,582.6 1076,580.5 1077,578.4 1078,580.6 1079,579.3 1080,581.6 1081,582.8 1082,582.6 1083,580.9 1084,581.4 1085,581.1 1086,581.8 1087,583.5 1088,583.2 1089,583.0 1090,580.6 1091,582.4 1092,584.5 1093,583.5 1094,583.3 1095,582.8 1096,581.3 1097,582.2 1098,579.7 1099,579.1 1100,577.5 1101,578.5 1102,574.1 1103,576.0 1104,576.6 1105,577.4 1106,577.5 1107,572.7 1108,574.5 1109,576.4 1110,575.5 1111,573.7 1112,573.1 1113,573.7 1114,574.8 1115,574.9 1116,571.8 1117,573.6 1118,576.4 1119,577.1 1120,577.9 1121,578.7 1122,579.1 1123,578.4 1124,577.8 1125,577.5 1126,576.1 1127,572.5 1128,573.8 1129,574.6 1130,571.5 1131,572.4 1132,573.3 1133,573.9 1134,573.3 1135,574.1 1136,574.6 1137,574.7 1138,575.3 1139,575.7 1140,576.4 1141,576.3 1142,577.1 1143,577.7 1144,576.5 1145,577.6 1146,577.8 1147,578.4 1148,578.7 1149,578.2 1150,576.8 1151,575.3 1152,576.0 1153,572.3 1154,573.5 1155,573.7 1156,570.6 1157,570.6 1158,571.8 1159,570.5 1160,570.2 1161,569.4 1162,569.6 1163,569.4 1164,569.4 1165,569.0 1166,567.8 1167,567.9 1168,568.3 1169,567.7 1170,565.2 1171,566.1 1172,566.5 1173,565.2 1174,565.8 1175,564.7 1176,563.3 1177,561.2 1178,560.0 1179,558.9 1180,557.2 1181,556.2 1182,556.2 1183,556.4 1184,556.7 1185,556.0 1186,554.1 1187,552.4 1188,552.5 1189,546.6 1190,549.0 1191,553.6 1192,554.7 1193,553.0 1194,555.2 1195,554.9 1196,557.1 1197,557.4 1198,555.7 1199,558.6 1200,559.2 1201,556.6 1202,552.7 1203,555.7 1204,554.5 1205,554.1 1206,554.4 1207,554.3 1208,553.1 1209,552.8 1210,554.2 1211,551.4 1212,552.4 1213,545.5 1214,551.5 1215,554.7 1216,556.5 1217,556.9 1218,556.7 1219,556.6 1220,557.4 1221,555.6 1222,555.1 1223,551.9 1224,551.2 1225,549.0 1226,550.5 1227,551.1 1228,551.5 1229,550.4 1230,551.0 1231,549.7 1232,548.6 1233,547.7 1234,546.8 1235,543.2 1236,544.0 1237,540.0 1238,541.5 1239,544.7 1240,543.8 1241,542.6 1242,543.6 1243,542.1 1244,538.3 1245,541.0 1246,541.2 1247,543.5 1248,545.1 1249,545.5 1250,547.0 1251,548.8 1252,548.3 1253,549.7 1254,550.1 1255,546.7 1256,542.3 1257,540.8 1258,541.1 1259,540.9 1260,539.2 1261,540.4 1262,538.4 1263,538.9 1264,539.8 1265,540.7 1266,540.7 1267,540.9 1268,540.3 1269,539.9 1270,540.0 1271,539.7 1272,540.5 1273,540.7 1274,540.5 1275,541.0 1276,540.4 1277,540.2 1278,541.4 1279,543.5 1280,540.7 1281,542.7 1282,544.8 1283,545.9 1284,545.4 1285,544.9 1286,542.1 1287,540.7 1288,539.1 1289,539.8 1290,540.5 1291,540.3 1292,538.7 1293,537.7 1294,536.3 1295,536.0 1296,534.6 1297,535.8 1298,532.1 1299,534.9 1300,536.1 1301,534.1 1302,533.9 1303,534.2 1304,530.9 1305,532.5 1306,533.9 1307,529.3 1308,530.4 1309,531.9 1310,534.1 1311,532.4 1312,533.5 1313,534.3 1314,537.1 1315,538.1 1316,536.6 1317,537.5 1318,539.9 1319,538.2 1320,538.0 1321,537.8 1322,537.6 1323,537.4 1324,536.1 1325,534.4 1326,534.1 1327,533.5 1328,532.6 1329,532.5 1330,531.2 1331,532.0 1332,531.7 1333,533.7 1334,534.4 1335,534.3 1336,535.3 1337,534.0 1338,532.6 1339,529.5 1340,529.8 1341,526.8 1342,526.8 1343,526.2 1344,526.2 1345,520.7 1346,524.3 1347,524.2 1348,526.5 1349,528.0 1350,526.2 1351,526.2 1352,525.1 1353,526.5 1354,522.6 1355,524.9 1356,525.9 1357,523.8 1358,525.6 1359,522.7 1360,524.6 1361,524.1 1362,525.8 1363,523.4 1364,525.2 1365,523.2 1366,525.4 1367,526.9 1368,527.4 1369,526.4 1370,527.7 1371,525.9 1372,524.8 1373,522.4 1374,521.9 1375,523.7 1376,523.9 1377,523.1 1378,523.1 1379,521.8 1380,520.4 1381,520.3 1382,520.4 1383,518.9 1384,518.6 1385,519.4 1386,520.1 1387,519.6 1388,520.4 1389,520.3 1390,522.2 1391,523.3 1392,518.6 1393,521.6 1394,520.2 1395,518.4 1396,517.5 1397,516.2 1398,515.9 1399,515.2 1400,515.2 1401,510.0 1402,510.3 1403,513.0 1404,515.2 1405,514.8 1406,515.6 1407,516.0 1408,515.1 1409,513.4 1410,513.8 1411,512.6 1412,511.6 1413,511.1 1414,510.9 1415,508.4 1416,502.8 1417,506.8 1418,508.0 1419,510.0 1420,509.7 1421,510.0 1422,509.3 1423,508.9 1424,506.2 1425,507.4 1426,506.8 1427,507.6 1428,506.9 1429,503.1 1430,501.9 1431,502.0 1432,503.5 1433,502.5 1434,501.6 1435,501.3 1436,501.5 1437,501.9 1438,500.9 1439,500.8 1440,502.5 1441,502.3 1442,503.3 1443,503.0 1444,501.5 1445,504.2 1446,506.0 1447,506.6 1448,504.5 1449,504.0 1450,502.7 1451,501.2 1452,499.7 1453,497.8 1454,494.3 1455,495.2 1456,494.8 1457,494.9 1458,492.5 1459,494.5 1460,497.8 1461,498.2 1462,496.6 1463,493.4 1464,490.9 1465,487.4 1466,486.7 1467,487.2 1468,486.1 1469,485.7 1470,486.5 1471,487.4 1472,488.2 1473,489.0 1474,489.3 1475,489.6 1476,488.9 1477,488.3 1478,487.2 1479,486.6 1480,487.5 1481,487.1 1482,484.6 1483,483.3 1484,484.5 1485,485.5 1486,485.5 1487,486.9 1488,488.4 1489,488.7 1490,488.0 1491,489.2 1492,491.6 1493,491.3 1494,490.2 1495,493.0 1496,493.4 1497,492.1 1498,489.6 1499,489.2 1500,481.3 1501,484.0 1502,486.7 1503,482.1 1504,483.5 1505,483.7 1506,485.0 1507,484.0 1508,480.7 1509,479.5 1510,477.9 1511,476.9 1512,477.2 1513,475.8 1514,476.1 1515,475.0 1516,474.5 1517,475.3 1518,472.8 1519,472.1 1520,473.4 1521,474.8 1522,475.8 1523,475.8 1524,475.7 1525,473.9 1526,474.0 1527,476.3 1528,478.8 1529,478.9 1530,478.9 1531,477.0 1532,479.8 1533,480.7 1534,479.7 1535,478.5 1536,478.6 1537,478.1 1538,477.8 1539,473.6 1540,472.9 1541,474.6 1542,474.7 1543,476.8 1544,477.0 1545,477.0 1546,475.5 1547,467.5 1548,471.8 1549,473.2 1550,470.3 1551,471.2 1552,470.4 1553,470.7 1554,469.0 1555,469.1 1556,467.7 1557,467.3 1558,466.9 1559,467.5 1560,468.0 1561,465.9 1562,467.8 1563,469.7 1564,469.7 1565,467.2 1566,466.5 1567,465.8 1568,464.9 1569,458.6 1570,459.4 1571,460.4 1572,459.6 1573,460.1 1574,458.7 1575,459.3 1576,457.1 1577,460.4 1578,458.6 1579,461.2 1580,460.7 1581,458.5 1582,456.4 1583,455.3 1584,454.7 1585,452.8 1586,452.4 1587,451.9 1588,447.5 1589,451.5 1590,447.8 1591,451.3 1592,457.2 1593,454.6 1594,455.9 1595,456.8 1596,454.8 1597,455.1 1598,455.6 1599,456.4 1600,457.4 1601,455.2 1602,457.1 1603,459.2 1604,458.8 1605,457.7 1606,457.0 1607,456.5 1608,454.0 1609,452.7 1610,451.2 1611,448.1 1612,447.7 1613,448.5 1614,442.2 1615,444.8 1616,446.3 1617,447.0 1618,443.4 1619,442.8 1620,443.4 1621,438.6 1622,439.7 1623,442.2 1624,439.2 1625,440.9 1626,441.3 1627,440.4 1628,436.9 1629,437.4 1630,439.6 1631,441.1 1632,437.1 1633,438.5 1634,441.8 1635,442.3 1636,443.0 1637,442.9 1638,442.4 1639,442.3 1640,438.1 1641,441.3 1642,443.0 1643,443.6 1644,442.2 1645,443.3 1646,445.4 1647,445.8 1648,448.5 1649,449.0 1650,447.5 1651,448.6 1652,449.7 1653,450.1 1654,447.8 1655,450.2 1656,450.1 1657,448.7 1658,449.2 1659,448.5 1660,445.8 1661,444.7 1662,443.7 1663,442.9 1664,442.5 1665,441.4 1666,440.4 1667,440.8 1668,441.0 1669,439.5 1670,438.5 1671,438.1 1672,438.8 1673,440.1 1674,439.6 1675,440.1 1676,440.3 1677,438.8 1678,434.5 1679,436.1 1680,439.0 1681,440.4 1682,440.8 1683,440.7 1684,441.4 1685,436.0 1686,430.6 1687,428.2 1688,428.5 1689,429.9 1690,431.7 1691,434.1 1692,435.0 1693,436.7 1694,436.7 1695,435.1 1696,434.1 1697,430.7 1698,428.9 1699,427.3 1700,422.5 1701,421.2 1702,419.1 1703,416.6 1704,418.7 1705,419.5 1706,420.0 1707,416.3 1708,417.9 1709,418.8 1710,420.1 1711,419.4 1712,421.3 1713,421.8 1714,418.8 1715,419.0 1716,415.5 1717,415.5 1718,415.5 1719,414.9 1720,412.2 1721,410.8 1722,412.6 1723,411.1 1724,413.5 1725,414.1 1726,414.9 1727,413.9 1728,413.1 1729,415.4 1730,415.3 1731,416.0 1732,416.8 1733,418.5 1734,420.5 1735,420.8 1736,420.0 1737,418.9 1738,419.9 1739,419.4 1740,414.6 1741,416.1 1742,416.1 1743,414.6 1744,413.9 1745,410.6 1746,410.1 1747,403.4 1748,405.3 1749,409.5 1750,410.7 1751,412.1 1752,411.1 1753,413.8 1754,413.8 1755,411.8 1756,411.7 1757,407.7 1758,409.9 1759,408.5 1760,408.2 1761,404.9 1762,408.3 1763,411.3 1764,413.1 1765,415.3 1766,414.9 1767,411.3 1768,411.2 1769,411.1 1769,435.1 1768,438.9 1767,438.7 1766,440.1 1765,438.2 1764,438.7 1763,437.5 1762,436.1 1761,437.0 1760,439.0 1759,432.5 1758,432.5 1757,433.8 1756,433.5 1755,433.1 1754,434.6 1753,435.7 1752,436.2 1751,434.0 1750,432.9 1749,429.0 1748,431.3 1747,432.4 1746,434.7 1745,436.7 1744,439.2 1743,439.9 1742,443.2 1741,444.2 1740,446.3 1739,446.5 1738,446.9 1737,446.6 1736,447.0 1735,446.8 1734,445.4 1733,445.7 1732,445.8 1731,443.5 1730,443.2 1729,440.4 1728,441.8 1727,441.8 1726,440.7 1725,442.4 1724,441.7 1723,438.6 1722,439.0 1721,440.3 1720,438.0 1719,442.8 1718,446.3 1717,440.1 1716,440.4 1715,445.2 1714,450.8 1713,442.9 1712,442.9 1711,442.5 1710,444.5 1709,445.2 1708,444.5 1707,442.4 1706,441.1 1705,441.6 1704,440.2 1703,441.1 1702,442.6 1701,446.5 1700,449.5 1699,450.2 1698,451.3 1697,454.5 1696,457.0 1695,458.9 1694,458.8 1693,459.4 1692,455.7 1691,456.1 1690,453.8 1689,450.7 1688,452.2 1687,446.6 1686,449.9 1685,457.4 1684,461.9 1683,463.9 1682,465.3 1681,463.0 1680,462.1 1679,461.3 1678,461.4 1677,462.1 1676,462.4 1675,461.1 1674,461.0 1673,462.0 1672,461.6 1671,461.9 1670,461.0 1669,461.0 1668,462.4 1667,463.6 1666,461.5 1665,465.1 1664,467.7 1663,465.8 1662,468.1 1661,469.2 1660,470.2 1659,468.1 1658,470.0 1657,470.1 1656,470.6 1655,469.9 1654,470.7 1653,473.8 1652,476.7 1651,469.9 1650,468.9 1649,468.1 1648,468.4 1647,472.4 1646,474.1 1645,468.8 1644,468.3 1643,464.8 1642,466.7 1641,467.4 1640,465.4 1639,465.6 1638,470.0 1637,473.2 1636,465.5 1635,464.0 1634,463.3 1633,463.0 1632,463.4 1631,465.4 1630,463.2 1629,464.4 1628,466.9 1627,463.7 1626,464.2 1625,462.3 1624,467.0 1623,472.0 1622,466.5 1621,466.6 1620,468.3 1619,467.1 1618,467.9 1617,470.1 1616,473.5 1615,470.6 1614,471.2 1613,471.4 1612,473.2 1611,474.4 1610,476.1 1609,473.7 1608,474.7 1607,472.6 1606,473.9 1605,473.6 1604,479.0 1603,484.9 1602,481.1 1601,474.8 1600,474.9 1599,473.8 1598,471.2 1597,471.4 1596,469.9 1595,470.2 1594,470.5 1593,471.2 1592,469.8 1591,470.1 1590,470.1 1589,469.1 1588,470.8 1587,473.3 1586,471.1 1585,473.3 1584,478.5 1583,475.0 1582,475.3 1581,477.1 1580,480.8 1579,484.1 1578,483.6 1577,481.6 1576,480.9 1575,480.6 1574,479.9 1573,480.5 1572,480.1 1571,483.4 1570,485.9 1569,485.5 1568,487.6 1567,488.8 1566,488.9 1565,492.5 1564,491.4 1563,490.2 1562,490.9 1561,492.2 1560,491.0 1559,491.1 1558,493.3 1557,488.4 1556,487.4 1555,489.2 1554,489.2 1553,489.3 1552,491.7 1551,494.6 1550,490.9 1549,492.4 1548,493.3 1547,495.5 1546,496.4 1545,497.4 1544,497.0 1543,496.3 1542,496.3 1541,494.7 1540,494.4 1539,494.8 1538,494.7 1537,496.2 1536,496.7 1535,495.4 1534,496.6 1533,497.0 1532,497.3 1531,499.2 1530,499.8 1529,500.1 1528,502.5 1527,496.5 1526,497.1 1525,495.6 1524,494.2 1523,496.1 1522,493.2 1521,495.4 1520,493.7 1519,498.3 1518,500.0 1517,492.4 1516,492.9 1515,493.5 1514,495.9 1513,498.5 1512,498.7 1511,499.7 1510,498.7 1509,498.9 1508,498.6 1507,499.1 1506,502.2 1505,502.7 1504,510.8 1503,519.1 1502,507.1 1501,506.7 1500,507.0 1499,508.9 1498,509.6 1497,509.9 1496,511.5 1495,513.0 1494,512.0 1493,508.6 1492,507.5 1491,507.3 1490,507.0 1489,508.7 1488,506.4 1487,505.2 1486,506.1 1485,507.1 1484,503.4 1483,503.0 1482,503.2 1481,504.6 1480,507.6 1479,512.4 1478,508.9 1477,510.6 1476,510.7 1475,510.5 1474,509.5 1473,508.0 1472,507.9 1471,507.9 1470,508.5 1469,507.6 1468,508.0 1467,508.3 1466,507.4 1465,507.9 1464,509.7 1463,512.0 1462,512.5 1461,513.1 1460,514.7 1459,517.9 1458,510.4 1457,511.1 1456,512.6 1455,514.3 1454,514.0 1453,515.6 1452,517.9 1451,515.9 1450,516.1 1449,517.2 1448,518.5 1447,522.1 1446,519.3 1445,517.8 1444,517.2 1443,517.0 1442,518.2 1441,518.6 1440,515.9 1439,515.8 1438,514.7 1437,513.4 1436,514.3 1435,514.5 1434,517.3 1433,519.2 1432,518.0 1431,519.2 1430,519.4 1429,518.4 1428,519.4 1427,521.8 1426,522.8 1425,522.2 1424,521.7 1423,522.7 1422,521.7 1421,520.6 1420,521.9 1419,523.1 1418,522.2 1417,521.9 1416,522.5 1415,521.8 1414,524.1 1413,525.9 1412,526.1 1411,526.0 1410,526.7 1409,528.6 1408,527.7 1407,526.8 1406,527.5 1405,529.2 1404,529.0 1403,530.1 1402,530.9 1401,530.5 1400,531.9 1399,531.6 1398,534.2 1397,530.7 1396,534.1 1395,538.7 1394,541.2 1393,539.4 1392,539.5 1391,540.0 1390,540.3 1389,537.9 1388,539.1 1387,539.8 1386,541.4 1385,540.1 1384,541.3 1383,539.8 1382,543.5 1381,538.1 1380,538.5 1379,537.7 1378,539.0 1377,538.4 1376,539.6 1375,541.2 1374,544.4 1373,543.3 1372,544.8 1371,543.5 1370,546.0 1369,545.5 1368,545.5 1367,544.0 1366,542.7 1365,542.2 1364,542.9 1363,543.0 1362,543.4 1361,543.8 1360,545.5 1359,546.2 1358,546.5 1357,546.4 1356,545.9 1355,546.2 1354,546.8 1353,544.1 1352,543.5 1351,543.3 1350,545.8 1349,546.9 1348,541.4 1347,540.2 1346,541.8 1345,542.5 1344,540.3 1343,541.0 1342,543.8 1341,545.8 1340,548.0 1339,551.0 1338,550.5 1337,550.6 1336,551.3 1335,549.1 1334,549.7 1333,548.4 1332,547.0 1331,548.2 1330,549.0 1329,549.0 1328,548.8 1327,548.9 1326,549.5 1325,552.6 1324,553.1 1323,552.7 1322,553.3 1321,553.8 1320,555.3 1319,555.4 1318,555.7 1317,556.1 1316,556.5 1315,557.2 1314,553.1 1313,552.8 1312,552.3 1311,554.0 1310,555.2 1309,551.1 1308,550.1 1307,551.4 1306,552.5 1305,551.8 1304,551.2 1303,551.6 1302,553.3 1301,556.0 1300,559.9 1299,555.3 1298,552.6 1297,554.9 1296,556.6 1295,556.8 1294,561.8 1293,557.1 1292,560.4 1291,557.9 1290,561.5 1289,559.5 1288,560.5 1287,561.2 1286,560.7 1285,562.7 1284,565.4 1283,563.5 1282,565.7 1281,561.4 1280,560.1 1279,561.3 1278,560.2 1277,558.9 1276,557.7 1275,558.0 1274,557.2 1273,557.7 1272,556.1 1271,557.3 1270,559.4 1269,553.7 1268,554.1 1267,555.1 1266,555.0 1265,554.4 1264,554.8 1263,555.7 1262,557.7 1261,555.5 1260,557.4 1259,560.2 1258,556.5 1257,557.4 1256,561.0 1255,562.9 1254,564.6 1253,565.5 1252,567.5 1251,566.2 1250,567.2 1249,564.3 1248,565.9 1247,564.6 1246,563.9 1245,562.8 1244,562.1 1243,561.6 1242,562.7 1241,562.6 1240,562.1 1239,563.5 1238,562.7 1237,563.1 1236,563.5 1235,563.6 1234,565.7 1233,563.3 1232,564.5 1231,565.8 1230,566.4 1229,565.2 1228,566.5 1227,568.5 1226,567.5 1225,569.7 1224,570.1 1223,571.4 1222,573.2 1221,573.1 1220,573.5 1219,571.7 1218,573.1 1217,571.3 1216,570.1 1215,568.8 1214,568.2 1213,566.8 1212,566.6 1211,566.9 1210,566.2 1209,567.7 1208,567.6 1207,568.2 1206,569.2 1205,569.3 1204,570.6 1203,571.4 1202,573.2 1201,573.3 1200,573.9 1199,576.1 1198,579.1 1197,573.5 1196,573.6 1195,574.2 1194,572.9 1193,570.7 1192,569.8 1191,568.9 1190,569.9 1189,572.2 1188,574.0 1187,574.2 1186,575.1 1185,575.5 1184,575.7 1183,577.0 1182,577.4 1181,580.1 1180,579.4 1179,580.7 1178,580.0 1177,579.2 1176,579.8 1175,581.3 1174,581.5 1173,584.5 1172,582.7 1171,582.0 1170,582.0 1169,581.5 1168,582.3 1167,584.6 1166,583.8 1165,583.7 1164,588.6 1163,592.2 1162,585.9 1161,587.3 1160,586.8 1159,587.3 1158,588.0 1157,589.4 1156,589.3 1155,590.0 1154,590.3 1153,590.3 1152,591.7 1151,591.3 1150,592.7 1149,592.9 1148,594.4 1147,594.1 1146,593.2 1145,592.5 1144,591.8 1143,591.8 1142,592.1 1141,592.2 1140,591.9 1139,594.2 1138,589.8 1137,590.2 1136,591.1 1135,590.6 1134,592.2 1133,594.7 1132,585.9 1131,585.9 1130,586.8 1129,588.6 1128,590.8 1127,593.2 1126,593.5 1125,595.2 1124,595.9 1123,592.8 1122,591.6 1121,591.7 1120,591.9 1119,591.6 1118,591.7 1117,591.8 1116,589.6 1115,590.3 1114,587.8 1113,588.1 1112,590.4 1111,589.1 1110,587.9 1109,589.2 1108,590.7 1107,592.8 1106,591.7 1105,592.6 1104,592.6 1103,592.4 1102,592.8 1101,593.1 1100,593.5 1099,592.8 1098,593.8 1097,593.5 1096,594.7 1095,596.6 1094,594.8 1093,595.6 1092,596.1 1091,596.2 1090,597.1 1089,597.2 1088,597.3 1087,597.8 1086,598.1 1085,598.1 1084,598.3 1083,597.4 1082,598.2 1081,596.9 1080,598.1 1079,597.1 1078,595.3 1077,593.8 1076,595.3 1075,596.1 1074,597.9 1073,600.2 1072,598.8 1071,600.0 1070,600.8 1069,601.2 1068,601.5 1067,602.9 1066,605.9 1065,607.8 1064,609.5 1063,606.7 1062,606.6 1061,607.9 1060,605.9 1059,607.0 1058,606.8 1057,605.9 1056,607.9 1055,609.1 1054,607.9 1053,608.7 1052,607.8 1051,609.9 1050,609.3 1049,610.9 1048,612.0 1047,613.4 1046,612.6 1045,613.6 1044,609.8 1043,610.1 1042,610.2 1041,609.2 1040,609.9 1039,610.3 1038,610.6 1037,609.5 1036,610.2 1035,611.4 1034,612.4 1033,611.9 1032,612.1 1031,611.8 1030,612.2 1029,611.4 1028,612.4 1027,613.3 1026,613.1 1025,613.9 1024,614.2 1023,614.6 1022,615.6 1021,615.8 1020,615.6 1019,615.5 1018,616.8 1017,618.9 1016,620.1 1015,620.1 1014,619.2 1013,618.2 1012,616.4 1011,614.5 1010,615.0 1009,617.5 1008,615.8 1007,616.8 1006,618.5 1005,620.8 1004,621.2 1003,623.6 1002,619.6 1001,620.9 1000,622.7 999,620.6 998,621.3 997,621.7 996,621.8 995,619.1 994,618.9 993,618.3 992,618.8 991,617.1 990,619.0 989,622.1 988,617.5 987,616.1 986,617.6 985,618.2 984,619.3 983,622.0 982,622.3 981,623.7 980,624.8 979,625.6 978,625.4 977,626.5 976,626.2 975,626.1 974,626.4 973,625.2 972,624.9 971,624.9 970,624.7 969,624.3 968,625.0 967,625.7 966,624.2 965,625.2 964,624.0 963,624.0 962,626.0 961,625.0 960,624.3 959,625.4 958,625.8 957,626.8 956,625.4 955,625.7 954,625.2 953,624.9 952,625.5 951,625.5 950,623.7 949,623.9 948,625.5 947,625.6 946,625.4 945,626.3 944,627.9 943,628.0 942,627.5 941,625.4 940,623.5 939,623.3 938,625.8 937,624.4 936,624.9 935,626.6 934,623.6 933,624.3 932,624.6 931,625.1 930,625.7 929,626.6 928,628.6 927,629.3 926,628.2 925,627.8 924,629.2 923,629.9 922,629.1 921,629.2 920,629.6 919,630.5 918,630.2 917,630.8 916,632.4 915,634.4 914,631.7 913,633.3 912,635.4 911,631.7 910,633.9 909,634.7 908,634.0 907,633.5 906,634.5 905,635.4 904,635.7 903,635.3 902,635.1 901,634.5 900,632.5 899,632.0 898,631.6 897,630.5 896,631.0 895,630.7 894,631.8 893,630.5 892,629.9 891,630.9 890,630.6 889,630.4 888,631.4 887,630.6 886,631.3 885,631.9 884,632.1 883,633.6 882,634.3 881,635.1 880,632.2 879,634.1 878,633.2 877,633.0 876,633.7 875,633.7 874,635.6 873,637.0 872,634.8 871,634.6 870,636.8 869,637.6 868,636.5 867,636.6 866,637.6 865,638.1 864,637.0 863,637.7 862,638.1 861,640.2 860,642.6 859,639.6 858,638.8 857,640.3 856,641.8 855,640.8 854,640.6 853,640.6 852,640.8 851,640.4 850,641.0 849,639.7 848,640.0 847,640.3 846,638.8 845,638.4 844,637.2 843,637.1 842,638.2 841,640.3 840,640.4 839,642.5 838,644.4 837,642.3 836,644.3 835,644.0 834,644.3 833,643.4 832,644.8 831,648.1 830,645.4 829,645.0 828,645.4 827,646.8 826,646.5 825,647.9 824,648.8 823,648.5 822,649.9 821,649.1 820,648.5 819,648.6 818,649.4 817,648.3 816,649.2 815,649.0 814,649.5 813,649.0 812,648.7 811,649.2 810,648.5 809,650.1 808,649.6 807,650.7 806,649.5 805,650.0 804,650.3 803,650.2 802,650.4 801,651.0 800,650.8 799,650.9 798,652.3 797,654.7 796,652.8 795,656.2 794,658.9 793,651.7 792,652.4 791,653.5 790,650.4 789,651.1 788,651.8 787,652.0 786,652.0 785,650.8 784,650.5 783,651.2 782,652.3 781,651.3 780,651.5 779,653.1 778,653.8 777,652.0 776,651.8 775,652.3 774,654.6 773,655.6 772,656.7 771,659.2 770,659.0 769,658.9 768,658.8 767,659.8 766,660.2 765,660.8 764,660.3 763,660.2 762,661.4 761,662.1 760,663.0 759,661.3 758,661.2 757,661.1 756,661.8 755,661.9 754,661.7 753,660.7 752,660.4 751,658.6 750,658.3 749,657.3 748,658.7 747,658.4 746,659.4 745,660.7 744,658.4 743,658.6 742,657.5 741,659.1 740,660.6 739,660.8 738,660.5 737,660.3 736,661.1 735,662.6 734,661.7 733,661.8 732,661.8 731,663.1 730,664.5 729,665.7 728,662.4 727,663.3 726,664.0 725,664.9 724,665.0 723,667.1 722,669.9 721,671.1 720,668.6 719,667.8 718,666.7 717,666.2 716,665.9 715,666.0 714,665.1 713,665.8 712,664.8 711,664.8 710,663.5 709,663.7 708,663.2 707,663.3 706,665.5 705,667.6 704,666.2 703,666.7 702,666.1 701,667.3 700,666.9 699,668.4 698,668.3 697,670.2 696,671.2 695,671.1 694,671.0 693,671.2 692,670.0 691,668.4 690,668.4 689,668.7 688,669.3 687,667.9 686,668.2 685,669.9 684,670.0 683,667.7 682,667.8 681,666.0 680,666.5 679,666.7 678,667.2 677,667.8 676,669.3 675,670.6 674,671.4 673,671.8 672,672.9 671,672.2 670,673.1 669,673.5 668,673.7 667,672.3 666,671.5 665,672.5 664,671.9 663,672.4 662,671.6 661,671.0 660,669.8 659,671.1 658,673.3 657,671.6 656,670.6 655,670.1 654,671.3 653,672.2 652,673.2 651,673.6 650,675.1 649,675.7 648,676.7 647,675.2 646,675.3 645,676.0 644,675.4 643,674.7 642,675.6 641,675.7 640,675.6 639,676.2 638,677.3 637,674.8 636,675.3 635,676.8 634,678.1 633,680.3 632,679.8 631,679.7 630,680.7 629,681.0 628,682.7 627,681.5 626,681.5 625,681.4 624,682.8 623,681.8 622,683.3 621,685.3 620,683.0 619,683.0 618,683.7 617,684.0 616,683.4 615,685.5 614,686.6 613,686.3 612,687.5 611,687.6 610,687.0 609,686.5 608,686.2 607,686.2 606,687.4 605,687.1 604,687.4 603,687.4 602,686.1 601,687.0 600,687.0 599,686.4 598,686.3 597,688.5 596,689.4 595,686.7 594,686.5 593,686.2 592,685.7 591,686.1 590,687.0 589,684.7 588,684.7 587,685.0 586,687.8 585,689.9 584,688.8 583,689.6 582,690.9 581,691.0 580,691.8 579,691.1 578,690.9 577,691.3 576,690.4 575,689.7 574,688.7 573,688.8 572,688.7 571,687.9 570,686.9 569,688.1 568,690.7 567,686.5 566,685.6 565,687.1 564,688.8 563,687.2 562,688.6 561,687.1 560,687.0 559,687.0 558,687.1 557,685.5 556,686.8 555,686.9 554,688.1 553,689.7 552,691.6 551,691.6 550,690.8 549,690.5 548,689.9 547,691.3 546,692.8 545,690.4 544,691.2 543,691.7 542,690.4 541,690.5 540,690.8 539,691.3 538,692.3 537,693.6 536,694.2 535,693.9 534,694.3 533,695.5 532,693.1 531,693.1 530,693.5 529,692.9 528,693.5 527,694.6 526,693.0 525,691.5 524,691.7 523,692.1 522,692.9 521,692.4 520,691.9 519,693.0 518,694.7 517,693.0 516,693.0 515,693.1 514,693.8 513,694.7 512,694.1 511,693.8 510,694.9 509,695.4 508,693.0 507,694.1 506,695.3 505,696.3 504,695.9 503,696.1 502,696.7 501,697.1 500,697.7 499,698.5 498,699.3 497,699.0 496,699.7 495,697.6 494,697.1 493,696.9 492,696.1 491,695.9 490,696.1 489,696.7 488,697.6 487,698.5 486,698.5 485,699.0 484,700.0 483,702.1 482,702.3 481,700.5 480,702.3 479,699.3 478,697.7 477,697.2 476,695.6 475,695.0 474,695.1 473,698.8 472,701.9 471,701.3 470,701.1 469,700.8 468,700.9 467,703.0 466,705.1 465,702.2 464,702.1 463,701.4 462,702.2 461,701.8 460,702.3 459,701.6 458,702.1 457,703.2 456,701.5 455,701.6 454,701.8 453,701.7 452,702.5 451,703.9 450,702.3 449,701.5 448,701.6 447,702.4 446,701.0 445,702.0 444,702.2 443,701.6 442,703.0 441,703.3 440,703.0 439,702.8 438,703.0 437,702.3 436,702.1 435,702.2 434,702.4 433,701.7 432,702.0 431,703.3 430,705.1 429,701.5 428,702.6 427,703.9 426,705.6 425,706.9 424,706.2 423,706.6 422,705.1 421,704.7 420,705.6 419,704.6 418,704.4 417,704.9 416,706.5 415,704.2 414,703.9 413,705.3 412,707.0 411,705.7 410,705.9 409,706.3 408,707.6 407,709.2 406,706.4 405,706.9 404,707.5 403,708.6 402,707.4 401,708.7 400,708.1 399,709.0 398,709.9 397,711.2 396,708.3 395,708.4 394,707.9 393,707.4 392,707.2 391,707.3 390,708.0 389,708.4 388,709.2 387,709.1 386,707.8 385,708.2 384,707.9 383,708.7 382,708.4 381,708.5 380,708.1 379,708.9 378,709.5 377,709.4 376,710.3 375,709.0 374,709.7 373,710.7 372,710.7 371,711.7 370,712.5 369,713.7 368,713.6 367,713.5 366,712.5 365,712.9 364,712.4 363,711.7 362,711.1 361,711.3 360,709.6 359,709.4 358,709.8 357,709.7 356,709.4 355,709.4 354,708.9 353,708.8 352,709.2 351,709.7 350,710.9 349,712.0 348,710.1 347,710.4 346,710.7 345,712.3 344,713.5 343,710.8 342,710.7 341,711.4 340,711.6 339,711.8 338,711.9 337,712.0 336,712.3 335,713.7 334,714.7 333,715.0 332,715.6 331,717.0 330,718.6 329,716.7 328,716.3 327,715.5 326,716.2 325,715.2 324,715.9 323,717.3 322,714.4 321,714.1 320,714.3 319,715.0 318,715.2 317,716.2 316,717.9 315,716.0 314,716.8 313,715.9 312,717.1 311,717.0 310,717.3 309,718.0 308,718.7 307,718.9 306,719.9 305,719.9 304,720.2 303,720.5 302,719.6 301,719.8 300,720.3 299,718.3 298,718.3 297,719.8 296,722.6 295,718.8 294,719.5 293,720.4 292,721.7 291,721.8 290,720.5 289,719.6 288,719.6 287,720.0 286,717.7 285,717.8 284,717.2 283,717.2 282,717.6 281,718.4 280,719.4 279,718.7 278,719.3 277,720.7 276,722.1 275,720.7 274,720.5 273,720.8 272,722.0 271,721.4 270,722.0 269,722.5 268,723.6 267,724.8 266,723.6 265,723.6 264,724.2 263,725.4 262,728.0 261,725.3 260,726.5 259,725.1 258,726.0 257,725.8 256,725.1 255,724.4 254,725.0 253,725.0 252,725.7 251,726.6 250,727.9 249,728.1 248,729.8 247,731.2 246,728.2 245,728.5 244,728.1 243,728.0 242,727.3 241,728.1 240,726.9 239,727.2 238,726.9 237,727.2 236,727.7 235,728.4 234,728.0 233,728.0 232,728.1 231,728.1 230,728.5 229,729.1 228,729.9 227,729.4 226,729.9 225,729.8 224,730.9 223,730.0 222,730.0 221,730.4 220,730.7 219,730.6 218,730.8 217,730.7 216,731.0 215,730.2 214,730.8 213,730.9 212,731.1 211,731.6 210,732.4 209,733.7 208,734.7 207,736.3 206,734.1 205,734.1 204,733.2 203,733.0 202,732.2 201,732.0 200,732.0 199,730.6 198,732.1 197,733.2 196,731.6 195,732.1 194,732.6 193,732.3 192,732.3 191,732.6 190,733.0 189,732.3 188,732.4 187,732.8 186,732.9 185,734.5 184,734.0 183,732.4 182,732.4 181,732.5 180,732.9 179,732.1 178,731.8 177,732.3 176,732.1 175,733.0 174,733.8 173,732.8 172,733.0 171,732.8 170,733.3 169,733.1 168,733.3 167,733.1 166,733.1 165,733.5 164,734.1 163,733.1 162,732.8 161,732.4 160,732.6 159,732.3 158,732.2 157,732.1 156,732.4 155,732.5 154,732.0 153,731.9 152,731.7 151,731.5 150,731.5"/><polyline fill="none" stroke="#000" stroke-width="1.9" stroke-linejoin="round" points="150,730.5 151,729.2 152,729.4 153,730.9 154,730.8 155,731.6 156,730.1 157,728.9 158,730.2 159,728.8 160,730.3 161,732.2 162,731.4 163,730.8 164,731.0 165,730.1 166,729.8 167,729.9 168,729.9 169,729.7 170,731.5 171,731.4 172,730.7 173,730.1 174,729.1 175,729.4 176,729.0 177,728.9 178,730.0 179,729.0 180,728.9 181,730.0 182,729.7 183,729.9 184,728.8 185,728.0 186,729.1 187,728.5 188,729.7 189,728.7 190,729.8 191,730.1 192,730.3 193,730.2 194,728.1 195,728.2 196,728.3 197,728.6 198,728.3 199,727.8 200,728.9 201,727.9 202,729.0 203,730.0 204,728.1 205,728.5 206,729.9 207,731.0 208,730.6 209,729.4 210,728.4 211,727.8 212,727.7 213,726.4 214,726.3 215,727.1 216,727.9 217,727.5 218,726.4 219,726.2 220,725.9 221,726.1 222,725.6 223,726.1 224,725.2 225,725.7 226,726.0 227,725.1 228,724.8 229,725.7 230,725.7 231,726.0 232,724.6 233,724.9 234,725.6 235,726.0 236,723.8 237,722.7 238,722.9 239,723.3 240,724.0 241,722.3 242,721.8 243,723.3 244,725.1 245,725.5 246,726.3 247,724.4 248,724.0 249,723.6 250,723.1 251,722.1 252,722.2 253,721.7 254,721.0 255,720.7 256,721.7 257,722.1 258,722.2 259,722.8 260,722.5 261,723.6 262,722.9 263,722.3 264,721.3 265,721.3 266,719.6 267,720.2 268,719.3 269,720.0 270,719.7 271,719.6 272,718.6 273,718.4 274,717.9 275,716.5 276,717.4 277,717.5 278,715.1 279,716.6 280,715.2 281,714.9 282,715.0 283,714.0 284,713.2 285,714.0 286,714.7 287,716.9 288,717.5 289,717.0 290,717.4 291,718.2 292,717.9 293,716.3 294,715.7 295,716.2 296,714.9 297,714.6 298,716.3 299,716.9 300,717.1 301,717.0 302,717.3 303,716.4 304,716.7 305,717.3 306,717.5 307,717.0 308,716.2 309,716.4 310,715.9 311,714.2 312,713.0 313,713.9 314,714.1 315,714.5 316,712.8 317,711.9 318,712.2 319,711.2 320,711.8 321,711.8 322,711.2 323,710.8 324,711.1 325,711.5 326,711.2 327,713.1 328,713.0 329,713.9 330,712.1 331,711.2 332,709.7 333,708.9 334,709.5 335,709.0 336,708.6 337,709.5 338,709.2 339,708.9 340,707.5 341,708.7 342,709.2 343,708.9 344,708.3 345,708.8 346,707.7 347,706.3 348,706.7 349,706.5 350,706.1 351,705.6 352,706.4 353,706.6 354,706.7 355,706.8 356,706.6 357,707.2 358,705.8 359,706.4 360,706.1 361,707.1 362,706.6 363,708.6 364,708.4 365,710.2 366,708.9 367,710.0 368,711.0 369,710.3 370,708.6 371,708.4 372,708.1 373,707.8 374,706.7 375,706.3 376,705.8 377,704.8 378,705.1 379,705.5 380,704.9 381,705.3 382,704.6 383,704.6 384,705.5 385,705.1 386,705.2 387,704.4 388,703.6 389,705.6 390,703.7 391,704.5 392,705.7 393,703.4 394,703.9 395,703.7 396,704.5 397,703.6 398,704.4 399,704.0 400,703.5 401,703.3 402,703.2 403,702.9 404,704.0 405,704.0 406,703.1 407,703.1 408,703.1 409,702.6 410,703.0 411,701.2 412,701.7 413,701.9 414,701.1 415,701.2 416,701.5 417,701.5 418,702.3 419,702.6 420,702.8 421,702.5 422,702.9 423,701.6 424,701.9 425,702.1 426,701.2 427,700.8 428,699.1 429,698.5 430,698.7 431,699.6 432,699.6 433,698.3 434,699.7 435,700.0 436,701.1 437,701.3 438,701.2 439,701.8 440,701.0 441,700.6 442,701.5 443,700.5 444,700.4 445,698.7 446,699.3 447,698.6 448,696.7 449,697.5 450,698.2 451,699.3 452,698.9 453,699.0 454,697.7 455,699.6 456,699.7 457,698.4 458,698.1 459,697.8 460,698.5 461,698.4 462,699.2 463,697.8 464,697.8 465,697.0 466,697.0 467,697.0 468,696.8 469,695.7 470,696.0 471,695.1 472,695.3 473,692.3 474,689.8 475,690.6 476,689.7 477,690.0 478,691.7 479,693.2 480,692.3 481,693.1 482,694.0 483,695.7 484,694.4 485,692.4 486,692.2 487,693.2 488,691.3 489,691.2 490,691.3 491,690.5 492,692.5 493,692.1 494,693.5 495,694.0 496,694.4 497,694.9 498,694.2 499,694.7 500,694.0 501,694.2 502,693.7 503,692.2 504,692.2 505,691.7 506,692.6 507,690.7 508,689.9 509,689.2 510,690.3 511,689.8 512,689.9 513,688.2 514,689.8 515,689.6 516,689.1 517,688.6 518,689.1 519,688.8 520,688.0 521,688.5 522,687.4 523,688.4 524,688.0 525,687.7 526,687.7 527,688.4 528,689.2 529,688.4 530,688.9 531,689.5 532,688.4 533,689.5 534,689.6 535,688.5 536,688.6 537,688.2 538,688.0 539,687.7 540,687.7 541,687.0 542,685.9 543,686.5 544,685.4 545,684.8 546,684.4 547,685.1 548,685.1 549,684.8 550,683.4 551,684.7 552,684.4 553,685.0 554,684.4 555,683.9 556,683.7 557,685.7 558,683.2 559,681.6 560,681.9 561,681.8 562,681.4 563,682.1 564,681.6 565,680.9 566,681.1 567,682.6 568,683.9 569,684.7 570,685.1 571,685.9 572,684.9 573,685.6 574,685.4 575,684.5 576,685.6 577,686.6 578,685.8 579,686.8 580,686.0 581,686.2 582,685.9 583,685.1 584,683.9 585,683.6 586,682.9 587,682.3 588,681.4 589,681.2 590,682.5 591,681.5 592,680.8 593,681.5 594,681.0 595,680.9 596,681.0 597,680.7 598,681.1 599,681.5 600,682.1 601,681.4 602,682.1 603,682.0 604,682.3 605,683.6 606,683.2 607,684.2 608,683.1 609,683.2 610,684.1 611,683.6 612,684.9 613,683.6 614,682.2 615,682.5 616,683.1 617,680.7 618,679.7 619,679.9 620,680.8 621,680.0 622,679.9 623,679.3 624,679.0 625,677.6 626,678.3 627,676.7 628,678.3 629,677.2 630,677.1 631,675.6 632,675.0 633,674.5 634,672.9 635,671.9 636,670.2 637,670.3 638,669.8 639,669.6 640,669.0 641,669.5 642,669.9 643,669.7 644,670.5 645,670.8 646,671.1 647,671.0 648,671.4 649,669.4 650,669.3 651,668.4 652,668.1 653,667.3 654,665.7 655,664.3 656,665.3 657,666.9 658,666.1 659,666.8 660,666.6 661,667.9 662,667.4 663,667.1 664,666.8 665,667.9 666,668.7 667,667.9 668,668.6 669,670.2 670,669.7 671,670.0 672,669.5 673,668.5 674,668.2 675,667.5 676,665.9 677,665.5 678,665.3 679,663.5 680,663.5 681,662.9 682,662.3 683,664.4 684,666.3 685,664.4 686,667.4 687,665.2 688,665.3 689,665.4 690,666.3 691,665.7 692,665.6 693,665.9 694,665.6 695,665.3 696,666.4 697,665.5 698,663.2 699,662.5 700,661.8 701,660.5 702,660.7 703,661.8 704,660.7 705,661.8 706,660.6 707,659.8 708,659.2 709,659.5 710,658.8 711,660.1 712,659.5 713,659.0 714,659.8 715,660.5 716,659.3 717,659.2 718,660.7 719,660.7 720,660.9 721,660.7 722,661.5 723,661.3 724,661.6 725,659.9 726,658.9 727,658.3 728,658.9 729,658.0 730,656.9 731,657.4 732,655.8 733,657.3 734,657.7 735,656.8 736,657.1 737,656.8 738,655.1 739,655.9 740,655.8 741,656.2 742,655.6 743,655.9 744,655.6 745,655.1 746,654.0 747,653.8 748,654.0 749,653.3 750,652.4 751,654.0 752,655.5 753,653.4 754,654.9 755,654.5 756,655.0 757,655.5 758,655.4 759,655.6 760,653.8 761,655.1 762,654.6 763,654.5 764,655.7 765,654.9 766,655.5 767,656.8 768,656.1 769,655.8 770,655.2 771,654.1 772,652.5 773,650.7 774,650.5 775,649.6 776,648.8 777,648.3 778,647.9 779,646.7 780,646.6 781,647.0 782,646.8 783,647.5 784,645.9 785,647.0 786,646.6 787,648.1 788,647.2 789,648.0 790,647.9 791,647.9 792,648.0 793,649.3 794,649.6 795,650.5 796,648.2 797,648.2 798,648.1 799,648.8 800,648.1 801,647.2 802,647.4 803,646.5 804,647.9 805,647.1 806,646.7 807,646.4 808,646.0 809,646.3 810,645.7 811,645.3 812,644.3 813,643.6 814,645.7 815,644.8 816,644.5 817,645.1 818,643.9 819,645.0 820,646.0 821,647.5 822,646.7 823,643.9 824,644.9 825,643.1 826,642.5 827,643.1 828,643.2 829,640.3 830,640.0 831,640.3 832,639.4 833,638.4 834,639.0 835,638.6 836,638.3 837,637.7 838,638.7 839,637.6 840,635.3 841,634.5 842,633.5 843,631.4 844,632.6 845,632.3 846,633.4 847,634.2 848,634.5 849,636.4 850,635.2 851,634.9 852,634.1 853,635.8 854,634.5 855,634.9 856,635.2 857,632.8 858,632.0 859,634.1 860,633.7 861,632.6 862,631.5 863,631.1 864,631.6 865,630.4 866,630.5 867,632.0 868,632.4 869,630.8 870,630.2 871,630.5 872,631.2 873,630.7 874,631.2 875,630.8 876,630.7 877,629.8 878,630.6 879,630.1 880,630.1 881,628.6 882,629.3 883,628.2 884,628.6 885,628.2 886,627.6 887,626.4 888,626.8 889,625.3 890,625.9 891,625.8 892,626.1 893,626.5 894,626.3 895,625.7 896,625.6 897,625.4 898,625.4 899,625.4 900,625.3 901,628.4 902,628.7 903,628.4 904,630.0 905,627.8 906,627.6 907,626.7 908,627.2 909,627.4 910,626.2 911,625.6 912,626.1 913,626.6 914,625.4 915,625.8 916,624.2 917,624.2 918,623.3 919,623.2 920,623.3 921,623.0 922,622.0 923,622.5 924,622.8 925,622.8 926,623.2 927,622.0 928,621.2 929,620.5 930,621.1 931,621.9 932,621.6 933,621.0 934,620.2 935,620.3 936,620.7 937,618.9 938,618.2 939,618.9 940,619.9 941,620.0 942,621.3 943,623.1 944,622.1 945,623.6 946,623.2 947,623.0 948,623.0 949,622.5 950,622.0 951,621.8 952,621.9 953,621.7 954,621.4 955,621.9 956,621.1 957,622.6 958,621.1 959,620.4 960,619.8 961,621.3 962,620.1 963,620.3 964,619.4 965,620.3 966,619.9 967,620.9 968,620.6 969,621.3 970,620.1 971,620.2 972,619.8 973,620.5 974,620.3 975,619.9 976,619.2 977,618.7 978,619.3 979,617.3 980,617.8 981,617.9 982,617.5 983,617.0 984,615.2 985,614.7 986,613.5 987,612.2 988,612.9 989,614.3 990,613.5 991,613.6 992,614.1 993,613.0 994,612.5 995,612.7 996,614.0 997,613.4 998,613.1 999,613.0 1000,613.5 1001,614.2 1002,614.8 1003,614.0 1004,614.6 1005,612.7 1006,611.4 1007,611.4 1008,611.2 1009,610.4 1010,609.2 1011,608.1 1012,607.9 1013,609.6 1014,610.9 1015,612.5 1016,613.5 1017,612.3 1018,610.4 1019,609.5 1020,609.0 1021,608.5 1022,608.2 1023,607.8 1024,607.8 1025,607.1 1026,606.0 1027,605.7 1028,604.6 1029,604.7 1030,605.0 1031,604.5 1032,605.2 1033,605.2 1034,604.0 1035,602.9 1036,603.2 1037,603.6 1038,603.7 1039,604.2 1040,602.6 1041,601.6 1042,600.1 1043,601.4 1044,602.3 1045,601.9 1046,601.7 1047,601.4 1048,602.4 1049,602.4 1050,602.8 1051,602.4 1052,601.9 1053,601.1 1054,601.0 1055,599.7 1056,599.9 1057,599.3 1058,599.6 1059,599.0 1060,599.5 1061,598.5 1062,599.2 1063,598.6 1064,598.1 1065,596.6 1066,596.5 1067,595.5 1068,594.6 1069,592.7 1070,592.9 1071,591.6 1072,590.7 1073,591.6 1074,590.8 1075,588.3 1076,588.0 1077,588.6 1078,589.3 1079,589.6 1080,590.4 1081,590.8 1082,590.5 1083,590.4 1084,591.6 1085,590.9 1086,591.1 1087,590.7 1088,592.4 1089,591.9 1090,592.1 1091,592.0 1092,592.4 1093,591.0 1094,590.6 1095,590.7 1096,589.7 1097,589.3 1098,589.2 1099,589.1 1100,588.2 1101,586.2 1102,584.9 1103,585.6 1104,584.7 1105,585.5 1106,583.2 1107,584.2 1108,584.4 1109,583.0 1110,582.7 1111,582.2 1112,582.7 1113,581.7 1114,581.5 1115,582.0 1116,582.7 1117,582.8 1118,584.2 1119,584.4 1120,586.0 1121,586.0 1122,586.4 1123,586.2 1124,586.4 1125,586.0 1126,586.1 1127,584.6 1128,582.7 1129,581.6 1130,579.3 1131,579.5 1132,580.4 1133,580.7 1134,582.2 1135,582.7 1136,583.1 1137,584.1 1138,584.6 1139,585.4 1140,586.0 1141,587.2 1142,589.3 1143,588.5 1144,588.6 1145,588.4 1146,589.0 1147,589.0 1148,588.9 1149,588.0 1150,587.9 1151,587.1 1152,586.3 1153,584.1 1154,583.8 1155,582.2 1156,581.5 1157,580.8 1158,580.3 1159,578.9 1160,578.3 1161,576.6 1162,575.8 1163,577.2 1164,577.1 1165,577.7 1166,576.9 1167,576.3 1168,577.1 1169,577.2 1170,577.0 1171,575.9 1172,575.5 1173,574.5 1174,575.3 1175,574.2 1176,574.3 1177,572.4 1178,573.2 1179,572.2 1180,572.1 1181,570.4 1182,571.6 1183,571.2 1184,568.8 1185,567.5 1186,567.0 1187,565.6 1188,565.7 1189,565.3 1190,563.8 1191,563.2 1192,564.2 1193,564.1 1194,565.9 1195,566.0 1196,566.0 1197,567.3 1198,567.9 1199,568.3 1200,568.8 1201,566.7 1202,566.5 1203,566.1 1204,565.5 1205,565.2 1206,564.4 1207,564.2 1208,564.3 1209,564.4 1210,563.3 1211,562.6 1212,561.8 1213,563.4 1214,563.9 1215,565.2 1216,565.9 1217,565.8 1218,566.9 1219,566.9 1220,566.2 1221,565.7 1222,563.7 1223,563.9 1224,564.3 1225,561.7 1226,561.9 1227,560.8 1228,561.3 1229,561.1 1230,561.8 1231,559.6 1232,559.0 1233,558.3 1234,558.1 1235,556.4 1236,556.0 1237,556.7 1238,555.8 1239,553.9 1240,554.1 1241,553.6 1242,553.1 1243,553.0 1244,554.2 1245,554.5 1246,553.8 1247,554.8 1248,555.0 1249,554.6 1250,555.6 1251,555.6 1252,556.1 1253,557.6 1254,557.4 1255,556.5 1256,553.1 1257,550.3 1258,549.2 1259,549.6 1260,548.0 1261,548.2 1262,547.6 1263,547.7 1264,547.7 1265,549.7 1266,548.1 1267,548.3 1268,546.5 1269,547.7 1270,548.4 1271,548.1 1272,549.6 1273,549.1 1274,549.9 1275,549.4 1276,549.4 1277,550.9 1278,551.1 1279,551.4 1280,551.0 1281,552.5 1282,552.9 1283,552.8 1284,553.1 1285,552.3 1286,551.5 1287,550.6 1288,550.1 1289,550.5 1290,549.3 1291,549.1 1292,549.3 1293,549.3 1294,549.4 1295,547.6 1296,547.9 1297,546.8 1298,545.5 1299,546.3 1300,546.1 1301,546.0 1302,545.8 1303,545.0 1304,544.6 1305,544.4 1306,544.5 1307,544.2 1308,543.4 1309,544.5 1310,544.9 1311,546.4 1312,546.4 1313,547.3 1314,548.7 1315,549.8 1316,550.0 1317,550.8 1318,551.3 1319,549.8 1320,549.0 1321,548.9 1322,548.2 1323,546.6 1324,546.2 1325,545.7 1326,546.2 1327,545.7 1328,544.2 1329,543.0 1330,542.8 1331,544.1 1332,542.6 1333,543.9 1334,545.2 1335,545.3 1336,546.0 1337,545.7 1338,543.4 1339,542.6 1340,540.4 1341,540.4 1342,539.3 1343,537.5 1344,536.9 1345,537.1 1346,536.9 1347,538.5 1348,537.4 1349,540.7 1350,539.9 1351,540.3 1352,539.1 1353,538.1 1354,538.4 1355,538.4 1356,538.2 1357,539.4 1358,538.1 1359,538.6 1360,537.7 1361,537.7 1362,538.4 1363,539.1 1364,538.5 1365,539.3 1366,537.9 1367,537.5 1368,538.0 1369,537.2 1370,538.2 1371,537.7 1372,536.8 1373,535.4 1374,535.9 1375,535.0 1376,533.7 1377,532.9 1378,533.2 1379,531.9 1380,531.0 1381,531.2 1382,531.0 1383,532.3 1384,532.0 1385,533.4 1386,532.3 1387,534.8 1388,534.6 1389,534.5 1390,534.3 1391,535.7 1392,535.8 1393,535.1 1394,533.2 1395,530.6 1396,528.7 1397,526.2 1398,525.1 1399,526.1 1400,524.0 1401,524.8 1402,524.4 1403,524.5 1404,522.8 1405,523.0 1406,521.6 1407,522.6 1408,522.4 1409,521.4 1410,521.9 1411,521.3 1412,518.2 1413,517.9 1414,518.4 1415,518.0 1416,516.7 1417,516.8 1418,517.1 1419,517.7 1420,515.7 1421,516.5 1422,518.5 1423,517.2 1424,516.6 1425,516.1 1426,515.4 1427,515.2 1428,514.7 1429,513.1 1430,513.3 1431,510.0 1432,509.8 1433,509.3 1434,509.5 1435,508.2 1436,508.5 1437,508.1 1438,507.3 1439,507.7 1440,508.5 1441,510.4 1442,509.9 1443,509.7 1444,511.9 1445,510.8 1446,512.7 1447,511.8 1448,511.8 1449,510.4 1450,510.3 1451,508.4 1452,507.5 1453,505.1 1454,505.6 1455,506.1 1456,505.9 1457,503.8 1458,503.3 1459,505.0 1460,506.5 1461,507.9 1462,507.4 1463,504.7 1464,502.4 1465,499.9 1466,497.9 1467,498.3 1468,498.3 1469,498.4 1470,499.1 1471,501.8 1472,502.8 1473,502.9 1474,502.0 1475,501.0 1476,501.7 1477,501.4 1478,499.3 1479,497.9 1480,497.3 1481,497.9 1482,496.9 1483,495.7 1484,493.5 1485,492.5 1486,494.5 1487,495.5 1488,497.8 1489,499.7 1490,500.3 1491,500.4 1492,502.5 1493,503.6 1494,505.3 1495,505.8 1496,505.1 1497,505.4 1498,502.7 1499,501.3 1500,501.2 1501,499.5 1502,499.4 1503,497.9 1504,498.0 1505,496.8 1506,495.8 1507,494.7 1508,493.3 1509,493.3 1510,493.1 1511,492.8 1512,491.2 1513,489.3 1514,487.7 1515,489.2 1516,487.0 1517,483.3 1518,482.2 1519,483.5 1520,484.3 1521,485.9 1522,486.7 1523,489.1 1524,489.1 1525,489.5 1526,490.2 1527,491.3 1528,492.4 1529,493.5 1530,495.6 1531,494.8 1532,494.7 1533,494.1 1534,493.9 1535,492.4 1536,491.2 1537,490.6 1538,489.3 1539,488.9 1540,490.1 1541,489.2 1542,491.1 1543,493.0 1544,494.7 1545,492.4 1546,490.5 1547,490.2 1548,489.1 1549,486.4 1550,486.9 1551,485.6 1552,483.8 1553,483.0 1554,483.6 1555,482.6 1556,481.0 1557,479.9 1558,481.1 1559,481.6 1560,484.5 1561,484.1 1562,483.8 1563,483.7 1564,482.5 1565,482.7 1566,480.8 1567,479.4 1568,478.0 1569,476.9 1570,475.0 1571,474.5 1572,473.1 1573,470.9 1574,469.7 1575,469.3 1576,471.8 1577,471.8 1578,472.7 1579,472.9 1580,472.2 1581,470.5 1582,468.8 1583,468.4 1584,468.1 1585,465.4 1586,464.1 1587,464.0 1588,463.7 1589,464.9 1590,465.2 1591,465.3 1592,465.9 1593,465.5 1594,465.2 1595,465.3 1596,466.2 1597,466.1 1598,466.6 1599,467.9 1600,468.4 1601,468.6 1602,471.6 1603,470.6 1604,471.4 1605,470.2 1606,468.7 1607,468.7 1608,467.5 1609,465.3 1610,464.9 1611,464.2 1612,464.1 1613,463.6 1614,461.4 1615,460.9 1616,460.2 1617,458.8 1618,459.1 1619,457.8 1620,456.8 1621,455.7 1622,454.6 1623,453.4 1624,454.6 1625,453.2 1626,453.7 1627,453.7 1628,454.0 1629,453.9 1630,454.1 1631,453.8 1632,454.8 1633,454.0 1634,455.1 1635,453.9 1636,455.0 1637,456.0 1638,455.2 1639,455.1 1640,456.3 1641,456.7 1642,456.0 1643,458.1 1644,456.0 1645,457.7 1646,458.9 1647,459.0 1648,460.2 1649,458.8 1650,458.6 1651,459.6 1652,461.5 1653,460.0 1654,461.3 1655,460.5 1656,461.8 1657,460.3 1658,459.8 1659,458.7 1660,458.4 1661,456.6 1662,457.6 1663,456.8 1664,456.2 1665,454.2 1666,453.1 1667,453.8 1668,453.0 1669,452.1 1670,453.7 1671,451.4 1672,450.9 1673,452.3 1674,451.2 1675,451.2 1676,450.4 1677,450.2 1678,451.4 1679,451.8 1680,452.1 1681,451.4 1682,452.2 1683,453.2 1684,455.4 1685,450.3 1686,444.8 1687,440.7 1688,440.8 1689,442.5 1690,444.9 1691,446.1 1692,448.2 1693,449.4 1694,450.2 1695,449.8 1696,447.1 1697,445.7 1698,442.7 1699,439.6 1700,438.4 1701,435.3 1702,433.3 1703,431.6 1704,430.8 1705,432.1 1706,433.5 1707,434.2 1708,434.8 1709,432.8 1710,434.0 1711,434.6 1712,434.6 1713,434.5 1714,434.2 1715,433.2 1716,433.4 1717,431.8 1718,430.9 1719,429.7 1720,428.3 1721,427.6 1722,427.2 1723,428.3 1724,428.3 1725,429.1 1726,430.2 1727,430.4 1728,432.4 1729,433.3 1730,431.4 1731,433.4 1732,432.1 1733,433.4 1734,434.4 1735,435.9 1736,435.6 1737,435.1 1738,437.3 1739,436.3 1740,434.3 1741,432.3 1742,432.0 1743,430.0 1744,429.0 1745,426.4 1746,426.3 1747,424.9 1748,423.0 1749,424.0 1750,425.1 1751,426.8 1752,428.3 1753,427.5 1754,427.6 1755,426.4 1756,426.3 1757,424.2 1758,423.5 1759,422.0 1760,421.6 1761,423.9 1762,424.1 1763,425.7 1764,428.8 1765,430.9 1766,431.1 1767,428.3 1768,427.7 1769,425.7"/>
<clipPath id="bc"><use href="#pk"/></clipPath><g stroke="#f4d4d4" stroke-width="1" clip-path="url(#bc)"><line x1="311.5" y1="138" x2="311.5" y2="782"/><line x1="473.5" y1="138" x2="473.5" y2="782"/><line x1="635.5" y1="138" x2="635.5" y2="782"/><line x1="797.5" y1="138" x2="797.5" y2="782"/><line x1="959.5" y1="138" x2="959.5" y2="782"/><line x1="1121.5" y1="138" x2="1121.5" y2="782"/><line x1="1283.5" y1="138" x2="1283.5" y2="782"/><line x1="1445.5" y1="138" x2="1445.5" y2="782"/><line x1="1607.5" y1="138" x2="1607.5" y2="782"/><line x1="149" y1="733.5" x2="1768" y2="733.5"/><line x1="149" y1="684.5" x2="1768" y2="684.5"/><line x1="149" y1="634.5" x2="1768" y2="634.5"/><line x1="149" y1="585.5" x2="1768" y2="585.5"/><line x1="149" y1="535.5" x2="1768" y2="535.5"/><line x1="149" y1="485.5" x2="1768" y2="485.5"/><line x1="149" y1="436.5" x2="1768" y2="436.5"/><line x1="149" y1="386.5" x2="1768" y2="386.5"/><line x1="149" y1="337.5" x2="1768" y2="337.5"/><line x1="149" y1="287.5" x2="1768" y2="287.5"/><line x1="149" y1="237.5" x2="1768" y2="237.5"/><line x1="149" y1="188.5" x2="1768" y2="188.5"/></g>
<g font-size="12.3" fill="#404040"><text x="144.8" y="788.5" text-anchor="end">0.4</text><text x="1773" y="788.5" text-anchor="start">0.4</text><text x="144.8" y="738.5" text-anchor="end">0.5</text><text x="1773" y="738.5" text-anchor="start">0.5</text><text x="144.8" y="689.5" text-anchor="end">0.6</text><text x="1773" y="689.5" text-anchor="start">0.6</text><text x="144.8" y="639.5" text-anchor="end">0.7</text><text x="1773" y="639.5" text-anchor="start">0.7</text><text x="144.8" y="590.5" text-anchor="end">0.8</text><text x="1773" y="590.5" text-anchor="start">0.8</text><text x="144.8" y="540.5" text-anchor="end">0.9</text><text x="1773" y="540.5" text-anchor="start">0.9</text><text x="144.8" y="490.5" text-anchor="end">1.0</text><text x="1773" y="490.5" text-anchor="start">1.0</text><text x="144.8" y="441.5" text-anchor="end">1.1</text><text x="1773" y="441.5" text-anchor="start">1.1</text><text x="144.8" y="391.5" text-anchor="end">1.2</text><text x="1773" y="391.5" text-anchor="start">1.2</text><text x="144.8" y="342.5" text-anchor="end">1.3</text><text x="1773" y="342.5" text-anchor="start">1.3</text><text x="144.8" y="292.5" text-anchor="end">1.4</text><text x="1773" y="292.5" text-anchor="start">1.4</text><text x="144.8" y="242.5" text-anchor="end">1.5</text><text x="1773" y="242.5" text-anchor="start">1.5</text><text x="144.8" y="193.5" text-anchor="end">1.6</text><text x="1773" y="193.5" text-anchor="start">1.6</text><text x="150.5" y="803.8" text-anchor="middle">0</text><text x="311.5" y="803.8" text-anchor="middle">1</text><text x="473.5" y="803.8" text-anchor="middle">2</text><text x="635.5" y="803.8" text-anchor="middle">3</text><text x="797.5" y="803.8" text-anchor="middle">4</text><text x="959.5" y="803.8" text-anchor="middle">5</text><text x="1121.5" y="803.8" text-anchor="middle">6</text><text x="1283.5" y="803.8" text-anchor="middle">7</text><text x="1445.5" y="803.8" text-anchor="middle">8</text><text x="1607.5" y="803.8" text-anchor="middle">9</text><text x="1768.5" y="803.8" text-anchor="middle">10</text></g>
<text x="957.5" y="829" text-anchor="middle" font-size="15" fill="#404040">Time (yr)</text>
<text transform="translate(116,459) rotate(-90)" text-anchor="middle" font-size="15" fill="#404040">Value (M$)</text>
</svg>
<!-- watermark -->
<div class="abs" style="left:1597.5px;top:803px;font-size:19.8px;color:#cbcbcb;white-space:nowrap;">Activate Windows</div>
<div class="abs" style="left:1597px;top:828.5px;font-size:14.9px;color:#cbcbcb;white-space:nowrap;">Go to Settings to activate Windows.</div>
<!-- taskbar strip -->
<div class="abs" style="left:0;top:888px;width:48px;height:8px;background:#a7b6c9;"></div>
<div class="abs" style="left:392px;top:888px;width:1213px;height:8px;background:linear-gradient(90deg,#1a70ea 0.00%,#0a3cc0 13.93%,#3a8af0 14.01%,#4a90f0 17.56%,#a8bcee 17.64%,#c4ccf0 30.75%,#1a5ae0 30.83%,#0a3ab0 35.45%,#1a50d0 41.22%,#0a2a90 46.17%,#102a80 50.12%,#0a1040 58.37%,#1a4ad0 66.61%,#2a8ef8 77.33%,#0a1a70 87.22%,#1a40b0 96.29%,#2050c0 100.00%);"></div>
<div class="abs" style="left:1605px;top:888px;width:307px;height:8px;background:#a9bdd6;overflow:hidden;"><div class="abs" style="left:203px;top:5px;font-size:12px;color:#111;white-space:nowrap;">10:57 AM</div></div>
<div class="abs" style="left:1912px;top:888px;width:1px;height:8px;background:#555;"></div>
</body></html>
